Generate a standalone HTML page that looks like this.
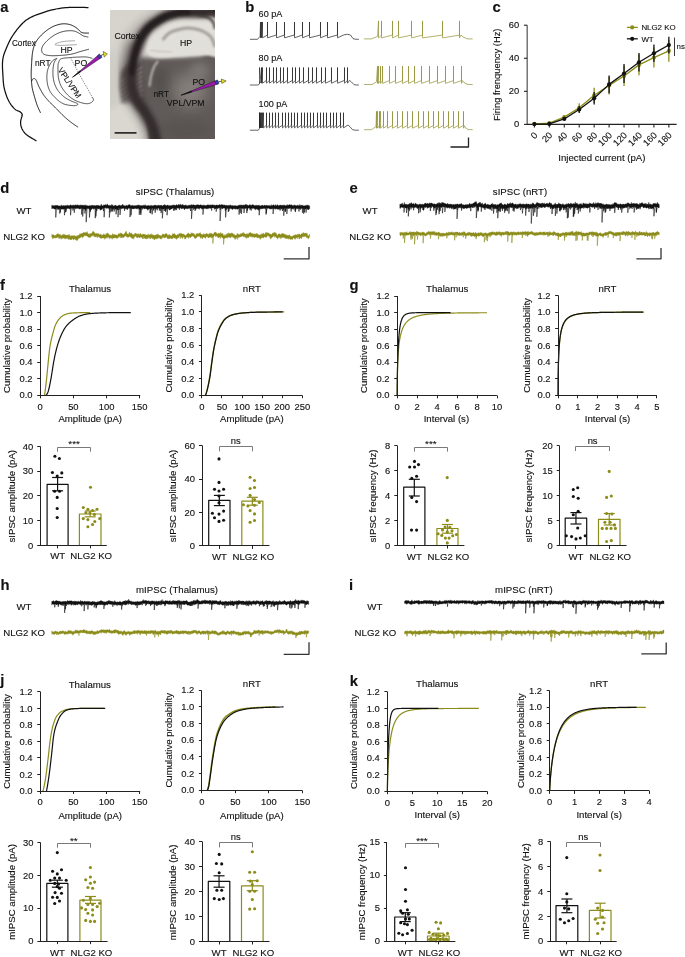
<!DOCTYPE html>
<html><head><meta charset="utf-8"><style>
html,body{margin:0;padding:0;background:#fff;}
body{width:685px;height:957px;overflow:hidden;}
svg{display:block;will-change:transform;}
svg text{font-family:"Liberation Sans", sans-serif;fill:#111;stroke:#111;stroke-width:0.12px;}
</style></head><body>
<svg width="685" height="957" viewBox="0 0 685 957">
<rect width="685" height="957" fill="#fff"/>
<text x="0.2" y="11.9" font-size="14.8" font-weight="bold" fill="#000">a</text>
<text x="245.3" y="11.9" font-size="14.8" font-weight="bold" fill="#000">b</text>
<text x="492.6" y="11.8" font-size="14.8" font-weight="bold" fill="#000">c</text>
<text x="0.3" y="192.9" font-size="14.8" font-weight="bold" fill="#000">d</text>
<text x="349.4" y="192.9" font-size="14.8" font-weight="bold" fill="#000">e</text>
<text x="0" y="290" font-size="14.8" font-weight="bold" fill="#000">f</text>
<text x="349.6" y="289.6" font-size="14.8" font-weight="bold" fill="#000">g</text>
<text x="0.5" y="590.4" font-size="14.8" font-weight="bold" fill="#000">h</text>
<text x="349" y="590.4" font-size="14.8" font-weight="bold" fill="#000">i</text>
<text x="0.2" y="685.2" font-size="14.8" font-weight="bold" fill="#000">j</text>
<text x="349.8" y="686" font-size="14.8" font-weight="bold" fill="#000">k</text>
<path d="M88.5 7.6 L87.85 7.58 L87.05 7.55 L86.11 7.52 L85.06 7.47 L83.91 7.43 L82.69 7.39 L81.41 7.35 L80.11 7.31 L78.8 7.29 L77.49 7.28 L76.22 7.28 L75 7.3 L73.81 7.33 L72.6 7.36 L71.38 7.39 L70.16 7.43 L68.92 7.47 L67.67 7.53 L66.41 7.6 L65.14 7.7 L63.87 7.81 L62.59 7.94 L61.3 8.11 L60 8.3 L58.7 8.52 L57.38 8.75 L56.06 9 L54.74 9.27 L53.4 9.56 L52.06 9.88 L50.7 10.21 L49.34 10.57 L47.97 10.96 L46.59 11.38 L45.2 11.82 L43.8 12.3 L42.37 12.79 L40.91 13.3 L39.42 13.82 L37.9 14.36 L36.38 14.92 L34.86 15.52 L33.35 16.15 L31.86 16.83 L30.4 17.56 L28.98 18.35 L27.61 19.19 L26.3 20.1 L25.03 21.09 L23.79 22.16 L22.57 23.3 L21.38 24.51 L20.22 25.76 L19.09 27.05 L18 28.37 L16.94 29.7 L15.92 31.05 L14.94 32.38 L14 33.7 L13.1 35 L12.24 36.3 L11.43 37.64 L10.65 39.01 L9.91 40.4 L9.21 41.79 L8.54 43.17 L7.92 44.55 L7.32 45.89 L6.76 47.2 L6.24 48.46 L5.75 49.67 L5.3 50.8 L4.89 51.85 L4.52 52.82 L4.2 53.72 L3.91 54.57 L3.66 55.39 L3.44 56.18 L3.25 56.97 L3.09 57.76 L2.94 58.57 L2.82 59.43 L2.7 60.33 L2.6 61.3 L2.52 62.33 L2.46 63.41 L2.44 64.52 L2.44 65.66 L2.46 66.82 L2.5 67.99 L2.55 69.18 L2.61 70.37 L2.68 71.55 L2.76 72.72 L2.83 73.87 L2.9 75 L2.96 76.11 L3.02 77.21 L3.08 78.31 L3.15 79.4 L3.22 80.49 L3.3 81.58 L3.4 82.65 L3.51 83.73 L3.64 84.8 L3.8 85.87 L3.98 86.94 L4.2 88 L4.45 89.07 L4.72 90.16 L5.02 91.26 L5.34 92.36 L5.69 93.45 L6.05 94.54 L6.43 95.61 L6.82 96.66 L7.23 97.67 L7.64 98.66 L8.07 99.6 L8.5 100.5 L8.95 101.36 L9.42 102.2 L9.91 103.02 L10.43 103.81 L10.95 104.57 L11.48 105.3 L12.02 106 L12.55 106.66 L13.08 107.28 L13.6 107.87 L14.11 108.41 L14.6 108.9 L15.08 109.33 L15.58 109.7 L16.07 110.01 L16.57 110.28 L17.06 110.5 L17.54 110.7 L18.01 110.88 L18.46 111.04 L18.89 111.21 L19.29 111.39 L19.66 111.58 L20 111.8 L20.31 112.03 L20.59 112.26 L20.85 112.48 L21.09 112.7 L21.3 112.92 L21.49 113.14 L21.67 113.37 L21.81 113.6 L21.94 113.83 L22.05 114.08 L22.14 114.33 L22.2 114.6 L22.23 114.88 L22.23 115.17 L22.19 115.47 L22.12 115.77 L22.03 116.08 L21.93 116.4 L21.82 116.72 L21.7 117.05 L21.58 117.38 L21.47 117.72 L21.38 118.06 L21.3 118.4 L21.23 118.74 L21.15 119.08 L21.06 119.43 L20.98 119.77 L20.89 120.12 L20.81 120.47 L20.74 120.84 L20.68 121.21 L20.63 121.59 L20.6 121.98 L20.59 122.38 L20.6 122.8 L20.63 123.23 L20.67 123.68 L20.71 124.15 L20.77 124.63 L20.84 125.11 L20.93 125.61 L21.04 126.11 L21.16 126.61 L21.31 127.11 L21.48 127.61 L21.68 128.11 L21.9 128.6 L22.14 129.09 L22.39 129.57 L22.65 130.05 L22.92 130.54 L23.22 131.02 L23.54 131.51 L23.9 131.99 L24.29 132.49 L24.72 132.98 L25.2 133.48 L25.72 133.99 L26.3 134.5 L26.98 135.04 L27.78 135.62 L28.68 136.24 L29.65 136.86 L30.66 137.49 L31.68 138.12 L32.68 138.72 L33.64 139.29 L34.53 139.82 L35.32 140.29 L35.99 140.68 L36.5 141" fill="none" stroke="#111" stroke-width="1.25" stroke-linejoin="round"/>
<path d="M89 33.1 L88.65 33.08 L88.19 33.08 L87.66 33.09 L87.06 33.09 L86.41 33.1 L85.73 33.09 L85.03 33.06 L84.33 33.02 L83.64 32.95 L82.97 32.84 L82.36 32.69 L81.8 32.5 L81.3 32.25 L80.82 31.95 L80.37 31.6 L79.94 31.21 L79.52 30.8 L79.11 30.37 L78.7 29.93 L78.29 29.49 L77.87 29.05 L77.44 28.64 L76.98 28.25 L76.5 27.9 L76 27.57 L75.49 27.24 L74.97 26.92 L74.44 26.61 L73.91 26.3 L73.36 26.01 L72.81 25.72 L72.24 25.46 L71.67 25.21 L71.09 24.98 L70.5 24.78 L69.9 24.6 L69.29 24.44 L68.67 24.29 L68.04 24.16 L67.41 24.05 L66.76 23.95 L66.11 23.88 L65.44 23.82 L64.77 23.79 L64.09 23.78 L63.4 23.79 L62.7 23.83 L62 23.9 L61.28 24 L60.54 24.12 L59.78 24.28 L59.01 24.46 L58.23 24.66 L57.45 24.88 L56.67 25.13 L55.89 25.39 L55.12 25.67 L54.36 25.97 L53.62 26.28 L52.9 26.6 L52.2 26.94 L51.5 27.31 L50.81 27.69 L50.13 28.1 L49.46 28.52 L48.79 28.96 L48.14 29.41 L47.49 29.87 L46.86 30.34 L46.23 30.82 L45.61 31.31 L45 31.8 L44.4 32.3 L43.79 32.82 L43.2 33.35 L42.6 33.9 L42.02 34.45 L41.45 35.01 L40.89 35.58 L40.35 36.15 L39.83 36.72 L39.33 37.28 L38.85 37.85 L38.4 38.4 L37.97 38.95 L37.57 39.48 L37.19 40.02 L36.83 40.55 L36.49 41.08 L36.16 41.62 L35.85 42.16 L35.56 42.7 L35.28 43.26 L35.01 43.82 L34.75 44.4 L34.5 45 L34.26 45.6 L34.04 46.21 L33.84 46.82 L33.65 47.44 L33.48 48.07 L33.31 48.71 L33.16 49.36 L33.01 50.03 L32.88 50.71 L32.75 51.42 L32.62 52.15 L32.5 52.9 L32.38 53.69 L32.28 54.51 L32.19 55.37 L32.1 56.26 L32.02 57.16 L31.95 58.07 L31.88 58.99 L31.82 59.9 L31.76 60.81 L31.71 61.7 L31.65 62.56 L31.6 63.4 L31.55 64.22 L31.5 65.03 L31.45 65.83 L31.41 66.63 L31.37 67.42 L31.33 68.19 L31.3 68.96 L31.27 69.71 L31.25 70.46 L31.23 71.19 L31.21 71.9 L31.2 72.6 L31.19 73.28 L31.19 73.93 L31.19 74.56 L31.2 75.17 L31.21 75.77 L31.22 76.36 L31.24 76.94 L31.26 77.53 L31.29 78.13 L31.32 78.74 L31.36 79.36 L31.4 80 L31.45 80.66 L31.49 81.33 L31.54 82 L31.6 82.68 L31.65 83.37 L31.72 84.06 L31.79 84.76 L31.87 85.46 L31.96 86.17 L32.06 86.88 L32.17 87.59 L32.3 88.3 L32.44 89.02 L32.6 89.74 L32.76 90.46 L32.94 91.2 L33.13 91.93 L33.33 92.67 L33.54 93.41 L33.74 94.15 L33.96 94.89 L34.17 95.63 L34.39 96.37 L34.6 97.1 L34.81 97.84 L35.03 98.59 L35.26 99.34 L35.48 100.1 L35.71 100.85 L35.94 101.61 L36.18 102.35 L36.42 103.09 L36.66 103.82 L36.9 104.53 L37.15 105.23 L37.4 105.9 L37.66 106.57 L37.95 107.26 L38.25 107.96 L38.56 108.66 L38.87 109.34 L39.17 110 L39.47 110.63 L39.76 111.22 L40.02 111.76 L40.25 112.25 L40.44 112.66 L40.6 113" fill="none" stroke="#111" stroke-width="1" stroke-linejoin="round"/>
<path d="M31.6 81.5 L31.65 81.38 L31.7 81.23 L31.76 81.05 L31.82 80.84 L31.9 80.62 L31.98 80.39 L32.06 80.15 L32.16 79.93 L32.26 79.71 L32.36 79.51 L32.48 79.34 L32.6 79.2 L32.73 79.08 L32.88 78.97 L33.04 78.87 L33.2 78.78 L33.38 78.7 L33.56 78.64 L33.74 78.59 L33.92 78.55 L34.1 78.53 L34.27 78.54 L34.44 78.56 L34.6 78.6 L34.75 78.66 L34.89 78.72 L35.02 78.79 L35.14 78.87 L35.27 78.97 L35.39 79.09 L35.52 79.24 L35.66 79.42 L35.8 79.63 L35.95 79.88 L36.12 80.17 L36.3 80.5 L36.49 80.89 L36.7 81.33 L36.91 81.81 L37.12 82.34 L37.35 82.9 L37.58 83.49 L37.82 84.09 L38.08 84.71 L38.34 85.34 L38.62 85.97 L38.9 86.59 L39.2 87.2 L39.51 87.81 L39.83 88.44 L40.17 89.08 L40.51 89.73 L40.87 90.39 L41.24 91.06 L41.61 91.72 L42 92.38 L42.39 93.03 L42.79 93.67 L43.19 94.29 L43.6 94.9 L44.02 95.49 L44.44 96.06 L44.87 96.63 L45.31 97.19 L45.76 97.73 L46.21 98.28 L46.67 98.81 L47.14 99.35 L47.62 99.88 L48.11 100.42 L48.6 100.96 L49.1 101.5 L49.61 102.04 L50.12 102.58 L50.65 103.1 L51.18 103.63 L51.72 104.15 L52.27 104.68 L52.82 105.21 L53.39 105.75 L53.95 106.29 L54.53 106.85 L55.11 107.42 L55.7 108 L56.3 108.6 L56.91 109.23 L57.53 109.87 L58.16 110.52 L58.79 111.18 L59.43 111.84 L60.08 112.51 L60.72 113.17 L61.37 113.82 L62.02 114.47 L62.66 115.09 L63.3 115.7 L63.94 116.29 L64.58 116.88 L65.23 117.47 L65.88 118.04 L66.53 118.61 L67.18 119.18 L67.83 119.73 L68.47 120.27 L69.11 120.8 L69.75 121.31 L70.38 121.81 L71 122.3 L71.64 122.78 L72.3 123.27 L72.98 123.76 L73.67 124.24 L74.36 124.71 L75.03 125.16 L75.68 125.59 L76.28 125.99 L76.84 126.36 L77.33 126.69 L77.76 126.97 L78.1 127.2" fill="none" stroke="#111" stroke-width="0.9" stroke-linejoin="round"/>
<path d="M88.3 37.1 L88.05 37.04 L87.74 36.98 L87.37 36.91 L86.96 36.84 L86.51 36.75 L86.03 36.66 L85.54 36.55 L85.03 36.43 L84.53 36.3 L84.03 36.15 L83.55 35.98 L83.1 35.8 L82.66 35.59 L82.22 35.35 L81.78 35.08 L81.34 34.79 L80.89 34.49 L80.45 34.17 L80.01 33.86 L79.56 33.56 L79.12 33.26 L78.68 32.98 L78.24 32.73 L77.8 32.5 L77.37 32.3 L76.96 32.1 L76.56 31.91 L76.16 31.74 L75.76 31.57 L75.36 31.42 L74.95 31.28 L74.53 31.15 L74.09 31.04 L73.62 30.94 L73.13 30.86 L72.6 30.8 L72.04 30.75 L71.44 30.72 L70.81 30.7 L70.17 30.7 L69.5 30.71 L68.82 30.73 L68.13 30.77 L67.43 30.83 L66.74 30.9 L66.05 30.98 L65.37 31.08 L64.7 31.2 L64.04 31.33 L63.38 31.47 L62.73 31.63 L62.07 31.8 L61.41 31.99 L60.75 32.19 L60.09 32.41 L59.43 32.65 L58.78 32.91 L58.12 33.18 L57.46 33.48 L56.8 33.8 L56.14 34.14 L55.46 34.51 L54.78 34.91 L54.09 35.32 L53.41 35.76 L52.72 36.21 L52.05 36.67 L51.39 37.14 L50.73 37.63 L50.1 38.12 L49.49 38.61 L48.9 39.1 L48.32 39.6 L47.75 40.13 L47.18 40.67 L46.61 41.22 L46.07 41.78 L45.54 42.35 L45.03 42.92 L44.55 43.48 L44.1 44.03 L43.69 44.57 L43.32 45.1 L43 45.6 L42.72 46.09 L42.47 46.57 L42.26 47.05 L42.08 47.52 L41.93 47.98 L41.82 48.44 L41.73 48.88 L41.67 49.31 L41.64 49.73 L41.64 50.13 L41.66 50.53 L41.7 50.9 L41.77 51.26 L41.85 51.61 L41.97 51.95 L42.11 52.28 L42.27 52.6 L42.47 52.9 L42.69 53.19 L42.95 53.46 L43.24 53.72 L43.56 53.96 L43.91 54.19 L44.3 54.4 L44.72 54.59 L45.18 54.76 L45.67 54.92 L46.19 55.06 L46.74 55.19 L47.32 55.3 L47.93 55.4 L48.58 55.48 L49.26 55.55 L49.97 55.61 L50.72 55.66 L51.5 55.7 L52.34 55.72 L53.24 55.73 L54.21 55.72 L55.22 55.7 L56.26 55.66 L57.32 55.61 L58.4 55.56 L59.46 55.49 L60.5 55.42 L61.52 55.35 L62.49 55.28 L63.4 55.2 L64.27 55.12 L65.11 55.04 L65.92 54.96 L66.72 54.87 L67.5 54.77 L68.26 54.67 L69 54.56 L69.74 54.44 L70.46 54.32 L71.18 54.19 L71.89 54.05 L72.6 53.9 L73.3 53.74 L73.97 53.56 L74.63 53.38 L75.27 53.18 L75.91 52.97 L76.54 52.76 L77.16 52.55 L77.79 52.33 L78.43 52.12 L79.07 51.91 L79.73 51.7 L80.4 51.5 L81.12 51.3 L81.89 51.08 L82.7 50.86 L83.53 50.64 L84.36 50.42 L85.19 50.2 L85.99 49.99 L86.74 49.79 L87.44 49.61 L88.06 49.45 L88.58 49.31 L89 49.2" fill="none" stroke="#111" stroke-width="0.8" stroke-linejoin="round"/>
<path d="M75 40.8 L74.56 40.82 L73.99 40.83 L73.33 40.85 L72.58 40.87 L71.77 40.9 L70.91 40.92 L70.04 40.96 L69.16 40.99 L68.29 41.03 L67.47 41.08 L66.69 41.14 L66 41.2 L65.36 41.27 L64.74 41.34 L64.13 41.43 L63.54 41.51 L62.97 41.6 L62.41 41.7 L61.87 41.8 L61.35 41.91 L60.84 42.03 L60.34 42.14 L59.87 42.27 L59.4 42.4 L58.93 42.54 L58.44 42.7 L57.94 42.87 L57.44 43.04 L56.97 43.23 L56.51 43.41 L56.1 43.6 L55.73 43.78 L55.43 43.95 L55.2 44.12 L55.05 44.27 L55 44.4 L55.05 44.52 L55.18 44.64 L55.38 44.75 L55.66 44.86 L56 44.95 L56.39 45.04 L56.82 45.13 L57.3 45.2 L57.8 45.26 L58.32 45.32 L58.86 45.37 L59.4 45.4 L59.97 45.42 L60.59 45.43 L61.25 45.42 L61.94 45.4 L62.67 45.38 L63.41 45.34 L64.18 45.31 L64.95 45.26 L65.72 45.22 L66.49 45.18 L67.26 45.14 L68 45.1 L68.76 45.06 L69.58 45.02 L70.43 44.98 L71.3 44.93 L72.18 44.88 L73.04 44.83 L73.87 44.78 L74.65 44.74 L75.37 44.69 L76.02 44.66 L76.56 44.62 L77 44.6" fill="none" stroke="#666" stroke-width="0.6" stroke-linejoin="round"/>
<path d="M56.8 58.3 L56.59 58.42 L56.32 58.55 L56 58.7 L55.64 58.86 L55.25 59.04 L54.84 59.24 L54.42 59.47 L53.99 59.72 L53.57 59.99 L53.16 60.3 L52.76 60.63 L52.4 61 L52.05 61.4 L51.69 61.85 L51.34 62.33 L50.98 62.84 L50.62 63.38 L50.27 63.94 L49.94 64.51 L49.61 65.1 L49.3 65.7 L49.01 66.3 L48.74 66.9 L48.5 67.5 L48.28 68.1 L48.07 68.7 L47.89 69.31 L47.71 69.94 L47.56 70.57 L47.42 71.21 L47.29 71.85 L47.19 72.51 L47.09 73.17 L47.01 73.84 L46.95 74.52 L46.9 75.2 L46.87 75.9 L46.85 76.62 L46.85 77.35 L46.86 78.1 L46.89 78.85 L46.93 79.61 L46.99 80.36 L47.06 81.11 L47.15 81.86 L47.25 82.59 L47.37 83.31 L47.5 84 L47.64 84.68 L47.8 85.35 L47.96 86.01 L48.14 86.66 L48.33 87.3 L48.54 87.94 L48.77 88.56 L49.01 89.19 L49.28 89.8 L49.56 90.41 L49.87 91.01 L50.2 91.6 L50.56 92.19 L50.94 92.78 L51.35 93.36 L51.79 93.93 L52.24 94.5 L52.71 95.06 L53.2 95.61 L53.69 96.16 L54.19 96.69 L54.69 97.2 L55.2 97.71 L55.7 98.2 L56.21 98.68 L56.72 99.16 L57.25 99.63 L57.79 100.1 L58.33 100.55 L58.88 100.99 L59.43 101.41 L59.99 101.81 L60.54 102.2 L61.1 102.56 L61.65 102.89 L62.2 103.2 L62.75 103.48 L63.29 103.73 L63.84 103.95 L64.39 104.15 L64.94 104.33 L65.49 104.49 L66.04 104.63 L66.6 104.76 L67.15 104.88 L67.7 104.99 L68.25 105.1 L68.8 105.2 L69.36 105.29 L69.95 105.38 L70.55 105.45 L71.16 105.51 L71.76 105.56 L72.36 105.6 L72.95 105.63 L73.51 105.64 L74.05 105.65 L74.54 105.64 L75 105.63 L75.4 105.6 L75.76 105.56 L76.09 105.49 L76.38 105.41 L76.65 105.32 L76.89 105.22 L77.09 105.11 L77.27 104.99 L77.43 104.87 L77.56 104.74 L77.66 104.62 L77.74 104.51 L77.8 104.4 L77.83 104.3 L77.85 104.2 L77.83 104.1 L77.8 104.01 L77.73 103.91 L77.64 103.81 L77.53 103.71 L77.38 103.6 L77.21 103.49 L77 103.37 L76.77 103.24 L76.5 103.1 L76.19 102.95 L75.84 102.8 L75.45 102.65 L75.02 102.49 L74.56 102.33 L74.08 102.16 L73.58 101.98 L73.07 101.79 L72.55 101.58 L72.03 101.37 L71.51 101.14 L71 100.9 L70.49 100.65 L69.96 100.39 L69.42 100.13 L68.88 99.86 L68.32 99.57 L67.76 99.28 L67.2 98.96 L66.63 98.63 L66.07 98.28 L65.51 97.91 L64.95 97.52 L64.4 97.1 L63.85 96.65 L63.28 96.19 L62.71 95.7 L62.13 95.19 L61.55 94.65 L60.98 94.11 L60.42 93.54 L59.87 92.96 L59.34 92.36 L58.83 91.75 L58.35 91.13 L57.9 90.5 L57.48 89.85 L57.07 89.19 L56.68 88.5 L56.3 87.8 L55.95 87.08 L55.61 86.36 L55.29 85.62 L55 84.87 L54.72 84.11 L54.46 83.34 L54.22 82.57 L54 81.8 L53.8 81.01 L53.63 80.21 L53.48 79.38 L53.34 78.55 L53.23 77.7 L53.14 76.86 L53.06 76.01 L53 75.16 L52.95 74.33 L52.92 73.5 L52.91 72.69 L52.9 71.9 L52.91 71.12 L52.94 70.32 L52.98 69.53 L53.04 68.74 L53.12 67.95 L53.21 67.18 L53.31 66.43 L53.43 65.7 L53.55 64.99 L53.69 64.32 L53.84 63.69 L54 63.1 L54.18 62.54 L54.4 62.01 L54.65 61.51 L54.91 61.03 L55.19 60.57 L55.47 60.15 L55.75 59.76 L56.01 59.4 L56.26 59.07 L56.48 58.78 L56.66 58.52 L56.8 58.3" fill="none" stroke="#111" stroke-width="0.75" stroke-linejoin="round"/>
<path d="M92.5 58.4 L92.21 58.33 L91.85 58.23 L91.44 58.11 L90.99 57.98 L90.48 57.84 L89.94 57.69 L89.37 57.55 L88.78 57.41 L88.17 57.28 L87.55 57.16 L86.92 57.07 L86.3 57 L85.66 56.95 L85 56.92 L84.3 56.91 L83.59 56.9 L82.86 56.91 L82.11 56.92 L81.36 56.95 L80.6 56.97 L79.84 57 L79.08 57.04 L78.34 57.07 L77.6 57.1 L76.87 57.13 L76.13 57.17 L75.38 57.2 L74.63 57.24 L73.88 57.29 L73.14 57.34 L72.39 57.39 L71.66 57.44 L70.92 57.5 L70.2 57.57 L69.5 57.63 L68.8 57.7 L68.1 57.77 L67.39 57.83 L66.67 57.89 L65.95 57.95 L65.24 58.02 L64.54 58.09 L63.87 58.17 L63.23 58.26 L62.62 58.37 L62.06 58.49 L61.55 58.63 L61.1 58.8 L60.71 58.99 L60.39 59.2 L60.11 59.42 L59.88 59.67 L59.68 59.92 L59.52 60.19 L59.38 60.48 L59.26 60.77 L59.14 61.07 L59.03 61.37 L58.92 61.68 L58.8 62 L58.68 62.3 L58.57 62.59 L58.47 62.86 L58.38 63.13 L58.3 63.41 L58.23 63.71 L58.17 64.04 L58.12 64.4 L58.08 64.81 L58.05 65.27 L58.02 65.8 L58 66.4 L57.98 67.09 L57.97 67.88 L57.96 68.74 L57.96 69.66 L57.97 70.63 L57.98 71.63 L58.01 72.65 L58.05 73.66 L58.11 74.66 L58.19 75.62 L58.28 76.54 L58.4 77.4 L58.54 78.21 L58.68 78.99 L58.85 79.76 L59.03 80.51 L59.22 81.24 L59.43 81.96 L59.66 82.66 L59.91 83.36 L60.17 84.05 L60.46 84.73 L60.77 85.42 L61.1 86.1 L61.46 86.78 L61.84 87.47 L62.25 88.15 L62.69 88.82 L63.14 89.49 L63.61 90.15 L64.09 90.8 L64.58 91.43 L65.08 92.05 L65.59 92.66 L66.09 93.24 L66.6 93.8 L67.11 94.34 L67.62 94.87 L68.15 95.38 L68.68 95.88 L69.22 96.36 L69.76 96.82 L70.32 97.28 L70.88 97.71 L71.45 98.13 L72.02 98.54 L72.61 98.93 L73.2 99.3 L73.81 99.66 L74.43 100 L75.08 100.33 L75.73 100.64 L76.39 100.94 L77.06 101.22 L77.72 101.49 L78.38 101.74 L79.03 101.98 L79.67 102.2 L80.3 102.41 L80.9 102.6 L81.49 102.78 L82.08 102.94 L82.66 103.09 L83.23 103.23 L83.8 103.35 L84.36 103.45 L84.9 103.54 L85.43 103.61 L85.95 103.66 L86.45 103.69 L86.94 103.71 L87.4 103.7 L87.85 103.67 L88.29 103.61 L88.71 103.54 L89.12 103.44 L89.52 103.32 L89.9 103.19 L90.26 103.04 L90.61 102.89 L90.94 102.72 L91.25 102.55 L91.53 102.38 L91.8 102.2 L92.05 102.01 L92.27 101.81 L92.49 101.59 L92.68 101.36 L92.85 101.12 L93.01 100.88 L93.14 100.64 L93.26 100.39 L93.35 100.15 L93.42 99.92 L93.47 99.7 L93.5 99.5 L93.49 99.3 L93.44 99.1 L93.36 98.9 L93.24 98.71 L93.11 98.52 L92.96 98.33 L92.8 98.16 L92.65 97.99 L92.5 97.84 L92.38 97.71 L92.27 97.59 L92.2 97.5" fill="none" stroke="#111" stroke-width="0.75" stroke-linejoin="round"/>
<path d="M71 58.5 L71.24 58.95 L71.53 59.5 L71.86 60.15 L72.24 60.87 L72.65 61.66 L73.09 62.5 L73.56 63.38 L74.04 64.3 L74.53 65.23 L75.02 66.16 L75.51 67.09 L76 68 L76.49 68.92 L77.01 69.88 L77.54 70.88 L78.09 71.91 L78.65 72.95 L79.22 74 L79.79 75.05 L80.35 76.09 L80.91 77.12 L81.46 78.12 L81.99 79.08 L82.5 80 L83 80.88 L83.48 81.74 L83.96 82.57 L84.43 83.38 L84.9 84.17 L85.36 84.95 L85.81 85.72 L86.26 86.48 L86.7 87.23 L87.14 87.99 L87.57 88.74 L88 89.5 L88.44 90.29 L88.9 91.11 L89.36 91.96 L89.83 92.81 L90.29 93.66 L90.74 94.49 L91.18 95.29 L91.58 96.04 L91.95 96.74 L92.29 97.35 L92.57 97.88 L92.8 98.3" fill="none" stroke="#222" stroke-width="0.7" stroke-linejoin="round" stroke-dasharray="0.9 1.1"/>
<text transform="translate(12 46.3) scale(0.98 1)" font-size="8.3">Cortex</text>
<text transform="translate(60.5 53.4) scale(1.05 1)" font-size="8.3">HP</text>
<text transform="translate(35 65.9)" font-size="8.3">nRT</text>
<text transform="translate(74.6 65.8) scale(1.05 1)" font-size="8.3">PO</text>
<text transform="translate(57.4 70) rotate(56) scale(0.97 1)" font-size="8.3">VPL/VPM</text>
<path d="M72.6 77.2 L99.75 58.81 L97.45 55.79 Z" fill="#9c1aae" stroke="#111" stroke-width="0.45" stroke-linejoin="round"/>
<path d="M72.6 77.2 L80.75 71.68 L80.05 70.78 Z" fill="#111" stroke="#111" stroke-width="0.4"/>
<rect x="98.31" y="54.35" width="2.8" height="4.2" rx="0.6" fill="#3a3ab4" stroke="#111" stroke-width="0.45" transform="rotate(-37.43 99.71 56.45)"/>
<line x1="100.82" y1="55.6" x2="103.7" y2="54.25" stroke="#111" stroke-width="0.7"/>
<path d="M103.2 51.4 L107.4 54 L104.2 57.1 Z" fill="#ece418" stroke="#111" stroke-width="0.45" stroke-linejoin="round"/>
<defs><clipPath id="phc"><rect x="109.9" y="9.9" width="105.1" height="129.1"/></clipPath><filter id="b1" x="-20%" y="-20%" width="140%" height="140%"><feGaussianBlur stdDeviation="1"/></filter><filter id="b2" x="-20%" y="-20%" width="140%" height="140%"><feGaussianBlur stdDeviation="2.2"/></filter><filter id="b4" x="-30%" y="-30%" width="160%" height="160%"><feGaussianBlur stdDeviation="4"/></filter><filter id="b7" x="-40%" y="-40%" width="180%" height="180%"><feGaussianBlur stdDeviation="7"/></filter></defs>
<g clip-path="url(#phc)">
<rect x="109.9" y="9.9" width="105.1" height="129.1" fill="#d7d4ce"/>
<path d="M173.6 16 L173.08 16.12 L172.42 16.25 L171.63 16.41 L170.76 16.59 L169.8 16.79 L168.8 17 L167.77 17.23 L166.73 17.46 L165.72 17.71 L164.74 17.97 L163.83 18.23 L163 18.5 L162.25 18.77 L161.53 19.05 L160.85 19.34 L160.2 19.63 L159.56 19.93 L158.93 20.25 L158.31 20.58 L157.68 20.93 L157.04 21.29 L156.39 21.67 L155.71 22.07 L155 22.5 L154.25 22.95 L153.47 23.43 L152.66 23.94 L151.83 24.46 L151 25.01 L150.16 25.56 L149.32 26.13 L148.5 26.7 L147.7 27.28 L146.93 27.86 L146.19 28.43 L145.5 29 L144.85 29.56 L144.23 30.11 L143.63 30.67 L143.06 31.22 L142.5 31.78 L141.97 32.34 L141.45 32.92 L140.94 33.5 L140.45 34.1 L139.96 34.71 L139.48 35.35 L139 36 L138.53 36.68 L138.06 37.37 L137.61 38.09 L137.17 38.81 L136.73 39.56 L136.31 40.31 L135.9 41.08 L135.5 41.85 L135.11 42.63 L134.73 43.42 L134.36 44.21 L134 45 L133.65 45.8 L133.32 46.6 L133 47.41 L132.69 48.22 L132.38 49.05 L132.09 49.88 L131.81 50.71 L131.54 51.56 L131.27 52.41 L131.01 53.26 L130.75 54.13 L130.5 55 L130.25 55.88 L130.01 56.76 L129.78 57.66 L129.56 58.56 L129.34 59.46 L129.12 60.38 L128.92 61.3 L128.72 62.22 L128.53 63.16 L128.35 64.1 L128.17 65.05 L128 66 L127.83 66.96 L127.67 67.94 L127.51 68.93 L127.35 69.93 L127.2 70.93 L127.06 71.94 L126.93 72.95 L126.81 73.96 L126.71 74.98 L126.62 75.99 L126.55 77 L126.5 78 L126.47 79.04 L126.47 80.14 L126.5 81.28 L126.54 82.44 L126.59 83.61 L126.66 84.75 L126.73 85.85 L126.8 86.89 L126.86 87.84 L126.92 88.69 L126.97 89.42 L127 90" fill="none" stroke="#8f8785" stroke-width="20" opacity="0.5" filter="url(#b4)"/>
<path d="M140 57 L140.78 57.06 L141.76 57.15 L142.92 57.25 L144.22 57.37 L145.63 57.5 L147.12 57.62 L148.66 57.75 L150.22 57.87 L151.77 57.98 L153.26 58.08 L154.69 58.15 L156 58.2 L157.23 58.22 L158.44 58.23 L159.62 58.22 L160.78 58.19 L161.92 58.16 L163.06 58.11 L164.2 58.06 L165.33 58.01 L166.48 57.95 L167.63 57.9 L168.8 57.85 L170 57.8 L171.21 57.76 L172.44 57.72 L173.68 57.67 L174.93 57.63 L176.18 57.58 L177.44 57.54 L178.7 57.49 L179.96 57.44 L181.23 57.38 L182.49 57.33 L183.75 57.26 L185 57.2 L186.23 57.13 L187.42 57.05 L188.59 56.96 L189.74 56.87 L190.9 56.77 L192.06 56.68 L193.25 56.58 L194.48 56.49 L195.76 56.4 L197.09 56.33 L198.5 56.26 L200 56.2 L201.66 55.87 L203.52 55.08 L205.52 53.98 L207.63 52.73 L209.78 51.49 L211.94 50.41 L214.04 49.65 L216.04 49.36 L217.88 49.69 L219.53 50.8 L220.91 52.86 L222 56 L223 60.63 L224.11 66.82 L225.23 74.27 L226.3 82.65 L227.21 91.66 L227.88 100.99 L228.22 110.31 L228.15 119.33 L227.58 127.71 L226.42 135.16 L224.59 141.36 L222 146 L218.31 149.23 L213.4 151.51 L207.52 152.94 L200.89 153.63 L193.76 153.7 L186.38 153.25 L178.97 152.4 L171.78 151.26 L165.05 149.94 L159.01 148.55 L153.92 147.2 L150 146 L147.2 144.74 L145.2 143.16 L143.91 141.3 L143.19 139.22 L142.92 136.96 L143 134.56 L143.3 132.08 L143.7 129.56 L144.09 127.04 L144.35 124.58 L144.36 122.21 L144 120 L143.38 117.88 L142.7 115.78 L141.98 113.68 L141.22 111.59 L140.45 109.51 L139.69 107.44 L138.94 105.37 L138.22 103.3 L137.55 101.23 L136.95 99.16 L136.43 97.08 L136 95 L135.67 92.84 L135.42 90.54 L135.23 88.16 L135.11 85.74 L135.04 83.32 L135 80.94 L134.99 78.64 L135 76.48 L135.02 74.49 L135.03 72.72 L135.03 71.21 L135 70 Z" fill="#605a58" filter="url(#b2)"/>
<ellipse cx="190" cy="90" rx="17" ry="17" fill="#948e8a" opacity="0.7" filter="url(#b7)"/>
<ellipse cx="200" cy="70" rx="10" ry="8" fill="#8c8683" opacity="0.6" filter="url(#b4)"/>
<ellipse cx="185" cy="130" rx="26" ry="10" fill="#575150" opacity="0.7" filter="url(#b4)"/>
<ellipse cx="160" cy="80" rx="7" ry="14" fill="#4e4847" opacity="0.6" filter="url(#b4)"/>
<path d="M121 72 L121.34 71.59 L121.75 71.06 L122.23 70.42 L122.78 69.7 L123.37 68.93 L124 68.12 L124.66 67.31 L125.33 66.52 L126.02 65.77 L126.69 65.08 L127.36 64.48 L128 64 L128.63 63.59 L129.29 63.2 L129.95 62.84 L130.63 62.52 L131.31 62.23 L132 62 L132.69 61.82 L133.37 61.7 L134.05 61.66 L134.71 61.69 L135.37 61.8 L136 62 L136.63 62.28 L137.27 62.62 L137.91 63.02 L138.56 63.48 L139.19 64.02 L139.81 64.62 L140.42 65.31 L141 66.07 L141.55 66.92 L142.08 67.86 L142.56 68.88 L143 70 L143.4 71.25 L143.75 72.66 L144.08 74.2 L144.37 75.85 L144.63 77.58 L144.88 79.38 L145.09 81.2 L145.3 83.04 L145.48 84.86 L145.66 86.64 L145.83 88.37 L146 90 L146.16 91.59 L146.31 93.19 L146.44 94.78 L146.56 96.37 L146.66 97.95 L146.75 99.5 L146.83 101.03 L146.89 102.52 L146.94 103.97 L146.97 105.37 L146.99 106.72 L147 108 L147 109.29 L147.01 110.62 L147.01 111.98 L147 113.33 L146.98 114.64 L146.94 115.88 L146.87 117.01 L146.78 118 L146.65 118.83 L146.48 119.46 L146.26 119.86 L146 120 L145.68 119.82 L145.32 119.33 L144.92 118.57 L144.48 117.59 L144.01 116.45 L143.5 115.19 L142.97 113.86 L142.41 112.52 L141.83 111.21 L141.23 109.99 L140.62 108.9 L140 108 L139.36 107.21 L138.67 106.44 L137.96 105.69 L137.22 104.96 L136.46 104.27 L135.69 103.62 L134.9 103.03 L134.11 102.48 L133.32 102 L132.53 101.59 L131.76 101.25 L131 101 L130.23 100.91 L129.43 101.01 L128.61 101.27 L127.78 101.63 L126.95 102.06 L126.12 102.5 L125.32 102.92 L124.56 103.26 L123.83 103.48 L123.15 103.55 L122.54 103.4 L122 103 L121.53 102.3 L121.12 101.31 L120.76 100.09 L120.44 98.7 L120.17 97.2 L119.94 95.62 L119.73 94.05 L119.56 92.52 L119.4 91.09 L119.26 89.83 L119.13 88.78 L119 88 Z" fill="#5a5351" filter="url(#b2)"/>
<path d="M142 67 Q131 73 121 82" stroke="#b3ada9" stroke-width="1.3" fill="none" opacity="0.65" filter="url(#b1)"/>
<path d="M142 71.6 Q131 77.6 121 86.6" stroke="#b3ada9" stroke-width="1.3" fill="none" opacity="0.65" filter="url(#b1)"/>
<path d="M142 76.2 Q131 82.2 121 91.2" stroke="#b3ada9" stroke-width="1.3" fill="none" opacity="0.65" filter="url(#b1)"/>
<path d="M142 80.8 Q131 86.8 121 95.8" stroke="#b3ada9" stroke-width="1.3" fill="none" opacity="0.65" filter="url(#b1)"/>
<path d="M142 85.4 Q131 91.4 121 100.4" stroke="#b3ada9" stroke-width="1.3" fill="none" opacity="0.65" filter="url(#b1)"/>
<path d="M142 90 Q131 96 121 105" stroke="#b3ada9" stroke-width="1.3" fill="none" opacity="0.65" filter="url(#b1)"/>
<path d="M142 94.6 Q131 100.6 121 109.6" stroke="#b3ada9" stroke-width="1.3" fill="none" opacity="0.65" filter="url(#b1)"/>
<path d="M104 106 L104.64 105.93 L105.45 105.83 L106.41 105.71 L107.49 105.58 L108.66 105.44 L109.89 105.29 L111.16 105.15 L112.42 105.02 L113.65 104.9 L114.83 104.8 L115.92 104.74 L116.9 104.7 L117.78 104.69 L118.62 104.7 L119.41 104.73 L120.17 104.77 L120.9 104.83 L121.61 104.9 L122.3 104.99 L122.99 105.09 L123.68 105.2 L124.37 105.32 L125.07 105.45 L125.8 105.6 L126.54 105.75 L127.27 105.89 L128 106.05 L128.74 106.2 L129.47 106.37 L130.2 106.56 L130.93 106.77 L131.66 107.01 L132.4 107.27 L133.13 107.57 L133.86 107.92 L134.6 108.3 L135.36 108.73 L136.14 109.21 L136.94 109.72 L137.76 110.27 L138.57 110.86 L139.38 111.46 L140.17 112.09 L140.93 112.74 L141.65 113.4 L142.33 114.06 L142.95 114.73 L143.5 115.4 L143.99 116.06 L144.41 116.72 L144.79 117.37 L145.13 118.04 L145.42 118.71 L145.69 119.41 L145.93 120.12 L146.15 120.87 L146.36 121.66 L146.57 122.49 L146.78 123.37 L147 124.3 L147.22 125.32 L147.43 126.44 L147.63 127.63 L147.82 128.89 L148 130.18 L148.16 131.49 L148.32 132.79 L148.46 134.07 L148.59 135.3 L148.71 136.46 L148.81 137.53 L148.9 138.5 L149.11 139.38 L149.54 140.22 L150.11 141.02 L150.74 141.77 L151.35 142.48 L151.88 143.14 L152.25 143.75 L152.37 144.3 L152.19 144.81 L151.61 145.26 L150.58 145.66 L149 146 L146.69 146.26 L143.59 146.43 L139.87 146.53 L135.67 146.56 L131.17 146.53 L126.51 146.47 L121.84 146.38 L117.34 146.28 L113.14 146.18 L109.42 146.09 L106.32 146.02 L104 146 Z" fill="#dad7d1" filter="url(#b1)"/>
<path d="M104 50 L104.5 50.01 L105.16 49.92 L105.94 49.75 L106.81 49.56 L107.76 49.38 L108.75 49.25 L109.75 49.22 L110.74 49.33 L111.69 49.62 L112.56 50.14 L113.34 50.92 L114 52 L114.56 53.43 L115.06 55.19 L115.52 57.22 L115.93 59.48 L116.29 61.92 L116.62 64.5 L116.92 67.16 L117.19 69.85 L117.42 72.53 L117.63 75.15 L117.83 77.65 L118 80 L118.18 82.31 L118.39 84.7 L118.61 87.16 L118.81 89.63 L118.99 92.09 L119.12 94.5 L119.2 96.83 L119.19 99.04 L119.08 101.09 L118.86 102.96 L118.5 104.61 L118 106 L117.28 107.12 L116.31 107.99 L115.16 108.64 L113.85 109.11 L112.45 109.43 L111 109.62 L109.55 109.73 L108.15 109.78 L106.84 109.8 L105.69 109.82 L104.72 109.88 L104 110 Z" fill="#cfccc6" opacity="0.85" filter="url(#b2)"/>
<path d="M148 38 L148.27 37.5 L148.58 36.85 L148.93 36.09 L149.32 35.24 L149.76 34.31 L150.23 33.34 L150.75 32.34 L151.31 31.34 L151.92 30.36 L152.57 29.43 L153.26 28.57 L154 27.8 L154.79 27.09 L155.63 26.4 L156.51 25.72 L157.44 25.07 L158.42 24.44 L159.43 23.83 L160.49 23.25 L161.58 22.7 L162.71 22.17 L163.88 21.68 L165.07 21.22 L166.3 20.8 L167.57 20.41 L168.9 20.04 L170.27 19.71 L171.69 19.4 L173.14 19.12 L174.62 18.88 L176.12 18.66 L177.65 18.48 L179.18 18.33 L180.72 18.22 L182.27 18.14 L183.8 18.1 L185.36 18.1 L186.98 18.14 L188.65 18.22 L190.34 18.34 L192.04 18.49 L193.74 18.68 L195.42 18.89 L197.07 19.13 L198.67 19.39 L200.2 19.67 L201.65 19.98 L203 20.3 L204.27 20.66 L205.47 21.07 L206.62 21.52 L207.72 22 L208.76 22.51 L209.76 23.04 L210.72 23.57 L211.64 24.1 L212.52 24.61 L213.37 25.11 L214.2 25.57 L215 26 L215.78 26.32 L216.54 26.52 L217.27 26.62 L217.96 26.66 L218.63 26.7 L219.25 26.76 L219.83 26.9 L220.37 27.14 L220.86 27.53 L221.3 28.11 L221.68 28.92 L222 30 L222.3 31.45 L222.6 33.3 L222.89 35.47 L223.15 37.86 L223.36 40.41 L223.5 43.02 L223.56 45.62 L223.52 48.11 L223.36 50.44 L223.06 52.49 L222.62 54.21 L222 55.5 L221.17 56.37 L220.13 56.93 L218.9 57.21 L217.52 57.27 L216.02 57.15 L214.44 56.89 L212.8 56.55 L211.15 56.17 L209.51 55.8 L207.91 55.48 L206.4 55.27 L205 55.2 L203.68 55.23 L202.38 55.27 L201.11 55.32 L199.85 55.38 L198.61 55.45 L197.38 55.52 L196.15 55.6 L194.93 55.68 L193.7 55.76 L192.48 55.84 L191.24 55.92 L190 56 L188.75 56.08 L187.5 56.16 L186.25 56.24 L185 56.33 L183.75 56.41 L182.5 56.5 L181.25 56.59 L180 56.67 L178.75 56.76 L177.5 56.84 L176.25 56.92 L175 57 L173.73 57.08 L172.44 57.18 L171.12 57.28 L169.8 57.39 L168.47 57.49 L167.16 57.59 L165.86 57.68 L164.59 57.75 L163.36 57.8 L162.18 57.83 L161.06 57.83 L160 57.8 L159 57.74 L158.04 57.67 L157.12 57.57 L156.23 57.46 L155.39 57.33 L154.58 57.18 L153.81 57.01 L153.08 56.81 L152.38 56.6 L151.72 56.36 L151.09 56.09 L150.5 55.8 L149.95 55.46 L149.43 55.05 L148.96 54.58 L148.52 54.08 L148.12 53.56 L147.76 53.02 L147.42 52.5 L147.12 52 L146.85 51.53 L146.61 51.11 L146.39 50.77 L146.2 50.5 Z" fill="#e1dfd9" filter="url(#b1)"/>
<path d="M162.6 40.1 L162.86 39.8 L163.17 39.41 L163.53 38.94 L163.94 38.42 L164.38 37.86 L164.86 37.27 L165.36 36.67 L165.87 36.07 L166.4 35.49 L166.94 34.94 L167.47 34.44 L168 34 L168.51 33.61 L169.02 33.25 L169.52 32.92 L170.03 32.6 L170.55 32.3 L171.09 32.02 L171.65 31.75 L172.25 31.49 L172.88 31.24 L173.57 30.99 L174.3 30.74 L175.1 30.5 L175.97 30.25 L176.9 29.98 L177.89 29.71 L178.93 29.44 L180.01 29.18 L181.12 28.93 L182.26 28.7 L183.4 28.5 L184.55 28.34 L185.68 28.21 L186.8 28.13 L187.9 28.1 L188.99 28.12 L190.1 28.18 L191.23 28.27 L192.37 28.4 L193.5 28.56 L194.64 28.75 L195.76 28.97 L196.87 29.23 L197.95 29.51 L199 29.81 L200.02 30.14 L201 30.5 L201.95 30.88 L202.89 31.29 L203.81 31.73 L204.72 32.2 L205.6 32.7 L206.46 33.22 L207.28 33.77 L208.07 34.34 L208.82 34.95 L209.53 35.57 L210.19 36.22 L210.8 36.9 L211.36 37.64 L211.87 38.49 L212.34 39.4 L212.77 40.37 L213.16 41.36 L213.51 42.35 L213.83 43.32 L214.12 44.24 L214.38 45.1 L214.61 45.86 L214.81 46.5 L215 47" fill="none" stroke="#a39e9a" stroke-width="3.0" filter="url(#b1)"/>
<path d="M150 50 L150.48 50.07 L151.06 50.17 L151.75 50.28 L152.52 50.41 L153.36 50.54 L154.25 50.69 L155.19 50.83 L156.15 50.98 L157.12 51.12 L158.1 51.26 L159.06 51.39 L160 51.5 L160.97 51.6 L162.02 51.71 L163.14 51.81 L164.3 51.91 L165.47 52 L166.62 52.09 L167.75 52.18 L168.81 52.26 L169.8 52.33 L170.67 52.4 L171.41 52.45 L172 52.5" fill="none" stroke="#c4c0bb" stroke-width="1.3" filter="url(#b1)"/>
<path d="M158 61 L157.8 61.28 L157.55 61.63 L157.25 62.03 L156.91 62.48 L156.55 62.97 L156.16 63.5 L155.77 64.05 L155.38 64.63 L155 65.22 L154.63 65.81 L154.3 66.41 L154 67 L153.73 67.6 L153.47 68.24 L153.22 68.91 L152.98 69.59 L152.75 70.29 L152.53 71 L152.31 71.71 L152.11 72.41 L151.92 73.09 L151.74 73.76 L151.56 74.4 L151.4 75 L151.25 75.57 L151.11 76.12 L150.99 76.65 L150.88 77.17 L150.78 77.67 L150.68 78.16 L150.59 78.64 L150.51 79.11 L150.43 79.58 L150.35 80.05 L150.28 80.52 L150.2 81 L150.12 81.49 L150.05 82.01 L149.97 82.54 L149.9 83.07 L149.84 83.61 L149.77 84.12 L149.72 84.62 L149.66 85.09 L149.61 85.52 L149.57 85.91 L149.53 86.24 L149.5 86.5" fill="none" stroke="#c8c3bf" stroke-width="1.8" filter="url(#b1)"/>
<path d="M226 11 L225.31 11.02 L224.42 11.05 L223.37 11.08 L222.19 11.11 L220.91 11.15 L219.56 11.19 L218.19 11.23 L216.81 11.28 L215.48 11.33 L214.21 11.38 L213.04 11.44 L212 11.5 L211.09 11.57 L210.26 11.65 L209.49 11.74 L208.78 11.83 L208.1 11.93 L207.44 12.03 L206.78 12.13 L206.11 12.22 L205.41 12.31 L204.67 12.39 L203.87 12.45 L203 12.5 L202.05 12.53 L201.05 12.55 L199.99 12.56 L198.9 12.56 L197.79 12.55 L196.65 12.53 L195.51 12.52 L194.36 12.5 L193.23 12.49 L192.12 12.48 L191.04 12.49 L190 12.5 L188.99 12.52 L188 12.53 L187.02 12.54 L186.05 12.56 L185.1 12.57 L184.15 12.59 L183.21 12.62 L182.28 12.67 L181.36 12.72 L180.44 12.8 L179.52 12.89 L178.6 13 L177.68 13.13 L176.76 13.28 L175.83 13.45 L174.91 13.63 L173.99 13.82 L173.09 14.03 L172.19 14.25 L171.31 14.48 L170.45 14.72 L169.61 14.97 L168.79 15.23 L168 15.5 L167.25 15.77 L166.53 16.05 L165.85 16.34 L165.2 16.63 L164.56 16.93 L163.93 17.25 L163.31 17.58 L162.68 17.93 L162.04 18.29 L161.39 18.67 L160.71 19.07 L160 19.5 L159.25 19.95 L158.47 20.43 L157.66 20.94 L156.83 21.46 L156 22.01 L155.16 22.56 L154.32 23.13 L153.5 23.7 L152.7 24.28 L151.93 24.86 L151.19 25.43 L150.5 26 L149.85 26.56 L149.23 27.11 L148.63 27.67 L148.06 28.22 L147.5 28.78 L146.97 29.34 L146.45 29.92 L145.94 30.5 L145.45 31.1 L144.96 31.71 L144.48 32.35 L144 33 L143.53 33.68 L143.06 34.37 L142.61 35.09 L142.17 35.81 L141.73 36.56 L141.31 37.31 L140.9 38.08 L140.5 38.85 L140.11 39.63 L139.73 40.42 L139.36 41.21 L139 42 L138.65 42.8 L138.32 43.6 L138 44.41 L137.69 45.22 L137.38 46.05 L137.09 46.88 L136.81 47.71 L136.54 48.56 L136.27 49.41 L136.01 50.26 L135.75 51.13 L135.5 52 L135.25 52.88 L135.01 53.76 L134.78 54.66 L134.56 55.56 L134.34 56.46 L134.12 57.38 L133.92 58.3 L133.72 59.22 L133.53 60.16 L133.35 61.1 L133.17 62.05 L133 63 L132.83 63.96 L132.67 64.94 L132.51 65.93 L132.35 66.93 L132.2 67.93 L132.06 68.94 L131.93 69.95 L131.81 70.96 L131.71 71.98 L131.62 72.99 L131.55 74 L131.5 75 L131.46 76 L131.43 76.99 L131.4 77.99 L131.39 78.98 L131.39 79.97 L131.41 80.96 L131.44 81.96 L131.5 82.96 L131.58 83.96 L131.69 84.97 L131.83 85.98 L132 87 L132.19 88.03 L132.41 89.06 L132.64 90.09 L132.89 91.13 L133.17 92.17 L133.47 93.21 L133.8 94.26 L134.17 95.32 L134.57 96.38 L135 97.45 L135.48 98.52 L136 99.6 L136.58 100.69 L137.23 101.77 L137.93 102.87 L138.69 103.97 L139.47 105.07 L140.28 106.18 L141.1 107.3 L141.93 108.42 L142.74 109.55 L143.53 110.69 L144.29 111.84 L145 113 L145.69 114.16 L146.37 115.32 L147.05 116.48 L147.72 117.64 L148.38 118.81 L149.03 119.99 L149.66 121.19 L150.28 122.4 L150.87 123.64 L151.44 124.9 L151.98 126.18 L152.5 127.5 L152.99 128.91 L153.48 130.45 L153.94 132.07 L154.39 133.76 L154.82 135.47 L155.22 137.16 L155.6 138.8 L155.94 140.35 L156.26 141.79 L156.55 143.06 L156.79 144.14 L157 145" fill="none" stroke="#322c2c" stroke-width="10.5" filter="url(#b2)"/>
<path d="M134 42 L133.83 42.48 L133.61 43.08 L133.35 43.77 L133.06 44.56 L132.74 45.41 L132.41 46.31 L132.06 47.26 L131.72 48.22 L131.39 49.2 L131.07 50.16 L130.77 51.1 L130.5 52 L130.25 52.88 L130.01 53.76 L129.78 54.66 L129.56 55.56 L129.34 56.46 L129.12 57.38 L128.92 58.3 L128.72 59.22 L128.53 60.16 L128.35 61.1 L128.17 62.05 L128 63 L127.83 63.96 L127.67 64.94 L127.51 65.93 L127.35 66.93 L127.2 67.93 L127.06 68.94 L126.93 69.95 L126.81 70.96 L126.71 71.98 L126.62 72.99 L126.55 74 L126.5 75 L126.46 76 L126.43 76.99 L126.4 77.99 L126.39 78.98 L126.39 79.97 L126.41 80.96 L126.44 81.96 L126.5 82.96 L126.58 83.96 L126.69 84.97 L126.83 85.98 L127 87 L127.19 88.03 L127.41 89.06 L127.64 90.09 L127.89 91.13 L128.17 92.17 L128.47 93.21 L128.8 94.26 L129.17 95.32 L129.57 96.38 L130 97.45 L130.48 98.52 L131 99.6 L131.58 100.69 L132.23 101.77 L132.93 102.87 L133.69 103.97 L134.47 105.07 L135.28 106.18 L136.1 107.3 L136.93 108.42 L137.74 109.55 L138.53 110.69 L139.29 111.84 L140 113 L140.69 114.16 L141.37 115.32 L142.05 116.48 L142.72 117.64 L143.38 118.81 L144.03 119.99 L144.66 121.19 L145.28 122.4 L145.87 123.64 L146.44 124.9 L146.98 126.18 L147.5 127.5 L147.99 128.91 L148.48 130.45 L148.94 132.07 L149.39 133.76 L149.82 135.47 L150.22 137.16 L150.6 138.8 L150.94 140.35 L151.26 141.79 L151.55 143.06 L151.79 144.14 L152 145" fill="none" stroke="#3c3636" stroke-width="8" opacity="0.6" filter="url(#b4)"/>
<path d="M190 12.5 L189.45 12.52 L188.75 12.53 L187.93 12.54 L187.01 12.56 L186.02 12.57 L184.96 12.59 L183.87 12.62 L182.76 12.67 L181.66 12.72 L180.59 12.8 L179.56 12.89 L178.6 13 L177.68 13.13 L176.76 13.28 L175.83 13.45 L174.91 13.63 L173.99 13.82 L173.09 14.03 L172.19 14.25 L171.31 14.48 L170.45 14.72 L169.61 14.97 L168.79 15.23 L168 15.5 L167.25 15.77 L166.53 16.05 L165.85 16.34 L165.2 16.63 L164.56 16.93 L163.93 17.25 L163.31 17.58 L162.68 17.93 L162.04 18.29 L161.39 18.67 L160.71 19.07 L160 19.5 L159.25 19.95 L158.47 20.43 L157.66 20.94 L156.83 21.46 L156 22.01 L155.16 22.56 L154.32 23.13 L153.5 23.7 L152.7 24.28 L151.93 24.86 L151.19 25.43 L150.5 26 L149.85 26.56 L149.23 27.11 L148.63 27.67 L148.06 28.22 L147.5 28.78 L146.97 29.34 L146.45 29.92 L145.94 30.5 L145.45 31.1 L144.96 31.71 L144.48 32.35 L144 33 L143.53 33.68 L143.06 34.37 L142.61 35.09 L142.17 35.81 L141.73 36.56 L141.31 37.31 L140.9 38.08 L140.5 38.85 L140.11 39.63 L139.73 40.42 L139.36 41.21 L139 42 L138.65 42.8 L138.32 43.6 L138 44.41 L137.69 45.22 L137.38 46.05 L137.09 46.88 L136.81 47.71 L136.54 48.56 L136.27 49.41 L136.01 50.26 L135.75 51.13 L135.5 52 L135.25 52.88 L135.01 53.76 L134.78 54.66 L134.56 55.56 L134.34 56.46 L134.12 57.38 L133.92 58.3 L133.72 59.22 L133.53 60.16 L133.35 61.1 L133.17 62.05 L133 63 L132.84 64 L132.67 65.08 L132.52 66.21 L132.37 67.37 L132.23 68.54 L132.09 69.69 L131.97 70.8 L131.85 71.85 L131.75 72.82 L131.65 73.68 L131.57 74.42 L131.5 75" fill="none" stroke="#231e1e" stroke-width="5" opacity="0.85" filter="url(#b1)"/>
<path d="M198 15 L198.44 15.09 L199.01 15.18 L199.69 15.29 L200.44 15.41 L201.26 15.54 L202.12 15.69 L203.01 15.85 L203.89 16.04 L204.75 16.24 L205.57 16.47 L206.33 16.72 L207 17 L207.62 17.31 L208.22 17.64 L208.8 17.99 L209.37 18.37 L209.92 18.77 L210.44 19.19 L210.94 19.62 L211.41 20.07 L211.85 20.54 L212.27 21.02 L212.65 21.5 L213 22 L213.31 22.54 L213.59 23.13 L213.83 23.77 L214.04 24.44 L214.22 25.13 L214.38 25.81 L214.51 26.48 L214.63 27.11 L214.73 27.7 L214.83 28.22 L214.92 28.66 L215 29" fill="none" stroke="#3a3434" stroke-width="2.4" opacity="0.85" filter="url(#b1)"/>
<path d="M205 12 L205.35 12.07 L205.8 12.14 L206.33 12.22 L206.93 12.31 L207.57 12.42 L208.25 12.53 L208.94 12.66 L209.63 12.8 L210.3 12.95 L210.93 13.12 L211.5 13.3 L212 13.5 L212.45 13.73 L212.89 14.01 L213.3 14.32 L213.7 14.65 L214.08 14.99 L214.44 15.34 L214.77 15.69 L215.07 16.02 L215.35 16.32 L215.6 16.6 L215.82 16.82 L216 17" fill="none" stroke="#3a3434" stroke-width="2.0" opacity="0.8" filter="url(#b1)"/>
</g>
<text transform="translate(114.4 39) scale(1.05 1)" font-size="8.3">Cortex</text>
<text transform="translate(180 46) scale(1.05 1)" font-size="8.3">HP</text>
<text transform="translate(192.4 84.6) scale(1.05 1)" font-size="8.3">PO</text>
<text transform="translate(153.5 97.4)" font-size="8.3">nRT</text>
<text transform="translate(166.8 105.6) scale(1.05 1)" font-size="8.3">VPL/VPM</text>
<line x1="114.6" y1="132.9" x2="136.5" y2="132.9" stroke="#111" stroke-width="1.5"/>
<path d="M181.2 95.2 L216.24 84.59 L214.96 81.01 Z" fill="#9c1aae" stroke="#111" stroke-width="0.45" stroke-linejoin="round"/>
<path d="M181.2 95.2 L191.71 92.02 L191.33 90.94 Z" fill="#111" stroke="#111" stroke-width="0.4"/>
<rect x="215.52" y="80.23" width="2.8" height="4.2" rx="0.6" fill="#3a3ab4" stroke="#111" stroke-width="0.45" transform="rotate(-19.82 216.92 82.33)"/>
<line x1="218.23" y1="81.85" x2="221.6" y2="81.25" stroke="#111" stroke-width="0.7"/>
<path d="M221.4 79 L226.2 81 L221.8 83.5 Z" fill="#ece418" stroke="#111" stroke-width="0.45" stroke-linejoin="round"/>
<text transform="translate(258.6 16.6) scale(1.07 1)" font-size="8.5">60 pA</text>
<text transform="translate(258.6 60.9) scale(1.07 1)" font-size="8.5">80 pA</text>
<text transform="translate(258.6 106.9) scale(1.07 1)" font-size="8.5">100 pA</text>
<path d="M249.9 39.3 L257.6 39.3 L260.1 36.2 L260.5 22 L260.52 37.8 L261.5 22 L261.52 37.8 L262.5 22 L262.52 37.8 L267.48 35 L267.5 22 L267.52 37.8 L276.48 35 L276.5 22 L276.52 37.8 L284.48 35 L284.5 22 L284.52 37.8 L294.48 35 L294.5 22 L294.52 37.8 L302.48 35 L302.5 22 L302.52 37.8 L309.48 35 L309.5 22 L309.52 37.8 L320.48 35 L320.5 22 L320.52 37.8 L327.48 35 L327.5 22 L327.52 37.8 L337.48 35 L337.5 22 L337.52 37.8 L344 34.8 L347.5 34.3 L350.5 35 L353 38.6 L355 39.2 L358.9 39.3" fill="none" stroke="#222" stroke-width="0.7" stroke-linejoin="round"/>
<path d="M249.9 85 L258.4 85 L260.9 81.6 L259.5 67.5 L259.52 83.2 L261.48 80.4 L261.5 67.5 L261.52 83.2 L262.5 67.5 L262.52 83.2 L266.48 80.4 L266.5 67.5 L266.52 83.2 L269.48 80.4 L269.5 67.5 L269.52 83.2 L273.48 80.4 L273.5 67.5 L273.52 83.2 L276.48 80.4 L276.5 67.5 L276.52 83.2 L280.48 80.4 L280.5 67.5 L280.52 83.2 L283.48 80.4 L283.5 67.5 L283.52 83.2 L287.48 80.4 L287.5 67.5 L287.52 83.2 L292.48 80.4 L292.5 67.5 L292.52 83.2 L295.48 80.4 L295.5 67.5 L295.52 83.2 L299.48 80.4 L299.5 67.5 L299.52 83.2 L303.48 80.4 L303.5 67.5 L303.52 83.2 L308.48 80.4 L308.5 67.5 L308.52 83.2 L312.48 80.4 L312.5 67.5 L312.52 83.2 L316.48 80.4 L316.5 67.5 L316.52 83.2 L321.48 80.4 L321.5 67.5 L321.52 83.2 L325.48 80.4 L325.5 67.5 L325.52 83.2 L331.48 80.4 L331.5 67.5 L331.52 83.2 L337.48 80.4 L337.5 67.5 L337.52 83.2 L344.48 80.4 L344.5 67.5 L344.52 83.2 L347.48 80.4 L347.5 67.5 L347.52 83.2 L349.5 80.4 L351.5 82 L354 84.6 L356 85 L358.9 85" fill="none" stroke="#222" stroke-width="0.7" stroke-linejoin="round"/>
<path d="M249.9 130.2 L258.3 130.2 L260.8 126.3 L259.5 112.7 L259.52 127.9 L259.5 112.7 L259.52 127.9 L260.5 112.7 L260.52 127.9 L261.5 112.7 L261.52 127.9 L262.5 112.7 L262.52 127.9 L263.5 112.7 L263.52 127.9 L266.48 125.1 L266.5 112.7 L266.52 127.9 L269.48 125.1 L269.5 112.7 L269.52 127.9 L272.48 125.1 L272.5 112.7 L272.52 127.9 L275.48 125.1 L275.5 112.7 L275.52 127.9 L278.48 125.1 L278.5 112.7 L278.52 127.9 L282.48 125.1 L282.5 112.7 L282.52 127.9 L285.48 125.1 L285.5 112.7 L285.52 127.9 L288.48 125.1 L288.5 112.7 L288.52 127.9 L291.48 125.1 L291.5 112.7 L291.52 127.9 L294.48 125.1 L294.5 112.7 L294.52 127.9 L297.48 125.1 L297.5 112.7 L297.52 127.9 L301.48 125.1 L301.5 112.7 L301.52 127.9 L304.48 125.1 L304.5 112.7 L304.52 127.9 L307.48 125.1 L307.5 112.7 L307.52 127.9 L310.48 125.1 L310.5 112.7 L310.52 127.9 L313.48 125.1 L313.5 112.7 L313.52 127.9 L317.48 125.1 L317.5 112.7 L317.52 127.9 L320.48 125.1 L320.5 112.7 L320.52 127.9 L323.48 125.1 L323.5 112.7 L323.52 127.9 L326.48 125.1 L326.5 112.7 L326.52 127.9 L330.48 125.1 L330.5 112.7 L330.52 127.9 L333.48 125.1 L333.5 112.7 L333.52 127.9 L336.48 125.1 L336.5 112.7 L336.52 127.9 L340.48 125.1 L340.5 112.7 L340.52 127.9 L343.48 125.1 L343.5 112.7 L343.52 127.9 L348 125 L350 126.8 L352.5 129.6 L355 130.2 L358.9 130.2" fill="none" stroke="#222" stroke-width="0.7" stroke-linejoin="round"/>
<path d="M364.1 38.9 L371.6 38.9 L377.6 36.3 L378.5 20.9 L378.52 37.9 L381.48 35.1 L381.5 20.9 L381.52 37.9 L392.48 35.1 L392.5 20.9 L392.52 37.9 L398.48 35.1 L398.5 20.9 L398.52 37.9 L411.48 35.1 L411.5 20.9 L411.52 37.9 L422.48 35.1 L422.5 20.9 L422.52 37.9 L442.48 35.1 L442.5 20.9 L442.52 37.9 L459.48 35.1 L459.5 20.9 L459.52 37.9 L461 35 L463 36.8 L466.5 38.6 L468 38.9 L472.7 38.9" fill="none" stroke="#8f8f30" stroke-width="0.7" stroke-linejoin="round"/>
<path d="M364.1 84.5 L372 84.5 L376.5 81.8 L377.5 66.1 L377.52 83.4 L378.5 66.1 L378.52 83.4 L380.48 80.6 L380.5 66.1 L380.52 83.4 L382.48 80.6 L382.5 66.1 L382.52 83.4 L389.48 80.6 L389.5 66.1 L389.52 83.4 L395.48 80.6 L395.5 66.1 L395.52 83.4 L402.48 80.6 L402.5 66.1 L402.52 83.4 L408.48 80.6 L408.5 66.1 L408.52 83.4 L414.48 80.6 L414.5 66.1 L414.52 83.4 L421.48 80.6 L421.5 66.1 L421.52 83.4 L429.48 80.6 L429.5 66.1 L429.52 83.4 L437.48 80.6 L437.5 66.1 L437.52 83.4 L445.48 80.6 L445.5 66.1 L445.52 83.4 L453.48 80.6 L453.5 66.1 L453.52 83.4 L461.48 80.6 L461.5 66.1 L461.52 83.4 L462.5 80.6 L464 82.6 L467 84.3 L469 84.5 L472.7 84.5" fill="none" stroke="#8f8f30" stroke-width="0.7" stroke-linejoin="round"/>
<path d="M364.1 129.7 L371.5 129.7 L376 126.6 L376.5 111.3 L376.52 128.2 L377.5 111.3 L377.52 128.2 L379.48 125.4 L379.5 111.3 L379.52 128.2 L380.5 111.3 L380.52 128.2 L383.48 125.4 L383.5 111.3 L383.52 128.2 L387.48 125.4 L387.5 111.3 L387.52 128.2 L392.48 125.4 L392.5 111.3 L392.52 128.2 L397.48 125.4 L397.5 111.3 L397.52 128.2 L402.48 125.4 L402.5 111.3 L402.52 128.2 L407.48 125.4 L407.5 111.3 L407.52 128.2 L412.48 125.4 L412.5 111.3 L412.52 128.2 L418.48 125.4 L418.5 111.3 L418.52 128.2 L423.48 125.4 L423.5 111.3 L423.52 128.2 L428.48 125.4 L428.5 111.3 L428.52 128.2 L433.48 125.4 L433.5 111.3 L433.52 128.2 L438.48 125.4 L438.5 111.3 L438.52 128.2 L443.48 125.4 L443.5 111.3 L443.52 128.2 L448.48 125.4 L448.5 111.3 L448.52 128.2 L453.48 125.4 L453.5 111.3 L453.52 128.2 L458.48 125.4 L458.5 111.3 L458.52 128.2 L463.48 125.4 L463.5 111.3 L463.52 128.2 L464.5 125.8 L465.5 127.8 L468 129.5 L470 129.7 L472.7 129.7" fill="none" stroke="#8f8f30" stroke-width="0.7" stroke-linejoin="round"/>
<path d="M450.5 147 L468.5 147 L468.5 137.5" fill="none" stroke="#222" stroke-width="1.3" stroke-linejoin="round"/>
<line x1="527.2" y1="25.2" x2="527.2" y2="124.9" stroke="#6a6a6a" stroke-width="1.4"/>
<line x1="526.7" y1="124.4" x2="676.6" y2="124.4" stroke="#222222" stroke-width="1.1"/>
<line x1="524" y1="124.4" x2="527.2" y2="124.4" stroke="#222222" stroke-width="1.1"/>
<text transform="translate(519.2 127.1)" font-size="9.4" text-anchor="end">0</text>
<line x1="524" y1="91.33" x2="527.2" y2="91.33" stroke="#222222" stroke-width="1.1"/>
<text transform="translate(519.2 94.03)" font-size="9.4" text-anchor="end">20</text>
<line x1="524" y1="58.27" x2="527.2" y2="58.27" stroke="#222222" stroke-width="1.1"/>
<text transform="translate(519.2 60.97)" font-size="9.4" text-anchor="end">40</text>
<line x1="524" y1="25.2" x2="527.2" y2="25.2" stroke="#222222" stroke-width="1.1"/>
<text transform="translate(519.2 27.9)" font-size="9.4" text-anchor="end">60</text>
<line x1="534.4" y1="124.4" x2="534.4" y2="127.6" stroke="#222222" stroke-width="1.1"/>
<text transform="translate(538 135.8) rotate(-45)" font-size="9.2" text-anchor="end">0</text>
<line x1="549.34" y1="124.4" x2="549.34" y2="127.6" stroke="#222222" stroke-width="1.1"/>
<text transform="translate(552.94 135.8) rotate(-45)" font-size="9.2" text-anchor="end">20</text>
<line x1="564.28" y1="124.4" x2="564.28" y2="127.6" stroke="#222222" stroke-width="1.1"/>
<text transform="translate(567.88 135.8) rotate(-45)" font-size="9.2" text-anchor="end">40</text>
<line x1="579.22" y1="124.4" x2="579.22" y2="127.6" stroke="#222222" stroke-width="1.1"/>
<text transform="translate(582.82 135.8) rotate(-45)" font-size="9.2" text-anchor="end">60</text>
<line x1="594.16" y1="124.4" x2="594.16" y2="127.6" stroke="#222222" stroke-width="1.1"/>
<text transform="translate(597.76 135.8) rotate(-45)" font-size="9.2" text-anchor="end">80</text>
<line x1="609.1" y1="124.4" x2="609.1" y2="127.6" stroke="#222222" stroke-width="1.1"/>
<text transform="translate(612.7 135.8) rotate(-45)" font-size="9.2" text-anchor="end">100</text>
<line x1="624.04" y1="124.4" x2="624.04" y2="127.6" stroke="#222222" stroke-width="1.1"/>
<text transform="translate(627.64 135.8) rotate(-45)" font-size="9.2" text-anchor="end">120</text>
<line x1="638.98" y1="124.4" x2="638.98" y2="127.6" stroke="#222222" stroke-width="1.1"/>
<text transform="translate(642.58 135.8) rotate(-45)" font-size="9.2" text-anchor="end">140</text>
<line x1="653.92" y1="124.4" x2="653.92" y2="127.6" stroke="#222222" stroke-width="1.1"/>
<text transform="translate(657.52 135.8) rotate(-45)" font-size="9.2" text-anchor="end">160</text>
<line x1="668.86" y1="124.4" x2="668.86" y2="127.6" stroke="#222222" stroke-width="1.1"/>
<text transform="translate(672.46 135.8) rotate(-45)" font-size="9.2" text-anchor="end">180</text>
<text transform="translate(601.9 161) scale(1.07 1)" font-size="9" text-anchor="middle">Injected current (pA)</text>
<text transform="translate(500.2 74.8) rotate(-90) scale(1.04 1)" font-size="9" text-anchor="middle">Firing frenquency (Hz)</text>
<path d="M534.4 123.9 L549.34 123.08 L564.28 117.13 L579.22 107.87 L594.16 95.3 L609.1 85.55 L624.04 75.96 L638.98 64.88 L653.92 57.61 L668.86 50.83" fill="none" stroke="#8c8c1a" stroke-width="1.3" stroke-linejoin="round"/>
<line x1="534.4" y1="123.5" x2="534.4" y2="124.3" stroke="#8c8c1a" stroke-width="1.3"/>
<line x1="549.34" y1="122.48" x2="549.34" y2="123.68" stroke="#8c8c1a" stroke-width="1.3"/>
<line x1="564.28" y1="115.53" x2="564.28" y2="118.73" stroke="#8c8c1a" stroke-width="1.3"/>
<line x1="579.22" y1="103.37" x2="579.22" y2="112.37" stroke="#8c8c1a" stroke-width="1.3"/>
<line x1="594.16" y1="87.8" x2="594.16" y2="102.8" stroke="#8c8c1a" stroke-width="1.3"/>
<line x1="609.1" y1="76.65" x2="609.1" y2="94.45" stroke="#8c8c1a" stroke-width="1.3"/>
<line x1="624.04" y1="65.96" x2="624.04" y2="85.96" stroke="#8c8c1a" stroke-width="1.3"/>
<line x1="638.98" y1="54.48" x2="638.98" y2="75.28" stroke="#8c8c1a" stroke-width="1.3"/>
<line x1="653.92" y1="47.61" x2="653.92" y2="67.61" stroke="#8c8c1a" stroke-width="1.3"/>
<line x1="668.86" y1="39.93" x2="668.86" y2="61.73" stroke="#8c8c1a" stroke-width="1.3"/>
<circle cx="534.4" cy="123.9" r="2.1" fill="#8c8c1a"/>
<circle cx="549.34" cy="123.08" r="2.1" fill="#8c8c1a"/>
<circle cx="564.28" cy="117.13" r="2.1" fill="#8c8c1a"/>
<circle cx="579.22" cy="107.87" r="2.1" fill="#8c8c1a"/>
<circle cx="594.16" cy="95.3" r="2.1" fill="#8c8c1a"/>
<circle cx="609.1" cy="85.55" r="2.1" fill="#8c8c1a"/>
<circle cx="624.04" cy="75.96" r="2.1" fill="#8c8c1a"/>
<circle cx="638.98" cy="64.88" r="2.1" fill="#8c8c1a"/>
<circle cx="653.92" cy="57.61" r="2.1" fill="#8c8c1a"/>
<circle cx="668.86" cy="50.83" r="2.1" fill="#8c8c1a"/>
<path d="M534.4 124.07 L549.34 123.9 L564.28 118.94 L579.22 109.52 L594.16 98.28 L609.1 84.39 L624.04 73.48 L638.98 62.23 L653.92 53.31 L668.86 45.04" fill="none" stroke="#111" stroke-width="1.3" stroke-linejoin="round"/>
<line x1="534.4" y1="123.77" x2="534.4" y2="124.37" stroke="#111" stroke-width="1.3"/>
<line x1="549.34" y1="123.5" x2="549.34" y2="124.3" stroke="#111" stroke-width="1.3"/>
<line x1="564.28" y1="117.54" x2="564.28" y2="120.34" stroke="#111" stroke-width="1.3"/>
<line x1="579.22" y1="106.12" x2="579.22" y2="112.92" stroke="#111" stroke-width="1.3"/>
<line x1="594.16" y1="92.08" x2="594.16" y2="104.48" stroke="#111" stroke-width="1.3"/>
<line x1="609.1" y1="75.59" x2="609.1" y2="93.19" stroke="#111" stroke-width="1.3"/>
<line x1="624.04" y1="63.88" x2="624.04" y2="83.08" stroke="#111" stroke-width="1.3"/>
<line x1="638.98" y1="53.03" x2="638.98" y2="71.43" stroke="#111" stroke-width="1.3"/>
<line x1="653.92" y1="44.61" x2="653.92" y2="62.01" stroke="#111" stroke-width="1.3"/>
<line x1="668.86" y1="36.64" x2="668.86" y2="53.44" stroke="#111" stroke-width="1.3"/>
<circle cx="534.4" cy="124.07" r="2.1" fill="#111"/>
<circle cx="549.34" cy="123.9" r="2.1" fill="#111"/>
<circle cx="564.28" cy="118.94" r="2.1" fill="#111"/>
<circle cx="579.22" cy="109.52" r="2.1" fill="#111"/>
<circle cx="594.16" cy="98.28" r="2.1" fill="#111"/>
<circle cx="609.1" cy="84.39" r="2.1" fill="#111"/>
<circle cx="624.04" cy="73.48" r="2.1" fill="#111"/>
<circle cx="638.98" cy="62.23" r="2.1" fill="#111"/>
<circle cx="653.92" cy="53.31" r="2.1" fill="#111"/>
<circle cx="668.86" cy="45.04" r="2.1" fill="#111"/>
<line x1="626.9" y1="27.4" x2="637.8" y2="27.4" stroke="#8c8c1a" stroke-width="1.3"/>
<circle cx="632.2" cy="27.4" r="2.1" fill="#8c8c1a"/>
<text transform="translate(641.4 30.4)" font-size="7.9">NLG2 KO</text>
<line x1="626.9" y1="38.8" x2="637.8" y2="38.8" stroke="#111" stroke-width="1.3"/>
<circle cx="632.2" cy="38.8" r="2.1" fill="#111"/>
<text transform="translate(641.4 41.8)" font-size="7.9">WT</text>
<line x1="674.5" y1="37.6" x2="674.5" y2="56" stroke="#222" stroke-width="0.9"/>
<text transform="translate(676.6 48.8)" font-size="7.9">ns</text>
<text transform="translate(175 195.1) scale(1.07 1)" font-size="9" text-anchor="middle">sIPSC (Thalamus)</text>
<text transform="translate(16.4 213.5) scale(1.07 1)" font-size="9">WT</text>
<text transform="translate(3.3 239.6) scale(1.07 1)" font-size="9">NLG2 KO</text>
<path d="M51.7 234.35 52.2 234.63 52.7 234.75 53.2 234.9 53.7 234.86 54.2 235.31 54.7 235.53 55.2 235.45 55.7 235.35 56.2 234.95 56.7 234.48 57.2 233.63 57.7 233.96 58.2 233.52 58.7 234.14 59.2 234.76 59.7 234.79 60.2 233.9 60.7 235.39 61.2 235.75 61.7 234.96 62.2 235.21 62.7 234.75 63.2 233.86 63.7 235.07 64.2 235.04 64.7 234.13 65.2 234.73 65.7 235.23 66.2 235.23 66.7 235.24 67.2 235.14 67.7 234.89 68.2 234.94 68.7 235 69.2 234.17 69.7 235.87 70.2 236.25 70.7 236.05 71.2 235.14 71.7 236.33 72.2 235.84 72.7 235.74 73.2 235.33 73.7 236.47 74.2 235.05 74.7 236.48 75.2 235.93 75.7 236.16 76.2 235.56 76.7 236.8 77.2 235.54 77.7 235.76 78.2 235.77 78.7 235 79.2 234.96 79.7 233.85 80.2 233.79 80.7 234.32 81.2 233.28 81.7 234.12 82.2 233 82.7 233.54 83.2 232.99 83.7 232.09 84.2 232.66 84.7 232.58 85.2 232.91 85.7 232.32 86.2 232.25 86.7 232.67 87.2 231.44 87.7 233.55 88.2 233.56 88.7 234.31 89.2 234.52 89.7 233.48 90.2 233.74 90.7 233.55 91.2 233.64 91.7 233.05 92.2 232.46 92.7 231.65 93.2 230.94 93.7 232.31 94.2 232.03 94.7 233.07 95.2 233.67 95.7 233.76 96.2 232.88 96.7 233.99 97.2 233.72 97.7 233.47 98.2 233.84 98.7 233.58 99.2 234.4 99.7 234.88 100.2 233.67 100.7 235.01 101.2 234.25 101.7 235.58 102.2 234.87 102.7 235.31 103.2 234.77 103.7 233.62 104.2 235.13 104.7 234.37 105.2 235.01 105.7 235 106.2 233.11 106.7 234.5 107.2 233.44 107.7 232.84 108.2 233.46 108.7 234.14 109.2 234.48 109.7 235.22 110.2 235.36 110.7 235.03 111.2 235.29 111.7 235.34 112.2 234.76 112.7 233.47 113.2 234.54 113.7 234.87 114.2 234.57 114.7 234.33 115.2 234.79 115.7 234.79 116.2 234.88 116.7 235.06 117.2 235.23 117.7 235.54 118.2 233.47 118.7 234.32 119.2 233.93 119.7 233.5 120.2 232.68 120.7 233.74 121.2 232.93 121.7 233.23 122.2 234.35 122.7 233.91 123.2 234.44 123.7 234.33 124.2 233.7 124.7 233.41 125.2 232.55 125.7 231.81 126.2 230.97 126.7 232.87 127.2 234.29 127.7 233.79 128.2 234.45 128.7 233.85 129.2 232.71 129.7 231.82 130.2 233.08 130.7 234.37 131.2 233.3 131.7 232.81 132.2 234.75 132.7 234.23 133.2 234.3 133.7 234.98 134.2 234.78 134.7 233.52 135.2 233.59 135.7 232.9 136.2 233.33 136.7 234.25 137.2 234.32 137.7 234.05 138.2 233.53 138.7 234.34 139.2 234.42 139.7 234.17 140.2 233.16 140.7 234.12 141.2 234.57 141.7 234.96 142.2 233.94 142.7 234.38 143.2 234.23 143.7 233.96 144.2 234.54 144.7 234.61 145.2 233.91 145.7 235.28 146.2 234.9 146.7 234.94 147.2 234.82 147.7 235.28 148.2 233.69 148.7 234.98 149.2 234.82 149.7 235.02 150.2 234.38 150.7 234.46 151.2 233.42 151.7 234.93 152.2 235.01 152.7 234.45 153.2 235.14 153.7 235.11 154.2 235.64 154.7 235.08 155.2 235.1 155.7 235 156.2 235.37 156.7 234.35 157.2 234.97 157.7 233.81 158.2 234.4 158.7 234.9 159.2 235.26 159.7 235.22 160.2 235.4 160.7 235.52 161.2 236.19 161.7 235.52 162.2 234.71 162.7 233.85 163.2 233.9 163.7 234.31 164.2 234.61 164.7 234.76 165.2 233.96 165.7 233.47 166.2 233.21 166.7 234.11 167.2 234.16 167.7 235.48 168.2 235.35 168.7 235.2 169.2 233.96 169.7 235.52 170.2 234.97 170.7 235.49 171.2 235.99 171.7 235.78 172.2 234.69 172.7 233.39 173.2 234.36 173.7 233.88 174.2 233.2 174.7 233.99 175.2 234.49 175.7 235.01 176.2 235.16 176.7 235.22 177.2 235.11 177.7 234.28 178.2 234.63 178.7 234.07 179.2 233.26 179.7 233.82 180.2 233.54 180.7 233.22 181.2 233.14 181.7 233.68 182.2 234.26 182.7 233.73 183.2 234.52 183.7 233.82 184.2 234.54 184.7 235.03 185.2 235.11 185.7 236.08 186.2 235.21 186.7 234.19 187.2 233.67 187.7 234.03 188.2 232.57 188.7 233.69 189.2 234.02 189.7 233.88 190.2 234.46 190.7 233.86 191.2 232.64 191.7 233.15 192.2 233.28 192.7 233.21 193.2 233.05 193.7 233.93 194.2 233.63 194.7 234.56 195.2 235.79 195.7 235.27 196.2 233.49 196.7 233.89 197.2 234.15 197.7 233.04 198.2 233.91 198.7 233.5 199.2 233.49 199.7 233.05 200.2 232.45 200.7 233.73 201.2 234.09 201.7 234.52 202.2 234.59 202.7 234.43 203.2 234.7 203.7 233.35 204.2 234.62 204.7 234.27 205.2 234.16 205.7 234.09 206.2 234.02 206.7 233.12 207.2 234.26 207.7 233.73 208.2 234.57 208.7 234.53 209.2 233.32 209.7 234.09 210.2 232.89 210.7 234.27 211.2 232.93 211.7 233.54 212.2 234.1 212.7 234.16 213.2 234.02 213.7 233.84 214.2 232.28 214.7 232.69 215.2 232.21 215.7 232.02 216.2 232.6 216.7 233.56 217.2 233.61 217.7 234 218.2 233.61 218.7 233.11 219.2 232.91 219.7 233.75 220.2 233.64 220.7 232.23 221.2 234.02 221.7 233.49 222.2 233.83 222.7 233.15 223.2 234.41 223.7 235.54 224.2 235.88 224.7 234.5 225.2 235.4 225.7 234.94 226.2 234.28 226.7 234.61 227.2 232.93 227.7 234.47 228.2 234.1 228.7 232.67 229.2 233.29 229.7 233.84 230.2 232.97 230.7 233.94 231.2 233.39 231.7 232.75 232.2 233.08 232.7 233.75 233.2 233.43 233.7 234.5 234.2 234.47 234.7 234.8 235.2 235.61 235.7 235.12 236.2 235.51 236.7 234.48 237.2 233.16 237.7 234.2 238.2 233.71 238.7 234.9 239.2 234.59 239.7 234.4 240.2 234.26 240.7 233.39 241.2 233.96 241.7 233.72 242.2 232.69 242.7 233.17 243.2 233.51 243.7 232.37 244.2 233.03 244.7 233.78 245.2 234.34 245.7 234.17 246.2 233.43 246.7 234.45 247.2 234.21 247.7 233.48 248.2 234.25 248.7 233.59 249.2 232.64 249.7 233.1 250.2 232.28 250.7 232.85 251.2 233.4 251.7 233.27 252.2 233.29 252.7 233.74 253.2 233.73 253.7 234.23 254.2 233.62 254.7 234.36 255.2 234.35 255.7 233.86 256.2 234.28 256.7 233.09 257.2 233.61 257.7 234.33 258.2 234.27 258.7 235.09 259.2 235 259.7 235.21 260.2 234.32 260.7 234.65 261.2 235.22 261.7 233.47 262.2 234.37 262.7 233.95 263.2 232.82 263.7 233.65 264.2 234.19 264.7 234.23 265.2 233.46 265.7 232.24 266.2 233.82 266.7 232.16 267.2 232.91 267.7 232.64 268.2 232.76 268.7 233.13 269.2 233.39 269.7 234.01 270.2 234.23 270.7 233.91 271.2 233.99 271.7 235.19 272.2 233.29 272.7 233.34 273.2 233.54 273.7 232.59 274.2 232.19 274.7 232.38 275.2 233.57 275.7 232.53 276.2 233.23 276.7 234.46 277.2 235.3 277.7 234.98 278.2 234.34 278.7 233.91 279.2 233.78 279.7 233.84 280.2 234.62 280.7 234.8 281.2 234.29 281.7 233.49 282.2 233.29 282.7 233.83 283.2 234.17 283.7 233.46 284.2 233.86 284.7 234.45 285.2 234.83 285.7 234.44 286.2 235.6 286.7 234.57 287.2 235.35 287.7 235.62 288.2 235.41 288.7 235.22 289.2 235.4 289.7 234.58 290.2 236 290.7 236.49 291.2 236.23 291.7 236.56 292.2 236.57 292.7 236.1 293.2 235.3 293.7 235.46 294.2 235.43 294.7 235.07 295.2 234.66 295.7 234.59 296.2 235.2 296.7 234.87 297.2 234.16 297.7 234.62 298.2 234.46 298.7 234.26 299.2 233.76 299.7 234.31 300.2 235.08 300.7 234.91 301.2 233.68 301.7 234.11 302.2 233.39 302.7 233.26 303.2 232.37 303.7 233.13 304.2 233.33 304.7 233.16 305.2 233.24 305.7 232.92 306.2 233.44 306.7 233.29 307.2 233.14 307.7 235.75 308.2 236.18 308.7 235.23 309.2 235.08 309.7 233.94 L309.7 237.08 309.2 237.54 308.7 238.38 308.2 238.81 307.7 238.19 307.2 237.39 306.7 238.02 306.2 236.41 305.7 236.21 305.2 236.4 304.7 235.99 304.2 237.16 303.7 236.44 303.2 236.83 302.7 236.43 302.2 237.11 301.7 238.4 301.2 238.74 300.7 237.48 300.2 237.93 299.7 238.83 299.2 237.72 298.7 237.06 298.2 237.27 297.7 237.3 297.2 238.63 296.7 237.86 296.2 237.83 295.7 238.21 295.2 239.62 294.7 238.63 294.2 238.33 293.7 237.85 293.2 238.21 292.7 239.3 292.2 239.61 291.7 238.99 291.2 239.41 290.7 239.75 290.2 239.08 289.7 238.73 289.2 238.68 288.7 239.4 288.2 237.89 287.7 238.78 287.2 238.46 286.7 238.79 286.2 238.32 285.7 238.48 285.2 238.16 284.7 237.82 284.2 237.84 283.7 237.6 283.2 237.16 282.7 237.16 282.2 237.82 281.7 238.05 281.2 237.59 280.7 237.26 280.2 239.09 279.7 237.02 279.2 237.4 278.7 237.34 278.2 238.12 277.7 239.3 277.2 237.94 276.7 237.53 276.2 237.82 275.7 236.79 275.2 236.37 274.7 237.38 274.2 236.07 273.7 235.76 273.2 236.47 272.7 237 272.2 237.18 271.7 237.86 271.2 238.6 270.7 239.25 270.2 237.22 269.7 237.75 269.2 235.93 268.7 236.35 268.2 235.79 267.7 235.36 267.2 236.32 266.7 237.44 266.2 237.05 265.7 237.46 265.2 236.91 264.7 236.99 264.2 236.84 263.7 237.67 263.2 238.19 262.7 236.99 262.2 238.04 261.7 237.23 261.2 238.33 260.7 238.3 260.2 239.53 259.7 238.48 259.2 237.54 258.7 238.02 258.2 237.4 257.7 237.68 257.2 237.66 256.7 237.51 256.2 236.86 255.7 236.94 255.2 237.11 254.7 237.87 254.2 237.14 253.7 237.16 253.2 236.79 252.7 236.37 252.2 237.5 251.7 237.34 251.2 236.46 250.7 236.69 250.2 236.15 249.7 236.05 249.2 237.09 248.7 237.41 248.2 237.66 247.7 237.83 247.2 237.11 246.7 238.66 246.2 237.08 245.7 236.77 245.2 236.9 244.7 236.71 244.2 236.36 243.7 236.98 243.2 236.57 242.7 235.91 242.2 236.01 241.7 236.77 241.2 236.41 240.7 236.99 240.2 236.85 239.7 237.16 239.2 237.13 238.7 237.39 238.2 237.22 237.7 239.71 237.2 236.96 236.7 237.48 236.2 238.68 235.7 238.33 235.2 239.72 234.7 238.96 234.2 237.45 233.7 237.84 233.2 237.31 232.7 237.37 232.2 236.46 231.7 235.99 231.2 237.47 230.7 237.56 230.2 238.02 229.7 236.85 229.2 237.52 228.7 236.84 228.2 237.49 227.7 236.94 227.2 238.46 226.7 237.97 226.2 237.46 225.7 237.91 225.2 237.68 224.7 238.66 224.2 238.31 223.7 238.69 223.2 238.66 222.7 237.9 222.2 237.92 221.7 237.04 221.2 236.77 220.7 237.12 220.2 238.66 219.7 237.02 219.2 236.97 218.7 237.69 218.2 237.82 217.7 237.47 217.2 236.17 216.7 235.99 216.2 236.38 215.7 237 215.2 235.59 214.7 235.42 214.2 235.76 213.7 237.01 213.2 237.43 212.7 238.03 212.2 237.03 211.7 237.34 211.2 237.45 210.7 237.43 210.2 236.99 209.7 237.31 209.2 237.52 208.7 237.68 208.2 237.96 207.7 237.36 207.2 236.61 206.7 236.85 206.2 236.77 205.7 237.89 205.2 238.35 204.7 236.89 204.2 237.69 203.7 237.11 203.2 237.46 202.7 237.71 202.2 237.9 201.7 237.4 201.2 237.08 200.7 238.49 200.2 237.35 199.7 235.76 199.2 236.81 198.7 236.17 198.2 236.52 197.7 236.4 197.2 236.61 196.7 237.68 196.2 237.9 195.7 238.04 195.2 238.73 194.7 238.25 194.2 237.55 193.7 236.34 193.2 236.48 192.7 236.11 192.2 236.07 191.7 236.98 191.2 236.22 190.7 237.22 190.2 238 189.7 236.82 189.2 236.93 188.7 238.58 188.2 236.9 187.7 236.86 187.2 237.59 186.7 236.87 186.2 237.76 185.7 239 185.2 238.65 184.7 239.1 184.2 237.1 183.7 236.85 183.2 237.02 182.7 237.95 182.2 238.64 181.7 237.55 181.2 236.64 180.7 236.73 180.2 236.1 179.7 236.5 179.2 236.28 178.7 237.96 178.2 237.69 177.7 238.15 177.2 237.88 176.7 239.45 176.2 239.04 175.7 238.35 175.2 238.17 174.7 238.18 174.2 237.88 173.7 237.57 173.2 238.06 172.7 238.81 172.2 238.38 171.7 238.89 171.2 238.52 170.7 238.35 170.2 238.21 169.7 238.81 169.2 238.51 168.7 238.8 168.2 238.66 167.7 238.47 167.2 238.68 166.7 237.09 166.2 236.74 165.7 237.34 165.2 237.93 164.7 237.77 164.2 238.05 163.7 237.47 163.2 237.35 162.7 237.11 162.2 238.48 161.7 238.22 161.2 239.25 160.7 238.73 160.2 238.92 159.7 238.32 159.2 237.71 158.7 238.29 158.2 237.29 157.7 238.61 157.2 239 156.7 238.96 156.2 238.4 155.7 239.06 155.2 238.42 154.7 240.06 154.2 238.51 153.7 238.83 153.2 238.66 152.7 238.77 152.2 238.6 151.7 237.86 151.2 237.81 150.7 238.33 150.2 237.77 149.7 238.75 149.2 237.37 148.7 237.46 148.2 238.53 147.7 238.58 147.2 238.13 146.7 239.28 146.2 237.91 145.7 239.05 145.2 238.15 144.7 238.34 144.2 237.53 143.7 237.15 143.2 236.92 142.7 238.19 142.2 237.81 141.7 237.5 141.2 237.28 140.7 237.51 140.2 236.7 139.7 237.76 139.2 237.91 138.7 236.86 138.2 237.18 137.7 238.04 137.2 237.48 136.7 236.9 136.2 236.78 135.7 236.18 135.2 236.17 134.7 236.74 134.2 237.39 133.7 239.3 133.2 237.32 132.7 238.76 132.2 237.47 131.7 238.37 131.2 237.27 130.7 237.11 130.2 237.21 129.7 236.49 129.2 236.33 128.7 237.27 128.2 237.2 127.7 237.62 127.2 236.97 126.7 236.26 126.2 237.01 125.7 236 125.2 235.45 124.7 236.44 124.2 236.87 123.7 237.75 123.2 236.97 122.7 237.8 122.2 236.69 121.7 237.91 121.2 237.75 120.7 238 120.2 236.27 119.7 236.12 119.2 237.6 118.7 236.96 118.2 237.44 117.7 238.19 117.2 238.16 116.7 238.59 116.2 238.01 115.7 237.81 115.2 238.09 114.7 238 114.2 237.89 113.7 237.95 113.2 238.2 112.7 237.74 112.2 239.45 111.7 237.89 111.2 238.2 110.7 237.74 110.2 237.99 109.7 239.06 109.2 237.79 108.7 237.5 108.2 237.35 107.7 237.52 107.2 236.83 106.7 237.39 106.2 237.36 105.7 238.29 105.2 237.91 104.7 239.49 104.2 237.75 103.7 238.29 103.2 237.8 102.7 238 102.2 237.82 101.7 238.41 101.2 238.14 100.7 238 100.2 238.13 99.7 237.61 99.2 237.37 98.7 236.85 98.2 236.78 97.7 236.49 97.2 237.9 96.7 236.59 96.2 236.34 95.7 237.33 95.2 236.6 94.7 237.04 94.2 236 93.7 234.88 93.2 235.07 92.7 235.64 92.2 235.31 91.7 236.15 91.2 236.35 90.7 237.16 90.2 237.52 89.7 237.56 89.2 237.34 88.7 237.44 88.2 236.96 87.7 236.77 87.2 235.97 86.7 235.64 86.2 236.04 85.7 235.74 85.2 235.74 84.7 235.55 84.2 235.65 83.7 237.05 83.2 236.6 82.7 237.03 82.2 237.91 81.7 236.66 81.2 236.78 80.7 237.2 80.2 237.64 79.7 238.15 79.2 237.93 78.7 238.58 78.2 238.73 77.7 240.41 77.2 239.75 76.7 240.77 76.2 239.8 75.7 239.87 75.2 239.54 74.7 238.9 74.2 238.9 73.7 239.97 73.2 239.58 72.7 238.72 72.2 238.74 71.7 239.97 71.2 238.85 70.7 239.82 70.2 239.89 69.7 239.07 69.2 239.15 68.7 238.26 68.2 237.43 67.7 239.06 67.2 237.61 66.7 238.2 66.2 238.63 65.7 238.62 65.2 239.29 64.7 238.58 64.2 238.21 63.7 237.67 63.2 238.62 62.7 238.03 62.2 238.38 61.7 238.18 61.2 239.54 60.7 237.84 60.2 238.35 59.7 238.67 59.2 237.49 58.7 238.7 58.2 236.49 57.7 237.42 57.2 237.18 56.7 237.73 56.2 237.9 55.7 237.83 55.2 238.3 54.7 237.84 54.2 238.04 53.7 237.91 53.2 238.36 52.7 239.13 52.2 237.14 51.7 237.12Z" fill="#8c8c1a" stroke="#8c8c1a" stroke-width="0.3"/>
<path d="M132.22 237.17L132.34 238.41L132.77 237.17M106.85 237.09L106.97 238.43L107.4 237.09M154.18 238.53L154.3 239.67L154.73 238.53M180.1 236.2L180.22 238.58L180.7 236.2M68.25 237.13L68.37 239.59L68.85 237.13M211.7 237.15L211.82 238.21L212.24 237.15M299 236.76L299.12 239.07L299.59 236.76M245.14 236.41L245.26 237.82L245.7 236.41M223.44 238.36L223.56 244.36L224.18 238.36M202.12 237.1L202.24 238.92L202.69 237.1M93.16 235.34L93.28 236.55L93.71 235.34M142.71 237.89L142.83 239L143.26 237.89M212.75 237.73L212.87 243.43L213.48 237.73M136.77 236.6L136.89 237.62L137.31 236.6M150.41 237.47L150.53 238.91L150.97 237.47M143.84 236.85L143.96 238.59L144.41 236.85" fill="none" stroke="#8c8c1a" stroke-width="0.65" opacity="0.9" stroke-linejoin="round"/>
<path d="M51.7 205.34 52.2 205.52 52.7 205.17 53.2 205.71 53.7 205.63 54.2 205.78 54.7 205.5 55.2 205.32 55.7 205.4 56.2 205.57 56.7 205.25 57.2 205.8 57.7 205.12 58.2 205.65 58.7 205.93 59.2 205.84 59.7 206 60.2 206.15 60.7 206.1 61.2 204.71 61.7 206.02 62.2 205.61 62.7 205.91 63.2 205.48 63.7 205.43 64.2 205.73 64.7 205.73 65.2 205.18 65.7 206.11 66.2 205.42 66.7 205.86 67.2 204.82 67.7 205.83 68.2 205.62 68.7 205.62 69.2 205.68 69.7 205.43 70.2 205.11 70.7 204.64 71.2 205.35 71.7 205.45 72.2 205.47 72.7 205.17 73.2 204.73 73.7 205.52 74.2 205.36 74.7 205.13 75.2 205.16 75.7 204.85 76.2 205.27 76.7 205.16 77.2 204.48 77.7 205.25 78.2 205.33 78.7 205.3 79.2 204.89 79.7 205.47 80.2 205.4 80.7 204.85 81.2 204.97 81.7 205.35 82.2 205.58 82.7 204.89 83.2 204.92 83.7 205.49 84.2 205.04 84.7 205.43 85.2 205.57 85.7 204.71 86.2 205.41 86.7 205.64 87.2 205.39 87.7 205.77 88.2 205.93 88.7 205.76 89.2 205.89 89.7 205.26 90.2 205.83 90.7 205.73 91.2 205.59 91.7 205.3 92.2 205.49 92.7 204.94 93.2 205.59 93.7 205.58 94.2 205.6 94.7 205.58 95.2 205.79 95.7 205.57 96.2 205.8 96.7 205.01 97.2 205.15 97.7 205.62 98.2 204.96 98.7 205.8 99.2 205.77 99.7 205.95 100.2 205.41 100.7 205.91 101.2 203.97 101.7 205.34 102.2 205.86 102.7 205.84 103.2 205.87 103.7 204.72 104.2 204.9 104.7 205.09 105.2 205.28 105.7 204.37 106.2 204.98 106.7 205.3 107.2 203.64 107.7 204.99 108.2 204.97 108.7 205.55 109.2 205.6 109.7 205.18 110.2 205.65 110.7 205.32 111.2 205.68 111.7 204.37 112.2 205.38 112.7 204.66 113.2 206.31 113.7 205.72 114.2 205.71 114.7 205.87 115.2 204.86 115.7 205.5 116.2 205.57 116.7 205.99 117.2 206.07 117.7 205.88 118.2 205.17 118.7 205.45 119.2 205.39 119.7 204.82 120.2 205.54 120.7 205.69 121.2 205.31 121.7 205.42 122.2 205.35 122.7 204.04 123.2 205.19 123.7 205.55 124.2 205.86 124.7 205.44 125.2 205.88 125.7 205.98 126.2 204.73 126.7 206.08 127.2 205.9 127.7 205.18 128.2 204.84 128.7 204.89 129.2 204.9 129.7 204.31 130.2 205.33 130.7 205.69 131.2 205.17 131.7 205.71 132.2 205.71 132.7 204.98 133.2 205.65 133.7 205.68 134.2 205.73 134.7 205.6 135.2 205.75 135.7 205.57 136.2 205.69 136.7 205.18 137.2 205.28 137.7 205.3 138.2 205.34 138.7 204.72 139.2 205.72 139.7 205.19 140.2 205.56 140.7 205.46 141.2 205.36 141.7 205.75 142.2 205.68 142.7 205.46 143.2 205.06 143.7 205.48 144.2 205.84 144.7 205 145.2 204.6 145.7 205.76 146.2 205.71 146.7 205.78 147.2 205.74 147.7 205.8 148.2 205.07 148.7 205.8 149.2 205.75 149.7 205.79 150.2 205.54 150.7 205.59 151.2 205.72 151.7 205.28 152.2 205.76 152.7 205.66 153.2 205.35 153.7 205.83 154.2 205.59 154.7 205.09 155.2 205.33 155.7 205.08 156.2 205.39 156.7 205.62 157.2 205.38 157.7 205.41 158.2 204.98 158.7 205.61 159.2 204.92 159.7 205.91 160.2 205.07 160.7 205.78 161.2 205.12 161.7 205.13 162.2 205.89 162.7 206 163.2 205.07 163.7 205.54 164.2 204.62 164.7 204.97 165.2 204.76 165.7 205.44 166.2 205.55 166.7 205.71 167.2 204.93 167.7 204.99 168.2 205.59 168.7 205.55 169.2 205.92 169.7 205.23 170.2 205.95 170.7 205.62 171.2 205.1 171.7 205.67 172.2 205.64 172.7 204.93 173.2 204.72 173.7 205.22 174.2 205.02 174.7 205.22 175.2 205.31 175.7 205.39 176.2 204.88 176.7 204.44 177.2 205.21 177.7 205.21 178.2 204.99 178.7 204.22 179.2 205.34 179.7 204.7 180.2 203.88 180.7 204.86 181.2 205.28 181.7 205.32 182.2 204 182.7 205.17 183.2 204.7 183.7 205.33 184.2 205.4 184.7 205.37 185.2 204.87 185.7 205.27 186.2 205.1 186.7 205.87 187.2 205.99 187.7 205.47 188.2 204.93 188.7 205.71 189.2 205.13 189.7 205.03 190.2 205.19 190.7 205.44 191.2 204.3 191.7 205.35 192.2 204.75 192.7 205.15 193.2 204.64 193.7 204.73 194.2 204.99 194.7 205.29 195.2 205.22 195.7 205.3 196.2 204.68 196.7 205.17 197.2 205.06 197.7 204.57 198.2 204.65 198.7 204.9 199.2 205.12 199.7 205.19 200.2 204.76 200.7 204.83 201.2 205 201.7 205.35 202.2 205.39 202.7 205.12 203.2 205.13 203.7 205.13 204.2 205.53 204.7 205.05 205.2 205.5 205.7 205.56 206.2 205.3 206.7 205.53 207.2 205.06 207.7 204.76 208.2 204.64 208.7 205.04 209.2 205.42 209.7 204.69 210.2 205.18 210.7 204.8 211.2 204.94 211.7 205.05 212.2 204.57 212.7 204.99 213.2 205.16 213.7 204.89 214.2 204.79 214.7 205.36 215.2 205.46 215.7 205.18 216.2 204.91 216.7 204.93 217.2 204.94 217.7 205.18 218.2 205.24 218.7 205.07 219.2 204.73 219.7 204.5 220.2 204.9 220.7 205.07 221.2 204.32 221.7 204.89 222.2 204.68 222.7 204.7 223.2 204.72 223.7 205.35 224.2 205.3 224.7 204.85 225.2 205.35 225.7 205.45 226.2 204.89 226.7 205.48 227.2 205.35 227.7 205.71 228.2 205.33 228.7 205.38 229.2 205.57 229.7 205.37 230.2 204.76 230.7 205.23 231.2 205.79 231.7 205.48 232.2 205.38 232.7 205.46 233.2 205.6 233.7 206 234.2 205.52 234.7 206.07 235.2 205.26 235.7 206.25 236.2 205.59 236.7 206.16 237.2 205.63 237.7 205.99 238.2 205.39 238.7 205.35 239.2 205.13 239.7 205.05 240.2 205.53 240.7 204.66 241.2 205.37 241.7 204.89 242.2 205.32 242.7 205.2 243.2 204.7 243.7 205.62 244.2 204.76 244.7 205.46 245.2 204.66 245.7 204.13 246.2 205.44 246.7 204.28 247.2 205.28 247.7 205.12 248.2 205.54 248.7 205.39 249.2 205.16 249.7 204.5 250.2 204.74 250.7 205.23 251.2 205.45 251.7 204.88 252.2 204.77 252.7 204.57 253.2 205.17 253.7 204.76 254.2 205.83 254.7 205.83 255.2 205.03 255.7 205.77 256.2 205.7 256.7 204.99 257.2 205.19 257.7 205.49 258.2 205.23 258.7 205.15 259.2 205.43 259.7 205.57 260.2 206.02 260.7 205.44 261.2 205.93 261.7 205.24 262.2 205 262.7 205.34 263.2 205.85 263.7 205.78 264.2 205.13 264.7 204.96 265.2 205.75 265.7 205.59 266.2 205.35 266.7 205.37 267.2 205.41 267.7 205.58 268.2 205.51 268.7 205.46 269.2 205.68 269.7 205.39 270.2 205.83 270.7 205.69 271.2 204.59 271.7 205.66 272.2 205.77 272.7 205.09 273.2 204.76 273.7 205 274.2 205.37 274.7 205.94 275.2 204.47 275.7 205.62 276.2 205.2 276.7 205.9 277.2 204.67 277.7 204.79 278.2 205.5 278.7 205.94 279.2 205.21 279.7 205.29 280.2 205 280.7 205.22 281.2 205.02 281.7 205.43 282.2 205.22 282.7 205.34 283.2 205.14 283.7 205.23 284.2 205.02 284.7 205.26 285.2 205.7 285.7 205.49 286.2 205.16 286.7 205.5 287.2 204.45 287.7 205.38 288.2 205.27 288.7 205.07 289.2 204.71 289.7 204.43 290.2 205.27 290.7 204.83 291.2 204.77 291.7 204.73 292.2 205.66 292.7 205.21 293.2 205.71 293.7 205.27 294.2 205.47 294.7 204.7 295.2 205.37 295.7 205.6 296.2 205.56 296.7 205.82 297.2 205.33 297.7 205.25 298.2 205.48 298.7 205.69 299.2 204.46 299.7 205.81 300.2 205.99 300.7 204.72 301.2 205.79 301.7 205.01 302.2 205.35 302.7 205.31 303.2 205.64 303.7 205.76 304.2 205.9 304.7 205.54 305.2 205.63 305.7 205.53 306.2 205.12 306.7 205.39 307.2 205.58 307.7 204.81 308.2 205.79 308.7 205.28 309.2 205.44 309.7 206.19 L309.7 208.72 309.2 208.97 308.7 209.65 308.2 209.76 307.7 208.86 307.2 209.68 306.7 208.33 306.2 208.72 305.7 208.96 305.2 208.9 304.7 209.08 304.2 208.74 303.7 209.13 303.2 208.53 302.7 208.67 302.2 208.36 301.7 208.34 301.2 208.72 300.7 208.78 300.2 208.76 299.7 208.75 299.2 208.52 298.7 208.18 298.2 208.83 297.7 208.17 297.2 209.14 296.7 208.44 296.2 208.33 295.7 209.57 295.2 208.65 294.7 208.36 294.2 208.46 293.7 208.34 293.2 209.59 292.7 208.8 292.2 208.32 291.7 208.82 291.2 208.63 290.7 208.14 290.2 208.24 289.7 207.96 289.2 208.74 288.7 208.31 288.2 208.97 287.7 208.18 287.2 208.16 286.7 208.42 286.2 208.3 285.7 208.22 285.2 208.38 284.7 208.6 284.2 208.37 283.7 209.75 283.2 208.95 282.7 208.45 282.2 209.32 281.7 209.13 281.2 208.84 280.7 208.78 280.2 208.6 279.7 208.68 279.2 209.55 278.7 208.77 278.2 209.53 277.7 209.1 277.2 209.35 276.7 208.91 276.2 208.43 275.7 209.42 275.2 208.56 274.7 208.46 274.2 209.2 273.7 208.88 273.2 208.53 272.7 208.88 272.2 208.45 271.7 208.63 271.2 209.25 270.7 208.84 270.2 208.91 269.7 209.13 269.2 208.19 268.7 208.21 268.2 208.15 267.7 208.43 267.2 208.38 266.7 209.07 266.2 208.24 265.7 209.27 265.2 208.49 264.7 208.47 264.2 208.39 263.7 208.45 263.2 208.4 262.7 208.63 262.2 208.63 261.7 208.76 261.2 208.75 260.7 208.84 260.2 209.02 259.7 209.35 259.2 209.07 258.7 209.3 258.2 209.33 257.7 209.92 257.2 208.79 256.7 209.08 256.2 208.5 255.7 208.45 255.2 210.2 254.7 208.36 254.2 208.89 253.7 208.35 253.2 208.33 252.7 208.76 252.2 208.32 251.7 208.38 251.2 208.24 250.7 208.82 250.2 208.67 249.7 207.97 249.2 208.44 248.7 208.27 248.2 208.08 247.7 208.39 247.2 208.58 246.7 208.07 246.2 208.49 245.7 208.21 245.2 208.84 244.7 208.26 244.2 208.56 243.7 208.43 243.2 208.77 242.7 208.37 242.2 208.78 241.7 208.33 241.2 208.45 240.7 208.42 240.2 208.45 239.7 208.86 239.2 208.58 238.7 208.77 238.2 208.79 237.7 209.55 237.2 208.96 236.7 208.88 236.2 208.86 235.7 208.74 235.2 209.5 234.7 208.71 234.2 208.67 233.7 208.71 233.2 208.69 232.7 209.2 232.2 209.76 231.7 208.76 231.2 208.72 230.7 208.57 230.2 208.55 229.7 208.97 229.2 208.24 228.7 208.4 228.2 208.31 227.7 208.25 227.2 208.72 226.7 209.84 226.2 208.26 225.7 208.81 225.2 208.44 224.7 208.24 224.2 208.05 223.7 208.16 223.2 207.97 222.7 208.71 222.2 208.8 221.7 208.69 221.2 207.8 220.7 207.56 220.2 207.76 219.7 207.77 219.2 207.88 218.7 208.37 218.2 208.01 217.7 208.17 217.2 209.14 216.7 207.95 216.2 208.11 215.7 208.29 215.2 208.01 214.7 207.94 214.2 208.22 213.7 207.97 213.2 207.85 212.7 207.91 212.2 207.92 211.7 208.07 211.2 208.84 210.7 208.27 210.2 208.29 209.7 208.06 209.2 208.62 208.7 208.6 208.2 208.16 207.7 208.83 207.2 208.87 206.7 208.79 206.2 208.7 205.7 208.35 205.2 208.7 204.7 208.11 204.2 208.9 203.7 208.17 203.2 208.79 202.7 208.58 202.2 209.4 201.7 208.04 201.2 208.35 200.7 207.92 200.2 208.3 199.7 207.93 199.2 209.38 198.7 208.55 198.2 208.51 197.7 208.76 197.2 207.73 196.7 208.2 196.2 209.18 195.7 209.85 195.2 209.11 194.7 207.94 194.2 208.07 193.7 207.85 193.2 208.08 192.7 208.05 192.2 207.95 191.7 208.41 191.2 208.03 190.7 208.25 190.2 209.54 189.7 208.21 189.2 208.21 188.7 208.26 188.2 208.78 187.7 209.05 187.2 208.53 186.7 208.62 186.2 208.68 185.7 208.42 185.2 208.57 184.7 209.81 184.2 209.42 183.7 208.42 183.2 208.34 182.7 208.44 182.2 208.51 181.7 208.94 181.2 208.59 180.7 207.81 180.2 208.02 179.7 207.97 179.2 207.88 178.7 208.56 178.2 208.05 177.7 207.79 177.2 208.44 176.7 208 176.2 208.02 175.7 209.27 175.2 209.07 174.7 208.47 174.2 208.43 173.7 207.9 173.2 208.84 172.7 208.32 172.2 208.28 171.7 209.1 171.2 208.97 170.7 208.88 170.2 209.38 169.7 208.63 169.2 208.82 168.7 208.96 168.2 208.39 167.7 208.72 167.2 208.98 166.7 209.09 166.2 208.49 165.7 208.28 165.2 208.71 164.7 208.87 164.2 208.54 163.7 209.14 163.2 208.9 162.7 209.18 162.2 208.88 161.7 208.75 161.2 209.1 160.7 208.56 160.2 208.38 159.7 208.88 159.2 209.06 158.7 208.18 158.2 208 157.7 208.53 157.2 208.49 156.7 208.68 156.2 208.67 155.7 208.71 155.2 208.7 154.7 208.48 154.2 208.82 153.7 209.52 153.2 209.08 152.7 208.58 152.2 208.23 151.7 208.83 151.2 209.54 150.7 208.7 150.2 208.42 149.7 208.9 149.2 208.64 148.7 209.36 148.2 208.95 147.7 209.02 147.2 209.23 146.7 209.06 146.2 208.66 145.7 208.63 145.2 208.48 144.7 208.65 144.2 209.11 143.7 208.32 143.2 208.5 142.7 208.28 142.2 209.69 141.7 208.45 141.2 208.72 140.7 209.15 140.2 209.69 139.7 208.98 139.2 209.47 138.7 208.91 138.2 208.25 137.7 208.27 137.2 209.23 136.7 208.6 136.2 208.95 135.7 208.34 135.2 208.57 134.7 209.12 134.2 208.37 133.7 208.92 133.2 209.02 132.7 208.43 132.2 208.98 131.7 208.2 131.2 209.04 130.7 208.7 130.2 208.33 129.7 208.31 129.2 208.37 128.7 208.32 128.2 208.5 127.7 208.93 127.2 209.91 126.7 208.77 126.2 208.77 125.7 208.65 125.2 208.86 124.7 208.85 124.2 209.07 123.7 208.32 123.2 208.26 122.7 208.26 122.2 208.69 121.7 209.04 121.2 208.52 120.7 208.3 120.2 208.94 119.7 208.63 119.2 208.55 118.7 208.19 118.2 208.95 117.7 209.52 117.2 208.58 116.7 209.53 116.2 208.66 115.7 209.13 115.2 209.14 114.7 208.43 114.2 208.7 113.7 208.83 113.2 209.81 112.7 209.36 112.2 208.7 111.7 208.38 111.2 209.39 110.7 208.8 110.2 208.29 109.7 209.64 109.2 208.33 108.7 208.27 108.2 208.3 107.7 208.43 107.2 207.87 106.7 208.48 106.2 208.19 105.7 207.87 105.2 207.75 104.7 208.07 104.2 208.26 103.7 208.51 103.2 208.92 102.7 208.54 102.2 208.75 101.7 209.8 101.2 208.83 100.7 210.21 100.2 209.05 99.7 209.15 99.2 208.46 98.7 208.74 98.2 208.88 97.7 208.49 97.2 208.77 96.7 208.7 96.2 208.57 95.7 208.79 95.2 209.15 94.7 209.07 94.2 208.37 93.7 209.41 93.2 208.59 92.7 208.33 92.2 208.89 91.7 209.42 91.2 209.62 90.7 209.14 90.2 208.55 89.7 209.2 89.2 209.14 88.7 208.46 88.2 208.85 87.7 208.45 87.2 208.85 86.7 208.79 86.2 209.11 85.7 208.94 85.2 208.93 84.7 208.93 84.2 208.9 83.7 208.6 83.2 209.54 82.7 209.2 82.2 208.39 81.7 208.24 81.2 208.97 80.7 208.82 80.2 208.86 79.7 209.21 79.2 208.67 78.7 208.51 78.2 208.52 77.7 208.14 77.2 208.4 76.7 208.44 76.2 208.58 75.7 208.7 75.2 208.53 74.7 208.81 74.2 208.29 73.7 209.11 73.2 208.52 72.7 208.19 72.2 208.21 71.7 208.78 71.2 208.23 70.7 208.4 70.2 209 69.7 209.28 69.2 208.39 68.7 208.43 68.2 208.49 67.7 208.46 67.2 208.44 66.7 209 66.2 208.76 65.7 209.09 65.2 208.98 64.7 208.86 64.2 209.14 63.7 209.18 63.2 209.13 62.7 208.95 62.2 209.2 61.7 209.05 61.2 209.37 60.7 208.87 60.2 208.73 59.7 208.76 59.2 208.71 58.7 209.72 58.2 209.22 57.7 209.67 57.2 208.61 56.7 208.64 56.2 208.37 55.7 209.14 55.2 208.92 54.7 209.12 54.2 208.98 53.7 208.28 53.2 208.78 52.7 208.54 52.2 208.35 51.7 208.87Z" fill="#111" stroke="#111" stroke-width="0.3"/>
<path d="M201.71 207.74L201.83 208.89L202.26 207.74M129.89 208.01L130.01 217.05L130.75 208.01M85.27 208.63L85.39 209.67L85.81 208.63M140.34 209.39L140.46 213.39L141 209.39M100.22 208.75L100.34 210.17L100.78 208.75M290.93 207.84L291.05 211.51L291.57 207.84M109.27 208.03L109.39 217.51L110.15 208.03M153.58 208.78L153.7 210.53L154.15 208.78M191.42 207.73L191.54 218.82L192.36 207.73M117.29 208.28L117.41 210.08L117.86 208.28M179.39 207.58L179.51 209.79L179.98 207.58M194.2 207.55L194.32 208.76L194.74 207.55M65.27 208.68L65.39 212.29L65.92 208.68M295.24 208.35L295.36 212.06L295.89 208.35M190.42 209.24L190.54 210.98L190.99 209.24M90.09 208.9L90.21 211.84L90.71 208.9M304.2 208.83L304.32 212.43L304.84 208.83M95.77 208.49L95.89 216.4L96.59 208.49M238.93 208.47L239.05 214.64L239.67 208.47M176.21 207.72L176.33 209.52L176.78 207.72M118.63 208.65L118.75 210.18L119.19 208.65M149.88 208.6L150 213.01L150.56 208.6M175.89 208.97L176.01 210.25L176.44 208.97M147.66 208.93L147.78 210.35L148.21 208.93M115.94 208.83L116.06 214.31L116.66 208.83M159.22 208.76L159.34 210.32L159.78 208.76M164.27 208.24L164.39 211L164.88 208.24M228.76 208.1L228.88 211.08L229.38 208.1M103.27 208.62L103.39 211.14L103.87 208.62M64.34 208.84L64.46 215.2L65.1 208.84M266.14 208.97L266.26 213.22L266.81 208.97M70.44 208.7L70.56 215.19L71.2 208.7M214.35 207.92L214.47 209.39L214.91 207.92M193.23 207.78L193.35 209.73L193.81 207.78M302.31 208.06L302.43 212.67L302.99 208.06M101.32 208.53L101.44 209.35L101.85 208.53M279.95 208.38L280.07 210.61L280.53 208.38M86.06 208.64L86.18 222.14L87.1 208.64M96.61 208.27L96.73 210.98L97.21 208.27M220.07 207.47L220.19 209.65L220.66 207.47M95.11 208.77L95.23 218.16L95.99 208.77M202.85 208.28L202.97 214.63L203.6 208.28M225.5 208.14L225.62 217.38L226.37 208.14M84.81 208.63L84.93 213.4L85.5 208.63M254.98 208.06L255.1 209.12L255.52 208.06M161.01 208.26L161.13 213.08L161.7 208.26M300.27 208.46L300.39 209.62L300.81 208.46M55.63 208.62L55.75 217.44L56.48 208.62M72.82 207.89L72.94 210.49L73.43 207.89M211.45 208.54L211.57 210.57L212.04 208.54M118.55 208.65L118.67 209.57L119.08 208.65M155.79 208.41L155.91 209.22L156.32 208.41M285.37 208.08L285.49 211.58L286.01 208.08M140.72 208.85L140.84 214.96L141.47 208.85M65.82 208.79L65.94 211.85L66.44 208.79M89.32 208.84L89.44 217.45L90.16 208.84M194.93 207.64L195.05 210.93L195.56 207.64M251.04 208.52L251.16 210.57L251.62 208.52M246.69 208.19L246.81 213.1L247.39 208.19M173.42 208.54L173.54 210.64L174 208.54M114.05 208.53L114.17 211.5L114.66 208.53M85.6 208.63L85.72 210.64L86.18 208.63M109.85 209.34L109.97 212.46L110.48 209.34M104 208.21L104.12 217.22L104.86 208.21M285 208.3L285.12 211.59L285.63 208.3M157.08 208.38L157.2 210.36L157.66 208.38M82.57 208.09L82.69 216.52L83.41 208.09M216.07 207.99L216.19 211.66L216.71 207.99M169.75 208.33L169.87 210.07L170.32 208.33M60.14 208.46L60.26 212.33L60.8 208.46M303.52 208.23L303.64 213.72L304.24 208.23M294.95 208.06L295.07 210.85L295.56 208.06M119.92 208.33L120.04 214.92L120.69 208.33M265.95 208.97L266.07 214.53L266.67 208.97M169.21 208.52L169.33 210.11L169.77 208.52M225.16 207.94L225.28 210.6L225.77 207.94M219.96 207.47L220.08 220.97L221 207.47M240.06 208.56L240.18 212.94L240.74 208.56M165.47 208.41L165.59 210.91L166.07 208.41M90.22 208.25L90.34 210.37L90.81 208.25M258.6 209.03L258.72 210.38L259.16 209.03M165.45 208.41L165.57 211.85L166.09 208.41M165.87 207.98L165.99 208.87L166.4 207.98M247.07 207.77L247.19 210.77L247.69 207.77M228.16 207.95L228.28 211.98L228.82 207.95M305.88 208.66L306 212.63L306.54 208.66M152.01 208.53L152.13 214.36L152.74 208.53M215.22 207.71L215.34 208.95L215.77 207.71M74.14 208.81L74.26 212.77L74.8 208.81M81.51 208.67L81.63 214.51L82.25 208.67M117.9 209.22L118.02 217.12L118.72 209.22M124.37 208.77L124.49 210.84L124.95 208.77M166.93 208.79L167.05 215.22L167.68 208.79M111.28 209.09L111.4 211.48L111.87 209.09M292.35 208.02L292.47 208.85L292.88 208.02M162.27 208.58L162.39 218.28L163.15 208.58M150.58 208.12L150.7 213.19L151.28 208.12M283.62 208.65L283.74 215.68L284.4 208.65M256.4 208.2L256.52 209.16L256.94 208.2M249.87 207.67L249.99 209.8L250.45 207.67M286.71 208.12L286.83 214.05L287.45 208.12M241.26 208.15L241.38 213.8L241.99 208.15M130.94 208.4L131.06 215.35L131.72 208.4M298.8 207.88L298.92 211.51L299.45 207.88M59.65 208.41L59.77 213.55L60.36 208.41M282.36 209.02L282.48 210.94L282.93 209.02M160.07 208.58L160.19 211.02L160.67 208.58M139.14 208.61L139.26 214.76L139.89 208.61M174.19 207.6L174.31 210.42L174.8 207.6M155.05 208.18L155.17 212.73L155.73 208.18M272.97 208.58L273.09 213.98L273.69 208.58M259.06 209L259.18 215.21L259.81 209M243.85 208.13L243.97 213.01L244.54 208.13M112.27 208.4L112.39 211.51L112.9 208.4M165.31 208.41L165.43 209.56L165.86 208.41" fill="none" stroke="#111" stroke-width="0.65" opacity="0.9" stroke-linejoin="round"/>
<path d="M283.7 258.9 L309 258.9 L309 247.1" fill="none" stroke="#333" stroke-width="1.3" stroke-linejoin="round"/>
<text transform="translate(520 195.4) scale(1.07 1)" font-size="9" text-anchor="middle">sIPSC (nRT)</text>
<text transform="translate(362.6 213.5) scale(1.07 1)" font-size="9">WT</text>
<text transform="translate(349.3 239.6) scale(1.07 1)" font-size="9">NLG2 KO</text>
<path d="M399.8 232.45 400.3 232.56 400.8 232.4 401.3 232.57 401.8 232.2 402.3 232.73 402.8 232.61 403.3 232.66 403.8 232.56 404.3 232.21 404.8 232.46 405.3 232.27 405.8 232.42 406.3 232.86 406.8 231.57 407.3 232.78 407.8 232.88 408.3 232.84 408.8 232.63 409.3 232.57 409.8 231.39 410.3 232.4 410.8 231.63 411.3 232.19 411.8 232.02 412.3 232.12 412.8 232.23 413.3 231.88 413.8 231.87 414.3 232.32 414.8 232.31 415.3 232.08 415.8 232.47 416.3 232.25 416.8 230.88 417.3 232 417.8 231.86 418.3 231.96 418.8 232.14 419.3 232.4 419.8 232.56 420.3 232.46 420.8 232.66 421.3 232.79 421.8 232.48 422.3 232.23 422.8 231.77 423.3 232.02 423.8 232.62 424.3 232.6 424.8 232.91 425.3 233.68 425.8 233.64 426.3 232.67 426.8 232.56 427.3 232.31 427.8 231.92 428.3 232.06 428.8 231 429.3 232.01 429.8 231.83 430.3 231.66 430.8 231.79 431.3 232.04 431.8 231.41 432.3 231.38 432.8 232 433.3 231.38 433.8 231.62 434.3 232.53 434.8 231.17 435.3 232.54 435.8 232.64 436.3 232.34 436.8 232.41 437.3 232.82 437.8 232.61 438.3 232.48 438.8 231.76 439.3 232.79 439.8 232.85 440.3 232.91 440.8 233.42 441.3 233.19 441.8 233.29 442.3 232.85 442.8 233.68 443.3 233.03 443.8 233.07 444.3 233.66 444.8 232.99 445.3 233.65 445.8 233.21 446.3 232.38 446.8 232.39 447.3 232.74 447.8 232.9 448.3 232.69 448.8 231.86 449.3 231.94 449.8 232.79 450.3 232.6 450.8 232.07 451.3 232.52 451.8 231.55 452.3 232.46 452.8 232.39 453.3 232.25 453.8 232.49 454.3 232.6 454.8 232.51 455.3 232.16 455.8 232.12 456.3 232.05 456.8 232.36 457.3 232.1 457.8 232.03 458.3 232.65 458.8 232.94 459.3 232.61 459.8 232.01 460.3 233.11 460.8 232.99 461.3 233.08 461.8 232.27 462.3 232.1 462.8 232.8 463.3 232.32 463.8 231.44 464.3 231.99 464.8 231.87 465.3 232.74 465.8 233.41 466.3 233.47 466.8 233.22 467.3 232.6 467.8 232.96 468.3 232.13 468.8 232.47 469.3 232.04 469.8 233.06 470.3 232.68 470.8 232.65 471.3 232.66 471.8 232.96 472.3 233.05 472.8 233.17 473.3 231.95 473.8 233.11 474.3 233.2 474.8 233.21 475.3 233.07 475.8 232.01 476.3 233.39 476.8 233.31 477.3 232.96 477.8 233.42 478.3 232.84 478.8 232.81 479.3 232.81 479.8 233.36 480.3 232.65 480.8 232.31 481.3 232.89 481.8 232.51 482.3 233.07 482.8 233.5 483.3 233.15 483.8 233.51 484.3 233.35 484.8 233.1 485.3 232.53 485.8 233.22 486.3 233.08 486.8 233.54 487.3 233.38 487.8 233.47 488.3 232.89 488.8 232.93 489.3 232.65 489.8 232.26 490.3 232.56 490.8 231.93 491.3 232.24 491.8 232.01 492.3 231.71 492.8 231.63 493.3 232.13 493.8 232.17 494.3 232.43 494.8 231.8 495.3 232.56 495.8 232.64 496.3 231.65 496.8 231.97 497.3 232.32 497.8 231.75 498.3 231.77 498.8 232.38 499.3 232.11 499.8 231.47 500.3 231.93 500.8 232.58 501.3 232.53 501.8 232.31 502.3 231.96 502.8 232.31 503.3 232.34 503.8 232.32 504.3 232.26 504.8 232.39 505.3 232.25 505.8 231.08 506.3 231.42 506.8 231.8 507.3 231.37 507.8 231.62 508.3 231.76 508.8 231.99 509.3 233 509.8 232.35 510.3 231.8 510.8 232.41 511.3 232.17 511.8 231.76 512.3 232 512.8 232.3 513.3 232.42 513.8 231.47 514.3 232.44 514.8 231.94 515.3 232.13 515.8 232.2 516.3 232.44 516.8 232.6 517.3 232.11 517.8 232.18 518.3 231.62 518.8 232.12 519.3 232.51 519.8 232.18 520.3 232.19 520.8 231.73 521.3 232.1 521.8 232.4 522.3 231.59 522.8 231.74 523.3 231.59 523.8 232.31 524.3 232.07 524.8 231.64 525.3 231.68 525.8 231.37 526.3 232.07 526.8 231.66 527.3 231.8 527.8 231.81 528.3 231.18 528.8 232.54 529.3 232.03 529.8 232.03 530.3 231.74 530.8 231.65 531.3 232.04 531.8 231.01 532.3 231.72 532.8 231.92 533.3 232.34 533.8 232.71 534.3 233.01 534.8 232.41 535.3 233.01 535.8 232.46 536.3 232.6 536.8 232.46 537.3 232.52 537.8 232.58 538.3 232.76 538.8 232.52 539.3 231.88 539.8 232.23 540.3 231.95 540.8 231.82 541.3 232.4 541.8 232.42 542.3 232.46 542.8 231.98 543.3 231.97 543.8 231.95 544.3 232.31 544.8 231.63 545.3 232.73 545.8 232.4 546.3 232.2 546.8 232.32 547.3 231.94 547.8 232.22 548.3 232.26 548.8 232.49 549.3 232.47 549.8 231.3 550.3 232.39 550.8 232.13 551.3 232.81 551.8 232.71 552.3 232.33 552.8 232.86 553.3 232.27 553.8 231.21 554.3 232.08 554.8 231.97 555.3 232.32 555.8 232.94 556.3 232.95 556.8 233.17 557.3 233.06 557.8 232.77 558.3 232.71 558.8 233.23 559.3 233.57 559.8 233.99 560.3 233.28 560.8 233.66 561.3 233.58 561.8 232.98 562.3 233.16 562.8 232.34 563.3 232.87 563.8 233.06 564.3 233.12 564.8 233.03 565.3 232.01 565.8 232.51 566.3 231.76 566.8 232.75 567.3 232.57 567.8 232.98 568.3 232.07 568.8 232.94 569.3 233.07 569.8 231.64 570.3 231.85 570.8 232.34 571.3 232.02 571.8 231.28 572.3 231.48 572.8 231.06 573.3 232.69 573.8 232.84 574.3 233.05 574.8 232.08 575.3 232.1 575.8 232.12 576.3 230.74 576.8 232.3 577.3 231.62 577.8 232.38 578.3 231.76 578.8 231.49 579.3 232.17 579.8 232.08 580.3 232.03 580.8 232.25 581.3 231.5 581.8 232.91 582.3 233.05 582.8 232.95 583.3 232.76 583.8 232.9 584.3 233.08 584.8 233.59 585.3 233.33 585.8 232.84 586.3 232.67 586.8 232.96 587.3 232.89 587.8 233.02 588.3 232.91 588.8 232.48 589.3 231.9 589.8 231.81 590.3 232.19 590.8 232.27 591.3 231.98 591.8 231.87 592.3 231.55 592.8 232.18 593.3 231.8 593.8 232.27 594.3 232.57 594.8 231.89 595.3 231.91 595.8 232.97 596.3 231.63 596.8 233.13 597.3 232.47 597.8 233.25 598.3 233.52 598.8 233.38 599.3 233.04 599.8 233.11 600.3 232.5 600.8 233.16 601.3 233.8 601.8 233.69 602.3 233.87 602.8 233.87 603.3 233.48 603.8 233.3 604.3 233.41 604.8 232.49 605.3 232.49 605.8 232.29 606.3 232.16 606.8 232.41 607.3 232.56 607.8 232.35 608.3 231.8 608.8 231.6 609.3 231.22 609.8 231.15 610.3 231.18 610.8 231.39 611.3 231.91 611.8 231.49 612.3 231.79 612.8 232.29 613.3 232.71 613.8 232.19 614.3 232.93 614.8 233.17 615.3 232.66 615.8 232.22 616.3 232.28 616.8 232.85 617.3 232.21 617.8 232.56 618.3 232.19 618.8 232.36 619.3 232.04 619.8 232.6 620.3 232.7 620.8 232.15 621.3 232.43 621.8 231.6 622.3 232.28 622.8 232.1 623.3 231.07 623.8 231.63 624.3 232.03 624.8 231.64 625.3 232.73 625.8 231.64 626.3 232.09 626.8 231.1 627.3 231.94 627.8 232.16 628.3 231.37 628.8 231.5 629.3 231.87 629.8 232.36 630.3 232.58 630.8 232.87 631.3 232.32 631.8 231.85 632.3 231.66 632.8 231.24 633.3 232.25 633.8 231.98 634.3 232.28 634.8 232.21 635.3 230.83 635.8 232.25 636.3 231.91 636.8 232.5 637.3 232.7 637.8 231.88 638.3 232.42 638.8 232.71 639.3 231.81 639.8 230.93 640.3 232.58 640.8 232.25 641.3 231.92 641.8 232.33 642.3 232.56 642.8 232.55 643.3 231.88 643.8 232.53 644.3 232.76 644.8 232.12 645.3 232.63 645.8 232.79 646.3 231.31 646.8 232.75 647.3 232.46 647.8 233.12 648.3 233.13 648.8 233.18 649.3 232.42 649.8 233.1 650.3 232.69 650.8 232.95 651.3 232.9 651.8 232.9 652.3 232.16 652.8 232.95 653.3 232.04 653.8 232.57 654.3 233 654.8 232.67 655.3 232.44 655.8 232.87 656.3 231.67 656.8 232.32 657.3 231.48 657.8 231.28 658.3 232.42 658.8 232.03 659.3 232.54 L659.3 234.7 658.8 235.1 658.3 234.55 657.8 234.51 657.3 234.71 656.8 234.84 656.3 235.99 655.8 235.73 655.3 235.43 654.8 235.24 654.3 235.53 653.8 236 653.3 235.27 652.8 235.53 652.3 234.88 651.8 235.03 651.3 235.89 650.8 235.25 650.3 235.86 649.8 236.2 649.3 236.11 648.8 235.5 648.3 235.43 647.8 235.81 647.3 235.29 646.8 234.8 646.3 234.85 645.8 234.87 645.3 235.05 644.8 235.49 644.3 235.38 643.8 234.67 643.3 235.04 642.8 235.04 642.3 235.43 641.8 234.9 641.3 235.13 640.8 235.01 640.3 234.9 639.8 235.59 639.3 235.16 638.8 235.36 638.3 235.81 637.8 235.08 637.3 235.49 636.8 234.61 636.3 234.82 635.8 234.34 635.3 234.39 634.8 234.95 634.3 235.05 633.8 234.88 633.3 234.76 632.8 234.58 632.3 234.62 631.8 234.79 631.3 234.6 630.8 235.52 630.3 235.1 629.8 234.82 629.3 235.34 628.8 234.33 628.3 235.33 627.8 234.28 627.3 234.34 626.8 234.73 626.3 234.9 625.8 236.07 625.3 236 624.8 234.86 624.3 234.32 623.8 234.69 623.3 234.5 622.8 234.77 622.3 234.88 621.8 234.74 621.3 234.62 620.8 235.05 620.3 234.84 619.8 236.09 619.3 235.26 618.8 235.52 618.3 235.45 617.8 235.05 617.3 235.79 616.8 235.77 616.3 236.18 615.8 236.18 615.3 235.6 614.8 236.07 614.3 235.18 613.8 235.4 613.3 234.93 612.8 234.99 612.3 234.86 611.8 234.6 611.3 234.12 610.8 233.7 610.3 233.74 609.8 233.75 609.3 233.95 608.8 234 608.3 234.51 607.8 234.72 607.3 234.95 606.8 235.01 606.3 235.4 605.8 235.94 605.3 235.2 604.8 235.2 604.3 235.49 603.8 235.74 603.3 236.45 602.8 236.77 602.3 236.13 601.8 236.18 601.3 235.81 600.8 235.9 600.3 235.92 599.8 235.15 599.3 235.27 598.8 235.39 598.3 236.61 597.8 236.3 597.3 236.24 596.8 235.99 596.3 236.1 595.8 235.02 595.3 235.95 594.8 234.9 594.3 235.08 593.8 235.43 593.3 235.32 592.8 234.54 592.3 235.34 591.8 236.02 591.3 234.85 590.8 234.6 590.3 234.24 589.8 234.95 589.3 235.15 588.8 234.9 588.3 235.08 587.8 235.36 587.3 235.65 586.8 235.86 586.3 235.81 585.8 236.09 585.3 235.66 584.8 236.45 584.3 235.93 583.8 236.29 583.3 235.94 582.8 235.42 582.3 235.5 581.8 235.56 581.3 235.3 580.8 234.51 580.3 234.41 579.8 234.83 579.3 234.66 578.8 235.12 578.3 234.91 577.8 234.68 577.3 234.81 576.8 234.38 576.3 234.67 575.8 234.42 575.3 235.19 574.8 234.89 574.3 235.92 573.8 235.7 573.3 235.36 572.8 235.06 572.3 234.75 571.8 234.77 571.3 234.72 570.8 235.33 570.3 234.95 569.8 235.74 569.3 235.16 568.8 235.26 568.3 235.08 567.8 235.06 567.3 235.28 566.8 234.95 566.3 235.64 565.8 235.32 565.3 235.36 564.8 235.83 564.3 235.6 563.8 235.52 563.3 235.28 562.8 235.37 562.3 235.71 561.8 235.75 561.3 236.32 560.8 236.64 560.3 236.48 559.8 236.18 559.3 236.18 558.8 235.98 558.3 236.1 557.8 235.68 557.3 236.18 556.8 235.39 556.3 235.26 555.8 235.76 555.3 235.6 554.8 234.39 554.3 234.51 553.8 234.98 553.3 235.48 552.8 235.02 552.3 234.85 551.8 234.85 551.3 234.97 550.8 235.11 550.3 235.05 549.8 234.75 549.3 235.18 548.8 234.42 548.3 235.09 547.8 235.34 547.3 234.83 546.8 234.68 546.3 234.53 545.8 234.93 545.3 234.83 544.8 235.31 544.3 234.85 543.8 235.08 543.3 234.46 542.8 234.5 542.3 234.65 541.8 234.57 541.3 234.67 540.8 234.82 540.3 234.92 539.8 234.8 539.3 234.77 538.8 234.92 538.3 234.99 537.8 235.42 537.3 234.91 536.8 235.39 536.3 234.95 535.8 235.89 535.3 235.31 534.8 235.41 534.3 235.72 533.8 235.11 533.3 234.8 532.8 234.81 532.3 234.73 531.8 234.14 531.3 234.11 530.8 234.21 530.3 234.26 529.8 234.26 529.3 234.5 528.8 235.04 528.3 235.24 527.8 234.53 527.3 235.22 526.8 234.36 526.3 234.69 525.8 234.61 525.3 235.72 524.8 234.55 524.3 234.41 523.8 234.57 523.3 234.92 522.8 234.83 522.3 234.55 521.8 234.49 521.3 234.94 520.8 234.77 520.3 234.52 519.8 234.56 519.3 234.63 518.8 234.71 518.3 234.99 517.8 234.57 517.3 234.67 516.8 235.15 516.3 235.21 515.8 234.75 515.3 234.7 514.8 234.69 514.3 234.73 513.8 234.76 513.3 234.99 512.8 234.8 512.3 235.73 511.8 234.53 511.3 234.64 510.8 234.63 510.3 234.91 509.8 235.34 509.3 235.6 508.8 235.43 508.3 234.73 507.8 234.66 507.3 234.5 506.8 234.96 506.3 234.5 505.8 234.64 505.3 234.32 504.8 234.73 504.3 234.75 503.8 235.33 503.3 235.12 502.8 234.39 502.3 234.96 501.8 235.27 501.3 234.79 500.8 235.22 500.3 235.3 499.8 235.14 499.3 234.67 498.8 234.68 498.3 234.21 497.8 234.96 497.3 235.29 496.8 235.33 496.3 235.48 495.8 235.28 495.3 235.48 494.8 234.64 494.3 235.05 493.8 234.48 493.3 234.75 492.8 234.57 492.3 234.65 491.8 235.63 491.3 234.96 490.8 234.76 490.3 235.45 489.8 234.94 489.3 236.05 488.8 236.07 488.3 235.47 487.8 235.87 487.3 236.34 486.8 236.45 486.3 236.5 485.8 235.39 485.3 235.22 484.8 235.61 484.3 236.25 483.8 236.91 483.3 236.19 482.8 236.75 482.3 236.24 481.8 235.35 481.3 235.94 480.8 235.28 480.3 235.28 479.8 236.35 479.3 235.49 478.8 236.41 478.3 236.11 477.8 235.82 477.3 235.98 476.8 236.15 476.3 236.5 475.8 236 475.3 236.1 474.8 237.3 474.3 235.99 473.8 236.04 473.3 235.88 472.8 235.69 472.3 236.21 471.8 236.06 471.3 236.69 470.8 235.95 470.3 235.76 469.8 235.11 469.3 234.95 468.8 235.51 468.3 235.44 467.8 235.21 467.3 235.42 466.8 235.66 466.3 235.79 465.8 235.78 465.3 235.62 464.8 235.59 464.3 235.48 463.8 235.05 463.3 234.72 462.8 235.04 462.3 235.22 461.8 235.82 461.3 235.08 460.8 235.58 460.3 235.07 459.8 235.72 459.3 235.09 458.8 235.85 458.3 235.06 457.8 235.18 457.3 235.37 456.8 234.61 456.3 234.27 455.8 234.55 455.3 234.89 454.8 235.53 454.3 235.49 453.8 235.21 453.3 235.07 452.8 235.43 452.3 234.67 451.8 234.59 451.3 235.08 450.8 234.89 450.3 234.72 449.8 234.79 449.3 235.6 448.8 235.18 448.3 235.38 447.8 235.19 447.3 235.73 446.8 235.2 446.3 235.78 445.8 235.58 445.3 235.83 444.8 235.98 444.3 235.74 443.8 236.19 443.3 235.86 442.8 235.83 442.3 236.73 441.8 236.5 441.3 235.72 440.8 235.71 440.3 236.83 439.8 235.72 439.3 235.35 438.8 235.38 438.3 235.56 437.8 235.06 437.3 235.2 436.8 235.28 436.3 235.79 435.8 235.29 435.3 235.21 434.8 235.52 434.3 234.71 433.8 234.46 433.3 234.64 432.8 235.23 432.3 234.19 431.8 235.17 431.3 234.21 430.8 234.54 430.3 234.88 429.8 234.94 429.3 234.73 428.8 234.34 428.3 234.57 427.8 234.41 427.3 234.72 426.8 235.76 426.3 235.27 425.8 236.03 425.3 236.09 424.8 235.84 424.3 235.24 423.8 235.07 423.3 235.28 422.8 234.96 422.3 235.4 421.8 234.86 421.3 235.14 420.8 235.83 420.3 235.9 419.8 235.13 419.3 234.85 418.8 235.16 418.3 234.47 417.8 234.45 417.3 234.56 416.8 234.83 416.3 236.04 415.8 235.15 415.3 234.72 414.8 234.79 414.3 235.69 413.8 234.7 413.3 234.89 412.8 235.25 412.3 234.76 411.8 235.03 411.3 234.56 410.8 234.95 410.3 235.15 409.8 234.5 409.3 234.55 408.8 234.93 408.3 234.96 407.8 234.97 407.3 234.99 406.8 235.57 406.3 234.97 405.8 234.97 405.3 235.48 404.8 234.82 404.3 235.32 403.8 235.97 403.3 235.18 402.8 235.48 402.3 234.87 401.8 234.73 401.3 234.84 400.8 236.22 400.3 235.17 399.8 234.86Z" fill="#8c8c1a" stroke="#8c8c1a" stroke-width="0.3"/>
<path d="M651.56 235.59L651.68 238.34L652.17 235.59M484.24 236.61L484.36 242.16L484.96 236.61M404.42 235.02L404.54 243.03L405.24 235.02M542.94 234.2L543.06 235.37L543.48 234.2M597.19 235.69L597.31 245.64L598.08 235.69M422.98 234.66L423.1 243.18L423.82 234.66M600.25 234.85L600.37 235.8L600.79 234.85M558.13 235.38L558.25 239.88L558.81 235.38M439.76 235.05L439.88 235.96L440.3 235.05M463.11 234.74L463.23 237.32L463.72 234.74M587.77 235.35L587.89 240.87L588.49 235.35M507.58 234.2L507.7 241.61L508.38 234.2M631.76 234.3L631.88 237.8L632.4 234.3M414.44 235.39L414.56 244.32L415.3 235.39M489.98 234.64L490.1 237.2L490.58 234.64M403.08 235.18L403.2 238.58L403.72 235.18M646.91 234.5L647.03 235.96L647.47 234.5M485.93 235.09L486.05 240.16L486.63 235.09M576.93 234.08L577.05 240.53L577.69 234.08M410.9 234.65L411.02 239.81L411.6 234.65M592.83 234.24L592.95 237.07L593.45 234.24M572.06 234.47L572.18 235.78L572.62 234.47M654.57 235.23L654.69 238.72L655.21 235.23M476.23 235.7L476.35 237.11L476.78 235.7M634.74 234.75L634.86 239.77L635.44 234.75M456.04 234.25L456.16 237.27L456.66 234.25M487.24 236.15L487.36 241.17L487.94 236.15M607.92 234.42L608.04 237.66L608.55 234.42M564.61 235.3L564.73 237.52L565.19 235.3M602.99 236.47L603.11 237.53L603.53 236.47M613.15 234.69L613.27 238.07L613.79 234.69M582.26 235.26L582.38 236.58L582.81 235.26M412.31 234.46L412.43 239.09L413 234.46M619.89 235.79L620.01 241.06L620.6 235.79M595.99 234.72L596.11 236.16L596.55 234.72M580.91 234.21L581.03 236.08L581.48 234.21M438.37 235.26L438.49 239.28L439.03 235.26M636.56 234.52L636.68 236.8L637.16 234.52M644.78 235.08L644.9 236.08L645.32 235.08M446.7 235.48L446.82 238.24L447.31 235.48M430.3 234.64L430.42 238.56L430.95 234.64M454.47 235.19L454.59 240.29L455.18 235.19M652.26 234.73L652.38 239.33L652.94 234.73M587.13 235.56L587.25 240.24L587.82 235.56M582.16 235.26L582.28 240.48L582.86 235.26M549.09 234.12L549.21 235.96L549.66 234.12M475.94 235.7L476.06 239.12L476.57 235.7M522.17 234.19L522.29 237.97L522.82 234.19M552.95 234.72L553.07 235.99L553.5 234.72M465.58 235.32L465.7 238.72L466.22 235.32M417.31 234.26L417.43 239.55L418.02 234.26M547.84 235.04L547.96 236.88L548.41 235.04M566.43 235.34L566.55 236.74L566.99 235.34M575.8 234.89L575.92 236.14L576.35 234.89M501.18 234.92L501.3 236.52L501.75 234.92M645.95 234.57L646.07 235.56L646.49 234.57M410.83 234.65L410.95 237.83L411.46 234.65M511.71 234.34L511.83 243.02L512.56 234.34M575.75 234.89L575.87 240.8L576.49 234.89M514.83 234.39L514.95 235.26L515.37 234.39M527.43 234.92L527.55 236.54L527.99 234.92M526.8 234.39L526.92 235.88L527.36 234.39M413.31 234.59L413.43 236L413.87 234.59M558.26 235.38L558.38 236.96L558.82 235.38M645.06 235.19L645.18 236.15L645.6 235.19M627.55 234.04L627.67 236.24L628.14 234.04M647.38 234.99L647.5 236.93L647.96 234.99M487.35 236.04L487.47 237.93L487.93 236.04M564.32 235.3L564.44 240.6L565.03 235.3M560.25 235.88L560.37 236.78L560.78 235.88" fill="none" stroke="#8c8c1a" stroke-width="0.65" opacity="0.9" stroke-linejoin="round"/>
<path d="M399.8 204.26 400.3 204.02 400.8 204.47 401.3 204.3 401.8 203.29 402.3 202.96 402.8 204.69 403.3 204.66 403.8 204.17 404.3 202.36 404.8 204.5 405.3 204.31 405.8 204.3 406.3 204.86 406.8 204.11 407.3 204.46 407.8 204.8 408.3 204.19 408.8 204.24 409.3 204.26 409.8 202.92 410.3 203.87 410.8 203.48 411.3 202.42 411.8 203.4 412.3 203.78 412.8 203.96 413.3 203.49 413.8 203.41 414.3 204.67 414.8 204.22 415.3 202.8 415.8 203.86 416.3 203.72 416.8 204.61 417.3 204.36 417.8 204.46 418.3 205.07 418.8 204.4 419.3 204.2 419.8 204.09 420.3 203.95 420.8 204.48 421.3 204.44 421.8 204.14 422.3 204.02 422.8 204.42 423.3 204.53 423.8 204.35 424.3 203.65 424.8 203.41 425.3 203.12 425.8 203.21 426.3 203.71 426.8 203.84 427.3 203.22 427.8 203.29 428.3 203.81 428.8 204.05 429.3 203.13 429.8 202.86 430.3 203.01 430.8 203.59 431.3 203.12 431.8 203.1 432.3 203.52 432.8 203.8 433.3 203.8 433.8 204.21 434.3 203.7 434.8 203.91 435.3 204.3 435.8 204.31 436.3 204.23 436.8 203.82 437.3 203.27 437.8 203.59 438.3 202.39 438.8 204.02 439.3 203.19 439.8 202.38 440.3 203.48 440.8 203.19 441.3 203.71 441.8 202.24 442.3 202.8 442.8 202.58 443.3 202.62 443.8 203.21 444.3 203.07 444.8 203.56 445.3 203.76 445.8 203.59 446.3 203.97 446.8 204.37 447.3 203.35 447.8 203.76 448.3 204.06 448.8 204.2 449.3 204.26 449.8 204.31 450.3 203.93 450.8 204.18 451.3 204.62 451.8 203.94 452.3 204.63 452.8 204.59 453.3 204.39 453.8 204.37 454.3 205.23 454.8 204.15 455.3 204.49 455.8 204.08 456.3 203.91 456.8 204.41 457.3 203.85 457.8 204.18 458.3 204.44 458.8 204.39 459.3 204.1 459.8 204.15 460.3 203.95 460.8 204.32 461.3 203.22 461.8 204.03 462.3 204.92 462.8 204.58 463.3 204.82 463.8 204.8 464.3 205.19 464.8 204.66 465.3 204.58 465.8 204.93 466.3 204.61 466.8 204.66 467.3 204.56 467.8 204.56 468.3 204.5 468.8 204.81 469.3 203.77 469.8 203.01 470.3 204.53 470.8 203.92 471.3 204.31 471.8 203.74 472.3 203.89 472.8 203.7 473.3 203.07 473.8 203.1 474.3 202.74 474.8 201.95 475.3 201.49 475.8 202.21 476.3 201.6 476.8 203.43 477.3 203.9 477.8 203.78 478.3 203.37 478.8 202.71 479.3 203.2 479.8 202.01 480.3 202.33 480.8 203.38 481.3 203.68 481.8 203.68 482.3 202.68 482.8 204.63 483.3 204.48 483.8 204.53 484.3 203.7 484.8 204.08 485.3 202.92 485.8 204.07 486.3 204.49 486.8 204.94 487.3 204.56 487.8 204.08 488.3 204.45 488.8 204.83 489.3 205.09 489.8 204.8 490.3 205.17 490.8 204.45 491.3 204.04 491.8 203.94 492.3 203.17 492.8 204.45 493.3 204.24 493.8 204.73 494.3 204.15 494.8 205.11 495.3 205.09 495.8 204.07 496.3 205 496.8 205.59 497.3 204.39 497.8 204.79 498.3 204.92 498.8 204.16 499.3 204.1 499.8 203.79 500.3 202.89 500.8 203.38 501.3 202.73 501.8 204.09 502.3 204.64 502.8 204.51 503.3 205.33 503.8 204.79 504.3 203.96 504.8 204.2 505.3 204.2 505.8 204.84 506.3 204.94 506.8 204.62 507.3 204.21 507.8 202.97 508.3 204.31 508.8 203.97 509.3 203.85 509.8 203.61 510.3 202.5 510.8 204.15 511.3 203.42 511.8 203.59 512.3 202.85 512.8 202.95 513.3 203.89 513.8 204.05 514.3 204.42 514.8 204.5 515.3 203.84 515.8 204.32 516.3 204.14 516.8 205.18 517.3 203.94 517.8 205.25 518.3 204.46 518.8 203.86 519.3 203.66 519.8 204.13 520.3 203.69 520.8 203.74 521.3 204.17 521.8 204.49 522.3 203.87 522.8 204.5 523.3 203.66 523.8 204.18 524.3 204.49 524.8 204.1 525.3 204.4 525.8 204.18 526.3 203.62 526.8 203.99 527.3 204.23 527.8 204.16 528.3 204 528.8 204.03 529.3 204.57 529.8 204.61 530.3 204.74 530.8 203.64 531.3 204.01 531.8 204.74 532.3 203.41 532.8 202.72 533.3 203.31 533.8 203.51 534.3 204.55 534.8 204.47 535.3 204.59 535.8 204.03 536.3 203.26 536.8 202.42 537.3 203.13 537.8 202.33 538.3 203.33 538.8 203.13 539.3 203.7 539.8 203.1 540.3 203.85 540.8 203.83 541.3 203.52 541.8 203.22 542.3 202.76 542.8 203.87 543.3 203.71 543.8 203.31 544.3 202.8 544.8 204.34 545.3 203.96 545.8 204.06 546.3 203.23 546.8 203.4 547.3 203 547.8 204.06 548.3 203.77 548.8 203.78 549.3 202.48 549.8 202.56 550.3 203.72 550.8 203.12 551.3 203.19 551.8 204.32 552.3 204.73 552.8 205.13 553.3 204.46 553.8 205.01 554.3 204.4 554.8 203.38 555.3 202.96 555.8 204.43 556.3 204.56 556.8 204.01 557.3 204.26 557.8 204.25 558.3 204.14 558.8 202.74 559.3 203.49 559.8 203.88 560.3 204.1 560.8 203.95 561.3 204.68 561.8 204.46 562.3 204.45 562.8 203.47 563.3 204.56 563.8 204.39 564.3 205.13 564.8 204.41 565.3 205.01 565.8 204.04 566.3 203.62 566.8 204.71 567.3 204.27 567.8 204.12 568.3 203.03 568.8 204.23 569.3 204 569.8 203.99 570.3 204.16 570.8 202.86 571.3 204.25 571.8 203.26 572.3 204.46 572.8 203.77 573.3 203.81 573.8 203.57 574.3 203.93 574.8 203.54 575.3 201.81 575.8 204.02 576.3 203.48 576.8 203.21 577.3 203.29 577.8 204.24 578.3 204.67 578.8 204.2 579.3 204.6 579.8 203.82 580.3 203.58 580.8 204.33 581.3 203.47 581.8 204.91 582.3 205.03 582.8 203.72 583.3 202.76 583.8 203.54 584.3 203.98 584.8 203.48 585.3 203.58 585.8 204.33 586.3 203.43 586.8 204.6 587.3 204.06 587.8 203.76 588.3 204.37 588.8 203.96 589.3 202.68 589.8 203.91 590.3 203.22 590.8 203.61 591.3 203.86 591.8 203.91 592.3 203.83 592.8 203.68 593.3 203.39 593.8 202.37 594.3 203.64 594.8 204.12 595.3 204.15 595.8 202.52 596.3 203.42 596.8 203.87 597.3 202.82 597.8 203.17 598.3 202.48 598.8 203.74 599.3 202.98 599.8 203.48 600.3 203.45 600.8 203.08 601.3 203.95 601.8 203.14 602.3 204.58 602.8 203.92 603.3 203.81 603.8 204.94 604.3 204.63 604.8 204.65 605.3 204.68 605.8 204.15 606.3 204.18 606.8 204.02 607.3 204.31 607.8 204.84 608.3 204.27 608.8 204.66 609.3 204.58 609.8 204.46 610.3 204.95 610.8 204.72 611.3 204.35 611.8 204.85 612.3 205.09 612.8 203.56 613.3 204.83 613.8 203.54 614.3 202.69 614.8 202.54 615.3 202.6 615.8 203.05 616.3 202.69 616.8 203.86 617.3 203.72 617.8 204.28 618.3 204.37 618.8 204.15 619.3 204.15 619.8 204.25 620.3 203.79 620.8 204.08 621.3 204.37 621.8 204.81 622.3 204 622.8 204.32 623.3 204.29 623.8 204.07 624.3 204.5 624.8 204.18 625.3 203.86 625.8 204.11 626.3 203.83 626.8 204.18 627.3 202.56 627.8 203.51 628.3 203.07 628.8 203.05 629.3 204.01 629.8 203.69 630.3 203.96 630.8 204.17 631.3 202.19 631.8 204.19 632.3 203.54 632.8 203.77 633.3 203.05 633.8 203.84 634.3 203.79 634.8 203.31 635.3 203.7 635.8 203.79 636.3 203.14 636.8 203.78 637.3 203.84 637.8 203.87 638.3 204.41 638.8 204.53 639.3 204.58 639.8 202.99 640.3 203.45 640.8 203.87 641.3 202.96 641.8 202.84 642.3 202.53 642.8 203.54 643.3 203.97 643.8 203.83 644.3 204.35 644.8 203.13 645.3 203.29 645.8 204.22 646.3 204.58 646.8 203.53 647.3 204.02 647.8 204.53 648.3 204.62 648.8 202.14 649.3 203.91 649.8 204.4 650.3 204.02 650.8 204.36 651.3 204.7 651.8 204.58 652.3 204.62 652.8 204.39 653.3 203.08 653.8 204.04 654.3 203.62 654.8 203.29 655.3 203.75 655.8 203.28 656.3 204.12 656.8 203.94 657.3 202.02 657.8 203.63 658.3 203.58 658.8 204.27 659.3 204.67 L659.3 207.81 658.8 207.63 658.3 208.09 657.8 207.04 657.3 206.93 656.8 207.28 656.3 206.94 655.8 207.63 655.3 207.02 654.8 206.56 654.3 207.42 653.8 208.58 653.3 208.32 652.8 207.96 652.3 208.02 651.8 208.51 651.3 208.49 650.8 208.43 650.3 208.15 649.8 207.25 649.3 207.56 648.8 208.14 648.3 208.2 647.8 207.45 647.3 207.83 646.8 208.08 646.3 208.13 645.8 207.4 645.3 207.43 644.8 207.55 644.3 207.41 643.8 208.04 643.3 207.75 642.8 207.1 642.3 206.6 641.8 206.83 641.3 206.54 640.8 207.49 640.3 207.09 639.8 207.36 639.3 208.01 638.8 208.65 638.3 208.16 637.8 208.95 637.3 208.4 636.8 207.96 636.3 207.15 635.8 207.71 635.3 207.08 634.8 206.84 634.3 206.65 633.8 207.19 633.3 207.78 632.8 206.75 632.3 207.19 631.8 207.98 631.3 207.43 630.8 207.64 630.3 207.82 629.8 209.21 629.3 207.11 628.8 206.36 628.3 206.64 627.8 206.82 627.3 207.56 626.8 207.89 626.3 207.33 625.8 207.18 625.3 207.85 624.8 207.67 624.3 207.99 623.8 208.14 623.3 207.87 622.8 208.69 622.3 207.84 621.8 207.64 621.3 207.53 620.8 208.13 620.3 208.03 619.8 207.26 619.3 207.89 618.8 208.12 618.3 208.26 617.8 206.99 617.3 207.49 616.8 207.06 616.3 207.3 615.8 206.53 615.3 206.83 614.8 208.12 614.3 207 613.8 208.39 613.3 207.45 612.8 208.22 612.3 208.41 611.8 208.44 611.3 208.01 610.8 207.97 610.3 208.41 609.8 208.41 609.3 207.96 608.8 209.05 608.3 207.77 607.8 208.98 607.3 208.15 606.8 208.73 606.3 208.09 605.8 207.8 605.3 207.68 604.8 208.22 604.3 208.97 603.8 208.24 603.3 208.73 602.8 207.98 602.3 207.61 601.8 207.24 601.3 207.6 600.8 207.97 600.3 208.11 599.8 208.68 599.3 207.21 598.8 206.81 598.3 206.84 597.8 207.18 597.3 207.18 596.8 207.05 596.3 207.82 595.8 206.98 595.3 207.09 594.8 207.78 594.3 207.74 593.8 206.52 593.3 207.31 592.8 207.18 592.3 207.37 591.8 207.37 591.3 206.8 590.8 206.87 590.3 206.53 589.8 207.12 589.3 207.93 588.8 207.38 588.3 207.67 587.8 207.95 587.3 208.4 586.8 207.66 586.3 207.93 585.8 207.85 585.3 207.47 584.8 207.85 584.3 207.19 583.8 208.74 583.3 207.3 582.8 207.66 582.3 208.01 581.8 208.26 581.3 208.02 580.8 207.96 580.3 208.68 579.8 207.96 579.3 208.25 578.8 208.76 578.3 207.94 577.8 207.41 577.3 207.8 576.8 207.37 576.3 207.68 575.8 207.81 575.3 208.02 574.8 207.26 574.3 206.92 573.8 207.34 573.3 207.45 572.8 206.91 572.3 207.24 571.8 207.4 571.3 207.86 570.8 207.08 570.3 207.2 569.8 207.77 569.3 208.42 568.8 207.37 568.3 207.05 567.8 207.09 567.3 207.12 566.8 208.14 566.3 208.65 565.8 208.34 565.3 207.86 564.8 208.58 564.3 208.13 563.8 208.63 563.3 208.07 562.8 207.63 562.3 207.55 561.8 207.82 561.3 208.53 560.8 208 560.3 208.02 559.8 208.04 559.3 207.99 558.8 207.75 558.3 207.6 557.8 208.26 557.3 207.89 556.8 207.85 556.3 208.59 555.8 208.68 555.3 207.68 554.8 207.55 554.3 208.02 553.8 208.62 553.3 209.08 552.8 208.04 552.3 208.83 551.8 207.72 551.3 207.18 550.8 208.51 550.3 207.02 549.8 207.62 549.3 206.47 548.8 207.36 548.3 206.97 547.8 207.16 547.3 206.73 546.8 206.58 546.3 206.63 545.8 206.77 545.3 207.23 544.8 207.93 544.3 207.28 543.8 207.24 543.3 206.81 542.8 207.13 542.3 207.25 541.8 208.1 541.3 207.39 540.8 207.25 540.3 207.54 539.8 207.04 539.3 206.99 538.8 206.88 538.3 206.5 537.8 206.77 537.3 205.94 536.8 206.96 536.3 207.47 535.8 207.48 535.3 207.71 534.8 208.01 534.3 207.47 533.8 207.35 533.3 208.41 532.8 207.84 532.3 208.74 531.8 207.98 531.3 207.84 530.8 208.31 530.3 208.42 529.8 208.17 529.3 207.78 528.8 208.15 528.3 207.27 527.8 207.33 527.3 208.26 526.8 208.4 526.3 208.31 525.8 208.45 525.3 207.8 524.8 207.41 524.3 208.15 523.8 208.35 523.3 207.75 522.8 208.01 522.3 207.45 521.8 208.63 521.3 207.33 520.8 207.67 520.3 207.16 519.8 207.7 519.3 207.21 518.8 207.5 518.3 208.44 517.8 208.51 517.3 208.3 516.8 209.19 516.3 207.82 515.8 207.69 515.3 208.22 514.8 207.28 514.3 207.35 513.8 207.15 513.3 207.29 512.8 207.92 512.3 207.38 511.8 207.51 511.3 207.91 510.8 207.37 510.3 207.28 509.8 207.47 509.3 206.75 508.8 208.37 508.3 207.16 507.8 208.05 507.3 208.76 506.8 208.26 506.3 209.95 505.8 208.37 505.3 208.24 504.8 208.92 504.3 208.56 503.8 208.08 503.3 208.4 502.8 207.98 502.3 207.95 501.8 209.12 501.3 207.84 500.8 208.11 500.3 209.56 499.8 207.98 499.3 207.53 498.8 207.87 498.3 208.88 497.8 209.02 497.3 209.24 496.8 208.72 496.3 208.64 495.8 209.14 495.3 208.21 494.8 207.76 494.3 208.36 493.8 208.99 493.3 208.28 492.8 207.49 492.3 207.82 491.8 207.05 491.3 207.92 490.8 208.63 490.3 208.77 489.8 208.26 489.3 208.07 488.8 208.21 488.3 209.01 487.8 207.73 487.3 208.75 486.8 208.25 486.3 207.85 485.8 208.13 485.3 207.58 484.8 208.22 484.3 208.31 483.8 208.5 483.3 207.63 482.8 207.67 482.3 207.26 481.8 207.11 481.3 207.85 480.8 206.84 480.3 207.07 479.8 206.43 479.3 207.08 478.8 206.9 478.3 207.53 477.8 207.72 477.3 207.69 476.8 206.62 476.3 206.57 475.8 205.85 475.3 206.82 474.8 206.42 474.3 207.51 473.8 206.62 473.3 206.47 472.8 206.86 472.3 207.4 471.8 207.22 471.3 207.35 470.8 207.57 470.3 208.77 469.8 208.12 469.3 207.66 468.8 207.6 468.3 208.06 467.8 208.35 467.3 207.88 466.8 208.21 466.3 208.69 465.8 208.1 465.3 207.9 464.8 207.89 464.3 207.94 463.8 208.01 463.3 208.66 462.8 208.32 462.3 207.78 461.8 208.36 461.3 207.74 460.8 207.27 460.3 208.16 459.8 207.69 459.3 207.64 458.8 207.43 458.3 208.13 457.8 207.46 457.3 207.37 456.8 208.96 456.3 207.52 455.8 209.25 455.3 208.18 454.8 209.28 454.3 208.96 453.8 208.27 453.3 207.86 452.8 207.59 452.3 208.87 451.8 208.55 451.3 208.79 450.8 207.77 450.3 207.39 449.8 208.52 449.3 207.7 448.8 207.34 448.3 207.69 447.8 207.83 447.3 207.14 446.8 207.52 446.3 207.86 445.8 207.02 445.3 207.44 444.8 206.73 444.3 207.7 443.8 206.64 443.3 207.01 442.8 206.89 442.3 206.49 441.8 207.58 441.3 207.39 440.8 207.18 440.3 207.05 439.8 207.28 439.3 206.95 438.8 206.83 438.3 207.81 437.8 207.37 437.3 207.92 436.8 207.23 436.3 207.46 435.8 207.71 435.3 207.6 434.8 208.08 434.3 207.86 433.8 208.4 433.3 207.37 432.8 206.84 432.3 206.59 431.8 206.54 431.3 208.03 430.8 206.9 430.3 207.53 429.8 207.2 429.3 206.97 428.8 207.97 428.3 207.24 427.8 207.7 427.3 207.7 426.8 206.8 426.3 206.9 425.8 207.39 425.3 207.64 424.8 207.2 424.3 207.14 423.8 209.74 423.3 207.57 422.8 208.06 422.3 207.75 421.8 207.67 421.3 207.42 420.8 209.09 420.3 207.97 419.8 207.44 419.3 207.17 418.8 208.09 418.3 208.93 417.8 208.65 417.3 208.35 416.8 208.13 416.3 207.14 415.8 207.09 415.3 207.55 414.8 207.89 414.3 207.58 413.8 207.39 413.3 208.59 412.8 207.52 412.3 207.51 411.8 207.79 411.3 207.33 410.8 207.44 410.3 207.22 409.8 208.04 409.3 207.19 408.8 208.21 408.3 207.95 407.8 207.48 407.3 208.07 406.8 208.21 406.3 208.08 405.8 207.95 405.3 207.99 404.8 207.97 404.3 207.22 403.8 207.86 403.3 207.75 402.8 207.36 402.3 207.66 401.8 207.53 401.3 207.05 400.8 207.57 400.3 208.52 399.8 208.24Z" fill="#111" stroke="#111" stroke-width="0.3"/>
<path d="M507.35 208.46L507.47 211.16L507.96 208.46M559.91 207.74L560.03 211.35L560.55 207.74M621.57 207.23L621.69 212.55L622.28 207.23M489.95 207.96L490.07 209.81L490.52 207.96M605.6 207.38L605.72 211.72L606.28 207.38M418.58 208.63L418.7 209.7L419.12 208.63M500.17 207.68L500.29 211.94L500.84 207.68M499.06 207.57L499.18 211.37L499.71 207.57M525.63 207.5L525.75 209.25L526.2 207.5M537.01 206.66L537.13 208.92L537.6 206.66M478.03 207.42L478.15 210.36L478.65 207.42M440.02 206.98L440.14 210.96L440.68 206.98M634 206.89L634.12 212.47L634.72 206.89M560.65 207.72L560.77 209.19L561.21 207.72M420.05 207.14L420.17 212.3L420.76 207.14M570.48 206.9L570.6 209.54L571.08 206.9M423.4 207.27L423.52 210.42L424.02 207.27M512.93 207.62L513.05 210.78L513.56 207.62M419.98 207.14L420.1 208.45L420.54 207.14M652.84 207.66L652.96 209.35L653.41 207.66M508.75 206.86L508.87 213.62L509.52 206.86M564.87 208.28L564.99 210L565.44 208.28M577.88 207.11L578 209.58L578.47 207.11M406.39 207.78L406.51 212.92L407.1 207.78M650.92 208.13L651.04 209.03L651.46 208.13M442.29 207.28L442.41 213.19L443.03 207.28M408.2 207.18L408.32 216.36L409.07 207.18M520.26 207.4L520.38 210.09L520.86 207.4M528.14 207.03L528.26 208.84L528.71 207.03M639.9 207.06L640.02 209.19L640.48 207.06M555.21 207.25L555.33 215.86L556.05 207.25M617.17 206.76L617.29 207.6L617.7 206.76M491.7 207.62L491.82 210.81L492.33 207.62M534.63 207.17L534.75 212.32L535.34 207.17M533.3 208.11L533.42 215.78L534.11 208.11M476.23 205.55L476.35 218.05L477.23 205.55M536.72 207.17L536.84 216.77L537.6 207.17M418.49 208.63L418.61 213.34L419.18 208.63M552.17 207.42L552.29 208.36L552.71 207.42M408.08 207.18L408.2 209.42L408.67 207.18M447.62 206.84L447.74 208.21L448.17 206.84M636.29 207.41L636.41 208.38L636.82 207.41M601.95 206.94L602.07 208.53L602.51 206.94M477.75 207.39L477.87 210.4L478.37 207.39M568.05 206.79L568.17 217.58L568.98 206.79M477.87 207.42L477.99 211.43L478.53 207.42M444.75 207.4L444.87 211.95L445.43 207.4M496.77 208.34L496.89 212.7L497.44 208.34M410.85 207.14L410.97 209.39L411.44 207.14M513.46 206.99L513.58 209.56L514.06 206.99M436.18 207.41L436.3 213.21L436.91 207.41M538.62 206.2L538.74 208.55L539.21 206.2M551.88 207.42L552 214.07L552.65 207.42M603.63 208.43L603.75 209.62L604.17 208.43M648.96 207.84L649.08 209.18L649.51 207.84M576.95 207.07L577.07 209.98L577.56 207.07M603.63 208.43L603.75 211.32L604.25 208.43M600.87 207.67L600.99 208.99L601.43 207.67M613.47 207.15L613.59 208.16L614.01 207.15M573.17 206.61L573.29 216.84L574.08 206.61M563.39 207.77L563.51 210.18L563.99 207.77M631.97 207.68L632.09 208.91L632.52 207.68M580.01 207.66L580.13 211.56L580.66 207.66M627.7 207.26L627.82 212.79L628.42 207.26M594.49 207.44L594.61 208.95L595.05 207.44M430.2 206.9L430.32 211.04L430.87 206.9M610.76 208.11L610.88 208.94L611.3 208.11M605.06 207.92L605.18 212.82L605.76 207.92M502.75 207.65L502.87 209.03L503.3 207.65M556.77 208.29L556.89 213.67L557.48 208.29M502.34 207.65L502.46 210.84L502.97 207.65M656.28 207.33L656.4 212.72L656.99 207.33M504.53 208.26L504.65 212.81L505.21 208.26M578.19 207.11L578.31 213.54L578.95 207.11M522.28 208.33L522.4 213.37L522.99 208.33M559.56 207.69L559.68 211.09L560.19 207.69M433.75 207.07L433.87 210.82L434.4 207.07M435.81 207.41L435.93 215.08L436.62 207.41M476.84 206.32L476.96 208.28L477.41 206.32M475.85 205.55L475.97 206.41L476.38 205.55M574.47 206.62L574.59 213.76L575.25 206.62M498.61 208.58L498.73 210.86L499.2 208.58M601.91 206.94L602.03 222.44L603.03 206.94M497.64 208.94L497.76 218.13L498.51 208.94M589.66 207.63L589.78 212.49L590.36 207.63M525.52 207.5L525.64 215.58L526.35 207.5M489.35 207.77L489.47 208.6L489.88 207.77M439.06 206.53L439.18 211.46L439.75 206.53M504.89 208.62L505.01 210.63L505.47 208.62M498.03 208.72L498.15 209.74L498.57 208.72M413.42 208.29L413.54 210.25L414 208.29M561.37 208.23L561.49 209.73L561.93 208.23M423.21 207.76L423.33 209.91L423.8 207.76M470.57 208.47L470.69 211.15L471.17 208.47M481.17 206.54L481.29 211.64L481.87 206.54M618.13 206.69L618.25 210.01L618.76 206.69M493.4 207.98L493.52 213.54L494.12 207.98M403.9 207.56L404.02 212.45L404.6 207.56M528.82 207.85L528.94 212.05L529.49 207.85M457.38 207.07L457.5 209.87L457.99 207.07M438.97 206.53L439.09 214.15L439.78 206.53M636.24 207.41L636.36 209.75L636.84 207.41M422.83 207.76L422.95 209.96L423.41 207.76M453.31 207.56L453.43 209.47L453.89 207.56M427.12 206.5L427.24 208.37L427.7 206.5M461.39 207.44L461.51 210.6L462.02 207.44M408.98 207.91L409.1 209.22L409.53 207.91M531.16 208.01L531.28 223.51L532.28 208.01M597.86 206.88L597.98 210.01L598.48 206.88M514.94 206.98L515.06 208.28L515.49 206.98M566.04 208.04L566.16 212.37L566.72 208.04M614.58 206.7L614.7 212.84L615.33 206.7M560.02 207.74L560.14 210.13L560.62 207.74M437.33 207.62L437.45 209.69L437.92 207.62M609.75 207.66L609.87 210.99L610.38 207.66M653.84 208.28L653.96 216.28L654.66 208.28M656.13 207.33L656.25 211.67L656.8 207.33M456.92 208.66L457.04 218.83L457.83 208.66M620.48 207.73L620.6 209.63L621.06 207.73M463.94 207.71L464.06 209.01L464.5 207.71M473.56 206.17L473.68 207.66L474.12 206.17M505.71 207.94L505.83 211.05L506.34 207.94M573.57 207.15L573.69 216.33L574.44 207.15M494.48 208.06L494.6 208.89L495.01 208.06M472.31 207.1L472.43 208.04L472.85 207.1M484.79 208.01L484.91 210L485.37 208.01M409.12 207.91L409.24 210.87L409.74 207.91M550.45 206.72L550.57 208.85L551.03 206.72M567.19 207.84L567.31 218.31L568.11 207.84M513.97 206.85L514.09 211.55L514.66 206.85" fill="none" stroke="#111" stroke-width="0.65" opacity="0.9" stroke-linejoin="round"/>
<path d="M636.4 258.8 L661 258.8 L661 248" fill="none" stroke="#333" stroke-width="1.3" stroke-linejoin="round"/>
<text transform="translate(177 592.6) scale(1.07 1)" font-size="9" text-anchor="middle">mIPSC (Thalamus)</text>
<text transform="translate(16.4 610) scale(1.07 1)" font-size="9">WT</text>
<text transform="translate(3.3 636.3) scale(1.07 1)" font-size="9">NLG2 KO</text>
<path d="M51.7 630.66 52.2 631.46 52.7 631.85 53.2 632.12 53.7 631.63 54.2 631.48 54.7 631.42 55.2 631.25 55.7 631.06 56.2 631.33 56.7 631.68 57.2 631.36 57.7 632.1 58.2 632.44 58.7 632.05 59.2 631.47 59.7 631.53 60.2 631.03 60.7 631.34 61.2 631.33 61.7 631.17 62.2 631 62.7 630.64 63.2 630.66 63.7 631.26 64.2 631.43 64.7 631.63 65.2 631.25 65.7 631.38 66.2 632.01 66.7 631.73 67.2 631.44 67.7 631.13 68.2 631.1 68.7 630.02 69.2 631.06 69.7 630.55 70.2 631.23 70.7 630.37 71.2 631.6 71.7 630.72 72.2 631.56 72.7 631.71 73.2 631.34 73.7 631.26 74.2 631.56 74.7 631.25 75.2 630.08 75.7 630.18 76.2 630.22 76.7 630.6 77.2 630.24 77.7 630.29 78.2 630.9 78.7 630.73 79.2 630.66 79.7 630.83 80.2 629.81 80.7 630.58 81.2 630.48 81.7 630.16 82.2 630.42 82.7 630.37 83.2 629.85 83.7 629.29 84.2 630.29 84.7 629.67 85.2 630.58 85.7 630.71 86.2 630.25 86.7 630.14 87.2 631.17 87.7 631.02 88.2 631.35 88.7 631.16 89.2 630.87 89.7 631.26 90.2 631.09 90.7 631.5 91.2 630.42 91.7 630.8 92.2 630.99 92.7 630.87 93.2 631.51 93.7 631.6 94.2 631.9 94.7 631.57 95.2 631.49 95.7 631.69 96.2 631.62 96.7 631.44 97.2 630.2 97.7 631.15 98.2 631.07 98.7 631.15 99.2 630.65 99.7 630.74 100.2 629.91 100.7 630.12 101.2 629.83 101.7 629.44 102.2 629.9 102.7 629.9 103.2 629.36 103.7 630.18 104.2 629.79 104.7 630.25 105.2 629.82 105.7 630.11 106.2 629.83 106.7 630.05 107.2 630.03 107.7 629.58 108.2 629.92 108.7 629.94 109.2 629.28 109.7 629.6 110.2 630.57 110.7 630.65 111.2 630.65 111.7 630.42 112.2 630.89 112.7 630.78 113.2 630.15 113.7 630.47 114.2 629.74 114.7 629.66 115.2 630.3 115.7 629.48 116.2 629.66 116.7 630.18 117.2 630.03 117.7 630.46 118.2 630.56 118.7 630.6 119.2 630.92 119.7 631.13 120.2 631.71 120.7 630.7 121.2 631.16 121.7 631.26 122.2 631.76 122.7 631.72 123.2 631.28 123.7 631.09 124.2 630.58 124.7 630.69 125.2 631.59 125.7 632.09 126.2 631.93 126.7 631.86 127.2 631.97 127.7 631.3 128.2 631.53 128.7 631.21 129.2 631.65 129.7 631.86 130.2 631.26 130.7 631.89 131.2 631.84 131.7 631.83 132.2 631.92 132.7 631.06 133.2 631.42 133.7 630.44 134.2 631 134.7 630.24 135.2 630.86 135.7 631.09 136.2 630.74 136.7 631.05 137.2 630.23 137.7 630.54 138.2 630.36 138.7 630.52 139.2 630.67 139.7 630.65 140.2 630.42 140.7 630.83 141.2 630.68 141.7 631.11 142.2 630.48 142.7 630.7 143.2 631.25 143.7 631.2 144.2 630.09 144.7 630.69 145.2 630.71 145.7 631.12 146.2 631 146.7 630.82 147.2 630.76 147.7 631.13 148.2 631.11 148.7 630.51 149.2 630.97 149.7 631.16 150.2 630.42 150.7 630.74 151.2 630.26 151.7 630.78 152.2 630.59 152.7 630.77 153.2 630.56 153.7 630.78 154.2 630.99 154.7 630.67 155.2 630.34 155.7 630.3 156.2 631.48 156.7 631.44 157.2 631.86 157.7 630.96 158.2 631.65 158.7 630.83 159.2 631.33 159.7 631.47 160.2 630.73 160.7 631.11 161.2 630.52 161.7 630.33 162.2 630.15 162.7 630.74 163.2 630.84 163.7 630.52 164.2 630.83 164.7 630.18 165.2 630.4 165.7 630.82 166.2 630.68 166.7 631.58 167.2 631.05 167.7 630.49 168.2 630.67 168.7 630.53 169.2 631.18 169.7 630.82 170.2 630.32 170.7 630.43 171.2 630.22 171.7 630.49 172.2 630.78 172.7 631.41 173.2 631.59 173.7 631.08 174.2 631.38 174.7 630.98 175.2 631.21 175.7 630.98 176.2 630 176.7 630.85 177.2 630.86 177.7 631.07 178.2 630.87 178.7 631.02 179.2 631.34 179.7 631.39 180.2 631.14 180.7 630.84 181.2 631.4 181.7 630.68 182.2 631 182.7 630.73 183.2 630.92 183.7 630.68 184.2 631.01 184.7 630.8 185.2 631.27 185.7 630.58 186.2 631.53 186.7 630.7 187.2 631.44 187.7 631.56 188.2 631.29 188.7 630.98 189.2 631.34 189.7 631.44 190.2 631.3 190.7 631.41 191.2 631.36 191.7 630.8 192.2 630.48 192.7 630.91 193.2 630.52 193.7 630.16 194.2 630.36 194.7 630.31 195.2 630.08 195.7 630.72 196.2 630.3 196.7 631.09 197.2 631.03 197.7 631.45 198.2 631.06 198.7 630.67 199.2 630.48 199.7 631.12 200.2 631.58 200.7 631.89 201.2 631.75 201.7 631.14 202.2 631.09 202.7 630.97 203.2 630.8 203.7 631.18 204.2 631.12 204.7 631.34 205.2 631.41 205.7 630.93 206.2 630.74 206.7 631.19 207.2 630.91 207.7 630.28 208.2 631.22 208.7 631.05 209.2 630.71 209.7 631.67 210.2 631.85 210.7 631.37 211.2 631.41 211.7 631.15 212.2 630.17 212.7 631.03 213.2 630.81 213.7 631.49 214.2 630.87 214.7 631.12 215.2 631.09 215.7 630.64 216.2 631.26 216.7 631.84 217.2 632.13 217.7 632.43 218.2 633.18 218.7 633.02 219.2 632.57 219.7 632.35 220.2 632.24 220.7 631.76 221.2 631.9 221.7 631.51 222.2 631.13 222.7 630.58 223.2 630.62 223.7 631.41 224.2 631.12 224.7 631.87 225.2 632.09 225.7 632.12 226.2 632.06 226.7 631.76 227.2 630.52 227.7 631.19 228.2 631.39 228.7 631.45 229.2 631.71 229.7 631.75 230.2 631.52 230.7 631.51 231.2 630.92 231.7 630.72 232.2 631.33 232.7 631.29 233.2 630.66 233.7 630.49 234.2 631.46 234.7 631.25 235.2 631.22 235.7 632.12 236.2 631.75 236.7 632.19 237.2 632.22 237.7 631.67 238.2 632.13 238.7 631.85 239.2 632.16 239.7 632.72 240.2 632.06 240.7 633 241.2 633.02 241.7 632.78 242.2 632.23 242.7 631.65 243.2 631.46 243.7 631.95 244.2 631.28 244.7 631.46 245.2 631.85 245.7 630.82 246.2 631.79 246.7 631.81 247.2 630.95 247.7 631.69 248.2 631.39 248.7 631.03 249.2 631.61 249.7 632.34 250.2 631.91 250.7 633.01 251.2 633.16 251.7 632.61 252.2 632.8 252.7 632.28 253.2 631.84 253.7 631.44 254.2 629.74 254.7 630.45 255.2 631.12 255.7 630.92 256.2 630.37 256.7 631.09 257.2 631.04 257.7 630.61 258.2 629.82 258.7 630.02 259.2 630.67 259.7 630.31 260.2 630.89 260.7 630.99 261.2 630.55 261.7 630.74 262.2 630.07 262.7 631.06 263.2 630.87 263.7 631.45 264.2 630.4 264.7 631.42 265.2 630.82 265.7 630.62 266.2 631.04 266.7 630.88 267.2 630.44 267.7 630.82 268.2 631.28 268.7 630.74 269.2 631.51 269.7 631.4 270.2 631.6 270.7 631.45 271.2 631.65 271.7 631.18 272.2 631.67 272.7 631.45 273.2 631.8 273.7 631.63 274.2 630.55 274.7 630.53 275.2 629.88 275.7 630.51 276.2 630.2 276.7 630.32 277.2 630.26 277.7 629.33 278.2 630.25 278.7 630.08 279.2 629.66 279.7 629.48 280.2 630.34 280.7 630.17 281.2 630.6 281.7 630.8 282.2 630.55 282.7 630.38 283.2 630.64 283.7 630.44 284.2 630.98 284.7 631.53 285.2 631.42 285.7 630.79 286.2 629.34 286.7 629.29 287.2 629.82 287.7 631.71 288.2 631.91 288.7 630.83 289.2 631.32 289.7 631.35 290.2 631.28 290.7 630.93 291.2 630.67 291.7 631.2 292.2 630.68 292.7 631.8 293.2 631.87 293.7 631.97 294.2 631.8 294.7 632.26 295.2 632.7 295.7 632.87 296.2 632.65 296.7 632.5 297.2 633.1 297.7 632.32 298.2 632.56 298.7 631.96 299.2 631.28 299.7 631.41 300.2 631.2 300.7 631.74 301.2 631.07 301.7 631.24 302.2 631.19 302.7 631.76 303.2 631.61 303.7 631.44 304.2 630.37 304.7 631.27 305.2 631.16 305.7 630.33 306.2 631.04 306.7 631.13 307.2 630.53 307.7 631.37 308.2 630.81 308.7 631.02 L308.7 633.14 308.2 633.23 307.7 633.69 307.2 633.79 306.7 633.26 306.2 633.49 305.7 633.78 305.2 633.54 304.7 634.04 304.2 633.64 303.7 633.76 303.2 633.78 302.7 633.91 302.2 634.05 301.7 633.89 301.2 634 300.7 634.69 300.2 634.81 299.7 634.82 299.2 634.47 298.7 634.69 298.2 634.91 297.7 634.89 297.2 635.61 296.7 635.67 296.2 636.1 295.7 635.29 295.2 634.76 294.7 635.11 294.2 634.29 293.7 634.55 293.2 634.93 292.7 634.47 292.2 634.51 291.7 633.98 291.2 633.18 290.7 634.34 290.2 633.45 289.7 633.6 289.2 634.28 288.7 634.23 288.2 634.29 287.7 633.92 287.2 633.17 286.7 632.64 286.2 632.22 285.7 632.89 285.2 633.28 284.7 633.8 284.2 633.67 283.7 633.08 283.2 632.8 282.7 633.22 282.2 633.08 281.7 633.32 281.2 632.84 280.7 632.93 280.2 633.05 279.7 632.17 279.2 632.47 278.7 633.12 278.2 632.51 277.7 632.43 277.2 632.53 276.7 632.94 276.2 632.44 275.7 632.45 275.2 632.63 274.7 632.89 274.2 633.11 273.7 633.56 273.2 633.86 272.7 633.91 272.2 633.71 271.7 634.84 271.2 633.77 270.7 634.39 270.2 633.57 269.7 633.69 269.2 633.57 268.7 633.54 268.2 633.41 267.7 633.02 267.2 632.89 266.7 633.5 266.2 632.87 265.7 633.26 265.2 633.31 264.7 633.36 264.2 633.83 263.7 633.58 263.2 633.55 262.7 634.02 262.2 633.8 261.7 633.75 261.2 633.45 260.7 633.3 260.2 633.92 259.7 633.04 259.2 632.81 258.7 632.77 258.2 633.24 257.7 633.38 257.2 633.19 256.7 633.68 256.2 633.01 255.7 633.06 255.2 633.38 254.7 633.27 254.2 633.34 253.7 634.34 253.2 634.29 252.7 634.44 252.2 635.37 251.7 635 251.2 635.38 250.7 635.6 250.2 635.02 249.7 634.84 249.2 634.04 248.7 634.3 248.2 633.87 247.7 633.76 247.2 634.12 246.7 633.74 246.2 634.28 245.7 634.59 245.2 634.2 244.7 633.73 244.2 633.78 243.7 634.37 243.2 634.01 242.7 635.08 242.2 635.08 241.7 634.88 241.2 635.15 240.7 635.46 240.2 635.06 239.7 635.55 239.2 634.87 238.7 634.34 238.2 634.39 237.7 634.67 237.2 634.2 236.7 634.18 236.2 635.1 235.7 634.03 235.2 633.87 234.7 633.68 234.2 633.47 233.7 634.38 233.2 633.4 232.7 634.05 232.2 633.47 231.7 633.79 231.2 634.77 230.7 633.67 230.2 634.2 229.7 634.63 229.2 634.15 228.7 633.82 228.2 633.72 227.7 633.41 227.2 633.85 226.7 634.99 226.2 634.2 225.7 635.18 225.2 634.28 224.7 634.09 224.2 634.15 223.7 634.48 223.2 633.25 222.7 634.17 222.2 633.9 221.7 633.43 221.2 634.61 220.7 634.31 220.2 634.65 219.7 635.12 219.2 634.81 218.7 635.03 218.2 635.5 217.7 635.36 217.2 634.88 216.7 634.22 216.2 634.13 215.7 634.16 215.2 633.19 214.7 633.61 214.2 633.45 213.7 634.01 213.2 633.54 212.7 633.65 212.2 633.46 211.7 633.53 211.2 633.87 210.7 633.75 210.2 634.4 209.7 633.97 209.2 633.64 208.7 633.29 208.2 633.33 207.7 634.69 207.2 633.58 206.7 633.14 206.2 633.34 205.7 633.95 205.2 634.6 204.7 633.51 204.2 633.66 203.7 634.33 203.2 634.18 202.7 633.51 202.2 633.64 201.7 633.76 201.2 634.5 200.7 634.59 200.2 634.31 199.7 633.6 199.2 632.93 198.7 633.2 198.2 633.46 197.7 633.36 197.2 634.66 196.7 633.77 196.2 633.79 195.7 632.93 195.2 632.69 194.7 632.65 194.2 632.56 193.7 633.23 193.2 633.37 192.7 633.7 192.2 633.15 191.7 633.26 191.2 634.14 190.7 634.16 190.2 633.66 189.7 633.41 189.2 633.58 188.7 633.83 188.2 633.8 187.7 634.19 187.2 633.95 186.7 633.8 186.2 633.65 185.7 633.34 185.2 633.25 184.7 633.21 184.2 633.29 183.7 633.41 183.2 634.17 182.7 633.72 182.2 633.34 181.7 633.55 181.2 634.01 180.7 633.49 180.2 633.95 179.7 634.17 179.2 634.32 178.7 633.45 178.2 634.3 177.7 633.97 177.2 633.62 176.7 633.53 176.2 633.42 175.7 633.53 175.2 633.32 174.7 633.64 174.2 633.59 173.7 633.63 173.2 633.7 172.7 633.97 172.2 634.31 171.7 633.05 171.2 633.05 170.7 632.84 170.2 633.73 169.7 633.35 169.2 633.65 168.7 633.33 168.2 633.17 167.7 634.36 167.2 633.88 166.7 634.2 166.2 634.01 165.7 633.26 165.2 633.05 164.7 633.78 164.2 633.16 163.7 633.02 163.2 633.53 162.7 633.03 162.2 632.98 161.7 632.65 161.2 633.05 160.7 634.89 160.2 634.56 159.7 634 159.2 634.51 158.7 633.81 158.2 633.48 157.7 634.65 157.2 634.09 156.7 634.39 156.2 634.19 155.7 633.18 155.2 632.77 154.7 633.04 154.2 633.18 153.7 634.11 153.2 633.87 152.7 633.3 152.2 632.92 151.7 633.04 151.2 633.09 150.7 634.19 150.2 633.2 149.7 633.46 149.2 633.73 148.7 633.19 148.2 633.79 147.7 633.68 147.2 633.35 146.7 633.49 146.2 633.28 145.7 633.93 145.2 634.06 144.7 633.68 144.2 633.49 143.7 633.68 143.2 633.47 142.7 633.88 142.2 633.2 141.7 633.19 141.2 633.16 140.7 634.05 140.2 633.15 139.7 633.54 139.2 633.44 138.7 633.33 138.2 633.1 137.7 633.06 137.2 633.36 136.7 633.36 136.2 633.32 135.7 633.23 135.2 633.46 134.7 633.52 134.2 633.17 133.7 633.72 133.2 633.52 132.7 633.79 132.2 634.08 131.7 634.09 131.2 634.54 130.7 634.46 130.2 634.11 129.7 634.44 129.2 634.3 128.7 633.85 128.2 633.99 127.7 633.81 127.2 634.22 126.7 634.17 126.2 635.44 125.7 634.8 125.2 634.9 124.7 633.72 124.2 633.71 123.7 633.99 123.2 635.3 122.7 635.55 122.2 634.06 121.7 633.54 121.2 633.78 120.7 633.73 120.2 633.91 119.7 633.91 119.2 634 118.7 634.62 118.2 633.98 117.7 633.12 117.2 633.54 116.7 632.38 116.2 632.65 115.7 632.82 115.2 632.73 114.7 633.36 114.2 633.23 113.7 632.86 113.2 632.88 112.7 633.03 112.2 633.43 111.7 633.15 111.2 633.59 110.7 632.87 110.2 633.03 109.7 633.08 109.2 632.41 108.7 631.94 108.2 632.24 107.7 631.98 107.2 632.34 106.7 632.7 106.2 633.51 105.7 632.27 105.2 633.14 104.7 633.13 104.2 632.5 103.7 632.68 103.2 632.68 102.7 632.31 102.2 632.29 101.7 632.27 101.2 633.55 100.7 632.55 100.2 632.48 99.7 632.75 99.2 633 98.7 633.43 98.2 633.71 97.7 633.45 97.2 633.69 96.7 633.85 96.2 634.1 95.7 634.78 95.2 634.03 94.7 634.46 94.2 634.18 93.7 635.15 93.2 634.05 92.7 634.02 92.2 633.38 91.7 633.66 91.2 633.4 90.7 633.67 90.2 634.2 89.7 633.92 89.2 633.67 88.7 633.81 88.2 633.38 87.7 633.76 87.2 633.59 86.7 633.93 86.2 633.29 85.7 632.97 85.2 633.07 84.7 632.66 84.2 633.09 83.7 632.72 83.2 632.66 82.7 632.94 82.2 632.68 81.7 632.38 81.2 632.59 80.7 632.76 80.2 633 79.7 633.04 79.2 633.09 78.7 633.94 78.2 633.12 77.7 633.39 77.2 632.95 76.7 633.21 76.2 633 75.7 633.42 75.2 633.04 74.7 633.25 74.2 633.94 73.7 634.15 73.2 634.73 72.7 635.14 72.2 633.93 71.7 633.99 71.2 633.46 70.7 633.34 70.2 633.91 69.7 633.18 69.2 633.38 68.7 634.33 68.2 633.19 67.7 633.54 67.2 634.47 66.7 633.89 66.2 633.95 65.7 634.13 65.2 634.35 64.7 634.15 64.2 634.44 63.7 633.46 63.2 633.3 62.7 633.5 62.2 633.15 61.7 633.74 61.2 633.5 60.7 633.67 60.2 634.14 59.7 633.68 59.2 633.98 58.7 634.63 58.2 634.53 57.7 634.29 57.2 634.34 56.7 633.61 56.2 633.49 55.7 633.54 55.2 633.97 54.7 634.21 54.2 634.43 53.7 633.97 53.2 634.68 52.7 633.83 52.2 633.76 51.7 634.24Z" fill="#8c8c1a" stroke="#8c8c1a" stroke-width="0.3"/>
<path d="M129.59 634L129.71 635.41L130.15 634M262.73 633.72L262.85 634.63L263.27 633.72M214.57 633.15L214.69 634.33L215.12 633.15M231.5 634.47L231.62 635.44L232.04 634.47M153.3 633.57L153.42 634.81L153.85 633.57M152.96 633L153.08 634.23L153.51 633M258.98 632.47L259.1 635.62L259.61 632.47M146.34 632.98L146.46 635.62L146.94 632.98M250.54 634.72L250.66 637.08L251.14 634.72M134.21 632.87L134.33 633.99L134.75 632.87M122.16 633.24L122.28 634.99L122.73 633.24M140.02 633.24L140.14 635.11L140.59 633.24M137.1 633.06L137.22 634.38L137.66 633.06M255.25 633.08L255.37 634.02L255.79 633.08M158.21 633.18L158.33 636.6L158.84 633.18M155.6 632.47L155.72 633.99L156.16 632.47M283.52 632.5L283.64 634.72L284.11 632.5M189.01 633.53L189.13 634.92L189.57 633.53M304.53 633.34L304.65 634.45L305.08 633.34M238.49 634.09L238.61 635.71L239.05 634.09M295.74 634.99L295.86 638.07L296.36 634.99M78.74 633.64L78.86 635.62L79.32 633.64M208.29 633.03L208.41 640.03L209.07 633.03M108.06 631.68L108.18 632.61L108.6 631.68M243.39 633.71L243.51 635.09L243.94 633.71M250.75 635.3L250.87 637L251.32 635.3M154.64 632.88L154.76 637.43L155.32 632.88M56.35 633.19L56.47 634.75L56.91 633.19M278.92 632.82L279.04 633.63L279.45 632.82M306.21 633.19L306.33 637.28L306.87 633.19" fill="none" stroke="#8c8c1a" stroke-width="0.65" opacity="0.9" stroke-linejoin="round"/>
<path d="M51.7 601.68 52.2 601.12 52.7 601.57 53.2 600.73 53.7 600.66 54.2 601.57 54.7 601.68 55.2 601.05 55.7 600.87 56.2 600.6 56.7 600.43 57.2 600.89 57.7 600.95 58.2 601.31 58.7 600.91 59.2 601.49 59.7 601.04 60.2 601.36 60.7 601.79 61.2 601.99 61.7 601.59 62.2 601.44 62.7 601.79 63.2 601.26 63.7 601.55 64.2 601.65 64.7 601.02 65.2 601.59 65.7 600.9 66.2 601.49 66.7 601.68 67.2 601.37 67.7 600.34 68.2 601.02 68.7 601.32 69.2 600.75 69.7 601.11 70.2 600.99 70.7 600.83 71.2 600.95 71.7 600.71 72.2 600.88 72.7 601.47 73.2 601.49 73.7 601.23 74.2 601.13 74.7 601.2 75.2 601.37 75.7 600.98 76.2 601.75 76.7 601.22 77.2 601.65 77.7 601.22 78.2 601.42 78.7 601.07 79.2 601.45 79.7 601.66 80.2 601.4 80.7 600.22 81.2 601.37 81.7 601.36 82.2 601.18 82.7 601.07 83.2 601.66 83.7 601.69 84.2 601.31 84.7 601 85.2 601.67 85.7 601.33 86.2 601.61 86.7 601.57 87.2 601.15 87.7 601.58 88.2 601.82 88.7 601.12 89.2 601.49 89.7 601.66 90.2 601.53 90.7 602.21 91.2 601.92 91.7 601.76 92.2 601.79 92.7 601.04 93.2 601.86 93.7 601.72 94.2 601.52 94.7 601.79 95.2 601.93 95.7 602.17 96.2 602 96.7 602.21 97.2 602.3 97.7 601.45 98.2 601.72 98.7 601.87 99.2 600.99 99.7 601.66 100.2 600.76 100.7 600.87 101.2 600.88 101.7 600.49 102.2 601.61 102.7 601.11 103.2 601.83 103.7 601.83 104.2 601.59 104.7 602.06 105.2 602.2 105.7 601.82 106.2 601.63 106.7 601.27 107.2 601.32 107.7 601.28 108.2 601.22 108.7 600.22 109.2 601.56 109.7 600.38 110.2 600.97 110.7 601.26 111.2 601.29 111.7 601.31 112.2 601.43 112.7 601.15 113.2 602.22 113.7 601.57 114.2 602 114.7 600.38 115.2 601.5 115.7 601.86 116.2 602.14 116.7 601.96 117.2 602.22 117.7 601.6 118.2 601.88 118.7 602.35 119.2 601.72 119.7 601.59 120.2 601.49 120.7 601.7 121.2 602.23 121.7 602.14 122.2 601.98 122.7 601.8 123.2 601.03 123.7 601.53 124.2 601.12 124.7 601.03 125.2 601.46 125.7 600.22 126.2 600.75 126.7 601.05 127.2 601.14 127.7 600.13 128.2 600.91 128.7 599.02 129.2 601.1 129.7 600.8 130.2 600.78 130.7 601.44 131.2 601.01 131.7 601.42 132.2 601.82 132.7 601.78 133.2 601.91 133.7 601.61 134.2 602.06 134.7 601.79 135.2 601.78 135.7 601.84 136.2 601.99 136.7 601.62 137.2 601.46 137.7 601.14 138.2 601.71 138.7 601.76 139.2 601.73 139.7 601.72 140.2 601.19 140.7 601.76 141.2 601.18 141.7 601.41 142.2 600.98 142.7 600.4 143.2 599.41 143.7 600.77 144.2 600.55 144.7 600.7 145.2 600.59 145.7 600.31 146.2 600.47 146.7 600.76 147.2 600.92 147.7 601.11 148.2 601.32 148.7 600.49 149.2 601.21 149.7 601.18 150.2 601.55 150.7 601.09 151.2 600.67 151.7 601.24 152.2 600.95 152.7 600.8 153.2 601.23 153.7 601.16 154.2 600.84 154.7 601.5 155.2 601.42 155.7 601.7 156.2 600.68 156.7 601.3 157.2 601.79 157.7 601.36 158.2 601.02 158.7 601.2 159.2 601.2 159.7 601.4 160.2 600.57 160.7 601.44 161.2 601.29 161.7 600.12 162.2 599.42 162.7 601.48 163.2 601.42 163.7 600.75 164.2 601.24 164.7 601.45 165.2 600.81 165.7 600.48 166.2 601.09 166.7 600.84 167.2 600.66 167.7 600.91 168.2 600.98 168.7 601.39 169.2 600.75 169.7 600.86 170.2 600.41 170.7 601.69 171.2 601.14 171.7 601.55 172.2 600.88 172.7 600.83 173.2 600.26 173.7 600.96 174.2 600.67 174.7 600.97 175.2 601.21 175.7 600.72 176.2 601.1 176.7 600.97 177.2 600.84 177.7 600.85 178.2 600.09 178.7 601.06 179.2 601.14 179.7 600.3 180.2 600.74 180.7 601.68 181.2 600.73 181.7 601.44 182.2 601.32 182.7 601.41 183.2 600.65 183.7 600.91 184.2 601 184.7 600.93 185.2 601.1 185.7 600.89 186.2 601.1 186.7 600.17 187.2 600.98 187.7 601.47 188.2 602.15 188.7 601.96 189.2 601.85 189.7 602.15 190.2 601.54 190.7 601.98 191.2 601.51 191.7 601.25 192.2 601.41 192.7 600.91 193.2 601.14 193.7 600.09 194.2 599.93 194.7 601.14 195.2 600.97 195.7 600.53 196.2 600.74 196.7 599.81 197.2 599.32 197.7 599.81 198.2 600.77 198.7 600.35 199.2 600.94 199.7 601.01 200.2 601.42 200.7 601.52 201.2 600.54 201.7 600.95 202.2 601.28 202.7 600.36 203.2 600.44 203.7 600.86 204.2 600.75 204.7 599.86 205.2 599.92 205.7 600.5 206.2 600.61 206.7 600.75 207.2 600.53 207.7 600.66 208.2 600.65 208.7 600.92 209.2 600.59 209.7 600.3 210.2 600.86 210.7 600.14 211.2 601.11 211.7 601.51 212.2 600.09 212.7 601.3 213.2 601.07 213.7 600.51 214.2 600.67 214.7 600.84 215.2 600.49 215.7 600.91 216.2 600.41 216.7 600.91 217.2 601.25 217.7 601.56 218.2 601.52 218.7 601.49 219.2 601.53 219.7 600.79 220.2 601.16 220.7 600.16 221.2 601.52 221.7 602.16 222.2 601.84 222.7 601.53 223.2 601.72 223.7 601.66 224.2 601.75 224.7 601.53 225.2 601.19 225.7 601.36 226.2 601.46 226.7 601.36 227.2 601.94 227.7 601.96 228.2 601.1 228.7 601.86 229.2 601.51 229.7 601.73 230.2 601.65 230.7 600.38 231.2 600.94 231.7 601.8 232.2 601.1 232.7 600.77 233.2 602.05 233.7 601.35 234.2 601.96 234.7 600.87 235.2 601.45 235.7 601.41 236.2 600.6 236.7 601.48 237.2 601.03 237.7 601 238.2 601.53 238.7 599.96 239.2 601.28 239.7 600.62 240.2 600.89 240.7 601.23 241.2 601.24 241.7 601.07 242.2 601.13 242.7 600.88 243.2 600.99 243.7 601 244.2 601.55 244.7 601.64 245.2 601.35 245.7 601.41 246.2 601.71 246.7 600.5 247.2 601.44 247.7 601.26 248.2 600.74 248.7 601.63 249.2 600.46 249.7 601.45 250.2 600.86 250.7 601.77 251.2 601.51 251.7 601.5 252.2 601.39 252.7 601.27 253.2 600.97 253.7 600.65 254.2 600.71 254.7 601.39 255.2 601.35 255.7 601.26 256.2 601.55 256.7 600.33 257.2 600.71 257.7 601.1 258.2 600.74 258.7 601.34 259.2 601.53 259.7 601.66 260.2 600.65 260.7 601.67 261.2 601.53 261.7 600.96 262.2 600.85 262.7 600.64 263.2 601.66 263.7 601.92 264.2 601.55 264.7 601.46 265.2 601.62 265.7 600.58 266.2 601.45 266.7 600.33 267.2 601.04 267.7 601.07 268.2 601.25 268.7 601.01 269.2 601.03 269.7 600.75 270.2 601.25 270.7 601.26 271.2 601.53 271.7 601.63 272.2 601.08 272.7 601.4 273.2 600.47 273.7 601.69 274.2 601.93 274.7 601.51 275.2 601.57 275.7 601.81 276.2 601.01 276.7 601.45 277.2 601.38 277.7 601.68 278.2 601.65 278.7 601.15 279.2 601.72 279.7 600.27 280.2 601.58 280.7 601.54 281.2 601.77 281.7 601.69 282.2 601.47 282.7 601.41 283.2 600.72 283.7 601.4 284.2 601.05 284.7 600.28 285.2 601.2 285.7 601.52 286.2 601.59 286.7 601.93 287.2 601.62 287.7 601.42 288.2 601.55 288.7 601.31 289.2 601.64 289.7 601.29 290.2 600.46 290.7 600.81 291.2 601.69 291.7 601.43 292.2 601.03 292.7 601.51 293.2 601.21 293.7 601.26 294.2 600.8 294.7 600.67 295.2 600.66 295.7 599.23 296.2 600.63 296.7 600.86 297.2 600.56 297.7 600.88 298.2 601.11 298.7 599.87 299.2 600.91 299.7 600.96 300.2 600.9 300.7 600.57 301.2 600.3 301.7 600.21 302.2 600.7 302.7 599.89 303.2 600.42 303.7 600.53 304.2 600.32 304.7 601.05 305.2 601.01 305.7 601.46 306.2 601.53 306.7 600.81 307.2 600.6 307.7 601.31 308.2 601.4 308.7 601.09 L308.7 604.25 308.2 604.59 307.7 603.66 307.2 604.22 306.7 604.85 306.2 604.4 305.7 604.71 305.2 604.04 304.7 603.87 304.2 603.42 303.7 603.48 303.2 603.6 302.7 603.23 302.2 603.82 301.7 603.7 301.2 603 300.7 603.18 300.2 603.32 299.7 604.39 299.2 603.82 298.7 604.07 298.2 604.9 297.7 603.96 297.2 603.69 296.7 603.63 296.2 603.89 295.7 603.18 295.2 603.34 294.7 603.66 294.2 604.04 293.7 604.38 293.2 604.89 292.7 604.51 292.2 604.19 291.7 604.59 291.2 604.07 290.7 604.66 290.2 604.55 289.7 604.92 289.2 604.16 288.7 604.11 288.2 604.11 287.7 604.14 287.2 604.38 286.7 605.27 286.2 604.89 285.7 604.7 285.2 604.09 284.7 604.34 284.2 603.79 283.7 603.65 283.2 604.68 282.7 604.07 282.2 604.08 281.7 604.37 281.2 604.52 280.7 604.61 280.2 603.88 279.7 603.99 279.2 604.33 278.7 604.36 278.2 604.27 277.7 604.39 277.2 605.04 276.7 604.78 276.2 604.7 275.7 605.01 275.2 604.79 274.7 605.41 274.2 604.89 273.7 605.06 273.2 604.52 272.7 604.77 272.2 604.36 271.7 604.14 271.2 604.48 270.7 603.77 270.2 604.02 269.7 604.39 269.2 604.15 268.7 604.23 268.2 604.75 267.7 603.85 267.2 604.14 266.7 604.69 266.2 604.28 265.7 603.89 265.2 603.98 264.7 604.42 264.2 605.12 263.7 605.16 263.2 605.15 262.7 604.78 262.2 604.09 261.7 603.78 261.2 604.19 260.7 604.19 260.2 604.42 259.7 603.96 259.2 604.05 258.7 603.95 258.2 603.79 257.7 603.53 257.2 603.33 256.7 603.89 256.2 604.17 255.7 605.25 255.2 604.11 254.7 603.79 254.2 604.43 253.7 603.96 253.2 604.14 252.7 603.77 252.2 604.02 251.7 604.17 251.2 604.13 250.7 604.55 250.2 604.76 249.7 604.36 249.2 604.76 248.7 604.47 248.2 605.49 247.7 604.05 247.2 604.49 246.7 604.18 246.2 604.68 245.7 604.88 245.2 604.23 244.7 605.03 244.2 603.83 243.7 604.65 243.2 603.8 242.7 603.57 242.2 604.5 241.7 604.06 241.2 604.9 240.7 603.83 240.2 603.74 239.7 604.28 239.2 603.67 238.7 605.11 238.2 604.55 237.7 604.8 237.2 604.59 236.7 604.36 236.2 604.68 235.7 604.17 235.2 604.36 234.7 604.23 234.2 605.05 233.7 605.8 233.2 604.8 232.7 605.3 232.2 604.69 231.7 605.15 231.2 604.45 230.7 605.65 230.2 604.57 229.7 604.65 229.2 604.77 228.7 604.84 228.2 604.89 227.7 605.02 227.2 604.68 226.7 604.83 226.2 605.07 225.7 604.23 225.2 604.41 224.7 604.2 224.2 605.41 223.7 604.4 223.2 605.23 222.7 605.14 222.2 605.03 221.7 604.67 221.2 604.25 220.7 603.96 220.2 604.25 219.7 604.85 219.2 604.63 218.7 604.57 218.2 604.49 217.7 604.27 217.2 604.48 216.7 603.54 216.2 604.11 215.7 603.84 215.2 603.87 214.7 603.94 214.2 603.8 213.7 603.42 213.2 604.62 212.7 604.02 212.2 604.03 211.7 604.7 211.2 604.3 210.7 604.1 210.2 603.61 209.7 603.29 209.2 603.7 208.7 603.35 208.2 603.91 207.7 603.47 207.2 603.74 206.7 603.56 206.2 603.44 205.7 603.64 205.2 603.94 204.7 603.7 204.2 603.25 203.7 603.24 203.2 603.81 202.7 603.63 202.2 604.05 201.7 603.74 201.2 604.23 200.7 604.08 200.2 604.1 199.7 604.36 199.2 604.03 198.7 603.85 198.2 603.82 197.7 603.66 197.2 603.19 196.7 604.25 196.2 603.5 195.7 604.49 195.2 604.28 194.7 603.98 194.2 605.17 193.7 604.36 193.2 603.98 192.7 604.56 192.2 604.28 191.7 604.67 191.2 605.17 190.7 605.54 190.2 604.87 189.7 604.71 189.2 605.81 188.7 604.89 188.2 605.06 187.7 605.17 187.2 604.92 186.7 604.56 186.2 603.91 185.7 603.87 185.2 604.27 184.7 605.15 184.2 604.1 183.7 604.71 183.2 604.36 182.7 603.8 182.2 604.8 181.7 604.17 181.2 603.91 180.7 604.3 180.2 604.71 179.7 604.52 179.2 604.03 178.7 604.33 178.2 603.52 177.7 603.95 177.2 604.27 176.7 604.74 176.2 604.41 175.7 604.39 175.2 604.09 174.7 604.27 174.2 604.61 173.7 603.84 173.2 604.24 172.7 604.47 172.2 604.11 171.7 604.33 171.2 604.76 170.7 604.37 170.2 604 169.7 603.97 169.2 604.67 168.7 603.84 168.2 604.52 167.7 603.67 167.2 604.04 166.7 603.8 166.2 603.74 165.7 604.34 165.2 604.1 164.7 603.89 164.2 603.94 163.7 604.06 163.2 604.07 162.7 603.85 162.2 604.35 161.7 604.31 161.2 603.82 160.7 603.86 160.2 603.85 159.7 603.89 159.2 604.38 158.7 605.3 158.2 604.25 157.7 604.59 157.2 605.55 156.7 605.13 156.2 604.54 155.7 604.35 155.2 604.36 154.7 605.17 154.2 604.17 153.7 604.23 153.2 603.67 152.7 604.03 152.2 604.42 151.7 604.49 151.2 604.53 150.7 604.67 150.2 604.03 149.7 603.92 149.2 604.03 148.7 604.23 148.2 603.61 147.7 603.49 147.2 603.99 146.7 604.51 146.2 603.85 145.7 603.69 145.2 603.67 144.7 603.71 144.2 603.3 143.7 603.18 143.2 603.94 142.7 603.62 142.2 603.82 141.7 604.37 141.2 604.16 140.7 604.45 140.2 604.76 139.7 604.88 139.2 604.73 138.7 604.87 138.2 605.29 137.7 604.25 137.2 605.02 136.7 604.78 136.2 605.45 135.7 605.02 135.2 605.54 134.7 604.44 134.2 604.33 133.7 604.53 133.2 604.68 132.7 604.58 132.2 604.27 131.7 604.43 131.2 605.08 130.7 604.2 130.2 603.68 129.7 603.57 129.2 603.71 128.7 603.86 128.2 603.52 127.7 603.5 127.2 604.47 126.7 604.19 126.2 604.78 125.7 604.69 125.2 605.21 124.7 604.76 124.2 604.17 123.7 604.08 123.2 604.92 122.7 604.4 122.2 605.77 121.7 604.53 121.2 605.01 120.7 605.38 120.2 604.87 119.7 605.28 119.2 604.63 118.7 604.72 118.2 604.85 117.7 605.74 117.2 604.57 116.7 604.63 116.2 605.58 115.7 604.91 115.2 604.37 114.7 604.8 114.2 605.14 113.7 604.56 113.2 604.6 112.7 604.37 112.2 604.18 111.7 604.52 111.2 604.45 110.7 604.43 110.2 604.05 109.7 603.9 109.2 604.37 108.7 603.92 108.2 603.86 107.7 605.02 107.2 604.87 106.7 604.65 106.2 604.6 105.7 604.81 105.2 605.41 104.7 605.37 104.2 605.01 103.7 604.44 103.2 604.75 102.7 604.18 102.2 604.58 101.7 604.36 101.2 604.93 100.7 604.9 100.2 604.46 99.7 604.19 99.2 605.12 98.7 604.46 98.2 604.68 97.7 604.92 97.2 605.24 96.7 605.1 96.2 605.07 95.7 605.52 95.2 605.15 94.7 604.83 94.2 604.87 93.7 604.01 93.2 604.23 92.7 605.1 92.2 605.04 91.7 605.68 91.2 604.8 90.7 604.63 90.2 605.33 89.7 604.53 89.2 604.99 88.7 604.15 88.2 604.76 87.7 604.26 87.2 604.48 86.7 604.35 86.2 605.53 85.7 604.6 85.2 604.3 84.7 604.02 84.2 604.71 83.7 604.45 83.2 604.51 82.7 604.39 82.2 604.24 81.7 604.22 81.2 604.13 80.7 605.31 80.2 604.28 79.7 604.14 79.2 604.36 78.7 604.07 78.2 604.13 77.7 604.64 77.2 604.88 76.7 604.52 76.2 604.4 75.7 605.24 75.2 604.64 74.7 604.62 74.2 604.76 73.7 604.12 73.2 604.02 72.7 604.86 72.2 603.75 71.7 604.01 71.2 604.77 70.7 603.45 70.2 604.42 69.7 603.69 69.2 604.62 68.7 603.62 68.2 605.11 67.7 603.63 67.2 604.46 66.7 603.93 66.2 605.33 65.7 605 65.2 604.67 64.7 604 64.2 604.21 63.7 605.12 63.2 604.36 62.7 604.71 62.2 604.49 61.7 605.4 61.2 604.55 60.7 604.72 60.2 604.8 59.7 603.91 59.2 603.92 58.7 605.4 58.2 604.67 57.7 603.9 57.2 604.1 56.7 604.89 56.2 603.98 55.7 604.31 55.2 604.47 54.7 604.04 54.2 605 53.7 604.07 53.2 604.46 52.7 604.16 52.2 604.03 51.7 604.82Z" fill="#111" stroke="#111" stroke-width="0.3"/>
<path d="M251.52 603.83L251.64 605.57L252.09 603.83M164.67 603.64L164.79 606.13L165.27 603.64M236.74 604.06L236.86 608.76L237.43 604.06M246.08 604.58L246.2 605.55L246.62 604.58M278.39 603.97L278.51 604.99L278.93 603.97M263.15 604.48L263.27 606.58L263.74 604.48M177.47 603.97L177.59 606.23L178.06 603.97M274.23 604.59L274.35 606.64L274.82 604.59M191.33 604.87L191.45 605.91L191.87 604.87M197.93 603.36L198.05 608.58L198.64 603.36M226.64 604.77L226.76 605.94L227.19 604.77M180.89 604L181.01 609.44L181.6 604M65.87 604.7L65.99 606.02L66.43 604.7M128.53 603.22L128.65 604.43L129.08 603.22M259.33 603.75L259.45 606.25L259.93 603.75M54.56 604.7L54.68 607.33L55.16 604.7M267.18 604.39L267.3 608.88L267.86 604.39M159.85 603.59L159.97 604.93L160.4 603.59M289.47 603.86L289.59 607.71L290.13 603.86M260.81 603.89L260.93 604.95L261.36 603.89M190.1 604.41L190.22 606L190.66 604.41M95.97 605.22L96.09 608.23L96.59 605.22M233.52 604.5L233.64 605.94L234.08 604.5M103.78 604.14L103.9 608.96L104.47 604.14M65.31 604.37L65.43 609.18L66.01 604.37M228.15 604.72L228.27 605.73L228.69 604.72M96.18 605.22L96.3 607.22L96.76 605.22M277.41 604.74L277.53 610.16L278.13 604.74M121.46 604.71L121.58 609.57L122.15 604.71M73.71 603.82L73.83 605.31L74.27 603.82M242.93 603.27L243.05 605.07L243.5 603.27M270.98 603.47L271.1 607.11L271.63 603.47M211.52 604L211.64 609.75L212.25 604M291.89 604.29L292.01 607.7L292.52 604.29M165.06 603.59L165.18 605.28L165.63 603.59M112.65 603.88L112.77 606.72L113.26 603.88M177.13 604.44L177.25 607.9L177.77 604.44M58.07 603.6L58.19 606.83L58.7 603.6M224.75 603.9L224.87 608.29L225.42 603.9M150.37 603.73L150.49 605.9L150.96 603.73M145.59 603.37L145.71 605.77L146.18 603.37M94.05 603.71L94.17 607.41L94.7 603.71M102.72 603.88L102.84 604.9L103.26 603.88M160.86 603.56L160.98 605.23L161.43 603.56M156.63 604.24L156.75 605.9L157.2 604.24M272.98 604.47L273.1 606.3L273.56 604.47M81.64 603.83L81.76 606.3L82.24 603.83M87.73 603.96L87.85 609.37L88.44 603.96M232.35 604.39L232.47 605.36L232.89 604.39M84.02 604.15L84.14 611.12L84.8 604.15M290.89 604.36L291.01 608.63L291.56 604.36M298.09 603.66L298.21 609.1L298.81 603.66M71.19 603.15L71.31 605.37L71.78 603.15M304.79 603.57L304.91 607.76L305.46 603.57M146.21 603.55L146.33 604.58L146.75 603.55M136.95 604.48L137.07 608.09L137.59 604.48M294.2 603.74L294.32 605.43L294.77 603.74M294.76 603.36L294.88 607.95L295.44 603.36M179.16 604.03L179.28 608.28L179.83 604.03M154.16 603.93L154.28 610.03L154.9 603.93M267.12 604.39L267.24 606.81L267.72 604.39M64.51 603.91L64.63 612.86L65.37 603.91M248.54 605.19L248.66 606.13L249.08 605.19M264.3 604.82L264.42 606.11L264.86 604.82M62.86 604.41L62.98 605.94L63.42 604.41M142.07 604.07L142.19 605.18L142.62 604.07M192.55 603.98L192.67 605.64L193.11 603.98M247.07 603.88L247.19 605.62L247.64 603.88M56.46 603.68L56.58 604.89L57.01 603.68M209.52 603.4L209.64 604.62L210.06 603.4" fill="none" stroke="#111" stroke-width="0.65" opacity="0.9" stroke-linejoin="round"/>
<path d="M283.7 654.3 L309 654.3 L309 642.2" fill="none" stroke="#333" stroke-width="1.3" stroke-linejoin="round"/>
<text transform="translate(523.9 592.6) scale(1.07 1)" font-size="9" text-anchor="middle">mIPSC (nRT)</text>
<text transform="translate(367.3 610.2) scale(1.07 1)" font-size="9">WT</text>
<text transform="translate(354.6 635.6) scale(1.07 1)" font-size="9">NLG2 KO</text>
<path d="M404.5 631.65 405 631.16 405.5 630.91 406 631.05 406.5 631.31 407 630.96 407.5 630.71 408 631.42 408.5 631.2 409 631.3 409.5 630.92 410 631.07 410.5 630.54 411 631.16 411.5 630.95 412 631.3 412.5 631.39 413 631.43 413.5 630.92 414 631.46 414.5 631.43 415 630.24 415.5 630.67 416 631.31 416.5 631.7 417 631.12 417.5 631.59 418 631.56 418.5 630.88 419 630.95 419.5 631.1 420 630.39 420.5 631.59 421 631.12 421.5 631.4 422 631.2 422.5 631.62 423 630.7 423.5 630.77 424 630.32 424.5 630.73 425 630.79 425.5 630.35 426 629.84 426.5 630.88 427 631.4 427.5 631.17 428 630.1 428.5 630.21 429 630.57 429.5 630.42 430 630.8 430.5 630.84 431 630.75 431.5 629.84 432 630.31 432.5 630.44 433 630.6 433.5 630.57 434 630.68 434.5 630.45 435 630.98 435.5 630.94 436 631.18 436.5 631.29 437 630.96 437.5 631.23 438 631.41 438.5 630.36 439 630.69 439.5 631.4 440 631.23 440.5 630.97 441 630.86 441.5 631.31 442 631.16 442.5 630.44 443 630.86 443.5 631.19 444 630.93 444.5 631.4 445 631.53 445.5 631.54 446 631.29 446.5 631.29 447 631.09 447.5 631.03 448 630.21 448.5 629.62 449 630.92 449.5 630.98 450 630.94 450.5 630.93 451 630.19 451.5 631.06 452 630.44 452.5 630.68 453 631.14 453.5 631.41 454 631.53 454.5 630.93 455 631.36 455.5 630.85 456 631.27 456.5 630.54 457 630.72 457.5 630.99 458 630.25 458.5 631 459 630.81 459.5 631.13 460 631.28 460.5 631.01 461 630.92 461.5 630.78 462 630.96 462.5 631.24 463 630.82 463.5 631.17 464 630.7 464.5 631.29 465 630.77 465.5 631.55 466 630.95 466.5 631.36 467 630.84 467.5 631.34 468 631.3 468.5 631.12 469 631.66 469.5 630.93 470 631.15 470.5 631.27 471 630.92 471.5 631.37 472 630.6 472.5 631.7 473 631.71 473.5 631.42 474 630.7 474.5 630.48 475 631.31 475.5 631.34 476 630.81 476.5 630.9 477 631.53 477.5 631.24 478 631.37 478.5 631.22 479 631.11 479.5 631.62 480 631.67 480.5 631.65 481 631.28 481.5 631.64 482 631.6 482.5 631.48 483 631.14 483.5 631.11 484 631.68 484.5 631 485 631.45 485.5 631.27 486 631.44 486.5 630.92 487 631.31 487.5 630.59 488 630.86 488.5 630.86 489 631.02 489.5 630.03 490 631.2 490.5 630.22 491 630.45 491.5 631.07 492 631.35 492.5 630.78 493 630.71 493.5 630.82 494 630.47 494.5 630.76 495 630.87 495.5 630.84 496 630.99 496.5 630.4 497 630.02 497.5 631.43 498 631.38 498.5 631.27 499 631.02 499.5 631.21 500 630.95 500.5 631.38 501 631.35 501.5 631.24 502 631.41 502.5 631.28 503 630.9 503.5 631.21 504 631.17 504.5 631.33 505 631.3 505.5 630.8 506 630.06 506.5 630.45 507 630.36 507.5 629.91 508 630.88 508.5 630.91 509 631.24 509.5 631.2 510 630.52 510.5 630.2 511 630.81 511.5 630.36 512 631.3 512.5 631.14 513 631.31 513.5 630.86 514 631.22 514.5 631.49 515 631.22 515.5 630.69 516 630.81 516.5 631.25 517 630.79 517.5 631.07 518 631.37 518.5 630.55 519 631.14 519.5 631.23 520 631.19 520.5 630.81 521 631.07 521.5 631.24 522 631.42 522.5 631.35 523 631.31 523.5 630.76 524 631.35 524.5 630.87 525 631.24 525.5 631.71 526 631.11 526.5 631.33 527 631.3 527.5 631.1 528 630.14 528.5 629.99 529 631.15 529.5 631.2 530 630.79 530.5 630.96 531 631.23 531.5 631.39 532 631.25 532.5 631.06 533 630.74 533.5 630.54 534 631.01 534.5 631.34 535 631.44 535.5 630.54 536 631.01 536.5 631.1 537 631.54 537.5 631.67 538 631.89 538.5 631.95 539 631.52 539.5 631.48 540 630.95 540.5 631 541 631.64 541.5 630.22 542 631.46 542.5 630.73 543 631.41 543.5 631.13 544 631.43 544.5 631.38 545 630.98 545.5 631.04 546 630.67 546.5 630.74 547 630.68 547.5 631.25 548 631.45 548.5 631.27 549 631.26 549.5 630.83 550 630.22 550.5 630.92 551 629.88 551.5 630.13 552 630.24 552.5 630.53 553 630.7 553.5 630.4 554 629.72 554.5 631.16 555 630.18 555.5 631.32 556 631.31 556.5 631.47 557 630.97 557.5 631.78 558 631.98 558.5 632.08 559 631.78 559.5 631.96 560 631.58 560.5 631.36 561 631.07 561.5 630.56 562 630.82 562.5 630.76 563 630.43 563.5 630.98 564 630.23 564.5 630.96 565 630.66 565.5 631.61 566 631.55 566.5 630.73 567 631.28 567.5 630.92 568 631.22 568.5 631.25 569 630.66 569.5 631.15 570 631.18 570.5 630.82 571 630.17 571.5 631.1 572 630.65 572.5 631.22 573 631.65 573.5 631.8 574 631.77 574.5 631.74 575 631.63 575.5 631.12 576 631.26 576.5 631.26 577 631.38 577.5 631.2 578 631.27 578.5 630.23 579 631.24 579.5 631.06 580 630.75 580.5 630.65 581 630.64 581.5 630.95 582 631.48 582.5 631.38 583 631.57 583.5 631.24 584 631.37 584.5 631.68 585 632.21 585.5 631.85 586 631.81 586.5 631.9 587 631.27 587.5 632.16 588 632.18 588.5 631.85 589 632.15 589.5 631.36 590 631.33 590.5 631.24 591 631.65 591.5 631.46 592 630.28 592.5 630.92 593 631.34 593.5 630.86 594 631.01 594.5 630.25 595 630.81 595.5 631.19 596 631.71 596.5 631 597 630.94 597.5 631.19 598 630.12 598.5 630.37 599 630.72 599.5 631.35 600 631.15 600.5 630.82 601 630.97 601.5 630.2 602 631.06 602.5 631.19 603 630.86 603.5 631.16 604 631.09 604.5 631.09 605 630.9 605.5 631.02 606 630.28 606.5 630.92 607 630.65 607.5 631.09 608 630.38 608.5 630.86 609 630.65 609.5 630.46 610 630.92 610.5 631.32 611 631.19 611.5 630.69 612 631.2 612.5 631.38 613 631.22 613.5 631 614 631.05 614.5 631.04 615 631.12 615.5 630.61 616 630.9 616.5 630.29 617 630.88 617.5 630.51 618 631.84 618.5 631.14 619 632.11 619.5 632.01 620 631.94 620.5 631.32 621 631.58 621.5 631.55 622 630.95 622.5 631.38 623 630.64 623.5 631.68 624 631.62 624.5 631.79 625 631.59 625.5 630.96 626 631.69 626.5 631.43 627 630.5 627.5 631.34 628 630.44 628.5 630.67 629 631.06 629.5 631.33 630 631.14 630.5 631.5 631 630.85 631.5 631.26 632 630.5 632.5 631.5 633 631.1 633.5 631.45 634 631.47 634.5 630.45 635 630.37 635.5 630.86 636 630.71 636.5 629.46 637 630.4 637.5 630.67 638 630.41 638.5 630.24 639 630.78 639.5 631.35 640 630.46 640.5 631.59 641 631.65 641.5 631.8 642 631.31 642.5 631.28 643 630.8 643.5 631.21 644 631.28 644.5 631.27 645 631.26 645.5 631.08 646 631.82 646.5 631.83 647 631.65 647.5 631.45 648 630.89 648.5 630.2 649 631 649.5 631.05 650 630.35 650.5 631.24 651 631.42 651.5 631.77 652 631.16 652.5 631.54 653 631.08 653.5 631.65 654 631.13 654.5 631.18 655 631.2 655.5 631.37 656 631.55 656.5 631.35 657 631.74 657.5 631.4 658 631.3 658.5 631.93 659 631.88 659.5 631.25 660 630.9 660.5 631.22 661 631.33 661.5 630.98 662 631.5 662.5 630.89 663 629.97 663.5 630.11 664 630.14 L664 633.03 663.5 633.03 663 633.95 662.5 633.86 662 634.06 661.5 634.19 661 633.66 660.5 633.72 660 633.57 659.5 634.15 659 633.98 658.5 633.78 658 634.32 657.5 634.21 657 633.85 656.5 633.82 656 633.77 655.5 633.8 655 633.9 654.5 633.81 654 634 653.5 633.91 653 633.67 652.5 634.18 652 633.6 651.5 634.4 651 634.38 650.5 634.81 650 634.42 649.5 634.04 649 634.72 648.5 633.63 648 633.32 647.5 633.66 647 634.11 646.5 634.03 646 635.13 645.5 634.19 645 633.88 644.5 633.71 644 633.67 643.5 633.35 643 633.52 642.5 633.69 642 634.28 641.5 634.27 641 634.48 640.5 634.13 640 634.24 639.5 634.42 639 634.11 638.5 633.18 638 632.75 637.5 633.17 637 633.47 636.5 632.75 636 633.14 635.5 633.13 635 633.23 634.5 633.94 634 633.32 633.5 633.78 633 633.83 632.5 633.78 632 633.96 631.5 633.46 631 633.52 630.5 633.48 630 633.84 629.5 634.18 629 633.23 628.5 633.63 628 633.22 627.5 634.28 627 633.95 626.5 633.64 626 633.81 625.5 634.71 625 635.08 624.5 634.14 624 634.15 623.5 634.4 623 633.71 622.5 633.77 622 634.23 621.5 634.42 621 635.05 620.5 634.55 620 633.85 619.5 634.03 619 634.47 618.5 634.32 618 634.01 617.5 634.25 617 633.67 616.5 633.99 616 633.83 615.5 633.37 615 633.41 614.5 633.52 614 633.11 613.5 633.44 613 634.27 612.5 634.48 612 634.19 611.5 633.29 611 633.38 610.5 633.28 610 633.15 609.5 633.68 609 632.98 608.5 633.67 608 633.34 607.5 633.16 607 633.51 606.5 634.17 606 633.14 605.5 633.12 605 634.1 604.5 633.33 604 633.34 603.5 633.43 603 633.77 602.5 633.31 602 633.39 601.5 633.52 601 633.1 600.5 633.27 600 633.86 599.5 633.42 599 633.28 598.5 633.21 598 633.56 597.5 633.28 597 634.23 596.5 634.15 596 634.36 595.5 633.88 595 634 594.5 633.54 594 633.81 593.5 633.54 593 633.63 592.5 633.69 592 634.03 591.5 634.14 591 634.12 590.5 634 590 634.73 589.5 634.64 589 634.41 588.5 634.24 588 634.56 587.5 634 587 634.2 586.5 633.96 586 634.27 585.5 634.86 585 634.87 584.5 634.11 584 633.73 583.5 633.5 583 633.64 582.5 633.44 582 633.45 581.5 634.03 581 633.45 580.5 634.56 580 633.69 579.5 633.15 579 633.59 578.5 634.02 578 633.35 577.5 633.92 577 633.5 576.5 633.46 576 634.24 575.5 633.73 575 634.13 574.5 633.66 574 634.07 573.5 634.32 573 633.84 572.5 634.27 572 633.46 571.5 633.58 571 633.35 570.5 633.48 570 633.36 569.5 634.11 569 634.08 568.5 634.64 568 633.33 567.5 633.35 567 633.97 566.5 633.63 566 634.02 565.5 633.78 565 633.55 564.5 633.48 564 633.22 563.5 632.94 563 633.35 562.5 633.58 562 633.68 561.5 633.63 561 633.81 560.5 633.85 560 634.29 559.5 633.95 559 634.3 558.5 634.19 558 634.11 557.5 633.85 557 634.29 556.5 634.1 556 633.42 555.5 633.38 555 634.51 554.5 633.46 554 634.31 553.5 633.36 553 633.12 552.5 633 552 632.98 551.5 633.1 551 632.96 550.5 633.05 550 633.05 549.5 633.71 549 633.81 548.5 634.23 548 633.68 547.5 634.05 547 633.75 546.5 633.11 546 633.36 545.5 633.28 545 633.57 544.5 633.46 544 633.26 543.5 633.6 543 633.48 542.5 633.72 542 633.42 541.5 633.91 541 633.51 540.5 633.49 540 633.76 539.5 633.66 539 633.72 538.5 634.57 538 634.83 537.5 634.5 537 634.01 536.5 633.69 536 633.58 535.5 633.59 535 634.17 534.5 633.74 534 633.63 533.5 633.89 533 633.54 532.5 634.16 532 633.48 531.5 633.45 531 633.99 530.5 633.45 530 633.79 529.5 633.66 529 633.54 528.5 633.27 528 633.14 527.5 633.15 527 633.33 526.5 633.36 526 634.03 525.5 634.1 525 633.77 524.5 634.23 524 633.36 523.5 633.35 523 633.86 522.5 633.41 522 634.22 521.5 633.5 521 633.24 520.5 634.44 520 633.55 519.5 634.12 519 633.84 518.5 634 518 633.51 517.5 633.38 517 634.11 516.5 635.27 516 633.58 515.5 635.05 515 633.65 514.5 633.69 514 633.66 513.5 634.13 513 633.71 512.5 633.89 512 633.27 511.5 633.38 511 633.16 510.5 632.78 510 633.55 509.5 633.43 509 633.37 508.5 634.03 508 633.69 507.5 633.24 507 632.98 506.5 633 506 633.08 505.5 633.29 505 633.26 504.5 634.31 504 633.35 503.5 633.54 503 633.21 502.5 633.67 502 633.48 501.5 634.46 501 634.19 500.5 633.6 500 633.96 499.5 633.72 499 633.75 498.5 633.66 498 633.75 497.5 633.48 497 633.51 496.5 633.57 496 632.98 495.5 633.63 495 633.04 494.5 634.13 494 633.49 493.5 634.18 493 633.48 492.5 633.36 492 633.42 491.5 633.97 491 633.4 490.5 633.59 490 633.48 489.5 633.69 489 633.29 488.5 633.15 488 633.35 487.5 633.43 487 633.58 486.5 634.12 486 634.73 485.5 633.76 485 634.34 484.5 633.77 484 634.15 483.5 634.13 483 634.1 482.5 634.01 482 633.61 481.5 633.53 481 633.62 480.5 633.72 480 633.6 479.5 634.62 479 634.53 478.5 633.5 478 633.89 477.5 634.06 477 633.68 476.5 633.53 476 633.81 475.5 633.68 475 634.17 474.5 633.87 474 633.77 473.5 633.49 473 633.59 472.5 634.46 472 634.2 471.5 633.87 471 634.42 470.5 633.47 470 633.5 469.5 633.4 469 633.63 468.5 633.5 468 633.99 467.5 633.76 467 633.67 466.5 633.98 466 633.78 465.5 633.85 465 635.19 464.5 633.69 464 633.57 463.5 633.43 463 634.22 462.5 633.17 462 634.23 461.5 633.41 461 634.27 460.5 633.98 460 633.29 459.5 633.59 459 633.48 458.5 633.25 458 633.63 457.5 633.89 457 633.38 456.5 634.76 456 634.06 455.5 633.43 455 633.36 454.5 633.33 454 634.39 453.5 634.56 453 634.06 452.5 634.12 452 633.45 451.5 633.67 451 633.11 450.5 633.06 450 633.12 449.5 633.05 449 633.2 448.5 633.11 448 632.95 447.5 633.24 447 633.14 446.5 633.26 446 633.43 445.5 634.05 445 633.55 444.5 634.06 444 634.05 443.5 633.44 443 633.36 442.5 633.79 442 633.69 441.5 633.27 441 633.88 440.5 633.96 440 633.99 439.5 633.48 439 634.34 438.5 633.53 438 633.54 437.5 633.9 437 633.57 436.5 633.17 436 633.61 435.5 633.04 435 632.89 434.5 632.94 434 632.74 433.5 633.16 433 633.52 432.5 632.43 432 632.27 431.5 633.11 431 632.66 430.5 633.07 430 633.44 429.5 632.76 429 632.51 428.5 633.3 428 632.99 427.5 633.9 427 634.36 426.5 634.25 426 633.95 425.5 633.46 425 633.24 424.5 634.22 424 633.48 423.5 633.72 423 633.87 422.5 633.82 422 634.17 421.5 633.74 421 633.85 420.5 633.95 420 633.88 419.5 633.88 419 634.13 418.5 634.47 418 634.09 417.5 633.88 417 633.73 416.5 634.15 416 633.78 415.5 633.78 415 634.42 414.5 633.87 414 633.37 413.5 634.34 413 633.89 412.5 633.97 412 633.78 411.5 634.37 411 633.93 410.5 633.51 410 633.6 409.5 633.35 409 633.44 408.5 633.37 408 633.54 407.5 633.27 407 633.51 406.5 633.91 406 633.96 405.5 633.8 405 633.58 404.5 634.28Z" fill="#8c8c1a" stroke="#8c8c1a" stroke-width="0.3"/>
<path d="M568.54 634.34L568.66 637.55L569.16 634.34M644.14 633.37L644.26 635.26L644.72 633.37M645.69 633.89L645.81 639.82L646.43 633.89M506.31 632.78L506.43 634.72L506.89 632.78M490.29 633.18L490.41 634.52L490.84 633.18M521.64 633.2L521.76 635.96L522.25 633.2M551.74 632.8L551.86 637.27L552.42 632.8M524.42 633.06L524.54 634.48L524.98 633.06M575.13 633.83L575.25 636.42L575.73 633.83M548.26 633.38L548.38 634.98L548.82 633.38M488.08 633.05L488.2 633.92L488.62 633.05M494.53 633.83L494.65 635.18L495.08 633.83M502.99 633.37L503.11 636.51L503.61 633.37M429.87 632.46L429.99 636.07L430.51 632.46M448.26 632.65L448.38 633.98L448.81 632.65M591.7 633.84L591.82 636.63L592.31 633.84M505.69 632.99L505.81 634.91L506.27 632.99M460.74 633.68L460.86 636.33L461.35 633.68M550.39 632.75L550.51 633.63L550.92 632.75M600.05 633.56L600.17 634.67L600.6 633.56M471.79 633.57L471.91 634.81L472.34 633.57M618.4 633.71L618.52 635.2L618.96 633.71M644.33 633.37L644.45 635.27L644.91 633.37M559.33 634L559.45 635.94L559.91 634M577.75 633.62L577.87 635.54L578.33 633.62M419.04 633.83L419.16 634.91L419.58 633.83M648.97 633.33L649.09 639.91L649.73 633.33M506.56 632.7L506.68 634.34L507.13 632.7M643.4 633.22L643.52 635.62L644 633.22M554.59 633.16L554.71 637.93L555.28 633.16M406.69 633.61L406.81 634.69L407.23 633.61M415.42 634.12L415.54 636.59L416.02 634.12M580.71 634.26L580.83 636.06L581.28 634.26M550.39 632.75L550.51 636.91L551.05 632.75M412.33 633.48L412.45 635.6L412.92 633.48M596.94 633.85L597.06 635.51L597.51 633.85M624.93 633.84L625.05 634.67L625.46 633.84M533.33 633.24L533.45 639.44L534.08 633.24M525.43 633.47L525.55 634.49L525.97 633.47M406.91 633.61L407.03 636.37L407.52 633.61M608.06 633.04L608.18 634.58L608.62 633.04M490.66 633.29L490.78 640.68L491.46 633.29M631.78 633.16L631.9 634.3L632.33 633.16M501.56 634.16L501.68 640.38L502.31 634.16M551.01 632.66L551.13 641.73L551.87 632.66M475.11 633.87L475.23 635.31L475.67 633.87M446.85 632.96L446.97 633.99L447.39 632.96M605.04 633.8L605.16 636.72L605.66 633.8M533.37 633.24L533.49 634.65L533.93 633.24M543.65 633.3L543.77 634.88L544.21 633.3M654.09 633.7L654.21 637.21L654.73 633.7M653.62 633.61L653.74 638.65L654.32 633.61M625.83 634.41L625.95 637.07L626.43 634.41M453.81 634.26L453.93 638.34L454.47 634.26M558.53 633.89L558.65 634.93L559.07 633.89M631.62 633.16L631.74 638.97L632.36 633.16M501.92 634.16L502.04 635.24L502.47 634.16M431.53 632.81L431.65 633.85L432.08 632.81M614.32 632.81L614.44 634.23L614.88 632.81M529.55 633.36L529.67 635.66L530.15 633.36" fill="none" stroke="#8c8c1a" stroke-width="0.65" opacity="0.9" stroke-linejoin="round"/>
<path d="M404.5 601.25 405 600.73 405.5 600.75 406 600.38 406.5 600.25 407 601.03 407.5 600.48 408 601.29 408.5 600.2 409 601.21 409.5 601.41 410 601.27 410.5 601.3 411 600.96 411.5 600.81 412 599.81 412.5 601.38 413 601.15 413.5 601.5 414 601.17 414.5 600.86 415 600.55 415.5 601.24 416 600.6 416.5 600.84 417 600.99 417.5 600.68 418 600.55 418.5 600.31 419 600.81 419.5 600.87 420 600.96 420.5 601.43 421 601.12 421.5 601.12 422 600.99 422.5 601.36 423 600.85 423.5 601.08 424 600.27 424.5 600.9 425 600.04 425.5 600.7 426 600.73 426.5 600.56 427 600.45 427.5 600.56 428 601.1 428.5 600.83 429 600.29 429.5 600.4 430 600.43 430.5 600.77 431 600.99 431.5 600.18 432 601.22 432.5 600.81 433 601.09 433.5 600.94 434 601.17 434.5 601.22 435 600.8 435.5 600.98 436 601.3 436.5 600.9 437 601.15 437.5 601.45 438 601.46 438.5 601.22 439 601.53 439.5 600.55 440 600.51 440.5 601.25 441 601.44 441.5 601.6 442 601.54 442.5 601.32 443 601.27 443.5 601.22 444 601.27 444.5 600.48 445 600.64 445.5 600.41 446 600.68 446.5 600.22 447 600.91 447.5 600.98 448 600.36 448.5 600.66 449 600.28 449.5 600.82 450 600.89 450.5 599.77 451 600.99 451.5 600.61 452 600.44 452.5 600.95 453 600.7 453.5 601.05 454 600.61 454.5 600.34 455 601.08 455.5 601.07 456 601.21 456.5 600.35 457 600.94 457.5 600.6 458 600.87 458.5 600.68 459 600.81 459.5 600.78 460 600.85 460.5 600.65 461 600.57 461.5 600.77 462 600.82 462.5 600.52 463 600.48 463.5 600.69 464 600.74 464.5 600.48 465 600.89 465.5 600.46 466 600.85 466.5 600.58 467 601.14 467.5 601.14 468 600.5 468.5 601.03 469 600.96 469.5 600.57 470 601.07 470.5 601.07 471 601.47 471.5 601.08 472 601.26 472.5 600.81 473 600 473.5 601.22 474 601.6 474.5 601.35 475 601.64 475.5 600.97 476 601.42 476.5 601.67 477 601.49 477.5 601.28 478 600.34 478.5 601.48 479 601.31 479.5 600.88 480 601.2 480.5 600.89 481 601.22 481.5 600.9 482 600.71 482.5 600.83 483 601.15 483.5 601.03 484 600.9 484.5 601.16 485 600.96 485.5 600.56 486 601.03 486.5 600.66 487 601.14 487.5 600.77 488 600.82 488.5 600.7 489 600.53 489.5 600.89 490 600.09 490.5 600.91 491 600.54 491.5 599.98 492 600.68 492.5 600.83 493 600.65 493.5 600.89 494 601.27 494.5 601.13 495 601.36 495.5 600.74 496 600.75 496.5 601.24 497 601.29 497.5 601.6 498 601.1 498.5 601.01 499 600.66 499.5 600.99 500 601 500.5 601.19 501 601.23 501.5 601.74 502 601.69 502.5 600.7 503 601.47 503.5 601.32 504 601.11 504.5 601.06 505 600.98 505.5 601.45 506 601.26 506.5 601.34 507 601.12 507.5 600.68 508 600.69 508.5 600.78 509 600.67 509.5 600.68 510 601.17 510.5 601.17 511 600.73 511.5 601.17 512 600.27 512.5 600.6 513 600.9 513.5 601.31 514 601.28 514.5 600.53 515 600.77 515.5 601.18 516 601.22 516.5 601.37 517 601.31 517.5 601.37 518 600.11 518.5 600.66 519 600.52 519.5 601.06 520 600.76 520.5 601.05 521 600.52 521.5 601.34 522 600.93 522.5 601.07 523 600.5 523.5 600.68 524 601.16 524.5 601.14 525 601.03 525.5 600.66 526 601.17 526.5 600.72 527 600.69 527.5 600.45 528 600.39 528.5 601.18 529 600.63 529.5 600.12 530 601.14 530.5 601.16 531 601.44 531.5 601.03 532 601.23 532.5 600.85 533 600.91 533.5 600.99 534 601.45 534.5 601.43 535 601.07 535.5 601.3 536 600.99 536.5 601.42 537 600.29 537.5 601.1 538 601.25 538.5 600.58 539 601.07 539.5 600.75 540 600.71 540.5 600.95 541 601.08 541.5 600.82 542 600.53 542.5 601.18 543 600.31 543.5 600.39 544 600.89 544.5 600.88 545 600.93 545.5 600.96 546 601.25 546.5 601.25 547 601.44 547.5 601.55 548 600.79 548.5 601.05 549 601 549.5 601.12 550 600.1 550.5 600.71 551 601.3 551.5 600.5 552 601.21 552.5 601.47 553 600.5 553.5 601.35 554 600.8 554.5 601.17 555 601.09 555.5 600.99 556 600.9 556.5 601.19 557 601.62 557.5 601.32 558 601.11 558.5 601.32 559 601.14 559.5 601.19 560 600.38 560.5 601.22 561 601.41 561.5 601.25 562 601.37 562.5 601.34 563 600.41 563.5 600.8 564 599.99 564.5 600.65 565 600.96 565.5 599.75 566 601.17 566.5 600.81 567 600.96 567.5 600.53 568 600.95 568.5 600.44 569 600.39 569.5 601.18 570 600.95 570.5 601.22 571 601.3 571.5 601.1 572 601.27 572.5 601.42 573 600.78 573.5 600.84 574 600.72 574.5 600.82 575 600.63 575.5 601.26 576 600.75 576.5 601.71 577 602.04 577.5 601.64 578 600.97 578.5 601.83 579 600.64 579.5 601.28 580 601.3 580.5 600.8 581 601.43 581.5 601.11 582 601.35 582.5 600.71 583 600.82 583.5 600.16 584 600.43 584.5 600.87 585 600.46 585.5 600.78 586 600.9 586.5 601.05 587 600.31 587.5 601.41 588 601.09 588.5 601.05 589 600.15 589.5 601.21 590 601.23 590.5 600.99 591 601.06 591.5 600.62 592 601.08 592.5 600.93 593 601.03 593.5 600.69 594 601.12 594.5 601.57 595 601.29 595.5 601.09 596 601.65 596.5 601.45 597 600.73 597.5 601.14 598 601.18 598.5 600.74 599 600.52 599.5 600.98 600 600.88 600.5 600.93 601 599.77 601.5 600.47 602 601.12 602.5 601.19 603 600.09 603.5 600.63 604 600.84 604.5 600.26 605 600.97 605.5 600.73 606 600.27 606.5 601.13 607 600.93 607.5 600.73 608 600.52 608.5 600.98 609 600.24 609.5 600.66 610 600.99 610.5 600.98 611 600.38 611.5 600.93 612 601.29 612.5 600.74 613 601.21 613.5 601.21 614 601.25 614.5 601.25 615 601.67 615.5 601.8 616 601.24 616.5 601.09 617 600.94 617.5 601.67 618 601.88 618.5 601.74 619 600.68 619.5 601.71 620 601.44 620.5 601.46 621 601.05 621.5 601.19 622 601.39 622.5 601.53 623 601.18 623.5 601.09 624 600.99 624.5 600.4 625 601.02 625.5 600.64 626 600.86 626.5 600.91 627 600.58 627.5 600.99 628 600.91 628.5 601.3 629 601.05 629.5 600.11 630 600.96 630.5 601.04 631 600.85 631.5 600.58 632 600.66 632.5 600.53 633 601.59 633.5 601.42 634 601.53 634.5 601.38 635 601.17 635.5 600.55 636 601.26 636.5 600.81 637 600.36 637.5 601.14 638 601.21 638.5 601.15 639 600.63 639.5 600.72 640 600.13 640.5 600.4 641 600.48 641.5 600.9 642 600.98 642.5 600.73 643 600.66 643.5 600.96 644 600.62 644.5 600.89 645 600.8 645.5 599.9 646 600.3 646.5 600.54 647 600.06 647.5 600.77 648 600.95 648.5 601.41 649 600.88 649.5 601.9 650 601.51 650.5 600.43 651 600.26 651.5 601.25 652 601.37 652.5 601.34 653 600.53 653.5 599.81 654 601.43 654.5 601.46 655 601.26 655.5 600.97 656 600.47 656.5 601.01 657 600.7 657.5 601.59 658 601.56 658.5 601.21 659 601.65 659.5 600.97 660 601.86 660.5 601.84 661 601.3 661.5 601.58 662 600.72 662.5 600.67 663 601.34 663.5 600.92 664 600.96 L664 604.11 663.5 603.53 663 604.12 662.5 603.45 662 603.73 661.5 603.96 661 604.03 660.5 604.2 660 604.4 659.5 603.91 659 604.42 658.5 603.71 658 603.83 657.5 603.88 657 604.42 656.5 604.03 656 603.93 655.5 603.75 655 604.14 654.5 603.91 654 603.67 653.5 603.72 653 603.91 652.5 603.51 652 603.52 651.5 604.28 651 603.24 650.5 604.2 650 603.55 649.5 603.9 649 603.72 648.5 603.66 648 603.19 647.5 603.37 647 602.89 646.5 603.01 646 602.68 645.5 603.18 645 603.74 644.5 603.11 644 603.44 643.5 603.39 643 603.37 642.5 603.18 642 603.17 641.5 604.11 641 603.08 640.5 604.65 640 603.01 639.5 604 639 603.39 638.5 603.89 638 603.18 637.5 603.83 637 603.26 636.5 603.83 636 603.47 635.5 604.03 635 604 634.5 604.04 634 603.73 633.5 603.87 633 603.64 632.5 604.41 632 603.78 631.5 603.34 631 603.17 630.5 603.8 630 603.14 629.5 603.06 629 603.19 628.5 603.49 628 603.15 627.5 603.31 627 602.95 626.5 603.15 626 602.98 625.5 603.7 625 603.45 624.5 603.65 624 603.06 623.5 603.59 623 603.36 622.5 603.59 622 604.15 621.5 603.7 621 603.45 620.5 603.34 620 603.46 619.5 603.76 619 604.63 618.5 603.93 618 604.61 617.5 604.23 617 603.99 616.5 603.69 616 604 615.5 603.95 615 604.58 614.5 604.22 614 604.54 613.5 603.68 613 603.75 612.5 604.57 612 603.41 611.5 603.74 611 603.63 610.5 603.23 610 603.11 609.5 603.4 609 603.54 608.5 603.07 608 603.57 607.5 603.98 607 603.7 606.5 603.47 606 603.62 605.5 604.11 605 603.02 604.5 603.1 604 602.74 603.5 603.37 603 603.74 602.5 604.57 602 603.16 601.5 603.29 601 603.41 600.5 603.25 600 603.41 599.5 603.47 599 603.63 598.5 604.17 598 603.81 597.5 604.33 597 603.48 596.5 603.62 596 604.1 595.5 603.73 595 603.72 594.5 603.62 594 603.57 593.5 603.86 593 604.4 592.5 603.29 592 603.38 591.5 603.18 591 603.58 590.5 603.33 590 603.72 589.5 603.92 589 603.64 588.5 604.03 588 603.93 587.5 604.88 587 603.41 586.5 603.18 586 603.19 585.5 603.43 585 603.84 584.5 603.45 584 603.25 583.5 603.48 583 603.54 582.5 603.78 582 603.94 581.5 603.94 581 604.27 580.5 604.02 580 604.19 579.5 603.83 579 603.74 578.5 604.14 578 603.8 577.5 604.08 577 604.27 576.5 604.81 576 603.64 575.5 604.3 575 604.12 574.5 603.72 574 603.36 573.5 603.39 573 603.65 572.5 603.63 572 603.32 571.5 603.75 571 604.31 570.5 603.95 570 603.43 569.5 603.63 569 603.68 568.5 604.27 568 603.19 567.5 603.34 567 603.3 566.5 603.24 566 603.42 565.5 603.74 565 602.87 564.5 602.79 564 602.89 563.5 602.93 563 603.5 562.5 603.96 562 604.28 561.5 603.43 561 604.28 560.5 603.63 560 603.87 559.5 604.16 559 603.61 558.5 604.69 558 603.97 557.5 603.92 557 604 556.5 603.98 556 603.54 555.5 603.67 555 604.31 554.5 603.6 554 604.07 553.5 603.98 553 603.66 552.5 604.45 552 603.76 551.5 603.71 551 603.52 550.5 604.61 550 603.46 549.5 603.25 549 603.6 548.5 603.71 548 603.97 547.5 604.09 547 603.85 546.5 603.39 546 603.38 545.5 603.39 545 603.33 544.5 603.77 544 603.47 543.5 603.35 543 603.23 542.5 603.65 542 603.61 541.5 603.89 541 603.56 540.5 603.54 540 603.17 539.5 603.12 539 604.29 538.5 603.47 538 605.08 537.5 603.59 537 604.29 536.5 603.69 536 603.71 535.5 603.88 535 603.76 534.5 604.21 534 604.6 533.5 603.41 533 603.44 532.5 603.77 532 603.29 531.5 603.56 531 603.57 530.5 603.7 530 603.86 529.5 603.43 529 603.38 528.5 603.48 528 603.2 527.5 603.03 527 603.39 526.5 603.16 526 603.89 525.5 604.02 525 603.68 524.5 603.48 524 603.43 523.5 603.72 523 604.04 522.5 603.39 522 603.45 521.5 604 521 603.63 520.5 603.28 520 603.81 519.5 603.29 519 603.23 518.5 603.78 518 603.29 517.5 603.96 517 604.07 516.5 603.78 516 603.53 515.5 603.91 515 603.42 514.5 603.91 514 604.07 513.5 603.45 513 603.47 512.5 603.05 512 603.73 511.5 603.39 511 603.17 510.5 604.33 510 603.45 509.5 603.02 509 603.15 508.5 603.55 508 603.48 507.5 603.44 507 603.33 506.5 603.75 506 604.28 505.5 603.54 505 603.41 504.5 604.13 504 603.76 503.5 604.08 503 603.52 502.5 603.81 502 603.91 501.5 604.41 501 603.8 500.5 603.74 500 604.06 499.5 603.37 499 603.57 498.5 603.78 498 603.69 497.5 604.36 497 603.6 496.5 603.7 496 603.73 495.5 603.46 495 603.75 494.5 604.16 494 603.64 493.5 603.13 493 603.05 492.5 604.3 492 603 491.5 603.85 491 603.11 490.5 602.96 490 603.29 489.5 603.14 489 602.95 488.5 603.31 488 602.81 487.5 603.04 487 603.23 486.5 603.53 486 603.86 485.5 603.86 485 603.69 484.5 604.11 484 603.69 483.5 603.6 483 603.71 482.5 604.07 482 603.38 481.5 603.06 481 603.11 480.5 603.58 480 603.88 479.5 603.65 479 603.91 478.5 603.48 478 603.95 477.5 604.96 477 603.85 476.5 605.15 476 604.74 475.5 604.17 475 604.55 474.5 603.91 474 603.78 473.5 603.47 473 603.41 472.5 604 472 603.46 471.5 604.36 471 603.63 470.5 603.41 470 603.37 469.5 603.72 469 603.28 468.5 603.35 468 603.18 467.5 603.35 467 603.07 466.5 603.66 466 604.33 465.5 603.16 465 602.87 464.5 604.17 464 602.72 463.5 602.76 463 603.06 462.5 603.59 462 603.03 461.5 602.88 461 603.27 460.5 602.88 460 603.5 459.5 603.31 459 603.06 458.5 604.45 458 602.91 457.5 603.13 457 603.22 456.5 603.72 456 603.67 455.5 603.35 455 603.2 454.5 603.25 454 603.66 453.5 603.12 453 603.02 452.5 603.23 452 602.91 451.5 603.03 451 602.93 450.5 602.97 450 603.88 449.5 603.31 449 602.79 448.5 602.78 448 602.98 447.5 602.8 447 602.87 446.5 603.41 446 603.66 445.5 603.78 445 603.42 444.5 603.51 444 603.54 443.5 603.56 443 603.78 442.5 603.91 442 603.54 441.5 604.08 441 603.94 440.5 603.63 440 604.35 439.5 603.97 439 604.23 438.5 603.77 438 604.02 437.5 603.96 437 603.48 436.5 603.86 436 603.89 435.5 603.49 435 604.24 434.5 603.54 434 603.56 433.5 604.16 433 604.24 432.5 603.39 432 603.97 431.5 603.54 431 603.42 430.5 603.39 430 603.71 429.5 603.05 429 603.16 428.5 603.64 428 603.46 427.5 603.22 427 603.68 426.5 603.78 426 604.12 425.5 602.91 425 603.06 424.5 603.47 424 602.96 423.5 604.08 423 603.32 422.5 603.42 422 604.17 421.5 603.46 421 604.07 420.5 603.37 420 603.83 419.5 603.67 419 604.72 418.5 603.89 418 603.83 417.5 603.23 417 603.42 416.5 603.09 416 603.1 415.5 603.36 415 603.75 414.5 603.66 414 604.09 413.5 603.64 413 603.62 412.5 604.08 412 603.65 411.5 604.65 411 603.97 410.5 604.28 410 604.32 409.5 603.69 409 603.27 408.5 603.22 408 603.25 407.5 603.81 407 603.77 406.5 604.4 406 603.51 405.5 603.48 405 603.34 404.5 603.33Z" fill="#111" stroke="#111" stroke-width="0.3"/>
<path d="M573.43 603.35L573.55 607.81L574.11 603.35M547.11 603.55L547.23 605.75L547.7 603.55M597.47 603.18L597.59 609.73L598.23 603.18M533.29 603.14L533.41 606.73L533.93 603.14M560.65 603.33L560.77 604.52L561.2 603.33M503.42 603.22L503.54 609.22L504.16 603.22M585.03 603.54L585.15 607.43L585.69 603.54M629.54 602.76L629.66 611.76L630.4 602.76M433.49 603.94L433.61 605.95L434.07 603.94M575.83 604L575.95 613.77L576.72 604M429.85 602.75L429.97 604.11L430.41 602.75M630.08 602.84L630.2 606.32L630.72 602.84M499.53 603.07L499.65 606.12L500.15 603.07M615.16 604.28L615.28 605.43L615.7 604.28M638.52 603.59L638.64 605.14L639.08 603.59M545.81 603.09L545.93 604.08L546.35 603.09M547.23 603.55L547.35 605.86L547.82 603.55M585.33 603.54L585.45 605.74L585.92 603.54M597.03 603.18L597.15 606.03L597.65 603.18M481.18 602.81L481.3 605.56L481.79 602.81M599.14 603.33L599.26 606.09L599.75 603.33M529.63 603.13L529.75 607.65L530.31 603.13M533.82 603.11L533.94 613.28L534.73 603.11M512.74 602.75L512.86 608.53L513.47 602.75M505.47 603.11L505.59 604.62L506.03 603.11M574.3 603.06L574.42 604.2L574.84 603.06M525.48 603.38L525.6 613.26L526.37 603.38M620.99 603.04L621.11 607.99L621.68 603.04M447.32 602.57L447.44 606.63L447.98 602.57M451.24 602.63L451.36 604.02L451.8 602.63M643.95 603.09L644.07 610.45L644.74 603.09M543.57 603.05L543.69 607.47L544.24 603.05M581.43 603.97L581.55 605.05L581.97 603.97M598.23 603.51L598.35 607.65L598.9 603.51M659.33 604.12L659.45 608.35L660 604.12M513.93 603.15L514.05 606.73L514.58 603.15M435.42 603.94L435.54 606.04L436 603.94M643.55 603.09L643.67 605.21L644.13 603.09M653.99 603.42L654.11 607.64L654.66 603.42M572.5 603.33L572.62 606.98L573.15 603.33M591.42 603.28L591.54 605.38L592.01 603.28M474.02 603.48L474.14 605.05L474.59 603.48M562.94 603.66L563.06 608.11L563.62 603.66M549.59 602.95L549.71 604.25L550.14 602.95M437.86 603.66L437.98 604.97L438.42 603.66" fill="none" stroke="#111" stroke-width="0.65" opacity="0.9" stroke-linejoin="round"/>
<path d="M641.3 653.9 L666.2 653.9 L666.2 642.5" fill="none" stroke="#333" stroke-width="1.3" stroke-linejoin="round"/>
<path d="M44.18 395.3 L44.41 395.3 L44.64 394.42 L44.88 392.81 L45.11 391.13 L45.34 389.36 L45.57 387.54 L45.8 385.64 L46.03 383.69 L46.27 381.69 L46.5 379.64 L46.73 377.47 L46.96 375.13 L47.19 372.7 L47.42 370.24 L47.66 367.79 L47.89 365.44 L48.12 363.17 L48.35 360.85 L48.58 358.49 L48.81 356.16 L49.05 353.9 L49.28 351.74 L49.51 349.74 L49.74 347.95 L49.97 346.4 L50.2 345.02 L50.44 343.74 L50.67 342.55 L50.9 341.43 L51.13 340.37 L51.36 339.36 L51.59 338.4 L51.83 337.47 L52.06 336.56 L52.29 335.66 L52.52 334.77 L52.75 333.87 L52.98 332.98 L53.22 332.1 L53.45 331.24 L53.68 330.4 L53.91 329.57 L54.14 328.78 L54.37 328.02 L54.61 327.3 L54.84 326.62 L55.07 325.98 L55.3 325.4 L55.53 324.87 L55.76 324.36 L56 323.87 L56.23 323.4 L56.46 322.95 L56.69 322.52 L56.92 322.1 L57.15 321.71 L57.39 321.33 L57.62 320.96 L57.85 320.62 L58.08 320.29 L58.31 319.97 L58.54 319.68 L58.78 319.4 L59.01 319.13 L59.24 318.87 L59.47 318.62 L59.7 318.37 L59.93 318.13 L60.17 317.89 L60.4 317.66 L60.63 317.44 L60.86 317.22 L61.09 317.01 L61.32 316.81 L61.56 316.61 L61.79 316.42 L62.02 316.24 L62.25 316.07 L62.48 315.9 L62.71 315.75 L62.95 315.6 L63.18 315.47 L63.41 315.34 L63.64 315.22 L63.87 315.12 L64.1 315.02 L64.34 314.92 L64.57 314.82 L64.8 314.73 L65.03 314.63 L65.26 314.54 L65.49 314.45 L65.72 314.36 L65.96 314.28 L66.19 314.2 L66.42 314.11 L66.65 314.04 L66.88 313.96 L67.12 313.89 L67.35 313.82 L67.58 313.75 L67.81 313.68 L68.04 313.62 L68.27 313.56 L68.51 313.51 L68.74 313.45 L68.97 313.4 L69.2 313.36 L69.43 313.31 L69.66 313.27 L69.9 313.24 L70.13 313.21 L70.36 313.18 L70.59 313.15 L70.82 313.13 L71.05 313.11 L71.28 313.09 L71.52 313.08 L71.75 313.06 L71.98 313.04 L72.21 313.03 L72.44 313.01 L72.68 313 L72.91 312.98 L73.14 312.97 L73.37 312.95 L73.6 312.94 L73.83 312.93 L74.06 312.91 L74.3 312.9 L74.53 312.89 L74.76 312.88 L74.99 312.87 L75.22 312.86 L75.46 312.85 L75.69 312.84 L75.92 312.83 L76.15 312.82 L76.38 312.81 L76.61 312.8 L76.84 312.79 L77.08 312.78 L77.31 312.78 L77.54 312.77 L77.77 312.76 L78 312.76 L78.24 312.75 L78.47 312.74 L78.7 312.74 L78.93 312.73 L79.16 312.73 L79.39 312.73 L79.62 312.72 L79.86 312.72 L80.09 312.71 L80.32 312.71 L80.55 312.71 L80.78 312.71 L81.02 312.7 L81.25 312.7 L81.48 312.7 L81.71 312.69 L81.94 312.69 L82.17 312.69 L82.41 312.68 L82.64 312.68 L82.87 312.68 L83.1 312.68 L83.33 312.67 L83.56 312.67 L83.8 312.67 L84.03 312.67 L84.26 312.66 L84.49 312.66 L84.72 312.66 L84.95 312.66 L85.19 312.65 L85.42 312.65 L85.65 312.65 L85.88 312.65 L86.11 312.65 L86.34 312.65 L86.58 312.64 L86.81 312.64 L87.04 312.64 L87.27 312.64 L87.5 312.64 L87.73 312.64 L87.97 312.64 L88.2 312.64 L88.43 312.64 L88.66 312.63 L88.89 312.63 L89.12 312.63 L89.36 312.63 L89.59 312.63 L89.82 312.63 L90.05 312.63 L90.28 312.63" fill="none" stroke="#8c8c1a" stroke-width="1.2" stroke-linejoin="round"/>
<path d="M45.51 395.3 L45.94 395.3 L46.36 394.97 L46.79 394.39 L47.22 393.62 L47.65 392.71 L48.08 391.71 L48.51 390.4 L48.93 388.76 L49.36 386.85 L49.79 384.76 L50.22 382.56 L50.65 380.32 L51.08 378.09 L51.5 375.64 L51.93 372.98 L52.36 370.19 L52.79 367.38 L53.22 364.66 L53.65 362.12 L54.07 359.85 L54.5 357.71 L54.93 355.65 L55.36 353.67 L55.79 351.79 L56.22 350.01 L56.64 348.35 L57.07 346.81 L57.5 345.34 L57.93 343.93 L58.36 342.58 L58.78 341.28 L59.21 340.05 L59.64 338.88 L60.07 337.76 L60.5 336.71 L60.93 335.71 L61.36 334.75 L61.78 333.82 L62.21 332.92 L62.64 332.05 L63.07 331.21 L63.5 330.41 L63.92 329.64 L64.35 328.91 L64.78 328.23 L65.21 327.59 L65.64 326.99 L66.07 326.44 L66.5 325.92 L66.92 325.41 L67.35 324.93 L67.78 324.46 L68.21 324.02 L68.64 323.59 L69.06 323.17 L69.49 322.78 L69.92 322.39 L70.35 322.02 L70.78 321.66 L71.21 321.31 L71.63 320.97 L72.06 320.65 L72.49 320.33 L72.92 320.01 L73.35 319.7 L73.78 319.4 L74.21 319.1 L74.63 318.8 L75.06 318.51 L75.49 318.23 L75.92 317.96 L76.35 317.69 L76.78 317.43 L77.2 317.19 L77.63 316.95 L78.06 316.73 L78.49 316.52 L78.92 316.32 L79.34 316.14 L79.77 315.97 L80.2 315.82 L80.63 315.67 L81.06 315.52 L81.49 315.38 L81.91 315.24 L82.34 315.11 L82.77 314.98 L83.2 314.85 L83.63 314.73 L84.06 314.62 L84.48 314.51 L84.91 314.41 L85.34 314.31 L85.77 314.22 L86.2 314.13 L86.63 314.06 L87.06 313.98 L87.48 313.92 L87.91 313.86 L88.34 313.81 L88.77 313.76 L89.2 313.71 L89.62 313.66 L90.05 313.61 L90.48 313.57 L90.91 313.52 L91.34 313.48 L91.77 313.44 L92.19 313.4 L92.62 313.37 L93.05 313.33 L93.48 313.3 L93.91 313.27 L94.34 313.24 L94.76 313.21 L95.19 313.18 L95.62 313.15 L96.05 313.13 L96.48 313.11 L96.91 313.09 L97.34 313.07 L97.76 313.05 L98.19 313.03 L98.62 313.01 L99.05 312.99 L99.48 312.98 L99.91 312.96 L100.33 312.95 L100.76 312.93 L101.19 312.91 L101.62 312.9 L102.05 312.88 L102.47 312.87 L102.9 312.86 L103.33 312.84 L103.76 312.83 L104.19 312.82 L104.62 312.81 L105.05 312.8 L105.47 312.79 L105.9 312.78 L106.33 312.77 L106.76 312.76 L107.19 312.75 L107.61 312.74 L108.04 312.74 L108.47 312.73 L108.9 312.72 L109.33 312.72 L109.76 312.72 L110.19 312.71 L110.61 312.71 L111.04 312.71 L111.47 312.7 L111.9 312.7 L112.33 312.7 L112.75 312.7 L113.18 312.69 L113.61 312.69 L114.04 312.69 L114.47 312.68 L114.9 312.68 L115.33 312.68 L115.75 312.68 L116.18 312.67 L116.61 312.67 L117.04 312.67 L117.47 312.67 L117.89 312.67 L118.32 312.66 L118.75 312.66 L119.18 312.66 L119.61 312.66 L120.04 312.66 L120.47 312.65 L120.89 312.65 L121.32 312.65 L121.75 312.65 L122.18 312.65 L122.61 312.65 L123.03 312.64 L123.46 312.64 L123.89 312.64 L124.32 312.64 L124.75 312.64 L125.18 312.64 L125.6 312.64 L126.03 312.64 L126.46 312.64 L126.89 312.64 L127.32 312.64 L127.75 312.63 L128.17 312.63 L128.6 312.63 L129.03 312.63 L129.46 312.63 L129.89 312.63 L130.32 312.63 L130.75 312.63" fill="none" stroke="#111" stroke-width="1.2" stroke-linejoin="round"/>
<line x1="40.5" y1="296.1" x2="40.5" y2="396" stroke="#222222" stroke-width="1"/>
<line x1="40" y1="395.5" x2="140.2" y2="395.5" stroke="#222222" stroke-width="1"/>
<line x1="37.2" y1="395.5" x2="40.5" y2="395.5" stroke="#222222" stroke-width="1"/>
<text transform="translate(32.6 398.47) scale(1.07 1)" font-size="8.8" text-anchor="end">0.0</text>
<line x1="37.2" y1="378.5" x2="40.5" y2="378.5" stroke="#222222" stroke-width="1"/>
<text transform="translate(32.6 381.93) scale(1.07 1)" font-size="8.8" text-anchor="end">0.2</text>
<line x1="37.2" y1="362.5" x2="40.5" y2="362.5" stroke="#222222" stroke-width="1"/>
<text transform="translate(32.6 365.4) scale(1.07 1)" font-size="8.8" text-anchor="end">0.4</text>
<line x1="37.2" y1="345.5" x2="40.5" y2="345.5" stroke="#222222" stroke-width="1"/>
<text transform="translate(32.6 348.87) scale(1.07 1)" font-size="8.8" text-anchor="end">0.6</text>
<line x1="37.2" y1="329.5" x2="40.5" y2="329.5" stroke="#222222" stroke-width="1"/>
<text transform="translate(32.6 332.33) scale(1.07 1)" font-size="8.8" text-anchor="end">0.8</text>
<line x1="37.2" y1="312.5" x2="40.5" y2="312.5" stroke="#222222" stroke-width="1"/>
<text transform="translate(32.6 315.8) scale(1.07 1)" font-size="8.8" text-anchor="end">1.0</text>
<line x1="37.2" y1="296.5" x2="40.5" y2="296.5" stroke="#222222" stroke-width="1"/>
<text transform="translate(32.6 299.27) scale(1.07 1)" font-size="8.8" text-anchor="end">1.2</text>
<line x1="40.5" y1="395.5" x2="40.5" y2="398.3" stroke="#222222" stroke-width="1"/>
<text transform="translate(40.2 409.67) scale(1.07 1)" font-size="8.8" text-anchor="middle">0</text>
<line x1="73.5" y1="395.5" x2="73.5" y2="398.3" stroke="#222222" stroke-width="1"/>
<text transform="translate(73.37 409.67) scale(1.07 1)" font-size="8.8" text-anchor="middle">50</text>
<line x1="106.5" y1="395.5" x2="106.5" y2="398.3" stroke="#222222" stroke-width="1"/>
<text transform="translate(106.53 409.67) scale(1.07 1)" font-size="8.8" text-anchor="middle">100</text>
<line x1="139.5" y1="395.5" x2="139.5" y2="398.3" stroke="#222222" stroke-width="1"/>
<text transform="translate(139.7 409.67) scale(1.07 1)" font-size="8.8" text-anchor="middle">150</text>
<text transform="translate(90 292.1) scale(1.07 1)" font-size="9" text-anchor="middle">Thalamus</text>
<text transform="translate(90.2 422.3) scale(1.07 1)" font-size="9" text-anchor="middle">Amplitude (pA)</text>
<text transform="translate(10.4 345.7) rotate(-90) scale(1.07 1)" font-size="9" text-anchor="middle">Cumulative probability</text>
<path d="M205.31 395.2 L205.71 394.57 L206.11 393.24 L206.5 391.84 L206.9 390.36 L207.3 388.82 L207.69 387.21 L208.09 385.48 L208.49 383.59 L208.88 381.51 L209.28 379.25 L209.68 376.84 L210.07 374.29 L210.47 371.44 L210.87 368.37 L211.26 365.25 L211.66 362.23 L212.06 359.46 L212.45 356.8 L212.85 354.22 L213.24 351.75 L213.64 349.42 L214.04 347.28 L214.43 345.29 L214.83 343.43 L215.23 341.66 L215.62 339.97 L216.02 338.32 L216.42 336.69 L216.81 335.08 L217.21 333.56 L217.61 332.17 L218 330.99 L218.4 329.94 L218.8 328.95 L219.19 328.02 L219.59 327.15 L219.99 326.33 L220.38 325.55 L220.78 324.81 L221.18 324.11 L221.57 323.44 L221.97 322.79 L222.37 322.16 L222.76 321.55 L223.16 320.97 L223.56 320.42 L223.95 319.92 L224.35 319.46 L224.74 319.07 L225.14 318.72 L225.54 318.39 L225.93 318.07 L226.33 317.77 L226.73 317.49 L227.12 317.22 L227.52 316.97 L227.92 316.73 L228.31 316.5 L228.71 316.29 L229.11 316.1 L229.5 315.91 L229.9 315.74 L230.3 315.58 L230.69 315.43 L231.09 315.28 L231.49 315.15 L231.88 315.01 L232.28 314.89 L232.68 314.77 L233.07 314.65 L233.47 314.54 L233.87 314.44 L234.26 314.34 L234.66 314.24 L235.06 314.15 L235.45 314.07 L235.85 313.99 L236.24 313.91 L236.64 313.83 L237.04 313.75 L237.43 313.68 L237.83 313.61 L238.23 313.54 L238.62 313.48 L239.02 313.41 L239.42 313.35 L239.81 313.29 L240.21 313.24 L240.61 313.19 L241 313.14 L241.4 313.1 L241.8 313.06 L242.19 313.02 L242.59 312.98 L242.99 312.95 L243.38 312.92 L243.78 312.88 L244.18 312.85 L244.57 312.82 L244.97 312.79 L245.37 312.76 L245.76 312.73 L246.16 312.7 L246.56 312.67 L246.95 312.64 L247.35 312.62 L247.74 312.59 L248.14 312.56 L248.54 312.54 L248.93 312.52 L249.33 312.5 L249.73 312.47 L250.12 312.45 L250.52 312.43 L250.92 312.41 L251.31 312.4 L251.71 312.38 L252.11 312.36 L252.5 312.35 L252.9 312.33 L253.3 312.32 L253.69 312.31 L254.09 312.29 L254.49 312.28 L254.88 312.27 L255.28 312.26 L255.68 312.25 L256.07 312.24 L256.47 312.24 L256.87 312.23 L257.26 312.22 L257.66 312.21 L258.06 312.2 L258.45 312.19 L258.85 312.19 L259.25 312.18 L259.64 312.17 L260.04 312.16 L260.43 312.16 L260.83 312.15 L261.23 312.14 L261.62 312.14 L262.02 312.13 L262.42 312.12 L262.81 312.12 L263.21 312.11 L263.61 312.11 L264 312.1 L264.4 312.1 L264.8 312.09 L265.19 312.08 L265.59 312.08 L265.99 312.08 L266.38 312.07 L266.78 312.07 L267.18 312.06 L267.57 312.06 L267.97 312.05 L268.37 312.05 L268.76 312.05 L269.16 312.04 L269.56 312.04 L269.95 312.04 L270.35 312.03 L270.75 312.03 L271.14 312.02 L271.54 312.02 L271.93 312.02 L272.33 312.02 L272.73 312.01 L273.12 312.01 L273.52 312.01 L273.92 312 L274.31 312 L274.71 312 L275.11 311.99 L275.5 311.99 L275.9 311.99 L276.3 311.98 L276.69 311.98 L277.09 311.98 L277.49 311.98 L277.88 311.97 L278.28 311.97 L278.68 311.97 L279.07 311.97 L279.47 311.97 L279.87 311.96 L280.26 311.96 L280.66 311.96 L281.06 311.96 L281.45 311.96 L281.85 311.96 L282.25 311.95 L282.64 311.95 L283.04 311.95 L283.43 311.95 L283.83 311.95 L284.23 311.95" fill="none" stroke="#8c8c1a" stroke-width="1.3" stroke-linejoin="round"/>
<path d="M205.31 395.2 L205.7 394.77 L206.09 393.78 L206.48 392.64 L206.87 391.37 L207.26 389.9 L207.64 388.28 L208.03 386.55 L208.42 384.77 L208.81 382.93 L209.2 380.99 L209.59 378.9 L209.98 376.62 L210.36 374 L210.75 371.07 L211.14 368 L211.53 364.94 L211.92 362.06 L212.31 359.31 L212.69 356.56 L213.08 353.89 L213.47 351.37 L213.86 349.06 L214.25 347.01 L214.64 345.12 L215.03 343.35 L215.41 341.67 L215.8 340.05 L216.19 338.45 L216.58 336.85 L216.97 335.31 L217.36 333.86 L217.75 332.57 L218.13 331.47 L218.52 330.47 L218.91 329.53 L219.3 328.65 L219.69 327.82 L220.08 327.04 L220.46 326.29 L220.85 325.58 L221.24 324.88 L221.63 324.21 L222.02 323.54 L222.41 322.88 L222.8 322.22 L223.18 321.59 L223.57 320.99 L223.96 320.43 L224.35 319.93 L224.74 319.5 L225.13 319.11 L225.51 318.75 L225.9 318.39 L226.29 318.06 L226.68 317.74 L227.07 317.44 L227.46 317.15 L227.85 316.88 L228.23 316.63 L228.62 316.39 L229.01 316.18 L229.4 315.98 L229.79 315.79 L230.18 315.63 L230.56 315.47 L230.95 315.32 L231.34 315.18 L231.73 315.05 L232.12 314.92 L232.51 314.8 L232.9 314.69 L233.28 314.58 L233.67 314.48 L234.06 314.38 L234.45 314.29 L234.84 314.2 L235.23 314.12 L235.62 314.04 L236 313.96 L236.39 313.88 L236.78 313.8 L237.17 313.73 L237.56 313.66 L237.95 313.59 L238.33 313.52 L238.72 313.46 L239.11 313.4 L239.5 313.34 L239.89 313.28 L240.28 313.23 L240.67 313.18 L241.05 313.14 L241.44 313.09 L241.83 313.05 L242.22 313.02 L242.61 312.98 L243 312.95 L243.38 312.92 L243.77 312.88 L244.16 312.85 L244.55 312.82 L244.94 312.79 L245.33 312.76 L245.72 312.73 L246.1 312.71 L246.49 312.68 L246.88 312.65 L247.27 312.63 L247.66 312.6 L248.05 312.58 L248.44 312.56 L248.82 312.53 L249.21 312.51 L249.6 312.49 L249.99 312.47 L250.38 312.45 L250.77 312.43 L251.15 312.41 L251.54 312.4 L251.93 312.38 L252.32 312.36 L252.71 312.35 L253.1 312.33 L253.49 312.32 L253.87 312.3 L254.26 312.29 L254.65 312.28 L255.04 312.27 L255.43 312.25 L255.82 312.24 L256.2 312.23 L256.59 312.22 L256.98 312.21 L257.37 312.2 L257.76 312.19 L258.15 312.18 L258.54 312.17 L258.92 312.16 L259.31 312.15 L259.7 312.14 L260.09 312.13 L260.48 312.12 L260.87 312.11 L261.26 312.11 L261.64 312.1 L262.03 312.09 L262.42 312.08 L262.81 312.08 L263.2 312.07 L263.59 312.06 L263.97 312.06 L264.36 312.05 L264.75 312.05 L265.14 312.04 L265.53 312.04 L265.92 312.04 L266.31 312.03 L266.69 312.03 L267.08 312.03 L267.47 312.02 L267.86 312.02 L268.25 312.02 L268.64 312.01 L269.02 312.01 L269.41 312.01 L269.8 312 L270.19 312 L270.58 312 L270.97 312 L271.36 311.99 L271.74 311.99 L272.13 311.99 L272.52 311.99 L272.91 311.98 L273.3 311.98 L273.69 311.98 L274.07 311.98 L274.46 311.97 L274.85 311.97 L275.24 311.97 L275.63 311.97 L276.02 311.97 L276.41 311.96 L276.79 311.96 L277.18 311.96 L277.57 311.96 L277.96 311.96 L278.35 311.96 L278.74 311.96 L279.13 311.95 L279.51 311.95 L279.9 311.95 L280.29 311.95 L280.68 311.95 L281.07 311.95 L281.46 311.95 L281.84 311.95 L282.23 311.95 L282.62 311.95" fill="none" stroke="#111" stroke-width="1.2" stroke-linejoin="round"/>
<line x1="201.5" y1="295.3" x2="201.5" y2="396" stroke="#222222" stroke-width="1"/>
<line x1="201" y1="395.5" x2="302.3" y2="395.5" stroke="#222222" stroke-width="1"/>
<line x1="198.9" y1="395.5" x2="201.5" y2="395.5" stroke="#222222" stroke-width="1"/>
<text transform="translate(194.3 398.37) scale(1.07 1)" font-size="8.8" text-anchor="end">0.0</text>
<line x1="198.9" y1="378.5" x2="201.5" y2="378.5" stroke="#222222" stroke-width="1"/>
<text transform="translate(194.3 381.72) scale(1.07 1)" font-size="8.8" text-anchor="end">0.2</text>
<line x1="198.9" y1="361.5" x2="201.5" y2="361.5" stroke="#222222" stroke-width="1"/>
<text transform="translate(194.3 365.07) scale(1.07 1)" font-size="8.8" text-anchor="end">0.4</text>
<line x1="198.9" y1="345.5" x2="201.5" y2="345.5" stroke="#222222" stroke-width="1"/>
<text transform="translate(194.3 348.42) scale(1.07 1)" font-size="8.8" text-anchor="end">0.6</text>
<line x1="198.9" y1="328.5" x2="201.5" y2="328.5" stroke="#222222" stroke-width="1"/>
<text transform="translate(194.3 331.77) scale(1.07 1)" font-size="8.8" text-anchor="end">0.8</text>
<line x1="198.9" y1="311.5" x2="201.5" y2="311.5" stroke="#222222" stroke-width="1"/>
<text transform="translate(194.3 315.12) scale(1.07 1)" font-size="8.8" text-anchor="end">1.0</text>
<line x1="198.9" y1="295.5" x2="201.5" y2="295.5" stroke="#222222" stroke-width="1"/>
<text transform="translate(194.3 298.47) scale(1.07 1)" font-size="8.8" text-anchor="end">1.2</text>
<line x1="201.5" y1="395.5" x2="201.5" y2="398.2" stroke="#222222" stroke-width="1"/>
<text transform="translate(201.9 409.57) scale(1.07 1)" font-size="8.8" text-anchor="middle">0</text>
<line x1="221.5" y1="395.5" x2="221.5" y2="398.2" stroke="#222222" stroke-width="1"/>
<text transform="translate(221.98 409.57) scale(1.07 1)" font-size="8.8" text-anchor="middle">50</text>
<line x1="242.5" y1="395.5" x2="242.5" y2="398.2" stroke="#222222" stroke-width="1"/>
<text transform="translate(242.06 409.57) scale(1.07 1)" font-size="8.8" text-anchor="middle">100</text>
<line x1="262.5" y1="395.5" x2="262.5" y2="398.2" stroke="#222222" stroke-width="1"/>
<text transform="translate(262.14 409.57) scale(1.07 1)" font-size="8.8" text-anchor="middle">150</text>
<line x1="282.5" y1="395.5" x2="282.5" y2="398.2" stroke="#222222" stroke-width="1"/>
<text transform="translate(282.22 409.57) scale(1.07 1)" font-size="8.8" text-anchor="middle">200</text>
<line x1="302.5" y1="395.5" x2="302.5" y2="398.2" stroke="#222222" stroke-width="1"/>
<text transform="translate(302.3 409.57) scale(1.07 1)" font-size="8.8" text-anchor="middle">250</text>
<text transform="translate(251.8 291.8) scale(1.07 1)" font-size="9" text-anchor="middle">nRT</text>
<text transform="translate(251.8 422.4) scale(1.07 1)" font-size="9" text-anchor="middle">Amplitude (pA)</text>
<text transform="translate(171.9 345.25) rotate(-90) scale(1.07 1)" font-size="9" text-anchor="middle">Cumulative probability</text>
<path d="M47.1 545.5 L47.1 484.4 L68.1 484.4 L68.1 545.5" fill="none" stroke="#111" stroke-width="1.2" stroke-linejoin="round"/>
<path d="M79.4 545.5 L79.4 514 L101 514 L101 545.5" fill="none" stroke="#8c8c1a" stroke-width="1.2" stroke-linejoin="round"/>
<circle cx="54.9" cy="456.3" r="1.55" fill="#111"/>
<circle cx="59.4" cy="458.5" r="1.55" fill="#111"/>
<circle cx="52.4" cy="472.5" r="1.55" fill="#111"/>
<circle cx="61.8" cy="472.9" r="1.55" fill="#111"/>
<circle cx="57.2" cy="476.1" r="1.55" fill="#111"/>
<circle cx="54.6" cy="491.2" r="1.55" fill="#111"/>
<circle cx="59.6" cy="491.2" r="1.55" fill="#111"/>
<circle cx="57.2" cy="497.4" r="1.55" fill="#111"/>
<circle cx="57.2" cy="508.5" r="1.55" fill="#111"/>
<circle cx="57.2" cy="517.5" r="1.55" fill="#111"/>
<circle cx="90.5" cy="487.2" r="1.55" fill="#8c8c1a"/>
<circle cx="83.3" cy="507.5" r="1.55" fill="#8c8c1a"/>
<circle cx="87.9" cy="509.2" r="1.55" fill="#8c8c1a"/>
<circle cx="92.5" cy="510.5" r="1.55" fill="#8c8c1a"/>
<circle cx="97" cy="509.2" r="1.55" fill="#8c8c1a"/>
<circle cx="85.9" cy="512.7" r="1.55" fill="#8c8c1a"/>
<circle cx="89.9" cy="513.1" r="1.55" fill="#8c8c1a"/>
<circle cx="94.4" cy="514.4" r="1.55" fill="#8c8c1a"/>
<circle cx="83.3" cy="518.6" r="1.55" fill="#8c8c1a"/>
<circle cx="87.9" cy="519.6" r="1.55" fill="#8c8c1a"/>
<circle cx="99.7" cy="518.6" r="1.55" fill="#8c8c1a"/>
<circle cx="94.8" cy="521.5" r="1.55" fill="#8c8c1a"/>
<circle cx="92.5" cy="524.5" r="1.55" fill="#8c8c1a"/>
<circle cx="87.9" cy="526.7" r="1.55" fill="#8c8c1a"/>
<line x1="57.6" y1="477.5" x2="57.6" y2="490.8" stroke="#111" stroke-width="1.2"/>
<line x1="52.1" y1="477.5" x2="63.1" y2="477.5" stroke="#111" stroke-width="1.2"/>
<line x1="52.1" y1="490.8" x2="63.1" y2="490.8" stroke="#111" stroke-width="1.2"/>
<line x1="90.2" y1="511" x2="90.2" y2="516.8" stroke="#8c8c1a" stroke-width="1.2"/>
<line x1="84.7" y1="511" x2="95.7" y2="511" stroke="#8c8c1a" stroke-width="1.2"/>
<line x1="84.7" y1="516.8" x2="95.7" y2="516.8" stroke="#8c8c1a" stroke-width="1.2"/>
<line x1="40.5" y1="446.52" x2="40.5" y2="545.5" stroke="#222222" stroke-width="1"/>
<line x1="37.2" y1="545.5" x2="40.5" y2="545.5" stroke="#222222" stroke-width="1"/>
<text transform="translate(33.2 548.57) scale(1.07 1)" font-size="8.8" text-anchor="end">0</text>
<line x1="37.2" y1="520.5" x2="40.5" y2="520.5" stroke="#222222" stroke-width="1"/>
<text transform="translate(33.2 523.85) scale(1.07 1)" font-size="8.8" text-anchor="end">10</text>
<line x1="37.2" y1="495.5" x2="40.5" y2="495.5" stroke="#222222" stroke-width="1"/>
<text transform="translate(33.2 499.13) scale(1.07 1)" font-size="8.8" text-anchor="end">20</text>
<line x1="37.2" y1="471.5" x2="40.5" y2="471.5" stroke="#222222" stroke-width="1"/>
<text transform="translate(33.2 474.41) scale(1.07 1)" font-size="8.8" text-anchor="end">30</text>
<line x1="37.2" y1="446.5" x2="40.5" y2="446.5" stroke="#222222" stroke-width="1"/>
<text transform="translate(33.2 449.69) scale(1.07 1)" font-size="8.8" text-anchor="end">40</text>
<line x1="40" y1="545.5" x2="106.8" y2="545.5" stroke="#222222" stroke-width="1"/>
<line x1="57.5" y1="545.5" x2="57.5" y2="548.4" stroke="#222222" stroke-width="1"/>
<line x1="90.5" y1="545.5" x2="90.5" y2="548.4" stroke="#222222" stroke-width="1"/>
<path d="M57.5 451.7 L57.5 447.5 L90.5 447.5 L90.5 451.7" fill="none" stroke="#6a6a6a" stroke-width="0.9" stroke-linejoin="round"/>
<text transform="translate(74.05 447.2) scale(1.07 1)" font-size="9.2" text-anchor="middle">***</text>
<text transform="translate(15.4 496.2) rotate(-90) scale(1.07 1)" font-size="9" text-anchor="middle">sIPSC amplitude (pA)</text>
<text transform="translate(57.6 559.2) scale(1.07 1)" font-size="9" text-anchor="middle">WT</text>
<text transform="translate(91.2 559.2) scale(1.07 1)" font-size="9" text-anchor="middle">NLG2 KO</text>
<path d="M208.7 545.5 L208.7 500.4 L230 500.4 L230 545.5" fill="none" stroke="#111" stroke-width="1.2" stroke-linejoin="round"/>
<path d="M241.8 545.5 L241.8 501.2 L262.9 501.2 L262.9 545.5" fill="none" stroke="#8c8c1a" stroke-width="1.2" stroke-linejoin="round"/>
<circle cx="219" cy="458.9" r="1.55" fill="#111"/>
<circle cx="219" cy="482.4" r="1.55" fill="#111"/>
<circle cx="214.5" cy="489.2" r="1.55" fill="#111"/>
<circle cx="223.6" cy="489.2" r="1.55" fill="#111"/>
<circle cx="219" cy="491" r="1.55" fill="#111"/>
<circle cx="219" cy="496" r="1.55" fill="#111"/>
<circle cx="219" cy="502.7" r="1.55" fill="#111"/>
<circle cx="223.6" cy="511.1" r="1.55" fill="#111"/>
<circle cx="212.4" cy="513.2" r="1.55" fill="#111"/>
<circle cx="219" cy="514.1" r="1.55" fill="#111"/>
<circle cx="214.5" cy="517.7" r="1.55" fill="#111"/>
<circle cx="219" cy="521.4" r="1.55" fill="#111"/>
<circle cx="223.6" cy="520.3" r="1.55" fill="#111"/>
<circle cx="250.1" cy="477.3" r="1.55" fill="#8c8c1a"/>
<circle cx="254.5" cy="480.5" r="1.55" fill="#8c8c1a"/>
<circle cx="250.1" cy="488.5" r="1.55" fill="#8c8c1a"/>
<circle cx="254.5" cy="487.5" r="1.55" fill="#8c8c1a"/>
<circle cx="250.1" cy="495.4" r="1.55" fill="#8c8c1a"/>
<circle cx="254.5" cy="499.5" r="1.55" fill="#8c8c1a"/>
<circle cx="259.3" cy="502.5" r="1.55" fill="#8c8c1a"/>
<circle cx="243.4" cy="504.7" r="1.55" fill="#8c8c1a"/>
<circle cx="247.9" cy="506" r="1.55" fill="#8c8c1a"/>
<circle cx="254.5" cy="505.3" r="1.55" fill="#8c8c1a"/>
<circle cx="250.1" cy="510.6" r="1.55" fill="#8c8c1a"/>
<circle cx="254.5" cy="513.9" r="1.55" fill="#8c8c1a"/>
<circle cx="250.1" cy="522.2" r="1.55" fill="#8c8c1a"/>
<circle cx="254.5" cy="520.5" r="1.55" fill="#8c8c1a"/>
<line x1="219.35" y1="495.4" x2="219.35" y2="505.6" stroke="#111" stroke-width="1.2"/>
<line x1="213.85" y1="495.4" x2="224.85" y2="495.4" stroke="#111" stroke-width="1.2"/>
<line x1="213.85" y1="505.6" x2="224.85" y2="505.6" stroke="#111" stroke-width="1.2"/>
<line x1="252.35" y1="497.3" x2="252.35" y2="505.2" stroke="#8c8c1a" stroke-width="1.2"/>
<line x1="246.85" y1="497.3" x2="257.85" y2="497.3" stroke="#8c8c1a" stroke-width="1.2"/>
<line x1="246.85" y1="505.2" x2="257.85" y2="505.2" stroke="#8c8c1a" stroke-width="1.2"/>
<line x1="202.5" y1="445.7" x2="202.5" y2="545.5" stroke="#222222" stroke-width="1"/>
<line x1="199" y1="545.5" x2="202.5" y2="545.5" stroke="#222222" stroke-width="1"/>
<text transform="translate(195 549.07) scale(1.07 1)" font-size="8.8" text-anchor="end">0</text>
<line x1="199" y1="512.5" x2="202.5" y2="512.5" stroke="#222222" stroke-width="1"/>
<text transform="translate(195 515.67) scale(1.07 1)" font-size="8.8" text-anchor="end">20</text>
<line x1="199" y1="479.5" x2="202.5" y2="479.5" stroke="#222222" stroke-width="1"/>
<text transform="translate(195 482.27) scale(1.07 1)" font-size="8.8" text-anchor="end">40</text>
<line x1="199" y1="445.5" x2="202.5" y2="445.5" stroke="#222222" stroke-width="1"/>
<text transform="translate(195 448.87) scale(1.07 1)" font-size="8.8" text-anchor="end">60</text>
<line x1="202" y1="545.5" x2="269.5" y2="545.5" stroke="#222222" stroke-width="1"/>
<line x1="219.5" y1="545.5" x2="219.5" y2="548.9" stroke="#222222" stroke-width="1"/>
<line x1="252.5" y1="545.5" x2="252.5" y2="548.9" stroke="#222222" stroke-width="1"/>
<path d="M219.5 451.3 L219.5 446.5 L252.5 446.5 L252.5 451.3" fill="none" stroke="#6a6a6a" stroke-width="0.9" stroke-linejoin="round"/>
<text transform="translate(235.75 444.1) scale(1.07 1)" font-size="8.8" text-anchor="middle">ns</text>
<text transform="translate(175.5 496) rotate(-90) scale(1.07 1)" font-size="9" text-anchor="middle">sIPSC amplitude (pA)</text>
<text transform="translate(219.35 559.6) scale(1.07 1)" font-size="9" text-anchor="middle">WT</text>
<text transform="translate(253.35 559.6) scale(1.07 1)" font-size="9" text-anchor="middle">NLG2 KO</text>
<path d="M397.2 395.3 L397.22 387.97 L397.23 385.13 L397.25 383.02 L397.27 381.29 L397.29 379.8 L397.3 378.48 L397.32 377.29 L397.34 376.21 L397.35 375.2 L397.37 374.27 L397.39 373.39 L397.41 372.56 L397.42 371.78 L397.44 371.04 L397.46 370.33 L397.48 369.65 L397.49 369.01 L397.51 368.38 L397.53 367.79 L397.54 367.21 L397.56 366.65 L397.58 366.11 L397.6 365.59 L397.61 365.09 L397.63 364.6 L397.65 364.12 L397.66 363.66 L397.68 363.21 L397.7 362.77 L397.71 362.5 L397.72 362.23 L397.73 361.95 L397.74 361.67 L397.76 361.39 L397.77 361.11 L397.78 360.83 L397.79 360.55 L397.81 360.26 L397.82 359.98 L397.83 359.69 L397.85 359.4 L397.86 359.11 L397.88 358.82 L397.89 358.53 L397.91 358.23 L397.92 357.94 L397.94 357.64 L397.95 357.34 L397.97 357.04 L397.99 356.74 L398 356.44 L398.02 356.14 L398.04 355.83 L398.06 355.53 L398.08 355.22 L398.1 354.92 L398.12 354.61 L398.14 354.3 L398.16 353.99 L398.18 353.68 L398.2 353.36 L398.22 353.05 L398.24 352.73 L398.27 352.42 L398.29 352.1 L398.31 351.78 L398.34 351.47 L398.36 351.15 L398.39 350.83 L398.42 350.51 L398.44 350.18 L398.47 349.86 L398.5 349.54 L398.53 349.22 L398.56 348.89 L398.59 348.57 L398.62 348.24 L398.65 347.92 L398.68 347.59 L398.71 347.26 L398.74 346.93 L398.78 346.61 L398.81 346.28 L398.85 345.95 L398.88 345.62 L398.92 345.29 L398.96 344.96 L399 344.63 L399.04 344.3 L399.08 343.97 L399.12 343.64 L399.16 343.31 L399.2 342.98 L399.25 342.65 L399.29 342.32 L399.34 341.99 L399.39 341.66 L399.43 341.33 L399.48 341 L399.53 340.67 L399.59 340.34 L399.64 340.01 L399.69 339.68 L399.75 339.35 L399.8 339.03 L399.86 338.7 L399.92 338.37 L399.98 338.05 L400.04 337.72 L400.1 337.4 L400.16 337.07 L400.23 336.75 L400.3 336.43 L400.36 336.11 L400.43 335.79 L400.5 335.47 L400.58 335.15 L400.65 334.83 L400.73 334.51 L400.8 334.2 L400.88 333.88 L400.96 333.57 L401.05 333.26 L401.13 332.95 L401.22 332.64 L401.31 332.33 L401.4 332.03 L401.49 331.72 L401.58 331.42 L401.68 331.12 L401.78 330.82 L401.88 330.52 L401.98 330.22 L402.09 329.93 L402.19 329.63 L402.3 329.34 L402.41 329.05 L402.53 328.77 L402.65 328.48 L402.77 328.2 L402.89 327.92 L403.01 327.64 L403.14 327.36 L403.27 327.08 L403.4 326.81 L403.54 326.54 L403.68 326.27 L403.82 326.01 L403.97 325.74 L404.12 325.48 L404.27 325.22 L404.42 324.97 L404.58 324.71 L404.74 324.46 L404.91 324.21 L405.08 323.97 L405.25 323.73 L405.43 323.48 L405.61 323.25 L405.8 323.01 L405.98 322.78 L406.18 322.55 L406.37 322.32 L406.58 322.1 L406.78 321.88 L406.99 321.66 L407.21 321.44 L407.43 321.23 L407.65 321.02 L407.88 320.81 L408.12 320.61 L408.36 320.41 L408.6 320.21 L408.85 320.01 L409.11 319.82 L409.37 319.63 L409.64 319.45 L409.91 319.26 L410.19 319.08 L410.47 318.91 L410.76 318.73 L411.06 318.56 L411.37 318.39 L411.68 318.23 L412 318.06 L412.32 317.91 L412.65 317.75 L412.99 317.6 L413.34 317.45 L413.69 317.3 L414.06 317.15 L414.43 317.01 L414.81 316.87 L415.19 316.74 L415.59 316.61 L415.99 316.48 L416.4 316.35 L416.83 316.23 L417.26 316.11 L417.7 315.99 L418.15 315.87 L418.61 315.76 L419.08 315.65 L419.56 315.54 L420.05 315.44 L420.55 315.34 L421.06 315.24 L421.59 315.14 L422.12 315.05 L422.67 314.96 L423.23 314.87 L423.8 314.78 L424.39 314.7 L424.99 314.61 L425.6 314.54 L426.22 314.46 L426.86 314.38 L427.51 314.31 L428.17 314.24 L428.85 314.17 L429.55 314.11 L430.26 314.05 L430.99 313.98 L431.73 313.92 L432.49 313.87 L433.26 313.81 L434.05 313.76 L434.86 313.71 L435.69 313.66 L436.54 313.61 L437.4 313.56 L438.28 313.52 L439.19 313.48 L440.11 313.43 L441.05 313.39 L442.01 313.36 L443 313.32 L444 313.29 L445.03 313.25 L446.08 313.22 L447.16 313.19 L448.25 313.16 L449.38 313.13 L450.52 313.1 L451.69 313.08 L452.89 313.05 L454.11 313.03 L455.36 313.01 L456.64 312.99 L457.95 312.97 L459.28 312.95 L460.64 312.93 L462.04 312.91 L463.46 312.89 L464.92 312.88 L466.41 312.86 L467.93 312.85 L469.48 312.83 L471.07 312.82 L472.69 312.81 L474.35 312.8 L476.04 312.79 L477.77 312.78 L479.54 312.77 L481.35 312.76 L483.2 312.75 L485.09 312.74 L487.02 312.73" fill="none" stroke="#8c8c1a" stroke-width="1.2" stroke-linejoin="round"/>
<path d="M397.2 395.3 L397.22 391.26 L397.23 388.83 L397.25 386.82 L397.27 385.05 L397.29 383.45 L397.3 381.98 L397.32 380.6 L397.34 379.31 L397.35 378.09 L397.37 376.93 L397.39 375.82 L397.41 374.77 L397.42 373.75 L397.44 372.78 L397.46 371.84 L397.48 370.93 L397.49 370.06 L397.51 369.21 L397.53 368.39 L397.54 367.59 L397.56 366.82 L397.58 366.06 L397.6 365.33 L397.61 364.62 L397.63 363.93 L397.65 363.25 L397.66 362.59 L397.68 361.94 L397.7 361.31 L397.71 360.96 L397.72 360.6 L397.73 360.25 L397.74 359.89 L397.75 359.52 L397.76 359.16 L397.77 358.79 L397.78 358.42 L397.8 358.05 L397.81 357.68 L397.82 357.3 L397.83 356.92 L397.84 356.55 L397.86 356.16 L397.87 355.78 L397.88 355.4 L397.9 355.01 L397.91 354.62 L397.92 354.23 L397.94 353.84 L397.95 353.45 L397.97 353.05 L397.98 352.65 L398 352.26 L398.01 351.86 L398.03 351.46 L398.05 351.05 L398.06 350.65 L398.08 350.24 L398.1 349.84 L398.11 349.43 L398.13 349.02 L398.15 348.61 L398.17 348.2 L398.19 347.79 L398.21 347.38 L398.23 346.97 L398.25 346.56 L398.27 346.14 L398.29 345.73 L398.31 345.31 L398.33 344.9 L398.36 344.48 L398.38 344.07 L398.4 343.65 L398.43 343.23 L398.45 342.82 L398.48 342.4 L398.5 341.99 L398.53 341.57 L398.55 341.15 L398.58 340.74 L398.61 340.32 L398.63 339.91 L398.66 339.5 L398.69 339.08 L398.72 338.67 L398.75 338.26 L398.78 337.85 L398.81 337.44 L398.84 337.03 L398.88 336.63 L398.91 336.22 L398.94 335.82 L398.98 335.41 L399.01 335.01 L399.05 334.61 L399.09 334.22 L399.12 333.82 L399.16 333.43 L399.2 333.03 L399.24 332.64 L399.28 332.26 L399.32 331.87 L399.36 331.49 L399.41 331.11 L399.45 330.73 L399.49 330.36 L399.54 329.98 L399.58 329.62 L399.63 329.25 L399.68 328.89 L399.73 328.53 L399.78 328.17 L399.83 327.81 L399.88 327.46 L399.93 327.12 L399.99 326.77 L400.04 326.43 L400.1 326.1 L400.16 325.76 L400.21 325.44 L400.27 325.11 L400.34 324.79 L400.4 324.47 L400.46 324.16 L400.52 323.85 L400.59 323.55 L400.66 323.25 L400.73 322.95 L400.8 322.66 L400.87 322.37 L400.94 322.09 L401.01 321.81 L401.09 321.54 L401.16 321.27 L401.24 321 L401.32 320.74 L401.4 320.49 L401.49 320.24 L401.57 319.99 L401.66 319.75 L401.75 319.51 L401.84 319.28 L401.93 319.05 L402.02 318.83 L402.12 318.62 L402.21 318.4 L402.31 318.19 L402.41 317.99 L402.52 317.79 L402.62 317.6 L402.73 317.41 L402.84 317.23 L402.95 317.05 L403.06 316.87 L403.18 316.7 L403.29 316.54 L403.42 316.38 L403.54 316.22 L403.66 316.07 L403.79 315.92 L403.92 315.78 L404.05 315.64 L404.19 315.51 L404.33 315.38 L404.47 315.25 L404.61 315.13 L404.76 315.01 L404.91 314.9 L405.06 314.79 L405.21 314.68 L405.37 314.58 L405.53 314.48 L405.7 314.39 L405.87 314.3 L406.04 314.21 L406.21 314.13 L406.39 314.05 L406.57 313.97 L406.76 313.9 L406.94 313.82 L407.14 313.76 L407.33 313.69 L407.53 313.63 L407.74 313.57 L407.95 313.52 L408.16 313.46 L408.37 313.41 L408.59 313.36 L408.82 313.32 L409.05 313.27 L409.28 313.23 L409.52 313.19 L409.76 313.16 L410.01 313.12 L410.27 313.09 L410.52 313.06 L410.79 313.03 L411.05 313 L411.33 312.97 L411.61 312.95 L411.89 312.92 L412.18 312.9 L412.48 312.88 L412.78 312.86 L413.09 312.84 L413.4 312.83 L413.72 312.81 L414.05 312.8 L414.38 312.78 L414.72 312.77 L415.06 312.76 L415.42 312.75 L415.78 312.74 L416.14 312.73 L416.52 312.72 L416.9 312.71 L417.29 312.71 L417.68 312.7 L418.09 312.69 L418.5 312.69 L418.92 312.68 L419.35 312.68 L419.79 312.67 L420.23 312.67 L420.69 312.67 L421.15 312.66 L421.63 312.66 L422.11 312.66 L422.6 312.65 L423.1 312.65 L423.61 312.65 L424.13 312.65 L424.67 312.65 L425.21 312.64 L425.76 312.64 L426.32 312.64 L426.9 312.64 L427.49 312.64 L428.08 312.64 L428.69 312.64 L429.32 312.64 L429.95 312.64 L430.6 312.64 L431.26 312.64 L431.93 312.64 L432.61 312.64 L433.31 312.64 L434.03 312.64 L434.75 312.63 L435.49 312.63 L436.25 312.63 L437.02 312.63 L437.81 312.63 L438.61 312.63 L439.43 312.63 L440.26 312.63 L441.11 312.63 L441.98 312.63 L442.86 312.63 L443.76 312.63 L444.68 312.63 L445.62 312.63 L446.58 312.63 L447.55 312.63 L448.55 312.63 L449.56 312.63 L450.59 312.63" fill="none" stroke="#111" stroke-width="1.2" stroke-linejoin="round"/>
<line x1="397.5" y1="296.1" x2="397.5" y2="396" stroke="#222222" stroke-width="1"/>
<line x1="397" y1="395.5" x2="496.9" y2="395.5" stroke="#222222" stroke-width="1"/>
<line x1="394.2" y1="395.5" x2="397.5" y2="395.5" stroke="#222222" stroke-width="1"/>
<text transform="translate(389.6 398.47) scale(1.07 1)" font-size="8.8" text-anchor="end">0.0</text>
<line x1="394.2" y1="378.5" x2="397.5" y2="378.5" stroke="#222222" stroke-width="1"/>
<text transform="translate(389.6 381.93) scale(1.07 1)" font-size="8.8" text-anchor="end">0.2</text>
<line x1="394.2" y1="362.5" x2="397.5" y2="362.5" stroke="#222222" stroke-width="1"/>
<text transform="translate(389.6 365.4) scale(1.07 1)" font-size="8.8" text-anchor="end">0.4</text>
<line x1="394.2" y1="345.5" x2="397.5" y2="345.5" stroke="#222222" stroke-width="1"/>
<text transform="translate(389.6 348.87) scale(1.07 1)" font-size="8.8" text-anchor="end">0.6</text>
<line x1="394.2" y1="329.5" x2="397.5" y2="329.5" stroke="#222222" stroke-width="1"/>
<text transform="translate(389.6 332.33) scale(1.07 1)" font-size="8.8" text-anchor="end">0.8</text>
<line x1="394.2" y1="312.5" x2="397.5" y2="312.5" stroke="#222222" stroke-width="1"/>
<text transform="translate(389.6 315.8) scale(1.07 1)" font-size="8.8" text-anchor="end">1.0</text>
<line x1="394.2" y1="296.5" x2="397.5" y2="296.5" stroke="#222222" stroke-width="1"/>
<text transform="translate(389.6 299.27) scale(1.07 1)" font-size="8.8" text-anchor="end">1.2</text>
<line x1="397.5" y1="395.5" x2="397.5" y2="398.3" stroke="#222222" stroke-width="1"/>
<text transform="translate(397.2 409.67) scale(1.07 1)" font-size="8.8" text-anchor="middle">0</text>
<line x1="417.5" y1="395.5" x2="417.5" y2="398.3" stroke="#222222" stroke-width="1"/>
<text transform="translate(417.16 409.67) scale(1.07 1)" font-size="8.8" text-anchor="middle">2</text>
<line x1="437.5" y1="395.5" x2="437.5" y2="398.3" stroke="#222222" stroke-width="1"/>
<text transform="translate(437.12 409.67) scale(1.07 1)" font-size="8.8" text-anchor="middle">4</text>
<line x1="457.5" y1="395.5" x2="457.5" y2="398.3" stroke="#222222" stroke-width="1"/>
<text transform="translate(457.08 409.67) scale(1.07 1)" font-size="8.8" text-anchor="middle">6</text>
<line x1="477.5" y1="395.5" x2="477.5" y2="398.3" stroke="#222222" stroke-width="1"/>
<text transform="translate(477.04 409.67) scale(1.07 1)" font-size="8.8" text-anchor="middle">8</text>
<line x1="497.5" y1="395.5" x2="497.5" y2="398.3" stroke="#222222" stroke-width="1"/>
<text transform="translate(497 409.67) scale(1.07 1)" font-size="8.8" text-anchor="middle">10</text>
<text transform="translate(447.2 292) scale(1.07 1)" font-size="9" text-anchor="middle">Thalamus</text>
<text transform="translate(446.4 421.9) scale(1.07 1)" font-size="9" text-anchor="middle">Interval (s)</text>
<text transform="translate(366.6 345.7) rotate(-90) scale(1.07 1)" font-size="9" text-anchor="middle">Cumulative probability</text>
<path d="M558.1 395.3 L558.13 383.38 L558.17 378.95 L558.2 375.75 L558.24 373.16 L558.27 370.97 L558.3 369.06 L558.34 367.36 L558.37 365.82 L558.41 364.41 L558.44 363.12 L558.47 361.91 L558.51 360.79 L558.54 359.74 L558.58 358.74 L558.61 357.81 L558.65 356.92 L558.68 356.07 L558.71 355.27 L558.75 354.5 L558.78 353.76 L558.82 353.06 L558.85 352.38 L558.88 351.73 L558.92 351.1 L558.95 350.5 L558.99 349.91 L559.02 349.35 L559.05 348.81 L559.09 348.28 L559.11 348 L559.13 347.71 L559.14 347.43 L559.16 347.15 L559.18 346.87 L559.21 346.58 L559.23 346.3 L559.25 346.01 L559.27 345.73 L559.29 345.44 L559.31 345.16 L559.34 344.87 L559.36 344.59 L559.38 344.3 L559.41 344.02 L559.43 343.73 L559.46 343.45 L559.48 343.16 L559.51 342.88 L559.54 342.59 L559.56 342.3 L559.59 342.02 L559.62 341.73 L559.65 341.45 L559.68 341.16 L559.71 340.88 L559.74 340.59 L559.77 340.31 L559.8 340.02 L559.83 339.74 L559.86 339.45 L559.9 339.17 L559.93 338.88 L559.96 338.6 L560 338.32 L560.04 338.04 L560.07 337.75 L560.11 337.47 L560.15 337.19 L560.19 336.91 L560.23 336.63 L560.27 336.35 L560.31 336.07 L560.35 335.79 L560.39 335.52 L560.43 335.24 L560.48 334.96 L560.52 334.69 L560.57 334.41 L560.61 334.14 L560.66 333.87 L560.71 333.59 L560.76 333.32 L560.81 333.05 L560.86 332.78 L560.91 332.52 L560.97 332.25 L561.02 331.98 L561.08 331.72 L561.13 331.45 L561.19 331.19 L561.25 330.93 L561.31 330.67 L561.37 330.41 L561.43 330.15 L561.49 329.89 L561.56 329.64 L561.62 329.38 L561.69 329.13 L561.75 328.88 L561.82 328.63 L561.89 328.38 L561.97 328.13 L562.04 327.89 L562.11 327.64 L562.19 327.4 L562.27 327.16 L562.34 326.92 L562.42 326.68 L562.51 326.45 L562.59 326.21 L562.67 325.98 L562.76 325.75 L562.85 325.52 L562.94 325.29 L563.03 325.07 L563.12 324.84 L563.22 324.62 L563.31 324.4 L563.41 324.18 L563.51 323.96 L563.61 323.75 L563.72 323.54 L563.82 323.33 L563.93 323.12 L564.04 322.91 L564.15 322.71 L564.27 322.5 L564.38 322.3 L564.5 322.1 L564.62 321.91 L564.75 321.71 L564.87 321.52 L565 321.33 L565.13 321.14 L565.26 320.96 L565.4 320.77 L565.53 320.59 L565.67 320.41 L565.82 320.23 L565.96 320.06 L566.11 319.89 L566.26 319.72 L566.42 319.55 L566.57 319.38 L566.73 319.22 L566.89 319.05 L567.06 318.89 L567.23 318.74 L567.4 318.58 L567.58 318.43 L567.76 318.28 L567.94 318.13 L568.12 317.98 L568.31 317.84 L568.51 317.7 L568.7 317.56 L568.9 317.42 L569.11 317.29 L569.31 317.15 L569.52 317.02 L569.74 316.89 L569.96 316.77 L570.18 316.64 L570.41 316.52 L570.64 316.4 L570.88 316.29 L571.12 316.17 L571.37 316.06 L571.62 315.95 L571.87 315.84 L572.13 315.73 L572.4 315.63 L572.67 315.52 L572.94 315.42 L573.22 315.33 L573.51 315.23 L573.8 315.14 L574.09 315.04 L574.39 314.95 L574.7 314.86 L575.01 314.78 L575.33 314.69 L575.66 314.61 L575.99 314.53 L576.33 314.45 L576.67 314.38 L577.02 314.3 L577.38 314.23 L577.74 314.16 L578.11 314.09 L578.49 314.02 L578.87 313.95 L579.27 313.89 L579.67 313.83 L580.07 313.77 L580.49 313.71 L580.91 313.65 L581.34 313.59 L581.78 313.54 L582.22 313.49 L582.68 313.44 L583.14 313.39 L583.61 313.34 L584.1 313.29 L584.59 313.25 L585.09 313.2 L585.59 313.16 L586.11 313.12 L586.64 313.08 L587.18 313.04 L587.73 313 L588.29 312.96 L588.86 312.93 L589.44 312.89 L590.03 312.86 L590.63 312.83 L591.24 312.8 L591.87 312.77 L592.51 312.74 L593.15 312.71 L593.82 312.69 L594.49 312.66 L595.18 312.64 L595.88 312.61 L596.59 312.59 L597.31 312.57 L598.05 312.55 L598.81 312.53 L599.57 312.51 L600.36 312.49 L601.15 312.47 L601.97 312.46 L602.79 312.44 L603.64 312.42 L604.5 312.41 L605.37 312.39 L606.26 312.38 L607.17 312.37 L608.1 312.35 L609.04 312.34 L610 312.33 L610.98 312.32 L611.98 312.31 L612.99 312.3 L614.03 312.29 L615.08 312.28 L616.16 312.27 L617.25 312.27 L618.37 312.26 L619.5 312.25 L620.66 312.24 L621.84 312.24 L623.05 312.23 L624.27 312.22 L625.52 312.22 L626.79 312.21 L628.09 312.21 L629.41 312.2 L630.75 312.2 L632.12 312.19 L633.52 312.19 L634.94 312.19 L636.39 312.18 L637.87 312.18 L639.37 312.18 L640.9 312.17 L642.46 312.17 L644.06 312.17" fill="none" stroke="#8c8c1a" stroke-width="1.3" stroke-linejoin="round"/>
<path d="M558.1 395.3 L558.13 383.22 L558.17 378.75 L558.2 375.5 L558.24 372.9 L558.27 370.69 L558.3 368.76 L558.34 367.04 L558.37 365.49 L558.41 364.07 L558.44 362.76 L558.47 361.55 L558.51 360.42 L558.54 359.36 L558.58 358.36 L558.61 357.42 L558.65 356.53 L558.68 355.68 L558.71 354.87 L558.75 354.09 L558.78 353.36 L558.82 352.65 L558.85 351.97 L558.88 351.31 L558.92 350.68 L558.95 350.08 L558.99 349.49 L559.02 348.93 L559.05 348.38 L559.09 347.85 L559.11 347.57 L559.13 347.29 L559.14 347.01 L559.16 346.72 L559.18 346.44 L559.2 346.16 L559.23 345.87 L559.25 345.59 L559.27 345.31 L559.29 345.02 L559.31 344.74 L559.34 344.45 L559.36 344.17 L559.38 343.88 L559.41 343.6 L559.43 343.31 L559.46 343.03 L559.48 342.74 L559.51 342.46 L559.53 342.17 L559.56 341.89 L559.59 341.6 L559.62 341.32 L559.65 341.03 L559.67 340.75 L559.7 340.47 L559.73 340.18 L559.76 339.9 L559.8 339.61 L559.83 339.33 L559.86 339.05 L559.89 338.76 L559.93 338.48 L559.96 338.2 L560 337.92 L560.03 337.64 L560.07 337.36 L560.11 337.08 L560.14 336.8 L560.18 336.52 L560.22 336.24 L560.26 335.96 L560.3 335.68 L560.34 335.41 L560.39 335.13 L560.43 334.86 L560.47 334.58 L560.52 334.31 L560.56 334.04 L560.61 333.76 L560.66 333.49 L560.7 333.22 L560.75 332.95 L560.8 332.68 L560.85 332.42 L560.91 332.15 L560.96 331.89 L561.01 331.62 L561.07 331.36 L561.12 331.1 L561.18 330.84 L561.24 330.58 L561.3 330.32 L561.36 330.06 L561.42 329.81 L561.48 329.55 L561.54 329.3 L561.61 329.05 L561.67 328.8 L561.74 328.55 L561.81 328.3 L561.88 328.05 L561.95 327.81 L562.02 327.57 L562.1 327.33 L562.17 327.09 L562.25 326.85 L562.33 326.61 L562.41 326.38 L562.49 326.14 L562.57 325.91 L562.65 325.68 L562.74 325.45 L562.83 325.23 L562.92 325 L563.01 324.78 L563.1 324.56 L563.19 324.34 L563.29 324.12 L563.39 323.91 L563.49 323.69 L563.59 323.48 L563.69 323.27 L563.8 323.06 L563.9 322.86 L564.01 322.65 L564.12 322.45 L564.24 322.25 L564.35 322.05 L564.47 321.86 L564.59 321.67 L564.71 321.47 L564.84 321.29 L564.96 321.1 L565.09 320.91 L565.22 320.73 L565.36 320.55 L565.49 320.37 L565.63 320.19 L565.78 320.02 L565.92 319.85 L566.07 319.68 L566.22 319.51 L566.37 319.35 L566.53 319.18 L566.68 319.02 L566.85 318.86 L567.01 318.71 L567.18 318.55 L567.35 318.4 L567.52 318.25 L567.7 318.1 L567.88 317.96 L568.06 317.81 L568.25 317.67 L568.44 317.53 L568.64 317.4 L568.84 317.26 L569.04 317.13 L569.24 317 L569.45 316.87 L569.67 316.75 L569.88 316.62 L570.11 316.5 L570.33 316.38 L570.56 316.27 L570.8 316.15 L571.03 316.04 L571.28 315.93 L571.53 315.82 L571.78 315.72 L572.04 315.61 L572.3 315.51 L572.56 315.41 L572.84 315.31 L573.11 315.22 L573.4 315.12 L573.68 315.03 L573.98 314.94 L574.28 314.85 L574.58 314.77 L574.89 314.69 L575.21 314.6 L575.53 314.52 L575.86 314.45 L576.19 314.37 L576.53 314.29 L576.88 314.22 L577.23 314.15 L577.59 314.08 L577.96 314.01 L578.33 313.95 L578.71 313.89 L579.1 313.82 L579.49 313.76 L579.9 313.7 L580.31 313.65 L580.72 313.59 L581.15 313.54 L581.58 313.48 L582.03 313.43 L582.48 313.38 L582.93 313.33 L583.4 313.29 L583.88 313.24 L584.36 313.2 L584.86 313.16 L585.36 313.12 L585.87 313.08 L586.39 313.04 L586.93 313 L587.47 312.96 L588.02 312.93 L588.58 312.89 L589.16 312.86 L589.74 312.83 L590.34 312.8 L590.94 312.77 L591.56 312.74 L592.19 312.71 L592.83 312.69 L593.49 312.66 L594.15 312.64 L594.83 312.61 L595.52 312.59 L596.22 312.57 L596.94 312.55 L597.67 312.53 L598.42 312.51 L599.18 312.49 L599.95 312.47 L600.74 312.46 L601.54 312.44 L602.35 312.42 L603.19 312.41 L604.04 312.39 L604.9 312.38 L605.78 312.37 L606.68 312.36 L607.59 312.34 L608.52 312.33 L609.47 312.32 L610.44 312.31 L611.42 312.3 L612.42 312.29 L613.45 312.28 L614.49 312.27 L615.55 312.27 L616.63 312.26 L617.73 312.25 L618.85 312.24 L619.99 312.24 L621.16 312.23 L622.35 312.22 L623.55 312.22 L624.79 312.21 L626.04 312.21 L627.32 312.2 L628.62 312.2 L629.95 312.19 L631.3 312.19 L632.68 312.19 L634.08 312.18 L635.51 312.18 L636.96 312.18 L638.45 312.17 L639.96 312.17 L641.5 312.17 L643.07 312.17" fill="none" stroke="#111" stroke-width="1.2" stroke-linejoin="round"/>
<line x1="558.5" y1="295.5" x2="558.5" y2="396" stroke="#222222" stroke-width="1"/>
<line x1="558" y1="395.5" x2="656.9" y2="395.5" stroke="#222222" stroke-width="1"/>
<line x1="555.1" y1="395.5" x2="558.5" y2="395.5" stroke="#222222" stroke-width="1"/>
<text transform="translate(550.5 398.47) scale(1.07 1)" font-size="8.8" text-anchor="end">0.0</text>
<line x1="555.1" y1="378.5" x2="558.5" y2="378.5" stroke="#222222" stroke-width="1"/>
<text transform="translate(550.5 381.83) scale(1.07 1)" font-size="8.8" text-anchor="end">0.2</text>
<line x1="555.1" y1="362.5" x2="558.5" y2="362.5" stroke="#222222" stroke-width="1"/>
<text transform="translate(550.5 365.2) scale(1.07 1)" font-size="8.8" text-anchor="end">0.4</text>
<line x1="555.1" y1="345.5" x2="558.5" y2="345.5" stroke="#222222" stroke-width="1"/>
<text transform="translate(550.5 348.57) scale(1.07 1)" font-size="8.8" text-anchor="end">0.6</text>
<line x1="555.1" y1="328.5" x2="558.5" y2="328.5" stroke="#222222" stroke-width="1"/>
<text transform="translate(550.5 331.93) scale(1.07 1)" font-size="8.8" text-anchor="end">0.8</text>
<line x1="555.1" y1="312.5" x2="558.5" y2="312.5" stroke="#222222" stroke-width="1"/>
<text transform="translate(550.5 315.3) scale(1.07 1)" font-size="8.8" text-anchor="end">1.0</text>
<line x1="555.1" y1="295.5" x2="558.5" y2="295.5" stroke="#222222" stroke-width="1"/>
<text transform="translate(550.5 298.67) scale(1.07 1)" font-size="8.8" text-anchor="end">1.2</text>
<line x1="558.5" y1="395.5" x2="558.5" y2="398.3" stroke="#222222" stroke-width="1"/>
<text transform="translate(558.1 409.67) scale(1.07 1)" font-size="8.8" text-anchor="middle">0</text>
<line x1="577.5" y1="395.5" x2="577.5" y2="398.3" stroke="#222222" stroke-width="1"/>
<text transform="translate(577.86 409.67) scale(1.07 1)" font-size="8.8" text-anchor="middle">1</text>
<line x1="597.5" y1="395.5" x2="597.5" y2="398.3" stroke="#222222" stroke-width="1"/>
<text transform="translate(597.62 409.67) scale(1.07 1)" font-size="8.8" text-anchor="middle">2</text>
<line x1="617.5" y1="395.5" x2="617.5" y2="398.3" stroke="#222222" stroke-width="1"/>
<text transform="translate(617.38 409.67) scale(1.07 1)" font-size="8.8" text-anchor="middle">3</text>
<line x1="637.5" y1="395.5" x2="637.5" y2="398.3" stroke="#222222" stroke-width="1"/>
<text transform="translate(637.14 409.67) scale(1.07 1)" font-size="8.8" text-anchor="middle">4</text>
<line x1="656.5" y1="395.5" x2="656.5" y2="398.3" stroke="#222222" stroke-width="1"/>
<text transform="translate(656.9 409.67) scale(1.07 1)" font-size="8.8" text-anchor="middle">5</text>
<text transform="translate(607.5 291.8) scale(1.07 1)" font-size="9" text-anchor="middle">nRT</text>
<text transform="translate(607.5 421.9) scale(1.07 1)" font-size="9" text-anchor="middle">Interval (s)</text>
<text transform="translate(529.7 345.4) rotate(-90) scale(1.07 1)" font-size="9" text-anchor="middle">Cumulative probability</text>
<path d="M403.7 545.5 L403.7 487.2 L424.9 487.2 L424.9 545.5" fill="none" stroke="#111" stroke-width="1.2" stroke-linejoin="round"/>
<path d="M436.9 545.5 L436.9 528.5 L458 528.5 L458 545.5" fill="none" stroke="#8c8c1a" stroke-width="1.2" stroke-linejoin="round"/>
<circle cx="414.5" cy="461.4" r="1.55" fill="#111"/>
<circle cx="418.5" cy="464.6" r="1.55" fill="#111"/>
<circle cx="409.7" cy="467" r="1.55" fill="#111"/>
<circle cx="414.5" cy="467" r="1.55" fill="#111"/>
<circle cx="416.6" cy="476.3" r="1.55" fill="#111"/>
<circle cx="411.8" cy="478.4" r="1.55" fill="#111"/>
<circle cx="411.8" cy="497.4" r="1.55" fill="#111"/>
<circle cx="416.6" cy="501.6" r="1.55" fill="#111"/>
<circle cx="411.5" cy="530.1" r="1.55" fill="#111"/>
<circle cx="416.6" cy="530.1" r="1.55" fill="#111"/>
<circle cx="447.2" cy="477.6" r="1.55" fill="#8c8c1a"/>
<circle cx="447.3" cy="520.4" r="1.55" fill="#8c8c1a"/>
<circle cx="445.1" cy="527" r="1.55" fill="#8c8c1a"/>
<circle cx="449.8" cy="527.4" r="1.55" fill="#8c8c1a"/>
<circle cx="442.5" cy="529.9" r="1.55" fill="#8c8c1a"/>
<circle cx="452" cy="530.7" r="1.55" fill="#8c8c1a"/>
<circle cx="447.3" cy="531.9" r="1.55" fill="#8c8c1a"/>
<circle cx="438.1" cy="533.7" r="1.55" fill="#8c8c1a"/>
<circle cx="441.8" cy="535.4" r="1.55" fill="#8c8c1a"/>
<circle cx="452.7" cy="535.8" r="1.55" fill="#8c8c1a"/>
<circle cx="456.4" cy="534.5" r="1.55" fill="#8c8c1a"/>
<circle cx="445.4" cy="538.1" r="1.55" fill="#8c8c1a"/>
<circle cx="449.1" cy="538.1" r="1.55" fill="#8c8c1a"/>
<circle cx="447.3" cy="542.9" r="1.55" fill="#8c8c1a"/>
<line x1="414.3" y1="479.3" x2="414.3" y2="496" stroke="#111" stroke-width="1.2"/>
<line x1="408.8" y1="479.3" x2="419.8" y2="479.3" stroke="#111" stroke-width="1.2"/>
<line x1="408.8" y1="496" x2="419.8" y2="496" stroke="#111" stroke-width="1.2"/>
<line x1="447.45" y1="524.5" x2="447.45" y2="533.2" stroke="#8c8c1a" stroke-width="1.2"/>
<line x1="441.95" y1="524.5" x2="452.95" y2="524.5" stroke="#8c8c1a" stroke-width="1.2"/>
<line x1="441.95" y1="533.2" x2="452.95" y2="533.2" stroke="#8c8c1a" stroke-width="1.2"/>
<line x1="397.5" y1="445.9" x2="397.5" y2="545.5" stroke="#222222" stroke-width="1"/>
<line x1="394.3" y1="545.5" x2="397.5" y2="545.5" stroke="#222222" stroke-width="1"/>
<text transform="translate(390.3 548.67) scale(1.07 1)" font-size="8.8" text-anchor="end">0</text>
<line x1="394.3" y1="520.5" x2="397.5" y2="520.5" stroke="#222222" stroke-width="1"/>
<text transform="translate(390.3 523.77) scale(1.07 1)" font-size="8.8" text-anchor="end">2</text>
<line x1="394.3" y1="495.5" x2="397.5" y2="495.5" stroke="#222222" stroke-width="1"/>
<text transform="translate(390.3 498.87) scale(1.07 1)" font-size="8.8" text-anchor="end">4</text>
<line x1="394.3" y1="470.5" x2="397.5" y2="470.5" stroke="#222222" stroke-width="1"/>
<text transform="translate(390.3 473.97) scale(1.07 1)" font-size="8.8" text-anchor="end">6</text>
<line x1="394.3" y1="445.5" x2="397.5" y2="445.5" stroke="#222222" stroke-width="1"/>
<text transform="translate(390.3 449.07) scale(1.07 1)" font-size="8.8" text-anchor="end">8</text>
<line x1="397" y1="545.5" x2="464.4" y2="545.5" stroke="#222222" stroke-width="1"/>
<line x1="414.5" y1="545.5" x2="414.5" y2="548.5" stroke="#222222" stroke-width="1"/>
<line x1="447.5" y1="545.5" x2="447.5" y2="548.5" stroke="#222222" stroke-width="1"/>
<path d="M414.5 451.6 L414.5 447.5 L447.5 447.5 L447.5 451.6" fill="none" stroke="#6a6a6a" stroke-width="0.9" stroke-linejoin="round"/>
<text transform="translate(430.85 447.3) scale(1.07 1)" font-size="9.2" text-anchor="middle">***</text>
<text transform="translate(375.7 496) rotate(-90) scale(1.07 1)" font-size="9" text-anchor="middle">sIPSC frequency (Hz)</text>
<text transform="translate(414.3 559.6) scale(1.07 1)" font-size="9" text-anchor="middle">WT</text>
<text transform="translate(448.45 559.6) scale(1.07 1)" font-size="9" text-anchor="middle">NLG2 KO</text>
<path d="M565.2 545.5 L565.2 518.2 L586.7 518.2 L586.7 545.5" fill="none" stroke="#111" stroke-width="1.2" stroke-linejoin="round"/>
<path d="M598.5 545.5 L598.5 519.3 L620 519.3 L620 545.5" fill="none" stroke="#8c8c1a" stroke-width="1.2" stroke-linejoin="round"/>
<circle cx="573.3" cy="489.5" r="1.55" fill="#111"/>
<circle cx="577.7" cy="487.7" r="1.55" fill="#111"/>
<circle cx="573.3" cy="496.5" r="1.55" fill="#111"/>
<circle cx="578.2" cy="498.2" r="1.55" fill="#111"/>
<circle cx="578.2" cy="511.2" r="1.55" fill="#111"/>
<circle cx="573.3" cy="514.7" r="1.55" fill="#111"/>
<circle cx="577.7" cy="528" r="1.55" fill="#111"/>
<circle cx="566.3" cy="535.7" r="1.55" fill="#111"/>
<circle cx="571.6" cy="536.6" r="1.55" fill="#111"/>
<circle cx="576" cy="538.9" r="1.55" fill="#111"/>
<circle cx="580.3" cy="538" r="1.55" fill="#111"/>
<circle cx="585.2" cy="535.7" r="1.55" fill="#111"/>
<circle cx="609.2" cy="471.4" r="1.55" fill="#8c8c1a"/>
<circle cx="606.6" cy="497.4" r="1.55" fill="#8c8c1a"/>
<circle cx="611.3" cy="496" r="1.55" fill="#8c8c1a"/>
<circle cx="606.6" cy="513.5" r="1.55" fill="#8c8c1a"/>
<circle cx="611.9" cy="514" r="1.55" fill="#8c8c1a"/>
<circle cx="604.9" cy="522.2" r="1.55" fill="#8c8c1a"/>
<circle cx="610.1" cy="522.2" r="1.55" fill="#8c8c1a"/>
<circle cx="614.5" cy="524.9" r="1.55" fill="#8c8c1a"/>
<circle cx="602.2" cy="528.4" r="1.55" fill="#8c8c1a"/>
<circle cx="606.6" cy="528.4" r="1.55" fill="#8c8c1a"/>
<circle cx="611" cy="528.4" r="1.55" fill="#8c8c1a"/>
<circle cx="615.4" cy="528.4" r="1.55" fill="#8c8c1a"/>
<circle cx="606.6" cy="541.5" r="1.55" fill="#8c8c1a"/>
<circle cx="611.3" cy="540.6" r="1.55" fill="#8c8c1a"/>
<line x1="575.95" y1="512.6" x2="575.95" y2="524" stroke="#111" stroke-width="1.2"/>
<line x1="570.45" y1="512.6" x2="581.45" y2="512.6" stroke="#111" stroke-width="1.2"/>
<line x1="570.45" y1="524" x2="581.45" y2="524" stroke="#111" stroke-width="1.2"/>
<line x1="609.25" y1="513.5" x2="609.25" y2="525" stroke="#8c8c1a" stroke-width="1.2"/>
<line x1="603.75" y1="513.5" x2="614.75" y2="513.5" stroke="#8c8c1a" stroke-width="1.2"/>
<line x1="603.75" y1="525" x2="614.75" y2="525" stroke="#8c8c1a" stroke-width="1.2"/>
<line x1="559.5" y1="445.7" x2="559.5" y2="545.5" stroke="#222222" stroke-width="1"/>
<line x1="556.7" y1="545.5" x2="559.5" y2="545.5" stroke="#222222" stroke-width="1"/>
<text transform="translate(552.7 549.07) scale(1.07 1)" font-size="8.8" text-anchor="end">0</text>
<line x1="556.7" y1="520.5" x2="559.5" y2="520.5" stroke="#222222" stroke-width="1"/>
<text transform="translate(552.7 524.02) scale(1.07 1)" font-size="8.8" text-anchor="end">5</text>
<line x1="556.7" y1="495.5" x2="559.5" y2="495.5" stroke="#222222" stroke-width="1"/>
<text transform="translate(552.7 498.97) scale(1.07 1)" font-size="8.8" text-anchor="end">10</text>
<line x1="556.7" y1="470.5" x2="559.5" y2="470.5" stroke="#222222" stroke-width="1"/>
<text transform="translate(552.7 473.92) scale(1.07 1)" font-size="8.8" text-anchor="end">15</text>
<line x1="556.7" y1="445.5" x2="559.5" y2="445.5" stroke="#222222" stroke-width="1"/>
<text transform="translate(552.7 448.87) scale(1.07 1)" font-size="8.8" text-anchor="end">20</text>
<line x1="559" y1="545.5" x2="626.5" y2="545.5" stroke="#222222" stroke-width="1"/>
<line x1="575.5" y1="545.5" x2="575.5" y2="548.9" stroke="#222222" stroke-width="1"/>
<line x1="609.5" y1="545.5" x2="609.5" y2="548.9" stroke="#222222" stroke-width="1"/>
<path d="M575.5 451 L575.5 446.5 L609.5 446.5 L609.5 451" fill="none" stroke="#6a6a6a" stroke-width="0.9" stroke-linejoin="round"/>
<text transform="translate(592.6 444.1) scale(1.07 1)" font-size="8.8" text-anchor="middle">ns</text>
<text transform="translate(531.6 496) rotate(-90) scale(1.07 1)" font-size="9" text-anchor="middle">sIPSC frequency (Hz)</text>
<text transform="translate(575.95 559.6) scale(1.07 1)" font-size="9" text-anchor="middle">WT</text>
<text transform="translate(610.25 559.6) scale(1.07 1)" font-size="9" text-anchor="middle">NLG2 KO</text>
<path d="M42.85 791 L43.16 790.37 L43.47 789.17 L43.77 787.85 L44.08 786.42 L44.39 784.89 L44.69 783.28 L45 781.58 L45.31 779.8 L45.61 777.96 L45.92 775.93 L46.23 773.71 L46.53 771.36 L46.84 768.89 L47.15 766.37 L47.45 763.81 L47.76 761.26 L48.07 758.75 L48.37 756.1 L48.68 753.32 L48.99 750.49 L49.29 747.66 L49.6 744.92 L49.91 742.34 L50.21 739.97 L50.52 737.9 L50.83 736.01 L51.13 734.2 L51.44 732.48 L51.75 730.87 L52.05 729.37 L52.36 727.99 L52.67 726.74 L52.97 725.63 L53.28 724.6 L53.59 723.61 L53.89 722.66 L54.2 721.75 L54.51 720.88 L54.81 720.06 L55.12 719.29 L55.43 718.57 L55.73 717.9 L56.04 717.29 L56.35 716.73 L56.65 716.23 L56.96 715.79 L57.27 715.38 L57.57 715 L57.88 714.63 L58.19 714.28 L58.49 713.94 L58.8 713.63 L59.11 713.32 L59.41 713.04 L59.72 712.77 L60.03 712.52 L60.33 712.28 L60.64 712.06 L60.95 711.85 L61.25 711.66 L61.56 711.48 L61.87 711.32 L62.17 711.17 L62.48 711.02 L62.79 710.87 L63.09 710.73 L63.4 710.59 L63.71 710.46 L64.01 710.33 L64.32 710.21 L64.63 710.1 L64.93 709.99 L65.24 709.88 L65.55 709.78 L65.85 709.69 L66.16 709.6 L66.47 709.52 L66.77 709.45 L67.08 709.38 L67.39 709.32 L67.69 709.27 L68 709.22 L68.31 709.18 L68.61 709.13 L68.92 709.09 L69.23 709.05 L69.53 709 L69.84 708.96 L70.15 708.93 L70.45 708.89 L70.76 708.85 L71.07 708.82 L71.37 708.78 L71.68 708.75 L71.99 708.72 L72.29 708.69 L72.6 708.67 L72.91 708.64 L73.21 708.62 L73.52 708.6 L73.83 708.58 L74.13 708.56 L74.44 708.54 L74.75 708.53 L75.05 708.52 L75.36 708.51 L75.67 708.5 L75.97 708.5 L76.28 708.49 L76.59 708.49 L76.89 708.49 L77.2 708.48 L77.51 708.48 L77.81 708.48 L78.12 708.47 L78.43 708.47 L78.73 708.47 L79.04 708.47 L79.35 708.46 L79.65 708.46 L79.96 708.46 L80.27 708.46 L80.57 708.45 L80.88 708.45 L81.19 708.45 L81.49 708.45 L81.8 708.44 L82.11 708.44 L82.41 708.44 L82.72 708.44 L83.03 708.44 L83.33 708.43 L83.64 708.43 L83.95 708.43 L84.25 708.43 L84.56 708.43 L84.87 708.43 L85.17 708.43 L85.48 708.42 L85.79 708.42 L86.09 708.42 L86.4 708.42 L86.71 708.42 L87.01 708.42 L87.32 708.42 L87.63 708.42 L87.93 708.42 L88.24 708.42 L88.55 708.42 L88.85 708.42 L89.16 708.42 L89.47 708.42 L89.77 708.42 L90.08 708.42 L90.39 708.42 L90.69 708.42 L91 708.42 L91.31 708.42 L91.61 708.42 L91.92 708.42 L92.23 708.42 L92.53 708.42 L92.84 708.42 L93.15 708.42 L93.45 708.42 L93.76 708.42 L94.07 708.42 L94.37 708.42 L94.68 708.42 L94.99 708.42 L95.29 708.42 L95.6 708.42 L95.91 708.42 L96.21 708.42 L96.52 708.42 L96.83 708.42 L97.13 708.42 L97.44 708.42 L97.75 708.42 L98.05 708.42 L98.36 708.42 L98.67 708.42 L98.97 708.42 L99.28 708.42 L99.59 708.42 L99.89 708.42 L100.2 708.42 L100.51 708.42 L100.81 708.42 L101.12 708.42 L101.43 708.42 L101.73 708.42 L102.04 708.42 L102.35 708.42 L102.65 708.42 L102.96 708.42 L103.27 708.42 L103.57 708.42 L103.88 708.42" fill="none" stroke="#8c8c1a" stroke-width="1.2" stroke-linejoin="round"/>
<path d="M46.17 791 L46.47 791 L46.76 789.66 L47.06 788.06 L47.36 786.38 L47.65 784.63 L47.95 782.8 L48.25 780.91 L48.54 778.95 L48.84 776.94 L49.14 774.85 L49.43 772.63 L49.73 770.3 L50.03 767.87 L50.32 765.38 L50.62 762.84 L50.92 760.29 L51.21 757.73 L51.51 755.21 L51.81 752.54 L52.1 749.68 L52.4 746.74 L52.7 743.81 L52.99 741 L53.29 738.41 L53.59 736.13 L53.88 734.27 L54.18 732.78 L54.48 731.41 L54.77 730.15 L55.07 728.99 L55.37 727.91 L55.66 726.91 L55.96 725.98 L56.26 725.1 L56.55 724.26 L56.85 723.46 L57.15 722.67 L57.44 721.9 L57.74 721.15 L58.04 720.42 L58.33 719.72 L58.63 719.04 L58.93 718.39 L59.22 717.77 L59.52 717.19 L59.82 716.65 L60.11 716.14 L60.41 715.68 L60.71 715.26 L61 714.89 L61.3 714.54 L61.6 714.19 L61.89 713.86 L62.19 713.53 L62.49 713.21 L62.78 712.91 L63.08 712.62 L63.38 712.33 L63.67 712.06 L63.97 711.81 L64.27 711.56 L64.56 711.33 L64.86 711.12 L65.16 710.92 L65.45 710.73 L65.75 710.56 L66.05 710.41 L66.34 710.27 L66.64 710.15 L66.94 710.04 L67.23 709.95 L67.53 709.86 L67.83 709.77 L68.12 709.68 L68.42 709.6 L68.72 709.52 L69.01 709.45 L69.31 709.37 L69.61 709.31 L69.9 709.24 L70.2 709.18 L70.5 709.13 L70.79 709.08 L71.09 709.03 L71.39 708.98 L71.68 708.94 L71.98 708.91 L72.28 708.88 L72.57 708.85 L72.87 708.83 L73.17 708.81 L73.46 708.79 L73.76 708.77 L74.06 708.75 L74.35 708.73 L74.65 708.71 L74.95 708.69 L75.24 708.67 L75.54 708.66 L75.84 708.64 L76.13 708.62 L76.43 708.61 L76.73 708.59 L77.02 708.58 L77.32 708.56 L77.62 708.55 L77.91 708.54 L78.21 708.53 L78.51 708.51 L78.8 708.5 L79.1 708.49 L79.4 708.48 L79.69 708.47 L79.99 708.46 L80.29 708.46 L80.58 708.45 L80.88 708.44 L81.18 708.44 L81.47 708.43 L81.77 708.43 L82.07 708.42 L82.36 708.42 L82.66 708.42 L82.96 708.42 L83.25 708.42 L83.55 708.42 L83.85 708.42 L84.14 708.42 L84.44 708.42 L84.74 708.42 L85.03 708.42 L85.33 708.42 L85.63 708.42 L85.92 708.42 L86.22 708.42 L86.52 708.42 L86.81 708.42 L87.11 708.42 L87.41 708.42 L87.7 708.42 L88 708.42 L88.3 708.42 L88.59 708.42 L88.89 708.42 L89.19 708.42 L89.48 708.42 L89.78 708.42 L90.08 708.42 L90.37 708.42 L90.67 708.42 L90.97 708.42 L91.26 708.42 L91.56 708.42 L91.86 708.42 L92.15 708.42 L92.45 708.42 L92.75 708.42 L93.04 708.42 L93.34 708.42 L93.64 708.42 L93.93 708.42 L94.23 708.42 L94.53 708.42 L94.82 708.42 L95.12 708.42 L95.42 708.42 L95.71 708.42 L96.01 708.42 L96.31 708.42 L96.6 708.42 L96.9 708.42 L97.2 708.42 L97.49 708.42 L97.79 708.42 L98.09 708.42 L98.38 708.42 L98.68 708.42 L98.98 708.42 L99.27 708.42 L99.57 708.42 L99.87 708.42 L100.16 708.42 L100.46 708.42 L100.76 708.42 L101.05 708.42 L101.35 708.42 L101.65 708.42 L101.94 708.42 L102.24 708.42 L102.54 708.42 L102.83 708.42 L103.13 708.42 L103.43 708.42 L103.72 708.42 L104.02 708.42 L104.32 708.42 L104.61 708.42 L104.91 708.42 L105.21 708.42" fill="none" stroke="#111" stroke-width="1.2" stroke-linejoin="round"/>
<line x1="40.5" y1="691.9" x2="40.5" y2="792" stroke="#222222" stroke-width="1"/>
<line x1="40" y1="791.5" x2="140.2" y2="791.5" stroke="#222222" stroke-width="1"/>
<line x1="37.2" y1="791.5" x2="40.5" y2="791.5" stroke="#222222" stroke-width="1"/>
<text transform="translate(32.6 794.17) scale(1.07 1)" font-size="8.8" text-anchor="end">0.0</text>
<line x1="37.2" y1="774.5" x2="40.5" y2="774.5" stroke="#222222" stroke-width="1"/>
<text transform="translate(32.6 777.65) scale(1.07 1)" font-size="8.8" text-anchor="end">0.2</text>
<line x1="37.2" y1="757.5" x2="40.5" y2="757.5" stroke="#222222" stroke-width="1"/>
<text transform="translate(32.6 761.13) scale(1.07 1)" font-size="8.8" text-anchor="end">0.4</text>
<line x1="37.2" y1="741.5" x2="40.5" y2="741.5" stroke="#222222" stroke-width="1"/>
<text transform="translate(32.6 744.62) scale(1.07 1)" font-size="8.8" text-anchor="end">0.6</text>
<line x1="37.2" y1="724.5" x2="40.5" y2="724.5" stroke="#222222" stroke-width="1"/>
<text transform="translate(32.6 728.1) scale(1.07 1)" font-size="8.8" text-anchor="end">0.8</text>
<line x1="37.2" y1="708.5" x2="40.5" y2="708.5" stroke="#222222" stroke-width="1"/>
<text transform="translate(32.6 711.58) scale(1.07 1)" font-size="8.8" text-anchor="end">1.0</text>
<line x1="37.2" y1="691.5" x2="40.5" y2="691.5" stroke="#222222" stroke-width="1"/>
<text transform="translate(32.6 695.07) scale(1.07 1)" font-size="8.8" text-anchor="end">1.2</text>
<line x1="40.5" y1="791.5" x2="40.5" y2="794" stroke="#222222" stroke-width="1"/>
<text transform="translate(40.2 805.37) scale(1.07 1)" font-size="8.8" text-anchor="middle">0</text>
<line x1="73.5" y1="791.5" x2="73.5" y2="794" stroke="#222222" stroke-width="1"/>
<text transform="translate(73.37 805.37) scale(1.07 1)" font-size="8.8" text-anchor="middle">50</text>
<line x1="106.5" y1="791.5" x2="106.5" y2="794" stroke="#222222" stroke-width="1"/>
<text transform="translate(106.53 805.37) scale(1.07 1)" font-size="8.8" text-anchor="middle">100</text>
<line x1="139.5" y1="791.5" x2="139.5" y2="794" stroke="#222222" stroke-width="1"/>
<text transform="translate(139.7 805.37) scale(1.07 1)" font-size="8.8" text-anchor="middle">150</text>
<text transform="translate(89.8 687.6) scale(1.07 1)" font-size="9" text-anchor="middle">Thalamus</text>
<text transform="translate(90.2 819.1) scale(1.07 1)" font-size="9" text-anchor="middle">Amplitude (pA)</text>
<text transform="translate(10.2 741.45) rotate(-90) scale(1.07 1)" font-size="9" text-anchor="middle">Cumulative probability</text>
<path d="M207.25 790.2 L207.6 789.56 L207.94 788.57 L208.28 787.32 L208.63 785.89 L208.97 783.98 L209.31 781.56 L209.66 778.93 L210 776.4 L210.34 773.86 L210.69 771.22 L211.03 768.53 L211.37 765.84 L211.71 763.2 L212.06 760.65 L212.4 758.26 L212.74 756.05 L213.09 753.89 L213.43 751.75 L213.77 749.65 L214.12 747.59 L214.46 745.6 L214.8 743.68 L215.15 741.85 L215.49 740.12 L215.83 738.5 L216.17 737 L216.52 735.65 L216.86 734.42 L217.2 733.27 L217.55 732.18 L217.89 731.14 L218.23 730.16 L218.58 729.22 L218.92 728.33 L219.26 727.49 L219.61 726.68 L219.95 725.91 L220.29 725.16 L220.63 724.45 L220.98 723.75 L221.32 723.07 L221.66 722.4 L222.01 721.75 L222.35 721.13 L222.69 720.54 L223.04 719.97 L223.38 719.44 L223.72 718.94 L224.07 718.47 L224.41 718.05 L224.75 717.67 L225.09 717.32 L225.44 716.98 L225.78 716.66 L226.12 716.36 L226.47 716.07 L226.81 715.8 L227.15 715.53 L227.5 715.28 L227.84 715.04 L228.18 714.8 L228.53 714.57 L228.87 714.34 L229.21 714.12 L229.55 713.9 L229.9 713.68 L230.24 713.46 L230.58 713.24 L230.93 713.03 L231.27 712.81 L231.61 712.6 L231.96 712.39 L232.3 712.18 L232.64 711.98 L232.99 711.79 L233.33 711.6 L233.67 711.43 L234.01 711.26 L234.36 711.1 L234.7 710.95 L235.04 710.81 L235.39 710.69 L235.73 710.57 L236.07 710.46 L236.42 710.35 L236.76 710.25 L237.1 710.14 L237.45 710.05 L237.79 709.95 L238.13 709.86 L238.47 709.77 L238.82 709.69 L239.16 709.61 L239.5 709.53 L239.85 709.45 L240.19 709.38 L240.53 709.31 L240.88 709.24 L241.22 709.18 L241.56 709.12 L241.91 709.06 L242.25 709 L242.59 708.95 L242.93 708.89 L243.28 708.84 L243.62 708.79 L243.96 708.74 L244.31 708.69 L244.65 708.65 L244.99 708.6 L245.34 708.56 L245.68 708.52 L246.02 708.48 L246.37 708.44 L246.71 708.4 L247.05 708.36 L247.39 708.33 L247.74 708.29 L248.08 708.26 L248.42 708.23 L248.77 708.2 L249.11 708.17 L249.45 708.14 L249.8 708.11 L250.14 708.08 L250.48 708.05 L250.83 708.03 L251.17 708 L251.51 707.98 L251.85 707.95 L252.2 707.93 L252.54 707.9 L252.88 707.88 L253.23 707.85 L253.57 707.83 L253.91 707.81 L254.26 707.79 L254.6 707.77 L254.94 707.75 L255.29 707.73 L255.63 707.7 L255.97 707.69 L256.31 707.67 L256.66 707.65 L257 707.63 L257.34 707.61 L257.69 707.59 L258.03 707.57 L258.37 707.55 L258.72 707.54 L259.06 707.52 L259.4 707.5 L259.75 707.48 L260.09 707.47 L260.43 707.45 L260.77 707.43 L261.12 707.42 L261.46 707.4 L261.8 707.39 L262.15 707.37 L262.49 707.36 L262.83 707.34 L263.18 707.33 L263.52 707.31 L263.86 707.3 L264.21 707.28 L264.55 707.27 L264.89 707.26 L265.23 707.24 L265.58 707.23 L265.92 707.22 L266.26 707.2 L266.61 707.19 L266.95 707.18 L267.29 707.17 L267.64 707.15 L267.98 707.14 L268.32 707.13 L268.67 707.12 L269.01 707.11 L269.35 707.1 L269.69 707.09 L270.04 707.08 L270.38 707.07 L270.72 707.06 L271.07 707.05 L271.41 707.04 L271.75 707.03 L272.1 707.03 L272.44 707.02 L272.78 707.01 L273.13 707 L273.47 706.99 L273.81 706.98 L274.15 706.98 L274.5 706.97 L274.84 706.96 L275.18 706.96 L275.53 706.95" fill="none" stroke="#8c8c1a" stroke-width="1.5" stroke-linejoin="round"/>
<path d="M207.25 790.2 L207.64 789.69 L208.02 788.75 L208.4 787.53 L208.79 786.05 L209.17 783.82 L209.56 781.17 L209.94 778.5 L210.32 775.87 L210.71 773.08 L211.09 770.21 L211.47 767.32 L211.86 764.5 L212.24 761.81 L212.62 759.31 L213.01 756.93 L213.39 754.56 L213.77 752.22 L214.16 749.92 L214.54 747.7 L214.92 745.57 L215.31 743.55 L215.69 741.67 L216.07 739.93 L216.46 738.38 L216.84 736.99 L217.22 735.7 L217.61 734.49 L217.99 733.34 L218.37 732.26 L218.76 731.24 L219.14 730.28 L219.52 729.36 L219.91 728.49 L220.29 727.66 L220.67 726.86 L221.06 726.09 L221.44 725.34 L221.83 724.62 L222.21 723.93 L222.59 723.27 L222.98 722.64 L223.36 722.04 L223.74 721.48 L224.13 720.95 L224.51 720.45 L224.89 719.99 L225.28 719.55 L225.66 719.12 L226.04 718.72 L226.43 718.33 L226.81 717.95 L227.19 717.59 L227.58 717.24 L227.96 716.91 L228.34 716.58 L228.73 716.27 L229.11 715.96 L229.49 715.67 L229.88 715.38 L230.26 715.09 L230.64 714.81 L231.03 714.53 L231.41 714.26 L231.79 713.99 L232.18 713.73 L232.56 713.47 L232.94 713.23 L233.33 712.99 L233.71 712.77 L234.1 712.56 L234.48 712.36 L234.86 712.17 L235.25 712 L235.63 711.84 L236.01 711.68 L236.4 711.53 L236.78 711.39 L237.16 711.25 L237.55 711.12 L237.93 710.99 L238.31 710.87 L238.7 710.75 L239.08 710.64 L239.46 710.53 L239.85 710.42 L240.23 710.32 L240.61 710.22 L241 710.12 L241.38 710.03 L241.76 709.93 L242.15 709.84 L242.53 709.75 L242.91 709.67 L243.3 709.58 L243.68 709.5 L244.06 709.41 L244.45 709.33 L244.83 709.26 L245.21 709.18 L245.6 709.11 L245.98 709.04 L246.37 708.97 L246.75 708.9 L247.13 708.84 L247.52 708.78 L247.9 708.73 L248.28 708.67 L248.67 708.63 L249.05 708.58 L249.43 708.54 L249.82 708.49 L250.2 708.45 L250.58 708.41 L250.97 708.38 L251.35 708.34 L251.73 708.3 L252.12 708.27 L252.5 708.23 L252.88 708.2 L253.27 708.17 L253.65 708.13 L254.03 708.1 L254.42 708.07 L254.8 708.04 L255.18 708.02 L255.57 707.99 L255.95 707.96 L256.33 707.94 L256.72 707.91 L257.1 707.89 L257.48 707.86 L257.87 707.84 L258.25 707.81 L258.64 707.79 L259.02 707.77 L259.4 707.75 L259.79 707.73 L260.17 707.71 L260.55 707.68 L260.94 707.66 L261.32 707.65 L261.7 707.63 L262.09 707.61 L262.47 707.59 L262.85 707.57 L263.24 707.55 L263.62 707.54 L264 707.52 L264.39 707.5 L264.77 707.49 L265.15 707.47 L265.54 707.46 L265.92 707.44 L266.3 707.43 L266.69 707.41 L267.07 707.4 L267.45 707.38 L267.84 707.37 L268.22 707.36 L268.6 707.34 L268.99 707.33 L269.37 707.32 L269.75 707.31 L270.14 707.29 L270.52 707.28 L270.91 707.27 L271.29 707.26 L271.67 707.24 L272.06 707.23 L272.44 707.22 L272.82 707.21 L273.21 707.19 L273.59 707.18 L273.97 707.17 L274.36 707.16 L274.74 707.15 L275.12 707.14 L275.51 707.13 L275.89 707.12 L276.27 707.11 L276.66 707.1 L277.04 707.09 L277.42 707.08 L277.81 707.07 L278.19 707.06 L278.57 707.05 L278.96 707.04 L279.34 707.03 L279.72 707.02 L280.11 707.01 L280.49 707 L280.87 707 L281.26 706.99 L281.64 706.98 L282.02 706.98 L282.41 706.97 L282.79 706.96 L283.18 706.96 L283.56 706.95" fill="none" stroke="#111" stroke-width="1.2" stroke-linejoin="round"/>
<line x1="201.5" y1="690.3" x2="201.5" y2="791" stroke="#222222" stroke-width="1"/>
<line x1="201" y1="790.5" x2="302.3" y2="790.5" stroke="#222222" stroke-width="1"/>
<line x1="198.9" y1="790.5" x2="201.5" y2="790.5" stroke="#222222" stroke-width="1"/>
<text transform="translate(194.3 793.37) scale(1.07 1)" font-size="8.8" text-anchor="end">0.0</text>
<line x1="198.9" y1="773.5" x2="201.5" y2="773.5" stroke="#222222" stroke-width="1"/>
<text transform="translate(194.3 776.72) scale(1.07 1)" font-size="8.8" text-anchor="end">0.2</text>
<line x1="198.9" y1="756.5" x2="201.5" y2="756.5" stroke="#222222" stroke-width="1"/>
<text transform="translate(194.3 760.07) scale(1.07 1)" font-size="8.8" text-anchor="end">0.4</text>
<line x1="198.9" y1="740.5" x2="201.5" y2="740.5" stroke="#222222" stroke-width="1"/>
<text transform="translate(194.3 743.42) scale(1.07 1)" font-size="8.8" text-anchor="end">0.6</text>
<line x1="198.9" y1="723.5" x2="201.5" y2="723.5" stroke="#222222" stroke-width="1"/>
<text transform="translate(194.3 726.77) scale(1.07 1)" font-size="8.8" text-anchor="end">0.8</text>
<line x1="198.9" y1="706.5" x2="201.5" y2="706.5" stroke="#222222" stroke-width="1"/>
<text transform="translate(194.3 710.12) scale(1.07 1)" font-size="8.8" text-anchor="end">1.0</text>
<line x1="198.9" y1="690.5" x2="201.5" y2="690.5" stroke="#222222" stroke-width="1"/>
<text transform="translate(194.3 693.47) scale(1.07 1)" font-size="8.8" text-anchor="end">1.2</text>
<line x1="201.5" y1="790.5" x2="201.5" y2="793.2" stroke="#222222" stroke-width="1"/>
<text transform="translate(201.9 804.57) scale(1.07 1)" font-size="8.8" text-anchor="middle">0</text>
<line x1="235.5" y1="790.5" x2="235.5" y2="793.2" stroke="#222222" stroke-width="1"/>
<text transform="translate(235.37 804.57) scale(1.07 1)" font-size="8.8" text-anchor="middle">50</text>
<line x1="268.5" y1="790.5" x2="268.5" y2="793.2" stroke="#222222" stroke-width="1"/>
<text transform="translate(268.83 804.57) scale(1.07 1)" font-size="8.8" text-anchor="middle">100</text>
<line x1="302.5" y1="790.5" x2="302.5" y2="793.2" stroke="#222222" stroke-width="1"/>
<text transform="translate(302.3 804.57) scale(1.07 1)" font-size="8.8" text-anchor="middle">150</text>
<text transform="translate(251.8 686.8) scale(1.07 1)" font-size="9" text-anchor="middle">nRT</text>
<text transform="translate(251.8 818.8) scale(1.07 1)" font-size="9" text-anchor="middle">Amplitude (pA)</text>
<text transform="translate(171.9 740.25) rotate(-90) scale(1.07 1)" font-size="9" text-anchor="middle">Cumulative probability</text>
<path d="M46.8 941.5 L46.8 883.4 L67.9 883.4 L67.9 941.5" fill="none" stroke="#111" stroke-width="1.2" stroke-linejoin="round"/>
<path d="M79.9 941.5 L79.9 900.2 L101 900.2 L101 941.5" fill="none" stroke="#8c8c1a" stroke-width="1.2" stroke-linejoin="round"/>
<circle cx="57.3" cy="852.6" r="1.55" fill="#111"/>
<circle cx="52.6" cy="871.3" r="1.55" fill="#111"/>
<circle cx="61.5" cy="869.8" r="1.55" fill="#111"/>
<circle cx="57.3" cy="873.9" r="1.55" fill="#111"/>
<circle cx="54.7" cy="878.1" r="1.55" fill="#111"/>
<circle cx="59.5" cy="878.1" r="1.55" fill="#111"/>
<circle cx="50.3" cy="880.2" r="1.55" fill="#111"/>
<circle cx="66.2" cy="880.2" r="1.55" fill="#111"/>
<circle cx="54.7" cy="883.4" r="1.55" fill="#111"/>
<circle cx="58.6" cy="884" r="1.55" fill="#111"/>
<circle cx="57.3" cy="886.6" r="1.55" fill="#111"/>
<circle cx="59.5" cy="888.2" r="1.55" fill="#111"/>
<circle cx="55.1" cy="892.6" r="1.55" fill="#111"/>
<circle cx="61.5" cy="893.3" r="1.55" fill="#111"/>
<circle cx="52.6" cy="897.2" r="1.55" fill="#111"/>
<circle cx="57.3" cy="897.4" r="1.55" fill="#111"/>
<circle cx="59.5" cy="901" r="1.55" fill="#111"/>
<circle cx="54.7" cy="903.5" r="1.55" fill="#111"/>
<circle cx="90.4" cy="867.5" r="1.55" fill="#8c8c1a"/>
<circle cx="90.4" cy="877" r="1.55" fill="#8c8c1a"/>
<circle cx="85.7" cy="879.8" r="1.55" fill="#8c8c1a"/>
<circle cx="90.4" cy="883.2" r="1.55" fill="#8c8c1a"/>
<circle cx="94.6" cy="882.1" r="1.55" fill="#8c8c1a"/>
<circle cx="87.9" cy="887.5" r="1.55" fill="#8c8c1a"/>
<circle cx="92.6" cy="888.2" r="1.55" fill="#8c8c1a"/>
<circle cx="83.4" cy="900.2" r="1.55" fill="#8c8c1a"/>
<circle cx="90.4" cy="898.4" r="1.55" fill="#8c8c1a"/>
<circle cx="99.7" cy="903.2" r="1.55" fill="#8c8c1a"/>
<circle cx="87.9" cy="904.4" r="1.55" fill="#8c8c1a"/>
<circle cx="92.6" cy="904.4" r="1.55" fill="#8c8c1a"/>
<circle cx="97.2" cy="906.6" r="1.55" fill="#8c8c1a"/>
<circle cx="81.5" cy="907.9" r="1.55" fill="#8c8c1a"/>
<circle cx="85.7" cy="909.5" r="1.55" fill="#8c8c1a"/>
<circle cx="92.6" cy="909.9" r="1.55" fill="#8c8c1a"/>
<circle cx="87.9" cy="913.3" r="1.55" fill="#8c8c1a"/>
<circle cx="92.6" cy="915" r="1.55" fill="#8c8c1a"/>
<circle cx="85.7" cy="920.4" r="1.55" fill="#8c8c1a"/>
<circle cx="90.4" cy="921.4" r="1.55" fill="#8c8c1a"/>
<circle cx="94.6" cy="921.4" r="1.55" fill="#8c8c1a"/>
<line x1="57.35" y1="880.2" x2="57.35" y2="887.2" stroke="#111" stroke-width="1.2"/>
<line x1="51.85" y1="880.2" x2="62.85" y2="880.2" stroke="#111" stroke-width="1.2"/>
<line x1="51.85" y1="887.2" x2="62.85" y2="887.2" stroke="#111" stroke-width="1.2"/>
<line x1="90.45" y1="896.5" x2="90.45" y2="903.4" stroke="#8c8c1a" stroke-width="1.2"/>
<line x1="84.95" y1="896.5" x2="95.95" y2="896.5" stroke="#8c8c1a" stroke-width="1.2"/>
<line x1="84.95" y1="903.4" x2="95.95" y2="903.4" stroke="#8c8c1a" stroke-width="1.2"/>
<line x1="40.5" y1="842.49" x2="40.5" y2="941.5" stroke="#222222" stroke-width="1"/>
<line x1="37.4" y1="941.5" x2="40.5" y2="941.5" stroke="#222222" stroke-width="1"/>
<text transform="translate(33.4 944.27) scale(1.07 1)" font-size="8.8" text-anchor="end">0</text>
<line x1="37.4" y1="908.5" x2="40.5" y2="908.5" stroke="#222222" stroke-width="1"/>
<text transform="translate(33.4 911.4) scale(1.07 1)" font-size="8.8" text-anchor="end">10</text>
<line x1="37.4" y1="875.5" x2="40.5" y2="875.5" stroke="#222222" stroke-width="1"/>
<text transform="translate(33.4 878.53) scale(1.07 1)" font-size="8.8" text-anchor="end">20</text>
<line x1="37.4" y1="842.5" x2="40.5" y2="842.5" stroke="#222222" stroke-width="1"/>
<text transform="translate(33.4 845.66) scale(1.07 1)" font-size="8.8" text-anchor="end">30</text>
<line x1="40" y1="941.5" x2="107.6" y2="941.5" stroke="#222222" stroke-width="1"/>
<line x1="57.5" y1="941.5" x2="57.5" y2="944.1" stroke="#222222" stroke-width="1"/>
<line x1="90.5" y1="941.5" x2="90.5" y2="944.1" stroke="#222222" stroke-width="1"/>
<path d="M57.5 847.7 L57.5 843.5 L90.5 843.5 L90.5 847.7" fill="none" stroke="#6a6a6a" stroke-width="0.9" stroke-linejoin="round"/>
<text transform="translate(73.85 843.8) scale(1.07 1)" font-size="9.2" text-anchor="middle">**</text>
<text transform="translate(15.4 892) rotate(-90) scale(1.07 1)" font-size="9" text-anchor="middle">mIPSC amplitude (pA)</text>
<text transform="translate(57.35 955.6) scale(1.07 1)" font-size="9" text-anchor="middle">WT</text>
<text transform="translate(91.45 955.6) scale(1.07 1)" font-size="9" text-anchor="middle">NLG2 KO</text>
<path d="M208.3 941.5 L208.3 881.4 L229.8 881.4 L229.8 941.5" fill="none" stroke="#111" stroke-width="1.2" stroke-linejoin="round"/>
<path d="M241.5 941.5 L241.5 885.8 L263.1 885.8 L263.1 941.5" fill="none" stroke="#8c8c1a" stroke-width="1.2" stroke-linejoin="round"/>
<circle cx="219.2" cy="854.4" r="1.55" fill="#111"/>
<circle cx="216.4" cy="863.5" r="1.55" fill="#111"/>
<circle cx="221.7" cy="863.9" r="1.55" fill="#111"/>
<circle cx="219.2" cy="872.7" r="1.55" fill="#111"/>
<circle cx="216.9" cy="890.2" r="1.55" fill="#111"/>
<circle cx="221.7" cy="890.2" r="1.55" fill="#111"/>
<circle cx="214.3" cy="898.6" r="1.55" fill="#111"/>
<circle cx="219.2" cy="899.5" r="1.55" fill="#111"/>
<circle cx="223.4" cy="898.6" r="1.55" fill="#111"/>
<circle cx="252.3" cy="851.8" r="1.55" fill="#8c8c1a"/>
<circle cx="249.7" cy="872.3" r="1.55" fill="#8c8c1a"/>
<circle cx="254.6" cy="872.3" r="1.55" fill="#8c8c1a"/>
<circle cx="250.2" cy="881.1" r="1.55" fill="#8c8c1a"/>
<circle cx="257.2" cy="880.7" r="1.55" fill="#8c8c1a"/>
<circle cx="252.3" cy="884.6" r="1.55" fill="#8c8c1a"/>
<circle cx="249.7" cy="891.2" r="1.55" fill="#8c8c1a"/>
<circle cx="254.6" cy="891.2" r="1.55" fill="#8c8c1a"/>
<circle cx="252.3" cy="899.5" r="1.55" fill="#8c8c1a"/>
<circle cx="249.7" cy="909.1" r="1.55" fill="#8c8c1a"/>
<circle cx="254.6" cy="908.7" r="1.55" fill="#8c8c1a"/>
<line x1="219.05" y1="875.8" x2="219.05" y2="887.2" stroke="#111" stroke-width="1.2"/>
<line x1="213.55" y1="875.8" x2="224.55" y2="875.8" stroke="#111" stroke-width="1.2"/>
<line x1="213.55" y1="887.2" x2="224.55" y2="887.2" stroke="#111" stroke-width="1.2"/>
<line x1="252.3" y1="880.7" x2="252.3" y2="890.7" stroke="#8c8c1a" stroke-width="1.2"/>
<line x1="246.8" y1="880.7" x2="257.8" y2="880.7" stroke="#8c8c1a" stroke-width="1.2"/>
<line x1="246.8" y1="890.7" x2="257.8" y2="890.7" stroke="#8c8c1a" stroke-width="1.2"/>
<line x1="202.5" y1="841.9" x2="202.5" y2="941.5" stroke="#222222" stroke-width="1"/>
<line x1="199" y1="941.5" x2="202.5" y2="941.5" stroke="#222222" stroke-width="1"/>
<text transform="translate(195 944.67) scale(1.07 1)" font-size="8.8" text-anchor="end">0</text>
<line x1="199" y1="916.5" x2="202.5" y2="916.5" stroke="#222222" stroke-width="1"/>
<text transform="translate(195 919.77) scale(1.07 1)" font-size="8.8" text-anchor="end">10</text>
<line x1="199" y1="891.5" x2="202.5" y2="891.5" stroke="#222222" stroke-width="1"/>
<text transform="translate(195 894.87) scale(1.07 1)" font-size="8.8" text-anchor="end">20</text>
<line x1="199" y1="866.5" x2="202.5" y2="866.5" stroke="#222222" stroke-width="1"/>
<text transform="translate(195 869.97) scale(1.07 1)" font-size="8.8" text-anchor="end">30</text>
<line x1="199" y1="841.5" x2="202.5" y2="841.5" stroke="#222222" stroke-width="1"/>
<text transform="translate(195 845.07) scale(1.07 1)" font-size="8.8" text-anchor="end">40</text>
<line x1="202" y1="941.5" x2="269.5" y2="941.5" stroke="#222222" stroke-width="1"/>
<line x1="219.5" y1="941.5" x2="219.5" y2="944.5" stroke="#222222" stroke-width="1"/>
<line x1="252.5" y1="941.5" x2="252.5" y2="944.5" stroke="#222222" stroke-width="1"/>
<path d="M219.5 847.4 L219.5 842.5 L252.5 842.5 L252.5 847.4" fill="none" stroke="#6a6a6a" stroke-width="0.9" stroke-linejoin="round"/>
<text transform="translate(235.75 840.2) scale(1.07 1)" font-size="8.8" text-anchor="middle">ns</text>
<text transform="translate(175.5 892.4) rotate(-90) scale(1.07 1)" font-size="9" text-anchor="middle">mIPSC amplitude (pA)</text>
<text transform="translate(219.05 955.8) scale(1.07 1)" font-size="9" text-anchor="middle">WT</text>
<text transform="translate(253.3 955.8) scale(1.07 1)" font-size="9" text-anchor="middle">NLG2 KO</text>
<path d="M387.4 791.2 L387.41 789.61 L387.42 788.69 L387.43 787.92 L387.43 787.24 L387.44 786.61 L387.45 786.04 L387.46 785.5 L387.47 784.98 L387.48 784.49 L387.49 784.02 L387.49 783.57 L387.5 783.14 L387.51 782.72 L387.52 782.31 L387.53 781.92 L387.54 781.53 L387.55 781.15 L387.56 780.79 L387.56 780.43 L387.57 780.08 L387.58 779.74 L387.59 779.4 L387.6 779.07 L387.61 778.75 L387.62 778.43 L387.62 778.12 L387.63 777.81 L387.64 777.51 L387.65 777.22 L387.66 777 L387.66 776.79 L387.67 776.57 L387.68 776.35 L387.68 776.13 L387.69 775.9 L387.7 775.67 L387.7 775.44 L387.71 775.2 L387.72 774.96 L387.73 774.72 L387.74 774.48 L387.74 774.23 L387.75 773.98 L387.76 773.72 L387.77 773.46 L387.78 773.2 L387.79 772.94 L387.8 772.67 L387.81 772.4 L387.82 772.13 L387.83 771.85 L387.84 771.57 L387.85 771.28 L387.86 770.99 L387.87 770.7 L387.89 770.41 L387.9 770.11 L387.91 769.81 L387.92 769.5 L387.94 769.19 L387.95 768.88 L387.96 768.57 L387.98 768.25 L387.99 767.92 L388.01 767.6 L388.02 767.26 L388.04 766.93 L388.05 766.59 L388.07 766.25 L388.09 765.91 L388.1 765.56 L388.12 765.21 L388.14 764.85 L388.16 764.49 L388.18 764.13 L388.2 763.76 L388.22 763.39 L388.24 763.02 L388.26 762.64 L388.28 762.26 L388.3 761.87 L388.32 761.48 L388.35 761.09 L388.37 760.69 L388.4 760.3 L388.42 759.89 L388.45 759.49 L388.47 759.08 L388.5 758.66 L388.53 758.25 L388.55 757.83 L388.58 757.4 L388.61 756.98 L388.64 756.54 L388.67 756.11 L388.71 755.67 L388.74 755.23 L388.77 754.79 L388.81 754.35 L388.84 753.9 L388.88 753.44 L388.92 752.99 L388.95 752.53 L388.99 752.07 L389.03 751.61 L389.07 751.14 L389.11 750.67 L389.16 750.2 L389.2 749.73 L389.25 749.25 L389.29 748.77 L389.34 748.29 L389.39 747.81 L389.44 747.32 L389.49 746.84 L389.54 746.35 L389.59 745.86 L389.65 745.36 L389.71 744.87 L389.76 744.38 L389.82 743.88 L389.88 743.38 L389.95 742.88 L390.01 742.38 L390.07 741.88 L390.14 741.38 L390.21 740.88 L390.28 740.37 L390.35 739.87 L390.43 739.37 L390.5 738.86 L390.58 738.36 L390.66 737.86 L390.74 737.35 L390.82 736.85 L390.91 736.35 L391 735.85 L391.09 735.35 L391.18 734.85 L391.27 734.35 L391.37 733.85 L391.47 733.35 L391.57 732.86 L391.68 732.37 L391.78 731.88 L391.89 731.39 L392 730.9 L392.12 730.42 L392.24 729.94 L392.36 729.46 L392.48 728.99 L392.61 728.51 L392.74 728.05 L392.87 727.58 L393.01 727.12 L393.15 726.66 L393.29 726.21 L393.44 725.76 L393.59 725.31 L393.75 724.87 L393.91 724.43 L394.07 724 L394.24 723.57 L394.41 723.15 L394.58 722.73 L394.76 722.32 L394.95 721.91 L395.13 721.51 L395.33 721.11 L395.53 720.72 L395.73 720.34 L395.94 719.96 L396.15 719.59 L396.37 719.22 L396.59 718.86 L396.82 718.51 L397.06 718.16 L397.3 717.82 L397.55 717.48 L397.8 717.16 L398.06 716.83 L398.33 716.52 L398.6 716.21 L398.88 715.91 L399.17 715.62 L399.46 715.33 L399.76 715.05 L400.07 714.78 L400.39 714.51 L400.72 714.26 L401.05 714 L401.39 713.76 L401.74 713.52 L402.1 713.29 L402.47 713.07 L402.84 712.85 L403.23 712.64 L403.62 712.44 L404.03 712.24 L404.45 712.05 L404.87 711.87 L405.31 711.69 L405.76 711.52 L406.22 711.35 L406.69 711.2 L407.17 711.04 L407.66 710.9 L408.17 710.76 L408.69 710.63 L409.22 710.5 L409.77 710.37 L410.33 710.26 L410.9 710.15 L411.49 710.04 L412.09 709.94 L412.71 709.84 L413.34 709.75 L413.99 709.66 L414.65 709.58 L415.33 709.5 L416.03 709.43 L416.75 709.36 L417.48 709.29 L418.24 709.23 L419.01 709.17 L419.8 709.12 L420.61 709.07 L421.44 709.02 L422.29 708.97 L423.16 708.93 L424.05 708.89 L424.97 708.85 L425.91 708.82 L426.87 708.79 L427.86 708.76 L428.87 708.73 L429.91 708.7 L430.97 708.68 L432.06 708.66 L433.18 708.64 L434.32 708.62 L435.5 708.6 L436.7 708.59 L437.93 708.58 L439.2 708.56 L440.49 708.55 L441.82 708.54 L443.18 708.53 L444.57 708.52 L446 708.51 L447.47 708.51 L448.97 708.5 L450.51 708.49 L452.09 708.49 L453.71 708.48 L455.36 708.48 L457.06 708.48 L458.8 708.47 L460.59 708.47 L462.42 708.47 L464.3 708.47 L466.22 708.46 L468.19 708.46 L470.21 708.46 L472.28 708.46 L474.4 708.46 L476.58 708.46 L478.81 708.46" fill="none" stroke="#8c8c1a" stroke-width="1.2" stroke-linejoin="round"/>
<path d="M387.4 791.2 L387.41 789.96 L387.42 788.98 L387.43 788.09 L387.43 787.25 L387.44 786.45 L387.45 785.68 L387.46 784.93 L387.47 784.21 L387.48 783.51 L387.49 782.83 L387.49 782.16 L387.5 781.51 L387.51 780.87 L387.52 780.25 L387.53 779.64 L387.54 779.04 L387.55 778.44 L387.56 777.86 L387.56 777.29 L387.57 776.73 L387.58 776.18 L387.59 775.63 L387.6 775.09 L387.61 774.56 L387.62 774.04 L387.62 773.53 L387.63 773.02 L387.64 772.52 L387.65 772.03 L387.66 771.71 L387.66 771.38 L387.67 771.05 L387.67 770.72 L387.68 770.38 L387.69 770.04 L387.69 769.7 L387.7 769.35 L387.71 768.99 L387.71 768.63 L387.72 768.27 L387.73 767.9 L387.73 767.52 L387.74 767.14 L387.75 766.76 L387.76 766.37 L387.76 765.98 L387.77 765.58 L387.78 765.18 L387.79 764.77 L387.8 764.36 L387.81 763.94 L387.82 763.52 L387.83 763.09 L387.84 762.66 L387.85 762.22 L387.86 761.78 L387.87 761.34 L387.88 760.89 L387.89 760.43 L387.9 759.97 L387.91 759.51 L387.92 759.04 L387.93 758.57 L387.94 758.09 L387.96 757.61 L387.97 757.12 L387.98 756.63 L387.99 756.14 L388.01 755.64 L388.02 755.13 L388.04 754.63 L388.05 754.11 L388.06 753.6 L388.08 753.08 L388.1 752.56 L388.11 752.03 L388.13 751.5 L388.14 750.97 L388.16 750.43 L388.18 749.89 L388.19 749.34 L388.21 748.8 L388.23 748.25 L388.25 747.7 L388.27 747.14 L388.29 746.58 L388.31 746.02 L388.33 745.46 L388.35 744.9 L388.37 744.33 L388.39 743.76 L388.41 743.19 L388.44 742.62 L388.46 742.05 L388.48 741.48 L388.51 740.9 L388.53 740.33 L388.56 739.75 L388.59 739.18 L388.61 738.6 L388.64 738.03 L388.67 737.45 L388.7 736.88 L388.73 736.3 L388.76 735.73 L388.79 735.16 L388.82 734.59 L388.85 734.02 L388.88 733.45 L388.91 732.88 L388.95 732.32 L388.98 731.76 L389.02 731.21 L389.06 730.65 L389.09 730.1 L389.13 729.55 L389.17 729.01 L389.21 728.47 L389.25 727.94 L389.29 727.4 L389.33 726.88 L389.38 726.36 L389.42 725.84 L389.47 725.33 L389.51 724.83 L389.56 724.33 L389.61 723.84 L389.66 723.35 L389.71 722.87 L389.76 722.4 L389.82 721.93 L389.87 721.47 L389.93 721.02 L389.98 720.57 L390.04 720.14 L390.1 719.71 L390.16 719.29 L390.22 718.88 L390.29 718.47 L390.35 718.08 L390.42 717.69 L390.49 717.31 L390.56 716.94 L390.63 716.58 L390.7 716.23 L390.77 715.88 L390.85 715.55 L390.93 715.22 L391.01 714.91 L391.09 714.6 L391.17 714.3 L391.26 714.01 L391.34 713.73 L391.43 713.46 L391.52 713.2 L391.62 712.95 L391.71 712.71 L391.81 712.47 L391.91 712.25 L392.01 712.03 L392.11 711.82 L392.22 711.62 L392.33 711.43 L392.44 711.25 L392.55 711.07 L392.67 710.9 L392.78 710.75 L392.91 710.59 L393.03 710.45 L393.16 710.31 L393.29 710.18 L393.42 710.06 L393.55 709.94 L393.69 709.83 L393.83 709.73 L393.98 709.63 L394.13 709.54 L394.28 709.45 L394.43 709.37 L394.59 709.29 L394.75 709.22 L394.92 709.16 L395.09 709.1 L395.26 709.04 L395.44 708.99 L395.62 708.94 L395.8 708.89 L395.99 708.85 L396.18 708.81 L396.38 708.78 L396.58 708.74 L396.79 708.71 L397 708.69 L397.22 708.66 L397.44 708.64 L397.66 708.62 L397.9 708.6 L398.13 708.58 L398.37 708.57 L398.62 708.55 L398.87 708.54 L399.13 708.53 L399.39 708.52 L399.66 708.51 L399.94 708.5 L400.22 708.5 L400.51 708.49 L400.81 708.48 L401.11 708.48 L401.42 708.48 L401.73 708.47 L402.05 708.47 L402.38 708.47 L402.72 708.46 L403.07 708.46 L403.42 708.46 L403.78 708.46 L404.15 708.46 L404.52 708.46 L404.91 708.45 L405.3 708.45 L405.71 708.45 L406.12 708.45 L406.54 708.45 L406.97 708.45 L407.41 708.45 L407.86 708.45 L408.32 708.45 L408.79 708.45 L409.27 708.45 L409.77 708.45 L410.27 708.45 L410.78 708.45 L411.31 708.45 L411.85 708.45 L412.4 708.45 L412.96 708.45 L413.54 708.45 L414.12 708.45 L414.72 708.45 L415.34 708.45 L415.97 708.45 L416.61 708.45 L417.27 708.45 L417.94 708.45 L418.63 708.45 L419.33 708.45 L420.05 708.45 L420.78 708.45 L421.53 708.45 L422.3 708.45 L423.09 708.45 L423.89 708.45 L424.71 708.45 L425.55 708.45 L426.41 708.45 L427.29 708.45 L428.18 708.45 L429.1 708.45 L430.04 708.45 L431 708.45 L431.98 708.45 L432.98 708.45 L434.01 708.45 L435.06 708.45 L436.13 708.45 L437.23 708.45 L438.35 708.45" fill="none" stroke="#111" stroke-width="1.2" stroke-linejoin="round"/>
<line x1="387.5" y1="691.9" x2="387.5" y2="792" stroke="#222222" stroke-width="1"/>
<line x1="387" y1="791.5" x2="487.4" y2="791.5" stroke="#222222" stroke-width="1"/>
<line x1="384.4" y1="791.5" x2="387.5" y2="791.5" stroke="#222222" stroke-width="1"/>
<text transform="translate(379.8 794.37) scale(1.07 1)" font-size="8.8" text-anchor="end">0.0</text>
<line x1="384.4" y1="774.5" x2="387.5" y2="774.5" stroke="#222222" stroke-width="1"/>
<text transform="translate(379.8 777.82) scale(1.07 1)" font-size="8.8" text-anchor="end">0.2</text>
<line x1="384.4" y1="758.5" x2="387.5" y2="758.5" stroke="#222222" stroke-width="1"/>
<text transform="translate(379.8 761.27) scale(1.07 1)" font-size="8.8" text-anchor="end">0.4</text>
<line x1="384.4" y1="741.5" x2="387.5" y2="741.5" stroke="#222222" stroke-width="1"/>
<text transform="translate(379.8 744.72) scale(1.07 1)" font-size="8.8" text-anchor="end">0.6</text>
<line x1="384.4" y1="725.5" x2="387.5" y2="725.5" stroke="#222222" stroke-width="1"/>
<text transform="translate(379.8 728.17) scale(1.07 1)" font-size="8.8" text-anchor="end">0.8</text>
<line x1="384.4" y1="708.5" x2="387.5" y2="708.5" stroke="#222222" stroke-width="1"/>
<text transform="translate(379.8 711.62) scale(1.07 1)" font-size="8.8" text-anchor="end">1.0</text>
<line x1="384.4" y1="691.5" x2="387.5" y2="691.5" stroke="#222222" stroke-width="1"/>
<text transform="translate(379.8 695.07) scale(1.07 1)" font-size="8.8" text-anchor="end">1.2</text>
<line x1="387.5" y1="791.5" x2="387.5" y2="794.2" stroke="#222222" stroke-width="1"/>
<text transform="translate(387.4 805.57) scale(1.07 1)" font-size="8.8" text-anchor="middle">0</text>
<line x1="412.5" y1="791.5" x2="412.5" y2="794.2" stroke="#222222" stroke-width="1"/>
<text transform="translate(412.38 805.57) scale(1.07 1)" font-size="8.8" text-anchor="middle">5</text>
<line x1="437.5" y1="791.5" x2="437.5" y2="794.2" stroke="#222222" stroke-width="1"/>
<text transform="translate(437.35 805.57) scale(1.07 1)" font-size="8.8" text-anchor="middle">10</text>
<line x1="462.5" y1="791.5" x2="462.5" y2="794.2" stroke="#222222" stroke-width="1"/>
<text transform="translate(462.32 805.57) scale(1.07 1)" font-size="8.8" text-anchor="middle">15</text>
<line x1="487.5" y1="791.5" x2="487.5" y2="794.2" stroke="#222222" stroke-width="1"/>
<text transform="translate(487.3 805.57) scale(1.07 1)" font-size="8.8" text-anchor="middle">20</text>
<text transform="translate(437.2 687) scale(1.07 1)" font-size="9" text-anchor="middle">Thalamus</text>
<text transform="translate(437.2 818.2) scale(1.07 1)" font-size="9" text-anchor="middle">Interval (s)</text>
<text transform="translate(356.9 741.55) rotate(-90) scale(1.07 1)" font-size="9" text-anchor="middle">Cumulative probability</text>
<path d="M549.7 790.9 L549.74 789.08 L549.79 787.88 L549.83 786.86 L549.87 785.92 L549.91 785.06 L549.96 784.25 L550 783.49 L550.04 782.76 L550.09 782.06 L550.13 781.38 L550.17 780.73 L550.21 780.1 L550.26 779.49 L550.3 778.89 L550.34 778.31 L550.38 777.75 L550.43 777.2 L550.47 776.66 L550.51 776.13 L550.56 775.62 L550.6 775.11 L550.64 774.62 L550.68 774.13 L550.73 773.65 L550.77 773.18 L550.81 772.72 L550.86 772.27 L550.9 771.82 L550.94 771.39 L550.96 771.16 L550.99 770.92 L551.01 770.69 L551.03 770.45 L551.06 770.21 L551.08 769.97 L551.11 769.72 L551.14 769.48 L551.16 769.23 L551.19 768.98 L551.22 768.72 L551.24 768.47 L551.27 768.21 L551.3 767.95 L551.33 767.68 L551.36 767.42 L551.39 767.15 L551.42 766.88 L551.45 766.61 L551.49 766.33 L551.52 766.05 L551.55 765.77 L551.59 765.49 L551.62 765.21 L551.66 764.92 L551.69 764.63 L551.73 764.34 L551.77 764.04 L551.8 763.74 L551.84 763.44 L551.88 763.14 L551.92 762.84 L551.96 762.53 L552 762.22 L552.05 761.91 L552.09 761.59 L552.13 761.28 L552.18 760.96 L552.22 760.64 L552.27 760.31 L552.32 759.98 L552.37 759.66 L552.41 759.32 L552.46 758.99 L552.52 758.66 L552.57 758.32 L552.62 757.98 L552.67 757.63 L552.73 757.29 L552.78 756.94 L552.84 756.59 L552.9 756.24 L552.96 755.89 L553.02 755.53 L553.08 755.17 L553.14 754.81 L553.2 754.45 L553.27 754.08 L553.33 753.72 L553.4 753.35 L553.47 752.98 L553.54 752.6 L553.61 752.23 L553.68 751.85 L553.75 751.47 L553.83 751.09 L553.9 750.71 L553.98 750.33 L554.06 749.94 L554.14 749.55 L554.22 749.16 L554.3 748.77 L554.39 748.38 L554.47 747.99 L554.56 747.59 L554.65 747.19 L554.74 746.8 L554.83 746.4 L554.93 745.99 L555.02 745.59 L555.12 745.19 L555.22 744.78 L555.32 744.38 L555.42 743.97 L555.53 743.56 L555.64 743.16 L555.74 742.75 L555.86 742.34 L555.97 741.93 L556.08 741.51 L556.2 741.1 L556.32 740.69 L556.44 740.28 L556.57 739.86 L556.69 739.45 L556.82 739.03 L556.95 738.62 L557.08 738.21 L557.22 737.79 L557.36 737.38 L557.5 736.96 L557.64 736.55 L557.79 736.13 L557.94 735.72 L558.09 735.31 L558.24 734.9 L558.4 734.48 L558.56 734.07 L558.72 733.66 L558.89 733.25 L559.06 732.84 L559.23 732.44 L559.4 732.03 L559.58 731.62 L559.76 731.22 L559.95 730.82 L560.13 730.42 L560.33 730.02 L560.52 729.62 L560.72 729.22 L560.92 728.83 L561.13 728.43 L561.34 728.04 L561.55 727.65 L561.77 727.27 L561.99 726.88 L562.22 726.5 L562.45 726.12 L562.68 725.74 L562.92 725.37 L563.16 725 L563.41 724.63 L563.66 724.26 L563.92 723.9 L564.18 723.54 L564.44 723.18 L564.72 722.82 L564.99 722.47 L565.27 722.13 L565.56 721.78 L565.85 721.44 L566.15 721.1 L566.45 720.77 L566.75 720.44 L567.07 720.11 L567.39 719.79 L567.71 719.47 L568.04 719.16 L568.38 718.85 L568.72 718.54 L569.07 718.24 L569.43 717.94 L569.79 717.64 L570.16 717.35 L570.53 717.07 L570.92 716.79 L571.31 716.51 L571.7 716.24 L572.11 715.97 L572.52 715.71 L572.94 715.45 L573.36 715.19 L573.8 714.94 L574.24 714.7 L574.69 714.46 L575.15 714.22 L575.62 713.99 L576.09 713.76 L576.58 713.54 L577.07 713.32 L577.58 713.11 L578.09 712.9 L578.61 712.7 L579.14 712.5 L579.68 712.31 L580.23 712.12 L580.79 711.93 L581.36 711.75 L581.94 711.58 L582.54 711.41 L583.14 711.24 L583.75 711.08 L584.38 710.92 L585.01 710.77 L585.66 710.62 L586.32 710.48 L587 710.34 L587.68 710.2 L588.38 710.07 L589.09 709.94 L589.81 709.82 L590.55 709.7 L591.3 709.59 L592.06 709.47 L592.84 709.37 L593.63 709.26 L594.44 709.16 L595.26 709.07 L596.1 708.98 L596.95 708.89 L597.82 708.8 L598.7 708.72 L599.6 708.64 L600.52 708.56 L601.45 708.49 L602.4 708.42 L603.37 708.35 L604.35 708.29 L605.36 708.23 L606.38 708.17 L607.42 708.12 L608.48 708.06 L609.56 708.01 L610.66 707.97 L611.78 707.92 L612.92 707.88 L614.08 707.84 L615.26 707.8 L616.46 707.76 L617.69 707.72 L618.94 707.69 L620.21 707.66 L621.51 707.63 L622.82 707.6 L624.17 707.58 L625.53 707.55 L626.93 707.53 L628.34 707.51 L629.79 707.49 L631.26 707.47 L632.76 707.45 L634.28 707.43 L635.84 707.42 L637.42 707.4 L639.03 707.39 L640.67 707.38 L642.34 707.36 L644.04 707.35 L645.77 707.34" fill="none" stroke="#8c8c1a" stroke-width="1.3" stroke-linejoin="round"/>
<path d="M549.7 790.9 L549.74 789.42 L549.79 788.36 L549.83 787.43 L549.87 786.57 L549.91 785.77 L549.96 785.01 L550 784.28 L550.04 783.58 L550.09 782.91 L550.13 782.25 L550.17 781.62 L550.21 781.01 L550.26 780.41 L550.3 779.82 L550.34 779.25 L550.38 778.69 L550.43 778.14 L550.47 777.61 L550.51 777.08 L550.56 776.56 L550.6 776.06 L550.64 775.56 L550.68 775.07 L550.73 774.59 L550.77 774.11 L550.81 773.65 L550.86 773.19 L550.9 772.74 L550.94 772.29 L550.96 772.06 L550.99 771.83 L551.01 771.59 L551.03 771.36 L551.06 771.12 L551.08 770.88 L551.11 770.63 L551.13 770.38 L551.16 770.14 L551.18 769.88 L551.21 769.63 L551.24 769.37 L551.26 769.11 L551.29 768.85 L551.32 768.59 L551.35 768.32 L551.38 768.05 L551.41 767.78 L551.44 767.5 L551.47 767.23 L551.5 766.95 L551.54 766.67 L551.57 766.38 L551.6 766.09 L551.64 765.8 L551.67 765.51 L551.71 765.21 L551.74 764.92 L551.78 764.62 L551.82 764.31 L551.85 764.01 L551.89 763.7 L551.93 763.39 L551.97 763.07 L552.01 762.76 L552.05 762.44 L552.1 762.12 L552.14 761.79 L552.18 761.47 L552.23 761.14 L552.27 760.8 L552.32 760.47 L552.37 760.13 L552.41 759.79 L552.46 759.45 L552.51 759.11 L552.56 758.76 L552.61 758.41 L552.67 758.06 L552.72 757.7 L552.77 757.34 L552.83 756.98 L552.88 756.62 L552.94 756.26 L553 755.89 L553.06 755.52 L553.12 755.15 L553.18 754.78 L553.24 754.4 L553.31 754.02 L553.37 753.64 L553.44 753.26 L553.5 752.87 L553.57 752.49 L553.64 752.1 L553.71 751.71 L553.78 751.31 L553.86 750.92 L553.93 750.52 L554.01 750.12 L554.09 749.72 L554.16 749.32 L554.24 748.91 L554.33 748.51 L554.41 748.1 L554.49 747.69 L554.58 747.28 L554.67 746.87 L554.76 746.45 L554.85 746.04 L554.94 745.62 L555.03 745.2 L555.13 744.78 L555.23 744.36 L555.32 743.94 L555.43 743.52 L555.53 743.1 L555.63 742.67 L555.74 742.25 L555.85 741.82 L555.96 741.39 L556.07 740.97 L556.18 740.54 L556.3 740.11 L556.42 739.68 L556.54 739.25 L556.66 738.82 L556.79 738.39 L556.91 737.96 L557.04 737.54 L557.17 737.11 L557.31 736.68 L557.45 736.25 L557.58 735.82 L557.73 735.39 L557.87 734.96 L558.02 734.54 L558.17 734.11 L558.32 733.68 L558.47 733.26 L558.63 732.84 L558.79 732.41 L558.95 731.99 L559.12 731.57 L559.29 731.15 L559.46 730.74 L559.63 730.32 L559.81 729.91 L559.99 729.49 L560.18 729.08 L560.37 728.68 L560.56 728.27 L560.75 727.87 L560.95 727.46 L561.15 727.06 L561.36 726.67 L561.57 726.27 L561.78 725.88 L562 725.49 L562.22 725.1 L562.44 724.72 L562.67 724.34 L562.9 723.96 L563.14 723.59 L563.38 723.22 L563.62 722.85 L563.87 722.49 L564.13 722.13 L564.39 721.77 L564.65 721.42 L564.92 721.07 L565.19 720.72 L565.47 720.38 L565.75 720.04 L566.04 719.71 L566.33 719.38 L566.63 719.06 L566.94 718.73 L567.24 718.42 L567.56 718.11 L567.88 717.8 L568.21 717.5 L568.54 717.2 L568.88 716.9 L569.22 716.62 L569.57 716.33 L569.93 716.05 L570.29 715.78 L570.66 715.51 L571.03 715.24 L571.42 714.98 L571.81 714.73 L572.2 714.48 L572.61 714.23 L573.02 713.99 L573.44 713.76 L573.86 713.53 L574.29 713.31 L574.74 713.09 L575.18 712.87 L575.64 712.66 L576.11 712.46 L576.58 712.26 L577.06 712.06 L577.55 711.87 L578.05 711.69 L578.56 711.51 L579.08 711.33 L579.61 711.16 L580.14 711 L580.69 710.84 L581.24 710.68 L581.81 710.53 L582.39 710.38 L582.97 710.24 L583.57 710.1 L584.18 709.97 L584.79 709.84 L585.42 709.72 L586.06 709.6 L586.72 709.48 L587.38 709.37 L588.06 709.26 L588.74 709.16 L589.44 709.06 L590.16 708.97 L590.88 708.87 L591.62 708.79 L592.37 708.7 L593.14 708.62 L593.92 708.54 L594.71 708.47 L595.52 708.4 L596.34 708.33 L597.18 708.26 L598.03 708.2 L598.89 708.14 L599.78 708.09 L600.67 708.03 L601.59 707.98 L602.52 707.94 L603.47 707.89 L604.43 707.85 L605.41 707.81 L606.41 707.77 L607.43 707.73 L608.46 707.7 L609.52 707.66 L610.59 707.63 L611.68 707.6 L612.8 707.58 L613.93 707.55 L615.08 707.53 L616.25 707.5 L617.44 707.48 L618.66 707.46 L619.9 707.45 L621.16 707.43 L622.44 707.41 L623.74 707.4 L625.07 707.38 L626.42 707.37 L627.8 707.36 L629.2 707.35 L630.62 707.34 L632.08 707.33 L633.55 707.32 L635.06 707.31 L636.59 707.3" fill="none" stroke="#111" stroke-width="1.2" stroke-linejoin="round"/>
<line x1="549.5" y1="690.5" x2="549.5" y2="791" stroke="#222222" stroke-width="1"/>
<line x1="549" y1="790.5" x2="649" y2="790.5" stroke="#222222" stroke-width="1"/>
<line x1="546.7" y1="790.5" x2="549.5" y2="790.5" stroke="#222222" stroke-width="1"/>
<text transform="translate(542.1 794.07) scale(1.07 1)" font-size="8.8" text-anchor="end">0.0</text>
<line x1="546.7" y1="774.5" x2="549.5" y2="774.5" stroke="#222222" stroke-width="1"/>
<text transform="translate(542.1 777.33) scale(1.07 1)" font-size="8.8" text-anchor="end">0.2</text>
<line x1="546.7" y1="757.5" x2="549.5" y2="757.5" stroke="#222222" stroke-width="1"/>
<text transform="translate(542.1 760.6) scale(1.07 1)" font-size="8.8" text-anchor="end">0.4</text>
<line x1="546.7" y1="740.5" x2="549.5" y2="740.5" stroke="#222222" stroke-width="1"/>
<text transform="translate(542.1 743.87) scale(1.07 1)" font-size="8.8" text-anchor="end">0.6</text>
<line x1="546.7" y1="723.5" x2="549.5" y2="723.5" stroke="#222222" stroke-width="1"/>
<text transform="translate(542.1 727.13) scale(1.07 1)" font-size="8.8" text-anchor="end">0.8</text>
<line x1="546.7" y1="707.5" x2="549.5" y2="707.5" stroke="#222222" stroke-width="1"/>
<text transform="translate(542.1 710.4) scale(1.07 1)" font-size="8.8" text-anchor="end">1.0</text>
<line x1="546.7" y1="690.5" x2="549.5" y2="690.5" stroke="#222222" stroke-width="1"/>
<text transform="translate(542.1 693.67) scale(1.07 1)" font-size="8.8" text-anchor="end">1.2</text>
<line x1="549.5" y1="790.5" x2="549.5" y2="793.9" stroke="#222222" stroke-width="1"/>
<text transform="translate(549.7 805.27) scale(1.07 1)" font-size="8.8" text-anchor="middle">0</text>
<line x1="574.5" y1="790.5" x2="574.5" y2="793.9" stroke="#222222" stroke-width="1"/>
<text transform="translate(574.53 805.27) scale(1.07 1)" font-size="8.8" text-anchor="middle">1</text>
<line x1="599.5" y1="790.5" x2="599.5" y2="793.9" stroke="#222222" stroke-width="1"/>
<text transform="translate(599.35 805.27) scale(1.07 1)" font-size="8.8" text-anchor="middle">2</text>
<line x1="624.5" y1="790.5" x2="624.5" y2="793.9" stroke="#222222" stroke-width="1"/>
<text transform="translate(624.18 805.27) scale(1.07 1)" font-size="8.8" text-anchor="middle">3</text>
<line x1="649.5" y1="790.5" x2="649.5" y2="793.9" stroke="#222222" stroke-width="1"/>
<text transform="translate(649 805.27) scale(1.07 1)" font-size="8.8" text-anchor="middle">4</text>
<text transform="translate(599.1 687) scale(1.07 1)" font-size="9" text-anchor="middle">nRT</text>
<text transform="translate(599.1 818.2) scale(1.07 1)" font-size="9" text-anchor="middle">Interval (s)</text>
<text transform="translate(523.7 740.7) rotate(-90) scale(1.07 1)" font-size="9" text-anchor="middle">Cumulative probability</text>
<path d="M394.7 941.5 L394.7 917 L415.9 917 L415.9 941.5" fill="none" stroke="#111" stroke-width="1.2" stroke-linejoin="round"/>
<path d="M427.5 941.5 L427.5 936 L449.1 936 L449.1 941.5" fill="none" stroke="#8c8c1a" stroke-width="1.2" stroke-linejoin="round"/>
<circle cx="405.5" cy="867.7" r="1.55" fill="#111"/>
<circle cx="405.5" cy="889.5" r="1.55" fill="#111"/>
<circle cx="405.5" cy="901.3" r="1.55" fill="#111"/>
<circle cx="400.7" cy="910.8" r="1.55" fill="#111"/>
<circle cx="407.4" cy="909.8" r="1.55" fill="#111"/>
<circle cx="402.6" cy="913.2" r="1.55" fill="#111"/>
<circle cx="408.3" cy="914.2" r="1.55" fill="#111"/>
<circle cx="405.5" cy="918.9" r="1.55" fill="#111"/>
<circle cx="400.7" cy="922.7" r="1.55" fill="#111"/>
<circle cx="409.3" cy="918.9" r="1.55" fill="#111"/>
<circle cx="404.5" cy="923.7" r="1.55" fill="#111"/>
<circle cx="407.4" cy="924.6" r="1.55" fill="#111"/>
<circle cx="398.8" cy="933.2" r="1.55" fill="#111"/>
<circle cx="412.1" cy="930.3" r="1.55" fill="#111"/>
<circle cx="402.6" cy="934.7" r="1.55" fill="#111"/>
<circle cx="407.4" cy="933.5" r="1.55" fill="#111"/>
<circle cx="436.1" cy="922.3" r="1.55" fill="#8c8c1a"/>
<circle cx="440.6" cy="922.9" r="1.55" fill="#8c8c1a"/>
<circle cx="438.4" cy="928.8" r="1.55" fill="#8c8c1a"/>
<circle cx="429.2" cy="932.4" r="1.55" fill="#8c8c1a"/>
<circle cx="447.5" cy="933.4" r="1.55" fill="#8c8c1a"/>
<circle cx="433" cy="934.3" r="1.55" fill="#8c8c1a"/>
<circle cx="443.7" cy="935.1" r="1.55" fill="#8c8c1a"/>
<circle cx="436.4" cy="935.1" r="1.55" fill="#8c8c1a"/>
<circle cx="439.9" cy="935.7" r="1.55" fill="#8c8c1a"/>
<circle cx="431" cy="938.3" r="1.55" fill="#8c8c1a"/>
<circle cx="434" cy="939.3" r="1.55" fill="#8c8c1a"/>
<circle cx="437" cy="938.6" r="1.55" fill="#8c8c1a"/>
<circle cx="440" cy="939.4" r="1.55" fill="#8c8c1a"/>
<circle cx="443" cy="938.6" r="1.55" fill="#8c8c1a"/>
<circle cx="446" cy="939" r="1.55" fill="#8c8c1a"/>
<circle cx="432" cy="940.5" r="1.55" fill="#8c8c1a"/>
<circle cx="436" cy="941" r="1.55" fill="#8c8c1a"/>
<circle cx="440" cy="940.8" r="1.55" fill="#8c8c1a"/>
<circle cx="444" cy="940.5" r="1.55" fill="#8c8c1a"/>
<circle cx="429.5" cy="939.5" r="1.55" fill="#8c8c1a"/>
<circle cx="447.5" cy="939.8" r="1.55" fill="#8c8c1a"/>
<line x1="405.3" y1="912.7" x2="405.3" y2="921.6" stroke="#111" stroke-width="1.2"/>
<line x1="399.8" y1="912.7" x2="410.8" y2="912.7" stroke="#111" stroke-width="1.2"/>
<line x1="399.8" y1="921.6" x2="410.8" y2="921.6" stroke="#111" stroke-width="1.2"/>
<line x1="438.3" y1="933.2" x2="438.3" y2="938.8" stroke="#8c8c1a" stroke-width="1.2"/>
<line x1="432.8" y1="933.2" x2="443.8" y2="933.2" stroke="#8c8c1a" stroke-width="1.2"/>
<line x1="432.8" y1="938.8" x2="443.8" y2="938.8" stroke="#8c8c1a" stroke-width="1.2"/>
<line x1="386.5" y1="842.09" x2="386.5" y2="941.5" stroke="#222222" stroke-width="1"/>
<line x1="383.9" y1="941.5" x2="386.5" y2="941.5" stroke="#222222" stroke-width="1"/>
<text transform="translate(379.9 944.47) scale(1.07 1)" font-size="8.8" text-anchor="end">0</text>
<line x1="383.9" y1="908.5" x2="386.5" y2="908.5" stroke="#222222" stroke-width="1"/>
<text transform="translate(379.9 911.4) scale(1.07 1)" font-size="8.8" text-anchor="end">5</text>
<line x1="383.9" y1="875.5" x2="386.5" y2="875.5" stroke="#222222" stroke-width="1"/>
<text transform="translate(379.9 878.33) scale(1.07 1)" font-size="8.8" text-anchor="end">10</text>
<line x1="383.9" y1="842.5" x2="386.5" y2="842.5" stroke="#222222" stroke-width="1"/>
<text transform="translate(379.9 845.26) scale(1.07 1)" font-size="8.8" text-anchor="end">15</text>
<line x1="386" y1="941.5" x2="455.4" y2="941.5" stroke="#222222" stroke-width="1"/>
<line x1="405.5" y1="941.5" x2="405.5" y2="944.3" stroke="#222222" stroke-width="1"/>
<line x1="438.5" y1="941.5" x2="438.5" y2="944.3" stroke="#222222" stroke-width="1"/>
<path d="M405.5 847.8 L405.5 843.5 L438.5 843.5 L438.5 847.8" fill="none" stroke="#6a6a6a" stroke-width="0.9" stroke-linejoin="round"/>
<text transform="translate(421.9 843.5) scale(1.07 1)" font-size="9.2" text-anchor="middle">***</text>
<text transform="translate(364.5 892) rotate(-90) scale(1.07 1)" font-size="9" text-anchor="middle">mIPSC frequency (Hz)</text>
<text transform="translate(405.3 955.8) scale(1.07 1)" font-size="9" text-anchor="middle">WT</text>
<text transform="translate(439.3 955.8) scale(1.07 1)" font-size="9" text-anchor="middle">NLG2 KO</text>
<path d="M556 941.5 L556 905.6 L577.8 905.6 L577.8 941.5" fill="none" stroke="#111" stroke-width="1.2" stroke-linejoin="round"/>
<path d="M589.4 941.5 L589.4 910.4 L611 910.4 L611 941.5" fill="none" stroke="#8c8c1a" stroke-width="1.2" stroke-linejoin="round"/>
<circle cx="566.8" cy="857.6" r="1.55" fill="#111"/>
<circle cx="566.8" cy="893.7" r="1.55" fill="#111"/>
<circle cx="566.8" cy="901.9" r="1.55" fill="#111"/>
<circle cx="564.5" cy="908.1" r="1.55" fill="#111"/>
<circle cx="568.7" cy="908.9" r="1.55" fill="#111"/>
<circle cx="560.3" cy="919.3" r="1.55" fill="#111"/>
<circle cx="564.5" cy="922.7" r="1.55" fill="#111"/>
<circle cx="568.7" cy="920.8" r="1.55" fill="#111"/>
<circle cx="573.1" cy="918.5" r="1.55" fill="#111"/>
<circle cx="600" cy="855" r="1.55" fill="#8c8c1a"/>
<circle cx="600" cy="870.5" r="1.55" fill="#8c8c1a"/>
<circle cx="597.7" cy="908.1" r="1.55" fill="#8c8c1a"/>
<circle cx="602.5" cy="910.4" r="1.55" fill="#8c8c1a"/>
<circle cx="602.5" cy="917" r="1.55" fill="#8c8c1a"/>
<circle cx="595.3" cy="919.3" r="1.55" fill="#8c8c1a"/>
<circle cx="597.7" cy="923.3" r="1.55" fill="#8c8c1a"/>
<circle cx="604" cy="922.7" r="1.55" fill="#8c8c1a"/>
<circle cx="602.5" cy="929" r="1.55" fill="#8c8c1a"/>
<circle cx="597.7" cy="933.5" r="1.55" fill="#8c8c1a"/>
<line x1="566.9" y1="899" x2="566.9" y2="912.7" stroke="#111" stroke-width="1.2"/>
<line x1="561.4" y1="899" x2="572.4" y2="899" stroke="#111" stroke-width="1.2"/>
<line x1="561.4" y1="912.7" x2="572.4" y2="912.7" stroke="#111" stroke-width="1.2"/>
<line x1="600.2" y1="903.2" x2="600.2" y2="918" stroke="#8c8c1a" stroke-width="1.2"/>
<line x1="594.7" y1="903.2" x2="605.7" y2="903.2" stroke="#8c8c1a" stroke-width="1.2"/>
<line x1="594.7" y1="918" x2="605.7" y2="918" stroke="#8c8c1a" stroke-width="1.2"/>
<line x1="550.5" y1="841.5" x2="550.5" y2="941.5" stroke="#222222" stroke-width="1"/>
<line x1="547.3" y1="941.5" x2="550.5" y2="941.5" stroke="#222222" stroke-width="1"/>
<text transform="translate(543.3 944.47) scale(1.07 1)" font-size="8.8" text-anchor="end">0</text>
<line x1="547.3" y1="916.5" x2="550.5" y2="916.5" stroke="#222222" stroke-width="1"/>
<text transform="translate(543.3 919.52) scale(1.07 1)" font-size="8.8" text-anchor="end">2</text>
<line x1="547.3" y1="891.5" x2="550.5" y2="891.5" stroke="#222222" stroke-width="1"/>
<text transform="translate(543.3 894.57) scale(1.07 1)" font-size="8.8" text-anchor="end">4</text>
<line x1="547.3" y1="866.5" x2="550.5" y2="866.5" stroke="#222222" stroke-width="1"/>
<text transform="translate(543.3 869.62) scale(1.07 1)" font-size="8.8" text-anchor="end">6</text>
<line x1="547.3" y1="841.5" x2="550.5" y2="841.5" stroke="#222222" stroke-width="1"/>
<text transform="translate(543.3 844.67) scale(1.07 1)" font-size="8.8" text-anchor="end">8</text>
<line x1="550" y1="941.5" x2="616.7" y2="941.5" stroke="#222222" stroke-width="1"/>
<line x1="566.5" y1="941.5" x2="566.5" y2="944.3" stroke="#222222" stroke-width="1"/>
<line x1="600.5" y1="941.5" x2="600.5" y2="944.3" stroke="#222222" stroke-width="1"/>
<path d="M566.5 847 L566.5 842.5 L600.5 842.5 L600.5 847" fill="none" stroke="#6a6a6a" stroke-width="0.9" stroke-linejoin="round"/>
<text transform="translate(583.2 840.2) scale(1.07 1)" font-size="8.8" text-anchor="middle">ns</text>
<text transform="translate(529 891.4) rotate(-90) scale(1.07 1)" font-size="9" text-anchor="middle">mIPSC frequency (Hz)</text>
<text transform="translate(566.9 955.8) scale(1.07 1)" font-size="9" text-anchor="middle">WT</text>
<text transform="translate(601.2 955.8) scale(1.07 1)" font-size="9" text-anchor="middle">NLG2 KO</text>
</svg>
</body></html>
